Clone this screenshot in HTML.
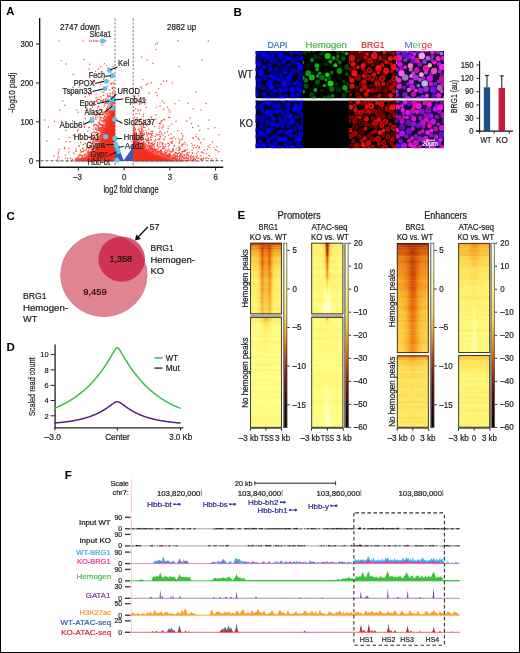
<!DOCTYPE html>
<html><head><meta charset="utf-8"><style>
html,body{margin:0;padding:0;background:#fff;}
body{width:520px;height:653px;overflow:hidden;}
svg{display:block;font-family:"Liberation Sans", sans-serif;will-change:transform;}
</style></head><body>
<svg width="520" height="653" viewBox="0 0 520 653">
<rect x="0" y="0" width="520" height="653" fill="#fff"/>
<text x="6.3" y="15.2" font-size="11.2" fill="#000" font-weight="bold">A</text>
<defs><clipPath id="cpA"><rect x="40.5" y="18" width="183" height="148.5"/></clipPath></defs>
<g clip-path="url(#cpA)">
<line x1="115" y1="18.5" x2="115" y2="166.5" stroke="#777" stroke-width="1" stroke-dasharray="2.2 1.6"/>
<line x1="133.2" y1="18.5" x2="133.2" y2="166.5" stroke="#777" stroke-width="1" stroke-dasharray="2.2 1.6"/>
<defs><filter id="fblA" x="-20%" y="-20%" width="140%" height="140%"><feGaussianBlur stdDeviation="1.6"/></filter><clipPath id="cpAL"><rect x="40" y="18" width="75.2" height="143.6"/></clipPath><clipPath id="cpAR"><rect x="133.1" y="18" width="90" height="143.6"/></clipPath></defs>
<g clip-path="url(#cpAL)"><g filter="url(#fblA)">
<path d="M77 161.5 L85 157.5 L92 152.5 L97.5 147.5 L101 140.5 L103 131.5 L105 123.5 L107.5 117.5 L110 112.5 L113 108.5 L115.6 105.5 L114.6 100 L120 100 L120 165 L70 165 Z" fill="#f52d1e"/>
</g></g>
<g clip-path="url(#cpAR)"><g filter="url(#fblA)">
<path d="M128 165 L128 128 L133.5 128 L135 139.5 L140 144.5 L148 149 L157 153 L167 156.5 L176 159.5 L183 162 L184 165 Z" fill="#f52d1e"/>
</g></g>
<path d="M98.2 126.8h0M99.8 113.2h0M81.8 155.4h0M99.5 142.3h0M79.0 160.4h0M103.5 139.0h0M90.6 155.3h0M110.7 113.1h0M109.5 117.6h0M105.7 103.2h0M99.5 120.0h0M111.0 100.6h0M83.3 158.5h0M107.2 117.5h0M105.8 100.5h0M108.4 111.9h0M100.2 117.1h0M82.8 148.8h0M110.2 112.8h0M100.9 137.6h0M86.1 155.6h0M111.9 111.3h0M104.0 120.6h0M64.5 147.1h0M99.8 114.7h0M106.1 112.5h0M105.0 121.3h0M48.5 126.9h0M102.3 124.6h0M93.5 148.1h0M96.9 149.8h0M107.2 126.9h0M103.2 124.6h0M94.2 152.4h0M113.9 100.9h0M97.8 134.0h0M76.7 159.5h0M99.4 99.5h0M105.5 121.9h0M112.6 112.3h0M58.5 152.0h0M102.2 126.9h0M103.7 140.5h0M96.8 145.8h0M100.2 124.7h0M88.5 156.1h0M111.2 102.8h0M111.7 97.3h0M109.8 106.8h0M105.8 125.2h0M86.8 158.0h0M84.1 155.7h0M54.5 121.3h0M77.4 130.4h0M102.1 127.5h0M97.9 140.4h0M95.1 141.0h0M101.3 133.2h0M89.4 152.3h0M112.0 110.9h0M106.4 119.9h0M114.0 98.6h0M91.1 152.6h0M96.8 148.0h0M104.0 137.8h0M85.9 108.3h0M104.6 133.8h0M95.6 129.0h0M93.7 140.9h0M83.2 148.2h0M111.4 99.3h0M96.5 134.4h0M101.3 117.9h0M109.0 118.7h0M96.0 150.8h0M113.5 99.3h0M105.3 103.1h0M78.5 157.9h0M96.7 130.3h0M106.5 129.1h0M112.8 112.2h0M107.8 96.3h0M95.4 137.9h0M91.1 149.4h0M114.6 95.8h0M106.8 114.0h0M110.6 118.6h0M72.9 126.7h0M82.7 158.6h0M100.2 117.9h0M92.4 152.3h0M85.7 150.3h0M85.4 118.6h0M92.8 151.4h0M93.3 103.6h0M107.2 103.4h0M90.9 155.4h0M113.2 82.8h0M78.2 155.6h0M111.0 116.4h0M104.4 125.0h0M100.6 132.0h0M112.6 108.3h0M105.1 113.2h0M100.1 144.7h0M107.7 123.1h0M100.8 143.4h0M82.5 156.2h0M72.3 159.2h0M110.0 113.0h0M111.9 106.7h0M89.2 148.5h0M107.0 115.0h0M95.9 119.2h0M105.5 76.6h0M84.6 126.3h0M101.4 142.8h0M106.0 110.7h0M105.7 128.9h0M100.1 116.7h0M108.5 110.8h0M107.4 99.9h0M104.7 132.1h0M106.7 123.2h0M107.2 116.9h0M86.3 110.4h0M93.8 126.0h0M107.6 106.8h0M93.3 149.1h0M86.5 149.3h0M96.0 127.6h0M87.0 107.7h0M92.3 151.9h0M91.1 147.4h0M86.8 146.7h0M61.3 121.2h0M99.4 123.5h0M105.3 120.4h0M101.3 137.5h0M110.8 110.0h0M103.0 131.9h0M113.9 111.0h0M109.2 100.2h0M81.9 151.5h0M77.5 159.0h0M103.9 92.2h0M96.8 101.4h0M100.3 139.3h0M66.2 141.6h0M103.8 126.2h0M101.3 130.2h0M100.6 144.1h0M64.8 105.2h0M104.3 112.6h0M104.7 111.5h0M97.6 150.2h0M102.4 125.8h0M91.0 151.9h0M68.8 152.0h0M99.7 124.8h0M93.6 121.2h0M90.4 154.2h0M98.2 125.6h0M91.6 109.6h0M95.2 146.7h0M103.0 136.1h0M103.0 117.9h0M93.0 139.3h0M107.4 114.0h0M110.6 101.8h0M74.8 161.1h0M102.6 134.4h0M84.7 155.1h0M112.2 105.1h0M110.7 112.2h0M100.7 141.9h0M98.4 106.4h0M110.5 100.1h0M59.2 149.4h0M107.2 122.3h0M80.6 152.1h0M114.2 109.7h0M102.0 137.5h0M92.2 150.3h0M101.2 117.9h0M108.7 119.1h0M77.0 159.9h0M105.2 137.9h0M87.8 154.0h0M107.2 128.4h0M99.1 138.3h0M103.9 132.7h0M110.5 96.4h0M65.8 130.4h0M107.5 123.0h0M104.6 139.6h0M89.1 155.5h0M105.7 113.8h0M96.0 144.2h0M91.9 153.1h0M83.5 144.5h0M107.1 111.2h0M95.1 149.6h0M114.0 109.7h0M110.2 93.2h0M98.1 134.0h0M107.9 115.6h0M103.8 101.1h0M105.7 116.7h0M113.8 83.8h0M99.2 114.8h0M110.6 105.2h0M88.6 151.9h0M103.8 122.3h0M92.9 146.4h0M96.0 132.6h0M98.6 128.4h0M110.6 113.1h0M95.2 132.5h0M101.6 129.4h0M111.2 107.8h0M109.4 114.0h0M80.2 158.6h0M93.8 124.9h0M109.4 115.6h0M105.5 122.1h0M74.1 153.6h0M107.4 120.4h0M103.0 112.7h0M84.9 157.5h0M82.8 157.3h0M98.6 139.0h0M98.9 129.1h0M75.8 158.2h0M82.9 151.7h0M90.3 147.3h0M100.6 139.1h0M88.5 151.7h0M93.1 141.4h0M110.8 109.7h0M101.3 124.6h0M87.4 157.1h0M106.8 131.2h0M102.5 112.8h0M104.1 137.6h0M101.3 134.9h0M104.5 138.8h0M95.2 128.1h0M104.5 133.1h0M98.1 125.3h0M100.8 137.4h0M111.1 107.4h0M110.1 105.3h0M112.5 113.0h0M73.4 135.5h0M112.0 101.5h0M113.7 90.2h0M105.8 113.1h0M90.7 152.6h0M95.7 117.5h0M102.6 121.1h0M99.2 127.5h0M91.2 94.1h0M91.9 153.6h0M94.6 103.5h0M108.8 96.0h0M70.3 158.4h0M106.1 124.7h0M114.8 108.9h0M91.0 92.4h0M98.7 122.9h0M82.3 159.7h0M102.7 121.1h0M91.2 119.0h0M73.4 153.1h0M83.9 102.9h0M75.3 159.8h0M58.6 156.7h0M101.1 100.3h0M80.6 150.2h0M95.5 150.8h0M107.1 122.1h0M101.1 130.4h0M108.5 104.8h0M93.0 122.2h0M111.8 104.1h0M88.1 152.0h0M98.9 122.2h0M103.4 129.1h0M99.8 90.0h0M102.8 124.4h0M107.6 125.4h0M94.6 104.7h0M102.1 144.4h0M92.0 139.6h0M80.7 142.2h0M57.6 158.9h0M102.0 140.1h0M99.6 142.4h0M100.5 135.5h0M108.3 101.3h0M101.7 134.2h0M100.4 131.3h0M89.4 94.8h0M105.9 121.0h0M106.4 108.7h0M111.9 114.5h0M97.2 139.3h0M105.2 120.9h0M88.3 157.0h0M106.9 121.9h0M104.5 119.4h0M107.9 123.3h0M101.6 128.9h0M70.1 141.4h0M106.2 111.6h0M94.8 132.6h0M96.8 132.3h0M87.2 152.0h0M105.4 116.7h0M93.7 132.0h0M103.8 101.8h0M107.7 110.5h0M102.5 82.2h0M113.8 102.5h0M106.5 98.5h0M100.7 128.9h0M59.3 161.1h0M108.3 116.2h0M103.4 121.6h0M102.4 140.3h0M104.9 130.5h0M103.6 139.7h0M108.3 112.5h0M111.3 97.0h0M78.6 159.8h0M110.1 83.9h0M113.1 66.5h0M89.7 64.2h0M104.9 134.7h0M103.1 130.3h0M105.8 117.8h0M103.6 129.1h0M69.3 137.5h0M99.1 130.5h0M86.3 123.2h0M98.8 133.5h0M111.8 111.2h0M112.9 101.3h0M105.8 111.9h0M79.2 160.7h0M92.5 153.2h0M104.6 128.8h0M111.1 104.5h0M108.1 97.8h0M106.2 127.8h0M92.3 148.3h0M113.6 109.7h0M102.0 132.6h0M88.9 93.5h0M93.4 81.5h0M104.1 128.9h0M78.9 159.0h0M113.9 100.8h0M107.5 81.0h0M88.6 151.2h0M100.7 127.8h0M97.5 144.8h0M58.7 139.1h0M104.7 139.0h0M97.8 134.2h0M98.0 137.2h0M107.5 101.5h0M78.0 160.4h0M107.8 108.0h0M94.5 81.7h0M99.3 148.5h0M106.7 124.0h0M90.6 151.4h0M110.7 111.8h0M104.3 120.4h0M103.1 132.0h0M108.0 119.2h0M105.6 132.0h0M106.3 126.1h0M95.2 124.2h0M90.7 137.5h0M102.7 143.6h0M89.4 155.9h0M95.2 150.0h0M114.3 95.9h0M83.5 122.2h0M107.2 113.4h0M99.0 139.8h0M101.5 133.0h0M88.7 152.3h0M101.9 124.7h0M97.7 117.6h0M82.5 158.6h0M76.4 151.2h0M46.9 140.9h0M111.3 83.1h0M109.8 111.0h0M101.5 135.0h0M111.3 105.8h0M65.2 155.1h0M98.2 130.3h0M113.4 109.7h0M109.6 111.5h0M91.6 154.7h0M103.3 135.8h0M93.6 118.7h0M83.8 150.9h0M110.9 107.5h0M101.9 130.0h0M107.5 106.4h0M104.6 104.1h0M99.8 141.9h0M106.4 127.2h0M102.8 135.7h0M98.4 127.2h0M95.4 144.8h0M67.6 158.8h0M114.2 106.8h0M102.1 132.6h0M101.5 145.4h0M112.7 106.4h0M110.6 103.2h0M94.5 80.5h0M108.7 124.3h0M99.4 136.7h0M104.8 133.8h0M112.9 100.2h0M100.9 96.7h0M101.8 144.6h0M112.8 110.8h0M94.3 151.7h0M105.7 112.9h0M94.9 124.7h0M111.5 115.8h0M107.3 118.1h0M112.4 108.6h0M113.2 101.1h0M88.3 155.2h0M104.4 141.0h0M97.7 136.2h0M108.7 123.6h0M100.7 125.1h0M76.2 148.7h0M113.1 109.3h0M108.1 121.3h0M82.0 138.0h0M87.0 86.1h0M109.0 113.2h0M102.0 134.6h0M106.5 119.2h0M96.7 143.4h0M113.2 101.0h0M88.5 152.9h0M93.0 150.9h0M76.9 110.0h0M104.5 132.6h0M107.9 126.8h0M99.4 135.7h0M89.2 153.9h0M104.6 138.7h0M101.7 131.9h0M105.9 128.0h0M102.3 137.6h0M99.3 122.3h0M87.8 152.1h0M68.9 148.8h0M109.3 112.8h0M102.5 143.1h0M102.2 142.6h0M96.3 151.7h0M80.0 155.4h0M109.1 122.6h0M86.6 156.9h0M96.7 140.7h0M103.5 117.7h0M111.8 104.4h0M102.5 141.4h0M108.1 117.9h0M103.1 125.5h0M96.8 146.4h0M100.8 145.0h0M110.0 108.7h0M103.3 99.7h0M90.3 139.9h0M105.5 135.6h0M92.2 153.7h0M96.9 111.8h0M103.4 120.1h0M79.7 154.3h0M81.1 155.2h0M71.4 160.6h0M93.0 152.3h0M79.8 160.0h0M106.0 124.2h0M87.5 144.2h0M97.0 141.7h0M71.8 161.1h0M103.6 79.2h0M99.3 143.0h0M105.0 115.6h0M110.4 116.6h0M89.0 156.5h0M98.4 133.6h0M94.5 146.0h0M96.0 148.0h0M101.7 127.0h0M100.2 136.2h0M88.8 153.9h0M111.9 107.6h0M102.3 142.4h0M112.4 104.8h0M107.9 110.1h0M96.1 124.7h0M108.0 101.7h0M82.8 148.8h0M90.2 146.2h0M102.3 127.8h0M106.0 87.8h0M103.9 117.5h0M102.1 100.4h0M96.7 100.6h0M111.5 110.6h0M102.8 127.5h0M80.6 158.9h0M94.7 152.4h0M103.9 135.2h0M89.7 153.8h0M88.9 136.9h0M79.0 156.7h0M59.7 110.2h0M91.5 93.9h0M87.7 154.4h0M97.2 126.0h0M93.3 151.1h0M86.1 155.4h0M101.3 139.4h0M103.7 114.2h0M92.6 152.1h0M95.4 139.4h0M109.6 115.9h0M82.6 159.0h0M93.2 129.3h0M99.9 140.8h0M78.2 159.4h0M108.3 67.6h0M78.3 112.2h0M85.2 143.3h0M103.2 118.1h0M90.4 118.0h0M108.3 117.6h0M107.7 95.8h0M99.0 135.9h0M97.1 128.7h0M102.5 115.1h0M102.8 101.8h0M97.7 147.9h0M103.6 129.5h0M107.5 101.8h0M89.8 155.0h0M62.8 100.7h0M93.9 153.4h0M101.9 128.8h0M109.3 113.4h0M92.6 152.2h0M98.7 137.2h0M105.9 135.3h0M87.6 144.3h0M113.2 96.8h0M89.8 146.8h0M92.4 150.0h0M111.0 112.1h0M110.9 112.0h0M104.7 121.2h0M102.7 141.7h0M98.1 137.7h0M104.3 116.9h0M96.6 100.3h0M105.7 118.4h0M101.3 136.5h0M85.8 157.6h0M108.6 122.9h0M101.8 120.9h0M93.3 143.1h0M92.3 132.6h0M102.8 142.0h0M108.4 112.6h0M112.8 93.9h0M91.4 149.9h0M111.2 100.2h0M58.3 153.8h0M100.4 129.9h0M111.2 113.9h0M109.7 115.7h0M88.9 141.8h0M78.4 130.1h0M95.3 147.8h0M85.8 158.2h0M112.8 96.5h0M93.3 148.0h0M94.7 143.0h0M101.2 140.4h0M102.5 143.4h0M112.6 102.3h0M91.4 121.7h0M103.8 135.7h0M92.8 137.6h0M95.7 104.6h0M110.1 106.1h0M44.6 120.0h0M94.1 121.0h0M104.2 133.6h0M98.8 113.5h0M77.3 157.8h0M108.8 112.5h0M104.3 141.1h0M102.1 131.1h0M89.8 153.8h0M98.7 146.3h0M94.7 142.1h0M109.7 96.4h0M81.8 158.2h0M106.1 120.1h0M97.1 128.5h0M104.3 119.1h0M100.8 120.0h0M73.2 74.5h0M91.1 145.7h0M96.2 146.6h0M96.1 147.5h0M101.7 130.5h0M88.9 127.6h0M97.7 107.9h0M106.5 119.2h0M89.1 155.5h0M103.2 141.3h0M80.2 155.3h0M113.9 106.3h0M113.5 109.2h0M82.6 158.1h0M112.7 102.9h0M98.8 133.3h0M97.7 102.1h0M82.1 157.9h0M90.5 136.8h0M82.9 158.3h0M100.6 101.2h0M99.6 129.2h0M98.5 144.1h0M101.0 133.9h0M97.3 140.6h0M111.4 116.9h0M111.8 115.9h0M108.8 100.8h0M98.2 141.4h0M94.2 113.8h0M111.2 115.3h0M106.2 113.7h0M82.1 159.1h0M109.2 103.0h0M89.4 127.2h0M100.7 129.1h0M97.9 99.5h0M93.0 122.3h0M92.9 150.5h0M87.7 130.9h0M103.3 95.2h0M84.0 150.2h0M91.2 118.2h0M100.6 137.6h0M110.6 72.6h0M75.6 151.0h0M105.7 119.2h0M77.0 159.8h0M96.3 140.4h0M113.0 103.8h0M107.9 120.8h0M108.4 100.6h0M54.0 155.7h0M107.5 93.8h0M102.6 127.8h0M106.6 122.8h0M87.3 147.4h0M114.5 103.5h0M107.5 116.6h0M94.8 146.0h0M97.3 137.7h0M105.4 136.1h0M111.0 77.8h0M85.8 153.7h0M79.0 146.2h0M72.6 121.0h0M78.3 159.9h0M109.2 115.6h0M104.1 105.8h0M111.5 115.6h0M98.3 146.1h0M80.8 158.6h0M111.3 110.6h0M95.7 115.5h0M93.1 117.1h0M103.9 128.3h0M102.2 139.8h0M111.9 100.6h0M96.4 148.5h0M112.7 92.6h0M111.8 105.2h0M104.4 132.8h0M98.6 134.3h0M88.9 148.9h0M92.4 107.2h0M78.7 160.3h0M100.5 101.0h0M98.8 144.5h0M100.4 123.9h0M105.4 99.6h0M100.0 128.3h0M110.2 113.6h0M102.4 127.1h0M104.4 126.6h0M101.8 143.9h0M98.7 145.3h0M104.6 115.8h0M89.9 155.4h0M94.1 134.8h0M114.5 93.8h0M104.3 129.0h0M103.6 141.3h0M101.7 142.6h0M88.3 150.9h0M108.4 110.6h0M96.2 97.8h0M101.6 110.4h0M112.6 88.6h0M92.6 149.9h0M113.0 113.3h0M88.4 153.8h0M114.4 96.8h0M94.6 147.0h0M111.0 109.6h0M92.9 137.9h0M65.5 157.7h0M97.1 113.2h0M102.5 135.2h0M101.2 145.2h0M102.5 144.4h0M108.6 81.3h0M91.9 143.9h0M96.6 124.9h0M103.0 125.8h0M102.6 136.0h0M96.1 140.7h0M100.8 120.0h0M97.1 147.6h0M91.9 121.2h0M108.9 108.3h0M110.2 108.3h0M106.5 109.4h0M82.8 159.7h0M112.3 113.4h0M111.0 111.7h0M107.0 125.7h0M113.8 87.5h0M91.1 104.9h0M111.9 102.3h0M99.4 128.1h0M106.3 122.0h0M109.6 95.7h0M94.2 138.5h0M95.2 138.0h0M80.8 159.7h0M101.4 129.4h0M112.1 88.0h0M95.2 149.3h0M105.2 88.7h0M92.3 142.0h0M99.0 145.8h0M109.0 113.6h0M107.4 124.6h0M107.7 117.0h0M100.5 137.9h0M104.1 111.7h0M67.9 161.2h0M107.2 129.5h0M112.2 115.3h0M113.9 108.4h0M105.7 124.5h0M79.5 145.4h0M98.6 130.0h0M110.9 100.4h0M110.8 93.7h0M105.2 76.5h0M81.5 158.0h0M113.3 87.3h0M93.5 137.7h0M96.8 115.5h0M90.6 155.3h0M103.1 127.7h0M98.3 147.0h0M100.1 143.8h0M88.0 147.9h0M98.3 136.8h0M78.8 87.0h0M110.1 113.7h0M106.3 123.7h0M97.6 133.6h0M108.2 67.9h0M113.0 105.8h0M97.3 148.7h0M105.1 138.7h0M84.3 127.2h0M84.6 154.5h0M111.7 113.5h0M83.9 158.9h0M110.5 119.3h0M96.7 134.8h0M101.9 138.8h0M64.5 148.5h0M106.1 130.9h0M91.8 149.9h0M76.2 159.9h0M105.1 99.1h0M106.0 128.0h0M102.5 144.4h0M151.2 131.3h0M169.0 154.5h0M140.2 134.7h0M159.8 132.2h0M168.1 128.5h0M186.8 120.9h0M159.9 150.8h0M139.1 133.7h0M151.4 139.4h0M156.6 152.7h0M159.8 143.9h0M172.3 151.0h0M141.4 128.4h0M217.1 146.4h0M186.9 154.3h0M214.1 147.6h0M180.4 154.8h0M150.1 149.6h0M139.7 138.9h0M203.5 158.0h0M136.3 134.1h0M186.6 153.9h0M169.8 154.6h0M143.6 114.3h0M147.4 136.0h0M143.8 145.1h0M170.5 154.3h0M208.1 128.7h0M175.8 139.0h0M140.0 145.0h0M198.4 138.3h0M155.4 136.3h0M146.4 133.9h0M173.6 156.8h0M157.4 134.8h0M153.6 149.9h0M163.1 155.5h0M179.0 159.8h0M173.9 136.9h0M170.9 151.8h0M202.4 152.2h0M147.4 146.3h0M141.6 131.0h0M151.2 146.1h0M193.3 108.7h0M155.4 150.5h0M140.1 134.2h0M156.8 151.7h0M143.7 146.8h0M134.8 121.8h0M167.0 156.4h0M181.1 156.3h0M146.8 144.8h0M167.2 150.2h0M134.4 139.3h0M134.7 120.0h0M160.7 153.9h0M206.2 103.5h0M134.1 141.1h0M145.4 145.5h0M160.2 150.9h0M175.9 153.1h0M185.7 149.9h0M134.5 127.4h0M154.1 145.9h0M140.4 132.2h0M133.9 96.4h0M151.4 143.8h0M167.1 150.6h0M151.6 143.8h0M156.2 107.1h0M133.4 134.7h0M202.3 160.3h0M136.5 138.2h0M134.0 127.1h0M145.4 146.2h0M164.7 155.1h0M153.1 149.9h0M160.2 154.0h0M145.9 119.7h0M193.6 147.8h0M152.1 149.2h0M180.0 159.1h0M135.7 108.6h0M159.5 139.6h0M173.9 158.4h0M183.0 160.0h0M137.0 100.0h0M192.1 150.2h0M203.9 138.9h0M138.2 143.3h0M186.9 158.1h0M135.7 140.4h0M168.6 117.3h0M141.7 88.3h0M147.2 140.5h0M169.2 150.4h0M163.1 125.3h0M182.1 146.0h0M162.9 153.7h0M142.6 123.8h0M137.5 140.7h0M179.9 160.5h0M138.7 135.5h0M138.8 139.7h0M154.2 147.6h0M182.0 139.5h0M141.9 136.1h0M165.6 152.5h0M146.3 124.5h0M143.4 141.5h0M160.5 123.5h0M195.6 159.2h0M157.9 134.9h0M135.3 133.6h0M153.9 144.2h0M148.6 142.9h0M140.0 131.7h0M211.0 160.1h0M184.9 158.2h0M185.2 143.9h0M169.9 156.2h0M139.1 142.2h0M168.9 155.9h0M214.8 127.7h0M135.5 130.1h0M183.9 160.4h0M171.8 123.9h0M200.2 158.8h0M151.9 150.6h0M164.7 153.2h0M192.5 160.2h0M156.1 140.1h0M173.1 151.0h0M186.7 160.8h0M148.7 129.1h0M140.8 131.6h0M190.9 157.3h0M139.0 128.3h0M144.6 144.3h0M174.4 158.9h0M201.1 152.1h0M143.3 141.0h0M142.9 133.7h0M149.1 148.3h0M177.5 156.6h0M146.9 140.8h0M154.1 149.6h0M142.2 136.9h0M160.0 153.3h0M161.0 151.7h0M162.4 154.5h0M152.6 143.0h0M185.3 160.9h0M157.8 146.4h0M155.8 151.4h0M137.3 139.1h0M155.0 141.6h0M174.3 155.0h0M208.6 158.6h0M163.0 135.2h0M166.8 152.4h0M151.5 143.2h0M191.6 143.6h0M139.7 138.8h0M155.9 152.0h0M179.6 148.0h0M155.3 149.1h0M184.9 159.0h0M168.7 156.8h0M142.1 142.8h0M158.0 148.7h0M161.0 84.3h0M169.6 153.2h0M178.2 150.4h0M181.5 158.7h0M193.3 159.0h0M159.7 146.8h0M148.5 140.4h0M199.2 147.9h0M182.4 156.9h0M159.1 128.2h0M140.6 143.0h0M138.5 142.3h0M139.4 136.0h0M194.1 159.2h0M160.1 141.9h0M211.6 158.6h0M175.2 155.3h0M143.5 135.6h0M162.1 100.9h0M151.5 116.9h0M135.9 140.1h0M215.4 149.8h0M146.3 140.0h0M145.3 143.8h0M188.6 157.1h0M135.4 123.7h0M168.3 157.2h0M177.7 130.8h0M165.4 155.8h0M165.9 152.5h0M175.1 153.2h0M149.3 93.2h0M141.1 126.5h0M148.4 133.2h0M172.2 137.9h0M162.6 148.5h0M182.9 135.6h0M170.0 117.5h0M160.0 138.2h0M167.8 143.2h0M201.8 159.0h0M193.1 138.6h0M146.3 107.4h0M146.5 149.0h0M213.3 160.3h0M180.6 156.0h0M151.4 148.4h0M166.1 156.1h0M181.3 145.6h0M183.3 158.2h0M156.3 134.5h0M142.6 139.6h0M163.5 153.9h0M165.4 136.9h0M160.2 153.8h0M149.7 145.8h0M163.8 119.2h0M176.2 156.9h0M179.5 143.0h0M150.4 121.8h0M171.7 158.3h0M135.7 133.2h0M153.4 149.1h0M149.1 143.8h0M171.6 157.8h0M141.0 86.9h0M182.7 157.0h0M136.9 140.1h0M136.2 136.1h0M154.3 126.6h0M136.0 132.6h0M161.7 133.5h0M179.0 138.8h0M203.7 152.9h0M177.3 156.6h0M193.8 157.6h0M152.7 144.5h0M172.8 158.1h0M151.8 137.3h0M138.7 137.6h0M145.0 147.5h0M179.3 158.4h0M140.7 109.9h0M184.9 151.6h0M161.3 150.5h0M178.7 153.1h0M134.0 131.6h0M182.0 151.5h0M136.4 136.5h0M183.6 151.2h0M138.1 110.7h0M172.4 157.4h0M134.3 133.4h0M145.5 147.2h0M177.4 158.3h0M159.8 134.5h0M206.8 157.7h0M134.6 135.1h0M169.9 156.7h0M165.6 149.7h0M136.8 142.6h0M135.2 139.3h0M182.2 144.3h0M192.4 145.3h0M212.6 141.9h0M184.8 155.0h0M151.0 143.3h0M211.2 160.8h0M165.6 155.9h0M160.7 150.3h0M133.5 130.5h0M144.5 127.5h0M144.9 144.6h0M158.0 150.9h0M194.3 160.1h0M139.4 143.1h0M154.5 150.4h0M172.2 141.6h0M136.5 142.6h0M196.5 157.6h0M182.4 155.7h0M143.3 116.5h0M133.5 138.7h0M137.3 135.6h0M192.9 137.7h0M134.0 123.1h0M152.4 146.9h0M177.1 159.3h0M153.1 148.7h0M136.7 137.1h0M188.6 158.2h0M187.5 152.8h0M157.6 145.4h0M170.2 156.1h0M136.5 134.4h0M175.4 155.9h0M166.1 155.4h0M198.5 157.9h0M170.7 156.1h0M172.3 141.1h0M146.0 130.1h0M135.5 135.0h0M150.9 145.8h0M173.8 154.5h0M193.4 156.2h0M191.0 158.5h0M156.0 119.0h0M144.3 134.7h0M171.9 151.9h0M168.8 154.6h0M200.9 155.7h0M143.5 145.2h0M200.7 142.7h0M139.6 102.8h0M167.6 107.2h0M168.5 145.9h0M150.4 133.7h0M137.6 139.9h0M177.5 153.7h0M209.6 147.6h0M152.0 147.6h0M134.9 129.7h0M160.2 136.2h0M135.5 124.0h0M163.6 147.0h0M156.9 146.1h0M143.4 125.8h0M156.6 149.5h0M135.4 139.4h0M183.2 144.0h0M148.6 143.8h0M150.7 147.4h0M206.6 153.4h0M161.7 127.9h0M143.9 147.8h0M152.3 151.6h0M144.3 133.6h0M181.6 133.8h0M171.7 155.7h0M165.5 146.2h0M142.0 139.4h0M143.4 143.4h0M164.2 103.0h0M143.7 143.7h0M151.8 145.8h0M136.1 101.4h0M168.9 154.5h0M143.4 146.1h0M187.3 155.8h0M180.9 153.9h0M204.6 150.0h0M161.1 151.5h0M188.7 155.0h0M133.8 139.9h0M140.8 143.6h0M137.9 109.7h0M168.4 135.1h0M207.5 149.2h0M181.9 156.0h0M163.3 148.5h0M150.4 147.0h0M142.2 131.2h0M136.7 142.4h0M153.5 145.1h0M187.8 160.6h0M145.3 139.4h0M139.3 130.2h0M175.7 158.0h0M178.9 156.4h0M138.2 139.2h0M194.0 159.8h0M190.2 156.8h0M176.0 152.8h0M135.8 141.1h0M192.1 160.7h0M159.9 151.7h0M136.5 120.0h0M173.6 157.8h0M148.4 142.5h0M144.2 124.1h0M164.8 132.8h0M194.8 159.3h0M186.1 158.0h0M148.1 145.4h0M135.9 143.4h0M178.9 147.2h0M179.3 147.2h0M177.3 155.4h0M192.9 160.4h0M176.1 158.9h0M135.2 129.2h0M216.6 160.1h0M158.0 151.3h0M135.7 139.4h0M145.0 104.0h0M158.0 139.0h0M186.2 157.7h0M133.8 128.0h0M171.1 141.9h0M148.8 138.4h0M135.2 128.6h0M140.5 125.0h0M153.1 135.8h0M187.7 149.6h0M160.2 146.4h0M157.4 151.6h0M166.4 153.0h0M158.0 150.9h0M186.8 156.6h0M179.2 142.2h0M154.2 148.6h0M142.2 129.0h0M148.8 121.9h0M178.7 148.0h0M156.1 151.6h0M134.8 102.9h0M165.4 155.0h0M133.8 130.7h0M151.1 147.0h0M164.7 148.0h0M169.2 157.2h0M189.3 152.3h0M165.5 144.1h0M190.1 156.5h0M161.5 153.7h0M196.7 153.4h0M179.7 155.5h0M139.0 142.7h0M163.4 138.9h0M168.2 154.4h0M154.4 143.8h0M193.2 160.0h0M175.6 158.1h0M133.9 110.4h0M173.6 158.0h0M140.4 133.6h0M138.5 138.5h0M138.1 129.4h0M134.2 141.2h0M150.9 147.5h0M181.0 157.0h0M138.2 142.6h0M151.0 117.3h0M164.6 154.3h0M201.1 159.3h0M159.3 139.7h0M176.5 159.6h0M137.1 117.9h0M165.8 156.4h0M180.0 140.4h0M152.7 131.3h0M161.5 120.3h0M147.7 134.6h0M165.5 154.1h0M149.6 120.5h0M162.7 146.2h0M165.2 152.2h0M135.4 92.6h0M147.0 125.8h0M143.5 141.5h0M137.8 120.1h0M142.0 103.4h0M192.3 157.1h0M162.2 120.7h0M141.8 143.8h0M134.6 133.6h0M150.3 145.1h0M136.7 124.3h0M149.7 146.3h0M153.3 149.7h0M184.7 150.2h0M197.5 155.7h0M164.5 153.0h0M135.1 138.0h0M151.9 148.3h0M140.8 140.8h0M171.5 138.6h0M138.5 139.2h0M146.5 132.4h0M147.8 146.6h0M139.7 131.5h0M134.8 95.9h0M164.7 119.7h0M141.1 133.9h0M135.0 124.9h0M184.9 142.1h0M198.3 125.9h0M169.4 155.1h0M151.9 147.5h0M197.6 145.9h0M134.5 137.2h0M151.1 148.9h0M168.5 154.2h0M189.3 160.4h0M145.4 146.7h0M143.5 142.7h0M193.5 159.9h0M218.7 151.8h0M169.2 151.5h0M150.1 147.9h0M155.8 152.1h0M143.7 147.3h0M186.2 160.3h0M143.6 120.0h0M159.8 126.1h0M158.5 148.2h0M133.5 130.1h0M134.9 135.9h0M139.5 104.3h0M177.3 154.2h0M182.7 152.0h0M133.7 133.1h0M158.7 151.8h0M148.0 83.7h0M195.2 158.9h0M154.8 143.6h0M141.4 140.6h0M142.0 146.6h0M168.7 154.4h0M174.1 146.5h0M135.6 138.0h0M146.2 84.4h0M151.6 135.3h0M208.1 146.2h0M180.1 159.9h0M171.2 134.0h0M156.1 149.8h0M149.0 149.0h0M167.4 156.6h0M135.4 141.9h0M142.9 147.2h0M196.2 147.5h0M137.7 140.0h0M149.4 133.7h0M152.2 148.7h0M187.5 154.1h0M169.6 144.6h0M182.1 153.5h0M205.6 158.5h0M144.4 145.7h0M135.3 132.6h0M156.1 150.5h0M187.6 158.5h0M177.2 153.5h0M216.2 158.6h0M140.1 144.0h0M134.1 136.8h0M133.7 135.4h0M169.9 156.4h0M173.6 150.5h0M148.7 146.4h0M138.9 143.2h0M184.1 157.7h0M162.0 151.9h0M176.2 149.0h0M137.9 142.0h0M182.2 138.4h0M134.2 125.6h0M138.9 139.9h0M179.9 157.4h0M193.8 159.1h0M151.6 133.8h0M148.1 146.7h0M141.4 130.1h0M175.1 157.4h0M171.5 143.6h0M150.6 137.3h0M167.5 131.4h0M157.1 153.1h0M182.7 144.2h0M134.2 134.7h0M199.0 161.1h0M163.1 143.3h0M167.1 155.4h0M172.6 157.1h0M134.5 140.6h0M174.5 157.4h0M138.7 142.4h0M208.9 155.5h0M155.5 139.2h0M139.2 113.8h0M141.0 144.3h0M134.6 117.3h0M145.8 146.3h0M140.8 138.5h0M179.3 160.7h0M148.5 148.9h0M143.3 144.7h0M144.6 122.3h0M173.4 157.7h0M150.3 139.9h0M168.6 143.5h0M199.5 146.7h0M141.1 137.4h0M161.6 133.2h0M203.1 159.1h0M182.7 156.3h0M179.7 152.5h0M185.1 150.9h0M175.5 152.3h0M181.1 156.2h0M168.9 110.0h0M195.9 134.6h0M158.1 152.0h0M161.0 121.9h0M192.7 127.5h0M154.4 141.3h0M169.3 126.1h0M143.1 145.1h0M172.5 149.5h0M163.5 109.3h0M141.1 144.4h0M167.4 155.0h0M187.4 145.1h0M175.6 155.4h0M164.0 153.8h0M136.2 142.2h0M160.2 152.2h0M142.3 124.2h0M184.0 155.1h0M135.0 133.9h0M180.3 154.1h0M159.2 123.4h0M140.5 137.5h0M181.9 160.2h0M164.9 154.0h0M175.8 159.3h0M133.5 128.4h0M157.7 142.7h0M162.0 153.4h0M151.1 143.0h0M135.0 129.8h0M135.6 137.6h0M157.6 144.5h0M161.3 153.3h0M180.2 149.3h0M136.7 142.3h0M156.2 114.9h0M169.2 154.5h0M139.1 141.9h0M136.2 113.8h0M164.4 151.1h0M141.7 132.7h0M174.4 158.6h0M160.6 136.4h0M142.6 134.6h0M164.5 154.0h0M158.9 152.2h0M167.4 156.8h0M172.3 143.0h0M160.1 131.1h0M134.7 122.6h0M181.8 153.9h0M170.1 138.6h0M209.3 155.8h0M145.9 138.1h0M152.2 150.7h0M196.1 136.8h0M141.9 134.1h0M167.4 156.1h0M157.3 152.2h0M152.7 149.3h0M167.8 155.5h0M174.4 145.4h0M175.9 159.2h0M140.8 119.5h0M199.7 130.2h0M188.2 159.8h0M144.1 147.2h0M142.2 127.1h0M151.0 146.7h0M192.3 153.2h0M152.7 144.7h0M162.4 143.7h0M143.3 126.9h0M167.2 151.2h0M159.4 151.9h0M155.3 149.3h0M175.9 155.9h0M179.3 150.2h0M139.1 142.5h0M140.4 143.7h0M142.8 133.2h0M177.7 153.4h0M191.4 123.5h0M153.4 151.8h0M209.9 144.8h0M149.9 146.3h0M143.3 138.5h0M192.4 152.7h0M180.5 160.9h0M146.8 141.7h0M148.9 141.6h0M188.3 158.4h0M139.3 120.7h0M173.2 148.7h0M142.6 143.0h0M139.8 137.8h0M136.6 143.2h0M163.1 127.0h0M197.8 158.6h0M142.8 99.8h0M148.4 138.3h0M159.2 151.6h0M162.7 144.7h0M136.2 140.2h0M138.8 135.6h0M184.8 155.7h0M162.0 143.0h0M165.7 154.7h0M190.6 159.5h0M162.4 154.5h0M198.1 151.8h0M161.2 149.8h0M133.4 138.1h0M217.0 150.6h0M149.2 142.5h0M142.0 102.1h0M147.7 139.4h0M138.4 144.8h0M199.2 139.8h0M140.4 131.6h0M149.7 147.0h0M143.7 130.8h0M191.2 155.4h0M170.0 156.6h0M176.1 121.2h0M168.6 148.9h0M140.3 118.9h0M140.0 139.9h0M195.3 161.1h0M151.4 139.7h0M194.7 145.3h0M135.3 133.4h0M181.8 160.6h0M142.6 143.7h0M182.9 136.6h0M196.1 156.4h0M175.5 157.3h0M156.8 149.5h0M173.2 154.8h0M164.6 139.6h0M144.4 141.9h0M136.0 102.7h0M138.8 142.5h0M157.3 151.7h0M170.3 155.8h0M218.9 134.8h0M168.2 157.1h0M152.4 133.3h0M59.0 41.0h0M83.1 41.0h0M89.7 41.0h0M91.5 41.0h0M93.5 41.0h0M95.0 41.0h0M96.5 41.0h0M98.0 41.0h0M105.8 41.0h0M102.1 44.9h0M61.2 60.6h0M83.9 59.5h0M66.0 63.9h0M104.3 63.6h0M106.5 65.6h0M89.0 69.0h0M98.5 69.0h0M100.7 66.8h0M95.6 71.2h0M72.9 87.3h0M90.4 88.0h0M100.7 84.3h0M108.0 86.0h0M110.0 90.0h0M111.5 84.0h0M113.0 92.0h0M102.0 92.0h0M96.0 94.0h0M85.0 97.0h0M178.0 40.8h0M208.3 41.0h0M155.8 44.2h0M157.5 43.0h0M156.2 49.6h0M141.7 56.9h0M147.3 59.8h0M202.3 60.2h0M153.0 63.5h0M179.2 66.5h0M143.0 79.6h0M151.3 82.7h0M163.5 81.0h0M166.5 81.0h0M172.3 82.7h0M158.6 88.5h0M156.3 92.5h0M157.3 95.8h0M179.4 100.6h0M188.0 103.3h0M175.0 103.8h0M196.0 92.0h0M201.0 110.0h0M209.0 120.0h0M190.0 118.0h0M170.0 112.0h0M160.0 106.0h0M146.0 100.0h0M138.0 96.0h0" stroke="#f52d1e" stroke-width="1.45" stroke-linecap="round" fill="none" opacity="0.85"/>
<path d="M115 161 L115 149 L117.5 150 L120.3 152 L123.7 160.2 L128 154.2 L132 148.4 L133.2 140 L133.2 161 Z" fill="#3d55c0"/>
<path d="M117.2 146.7h0M115.4 152.9h0M131.0 151.1h0M116.4 151.3h0M116.4 151.3h0M116.9 152.2h0M115.9 148.4h0M117.1 152.7h0M131.8 146.6h0M115.8 148.4h0M116.1 144.9h0M132.9 149.6h0M132.2 145.5h0M132.9 146.2h0M116.0 147.0h0M116.7 147.4h0M116.6 151.7h0M116.2 140.3h0M131.2 141.4h0M115.8 145.2h0M116.5 150.6h0M116.3 149.6h0M115.7 142.4h0M131.8 148.4h0M116.3 151.0h0" stroke="#3d55c0" stroke-width="1.2" stroke-linecap="round" fill="none"/>
<line x1="40.5" y1="160.8" x2="223" y2="160.8" stroke="#555" stroke-width="1" stroke-dasharray="3 2"/>
</g>
<line x1="39.65" y1="18" x2="39.65" y2="167.9" stroke="#111" stroke-width="1.35"/>
<line x1="39" y1="167.25" x2="223.3" y2="167.25" stroke="#111" stroke-width="1.35"/>
<line x1="36" y1="44.01" x2="39.6" y2="44.01" stroke="#222" stroke-width="1"/>
<text x="33.4" y="46.91" font-size="9.2" fill="#222" text-anchor="end" textLength="12.99" lengthAdjust="spacingAndGlyphs" stroke="#222" stroke-width="0.22">300</text>
<line x1="36" y1="82.94" x2="39.6" y2="82.94" stroke="#222" stroke-width="1"/>
<text x="33.4" y="85.84" font-size="9.2" fill="#222" text-anchor="end" textLength="12.99" lengthAdjust="spacingAndGlyphs" stroke="#222" stroke-width="0.22">200</text>
<line x1="36" y1="121.87" x2="39.6" y2="121.87" stroke="#222" stroke-width="1"/>
<text x="33.4" y="124.77" font-size="9.2" fill="#222" text-anchor="end" textLength="12.99" lengthAdjust="spacingAndGlyphs" stroke="#222" stroke-width="0.22">100</text>
<line x1="36" y1="160.8" x2="39.6" y2="160.8" stroke="#222" stroke-width="1"/>
<text x="33.4" y="163.7" font-size="9.2" fill="#222" text-anchor="end" textLength="4.33" lengthAdjust="spacingAndGlyphs" stroke="#222" stroke-width="0.22">0</text>
<line x1="78.35" y1="167.2" x2="78.35" y2="170.5" stroke="#222" stroke-width="1"/>
<text x="77.75" y="179.8" font-size="8.6" fill="#222" text-anchor="middle" textLength="8.4" lengthAdjust="spacingAndGlyphs" stroke="#222" stroke-width="0.22">–3</text>
<line x1="124.1" y1="167.2" x2="124.1" y2="170.5" stroke="#222" stroke-width="1"/>
<text x="124.1" y="179.8" font-size="8.6" fill="#222" text-anchor="middle" textLength="4.4" lengthAdjust="spacingAndGlyphs" stroke="#222" stroke-width="0.22">0</text>
<line x1="169.85" y1="167.2" x2="169.85" y2="170.5" stroke="#222" stroke-width="1"/>
<text x="169.85" y="179.8" font-size="8.6" fill="#222" text-anchor="middle" textLength="4.4" lengthAdjust="spacingAndGlyphs" stroke="#222" stroke-width="0.22">3</text>
<line x1="215.6" y1="167.2" x2="215.6" y2="170.5" stroke="#222" stroke-width="1"/>
<text x="215.6" y="179.8" font-size="8.6" fill="#222" text-anchor="middle" textLength="4.4" lengthAdjust="spacingAndGlyphs" stroke="#222" stroke-width="0.22">6</text>
<text x="103.4" y="193.1" font-size="10" fill="#222" textLength="55.3" lengthAdjust="spacingAndGlyphs" stroke="#222" stroke-width="0.22">log2 fold change</text>
<text x="14.6" y="92.7" font-size="9.6" fill="#222" text-anchor="middle" textLength="40" lengthAdjust="spacingAndGlyphs" transform="rotate(-90 14.6 92.7)" stroke="#222" stroke-width="0.22">-log10 padj</text>
<text x="60" y="29.6" font-size="9" fill="#222" textLength="39.7" lengthAdjust="spacingAndGlyphs" stroke="#222" stroke-width="0.22">2747 down</text>
<text x="167" y="29.5" font-size="9" fill="#222" textLength="29.2" lengthAdjust="spacingAndGlyphs" stroke="#222" stroke-width="0.22">2882 up</text>
<circle cx="102.5" cy="41" r="2.55" fill="#5bc8e8"/>
<circle cx="109.5" cy="70.3" r="2.55" fill="#5bc8e8"/>
<circle cx="112.5" cy="75.6" r="2.55" fill="#5bc8e8"/>
<circle cx="106.3" cy="81.3" r="2.55" fill="#5bc8e8"/>
<circle cx="105" cy="88.5" r="2.55" fill="#5bc8e8"/>
<circle cx="108.3" cy="101.8" r="2.55" fill="#5bc8e8"/>
<circle cx="113.3" cy="99.6" r="2.55" fill="#5bc8e8"/>
<circle cx="112.3" cy="98.4" r="2.55" fill="#5bc8e8"/>
<circle cx="112.3" cy="107.9" r="2.55" fill="#5bc8e8"/>
<circle cx="91.9" cy="120.8" r="2.55" fill="#5bc8e8"/>
<circle cx="114.75" cy="119.2" r="2.55" fill="#5bc8e8"/>
<circle cx="105.6" cy="136.7" r="2.55" fill="#5bc8e8"/>
<circle cx="115" cy="138.3" r="2.55" fill="#5bc8e8"/>
<circle cx="115.6" cy="144.4" r="2.55" fill="#5bc8e8"/>
<circle cx="117.5" cy="147.5" r="2.55" fill="#5bc8e8"/>
<circle cx="118.1" cy="151.2" r="2.55" fill="#5bc8e8"/>
<circle cx="116.9" cy="160" r="2.55" fill="#5bc8e8"/>
<line x1="117.5" y1="66.9" x2="110.5" y2="69.8" stroke="#111" stroke-width="1.05"/>
<line x1="105.5" y1="76.3" x2="111" y2="75.8" stroke="#111" stroke-width="1.05"/>
<line x1="95" y1="83.6" x2="104" y2="81.2" stroke="#111" stroke-width="1.05"/>
<line x1="92.5" y1="91.6" x2="103" y2="89" stroke="#111" stroke-width="1.05"/>
<line x1="97.3" y1="103.6" x2="109.4" y2="101" stroke="#111" stroke-width="1.05"/>
<line x1="116.3" y1="93.8" x2="110.9" y2="99.5" stroke="#111" stroke-width="1.05"/>
<line x1="123.3" y1="99" x2="114" y2="100.1" stroke="#111" stroke-width="1.05"/>
<line x1="105.4" y1="111.7" x2="112.3" y2="106.2" stroke="#111" stroke-width="1.05"/>
<line x1="83" y1="124.6" x2="90.2" y2="121.4" stroke="#111" stroke-width="1.05"/>
<line x1="122.5" y1="123.2" x2="116.5" y2="120.3" stroke="#111" stroke-width="1.05"/>
<line x1="121.9" y1="138.5" x2="116.5" y2="138.4" stroke="#111" stroke-width="1.05"/>
<line x1="106" y1="144.6" x2="114" y2="144.6" stroke="#111" stroke-width="1.05"/>
<line x1="123.8" y1="146.4" x2="118.5" y2="147.2" stroke="#111" stroke-width="1.05"/>
<line x1="109" y1="155.6" x2="116.8" y2="151.8" stroke="#111" stroke-width="1.05"/>
<text x="89.75" y="37.3" font-size="9" fill="#222" textLength="21.5" lengthAdjust="spacingAndGlyphs" stroke="#222" stroke-width="0.22">Slc4a1</text>
<text x="118" y="65.6" font-size="9" fill="#222" textLength="11.2" lengthAdjust="spacingAndGlyphs" stroke="#222" stroke-width="0.22">Kel</text>
<text x="88.75" y="77.5" font-size="9" fill="#222" textLength="16.2" lengthAdjust="spacingAndGlyphs" stroke="#222" stroke-width="0.22">Fech</text>
<text x="73.75" y="86" font-size="9" fill="#222" textLength="21" lengthAdjust="spacingAndGlyphs" stroke="#222" stroke-width="0.22">PPOX</text>
<text x="62.5" y="94.4" font-size="9" fill="#222" textLength="29.4" lengthAdjust="spacingAndGlyphs" stroke="#222" stroke-width="0.22">Tspan33</text>
<text x="117.5" y="93.75" font-size="9" fill="#222" textLength="22.5" lengthAdjust="spacingAndGlyphs" stroke="#222" stroke-width="0.22">UROD</text>
<text x="79.4" y="106.2" font-size="9" fill="#222" textLength="16.2" lengthAdjust="spacingAndGlyphs" stroke="#222" stroke-width="0.22">Epor</text>
<text x="124.75" y="103.1" font-size="9" fill="#222" textLength="21.5" lengthAdjust="spacingAndGlyphs" stroke="#222" stroke-width="0.22">Epb41</text>
<text x="84.4" y="115.25" font-size="9" fill="#222" textLength="18.6" lengthAdjust="spacingAndGlyphs" stroke="#222" stroke-width="0.22">Alas2</text>
<text x="59.5" y="128" font-size="9" fill="#222" textLength="23.1" lengthAdjust="spacingAndGlyphs" stroke="#222" stroke-width="0.22">Abcb6</text>
<text x="123.75" y="124.75" font-size="9" fill="#222" textLength="31.2" lengthAdjust="spacingAndGlyphs" stroke="#222" stroke-width="0.22">Slc25a37</text>
<text x="73.7" y="139.6" font-size="9" fill="#222" textLength="25.8" lengthAdjust="spacingAndGlyphs" stroke="#222" stroke-width="0.22">Hbb-b1</text>
<text x="123.75" y="140" font-size="9" fill="#222" textLength="20" lengthAdjust="spacingAndGlyphs" stroke="#222" stroke-width="0.22">Hmbs</text>
<text x="86.25" y="147.5" font-size="9" fill="#222" textLength="18.8" lengthAdjust="spacingAndGlyphs" stroke="#222" stroke-width="0.22">Gypa</text>
<text x="124.75" y="149.4" font-size="9" fill="#222" textLength="19" lengthAdjust="spacingAndGlyphs" stroke="#222" stroke-width="0.22">Add2</text>
<text x="90.6" y="156.9" font-size="9" fill="#222" textLength="17.4" lengthAdjust="spacingAndGlyphs" stroke="#222" stroke-width="0.22">Gypc</text>
<text x="87.5" y="164.8" font-size="9" fill="#222" textLength="22.5" lengthAdjust="spacingAndGlyphs" stroke="#222" stroke-width="0.22">Hbb-bt</text>
<text x="233.4" y="16" font-size="11.6" fill="#000" font-weight="bold">B</text>
<text x="267.5" y="47.7" font-size="9.4" fill="#3a72b0" textLength="20" lengthAdjust="spacingAndGlyphs" stroke="#3a72b0" stroke-width="0.22">DAPI</text>
<text x="305.6" y="47.7" font-size="9.4" fill="#4db34d" textLength="41.3" lengthAdjust="spacingAndGlyphs" stroke="#4db34d" stroke-width="0.22">Hemogen</text>
<text x="361.3" y="47.7" font-size="9.4" fill="#d8283c" textLength="23.2" lengthAdjust="spacingAndGlyphs" stroke="#d8283c" stroke-width="0.22">BRG1</text>
<text x="404.4" y="47.7" font-size="9.4" textLength="28" lengthAdjust="spacingAndGlyphs"><tspan fill="#3a72b0">M</tspan><tspan fill="#4db34d">er</tspan><tspan fill="#d8283c">ge</tspan></text>
<text x="252.8" y="77.6" font-size="10.6" fill="#222" text-anchor="end" textLength="14.7" lengthAdjust="spacingAndGlyphs" stroke="#222" stroke-width="0.22">WT</text>
<text x="252.8" y="127" font-size="10" fill="#222" text-anchor="end" textLength="13.3" lengthAdjust="spacingAndGlyphs" stroke="#222" stroke-width="0.22">KO</text>
<defs>
<clipPath id="cb00"><rect x="255.5" y="51.0" width="47.5" height="47.6"/></clipPath>
<clipPath id="cb01"><rect x="303.0" y="51.0" width="46.0" height="47.6"/></clipPath>
<clipPath id="cb02"><rect x="349.0" y="51.0" width="47.0" height="47.6"/></clipPath>
<clipPath id="cb03"><rect x="396.0" y="51.0" width="48.0" height="47.6"/></clipPath>
<clipPath id="cb10"><rect x="255.5" y="100.3" width="47.5" height="47.9"/></clipPath>
<clipPath id="cb11"><rect x="303.0" y="100.3" width="46.0" height="47.9"/></clipPath>
<clipPath id="cb12"><rect x="349.0" y="100.3" width="47.0" height="47.9"/></clipPath>
<clipPath id="cb13"><rect x="396.0" y="100.3" width="48.0" height="47.9"/></clipPath>
<radialGradient id="gcell"><stop offset="0" stop-color="#fff" stop-opacity="0.0"/><stop offset="1" stop-color="#000" stop-opacity="0.25"/></radialGradient>
<filter id="fsoft" x="-5%" y="-5%" width="110%" height="110%"><feGaussianBlur stdDeviation="0.45"/></filter>
</defs>
<g clip-path="url(#cb00)">
<rect x="255.5" y="51" width="47.5" height="47.6" fill="#02021f"/>
<g filter="url(#fsoft)">
<circle cx="279.21" cy="79.83" r="1.99" fill="rgb(0,0,212)"/>
<circle cx="300.45" cy="53.49" r="2.02" fill="rgb(0,0,193)"/>
<circle cx="285.28" cy="68.3" r="3.22" fill="rgb(0,0,147)"/>
<circle cx="268.13" cy="56.84" r="2.79" fill="rgb(0,0,200)"/>
<circle cx="279.86" cy="90.51" r="2.81" fill="rgb(0,0,220)"/>
<circle cx="264.62" cy="77.47" r="3.27" fill="rgb(0,0,179)"/>
<circle cx="283.78" cy="61.67" r="2.33" fill="rgb(0,0,200)"/>
<circle cx="260.87" cy="73.17" r="3.1" fill="rgb(0,0,228)"/>
<circle cx="298.85" cy="71.33" r="1.92" fill="rgb(0,0,217)"/>
<circle cx="264.51" cy="94.71" r="2.81" fill="rgb(0,0,163)"/>
<circle cx="264.44" cy="67.15" r="1.85" fill="rgb(0,0,249)"/>
<circle cx="262.41" cy="99.42" r="1.83" fill="rgb(0,0,242)"/>
<circle cx="257.21" cy="51.69" r="2.84" fill="rgb(0,0,244)"/>
<circle cx="269.78" cy="65.74" r="2.68" fill="rgb(0,0,162)"/>
<circle cx="255.72" cy="91.62" r="2.06" fill="rgb(0,0,208)"/>
<circle cx="291.09" cy="59.7" r="1.99" fill="rgb(0,0,176)"/>
<circle cx="263.91" cy="54.61" r="3.01" fill="rgb(0,0,248)"/>
<circle cx="290.49" cy="74.46" r="2.24" fill="rgb(0,0,208)"/>
<circle cx="301.08" cy="66.9" r="3.27" fill="rgb(0,0,246)"/>
<circle cx="291.45" cy="51.98" r="2.27" fill="rgb(0,0,216)"/>
<circle cx="293.16" cy="96" r="2.84" fill="rgb(0,0,186)"/>
<circle cx="298.79" cy="87.66" r="2.98" fill="rgb(0,0,192)"/>
<circle cx="297.58" cy="81.56" r="1.89" fill="rgb(0,0,221)"/>
<circle cx="258.39" cy="80.3" r="2.55" fill="rgb(0,0,201)"/>
<circle cx="270.58" cy="81.92" r="2.76" fill="rgb(0,0,237)"/>
<circle cx="270.1" cy="69.61" r="2" fill="rgb(0,0,199)"/>
<circle cx="294.42" cy="83.9" r="1.9" fill="rgb(0,0,203)"/>
<circle cx="293.59" cy="62.36" r="2.2" fill="rgb(0,0,185)"/>
<circle cx="279.14" cy="64.18" r="2.39" fill="rgb(0,0,161)"/>
<circle cx="275.05" cy="77.44" r="3" fill="rgb(0,0,227)"/>
<circle cx="267.25" cy="98.58" r="2.58" fill="rgb(0,0,166)"/>
<circle cx="281.68" cy="51.42" r="2.29" fill="rgb(0,0,188)"/>
<circle cx="271.33" cy="87.19" r="2.77" fill="rgb(0,0,250)"/>
<circle cx="285.16" cy="72.56" r="1.94" fill="rgb(0,0,247)"/>
<circle cx="280.65" cy="74.77" r="2.42" fill="rgb(0,0,201)"/>
<circle cx="297.17" cy="58.49" r="2.57" fill="rgb(0,0,179)"/>
<circle cx="277.26" cy="98.33" r="1.9" fill="rgb(0,0,218)"/>
<circle cx="281.03" cy="55.96" r="3.29" fill="rgb(0,0,226)"/>
<circle cx="276.09" cy="70.11" r="2.95" fill="rgb(0,0,172)"/>
<circle cx="258.44" cy="57.89" r="3.26" fill="rgb(0,0,149)"/>
<circle cx="297.81" cy="95.38" r="2.48" fill="rgb(0,0,204)"/>
<circle cx="283.9" cy="83.4" r="3.25" fill="rgb(0,0,232)"/>
<circle cx="302.4" cy="58.24" r="2.47" fill="rgb(0,0,220)"/>
<circle cx="300.9" cy="74.24" r="2.04" fill="rgb(0,0,163)"/>
<circle cx="256.1" cy="69.41" r="1.99" fill="rgb(0,0,251)"/>
<circle cx="277.59" cy="85.61" r="1.84" fill="rgb(0,0,173)"/>
<circle cx="287.1" cy="58.08" r="2.35" fill="rgb(0,0,251)"/>
<circle cx="260.82" cy="68.59" r="1.9" fill="rgb(0,0,188)"/>
<circle cx="276.38" cy="60.67" r="2.78" fill="rgb(0,0,149)"/>
<circle cx="290.25" cy="83.88" r="2.17" fill="rgb(0,0,151)"/>
<circle cx="266.74" cy="51.05" r="1.85" fill="rgb(0,0,173)"/>
<circle cx="263.45" cy="87.59" r="2.07" fill="rgb(0,0,190)"/>
<circle cx="293.1" cy="70.89" r="3.14" fill="rgb(0,0,167)"/>
<circle cx="288.93" cy="78.59" r="3.14" fill="rgb(0,0,225)"/>
<circle cx="281.9" cy="97.7" r="3.05" fill="rgb(0,0,241)"/>
<circle cx="272.93" cy="94.18" r="2.56" fill="rgb(0,0,152)"/>
<circle cx="261.96" cy="50.92" r="1.97" fill="rgb(0,0,199)"/>
<circle cx="259.33" cy="64.16" r="2.6" fill="rgb(0,0,225)"/>
<circle cx="286.13" cy="95.71" r="1.86" fill="rgb(0,0,193)"/>
<circle cx="301.76" cy="84.05" r="2.63" fill="rgb(0,0,140)"/>
<circle cx="254.84" cy="77.85" r="2.5" fill="rgb(0,0,174)"/>
<circle cx="267.1" cy="84.01" r="1.93" fill="rgb(0,0,185)"/>
<circle cx="282.5" cy="78.04" r="2.09" fill="rgb(0,0,216)"/>
<circle cx="272.27" cy="57.75" r="2.26" fill="rgb(0,0,228)"/>
<circle cx="288.95" cy="65.18" r="2.21" fill="rgb(0,0,165)"/>
<circle cx="296.45" cy="51.64" r="2.2" fill="rgb(0,0,223)"/>
<circle cx="292.36" cy="89.66" r="3.17" fill="rgb(0,0,249)"/>
<circle cx="273.75" cy="53.93" r="1.94" fill="rgb(0,0,223)"/>
<circle cx="298.05" cy="63.76" r="1.88" fill="rgb(0,0,250)"/>
<circle cx="276.86" cy="51.64" r="2.47" fill="rgb(0,0,182)"/>
<circle cx="303.91" cy="98.03" r="2.29" fill="rgb(0,0,189)"/>
<circle cx="254.83" cy="62.36" r="2" fill="rgb(0,0,243)"/>
<circle cx="270.77" cy="52.22" r="2.2" fill="rgb(0,0,217)"/>
<circle cx="291.56" cy="56.35" r="2.05" fill="rgb(0,0,158)"/>
<circle cx="258.62" cy="86.19" r="2.66" fill="rgb(0,0,166)"/>
<circle cx="270.54" cy="76.02" r="1.98" fill="rgb(0,0,248)"/>
<circle cx="256.75" cy="95.05" r="2.06" fill="rgb(0,0,216)"/>
<circle cx="285.81" cy="50.06" r="2.74" fill="rgb(0,0,210)"/>
<circle cx="285.31" cy="88.9" r="2.99" fill="rgb(0,0,204)"/>
<circle cx="300.82" cy="91.28" r="1.85" fill="rgb(0,0,240)"/>
<circle cx="300.99" cy="78.76" r="2.96" fill="rgb(0,0,145)"/>
<circle cx="268.21" cy="89.92" r="2.14" fill="rgb(0,0,162)"/>
<circle cx="275.04" cy="90.53" r="1.92" fill="rgb(0,0,224)"/>
<circle cx="271.53" cy="99" r="2.23" fill="rgb(0,0,205)"/>
<circle cx="264.82" cy="60" r="2.09" fill="rgb(0,0,163)"/>
<circle cx="272.71" cy="73.21" r="1.97" fill="rgb(0,0,145)"/>
<circle cx="255.03" cy="88.36" r="1.82" fill="rgb(0,0,146)"/>
<circle cx="272.02" cy="61.6" r="2.18" fill="rgb(0,0,199)"/>
</g>
</g>
<g clip-path="url(#cb01)">
<rect x="303" y="51" width="46" height="47.6" fill="#000300"/>
<g filter="url(#fsoft)">
<circle cx="325.97" cy="79.83" r="1.83" fill="rgb(11,138,11)"/>
<circle cx="346.53" cy="53.49" r="1.86" fill="rgb(13,166,13)"/>
<circle cx="315.23" cy="56.84" r="2.57" fill="rgb(3,45,3)"/>
<circle cx="311.84" cy="77.47" r="3.01" fill="rgb(14,182,14)"/>
<circle cx="330.39" cy="61.67" r="2.14" fill="rgb(11,138,11)"/>
<circle cx="308.2" cy="73.17" r="2.85" fill="rgb(12,155,12)"/>
<circle cx="311.73" cy="94.71" r="2.59" fill="rgb(5,72,5)"/>
<circle cx="304.65" cy="51.69" r="2.61" fill="rgb(4,61,4)"/>
<circle cx="316.83" cy="65.74" r="2.47" fill="rgb(14,179,14)"/>
<circle cx="303.21" cy="91.62" r="1.89" fill="rgb(12,155,12)"/>
<circle cx="337.47" cy="59.7" r="1.83" fill="rgb(6,86,6)"/>
<circle cx="347.14" cy="66.9" r="3.01" fill="rgb(6,76,6)"/>
<circle cx="337.82" cy="51.98" r="2.09" fill="rgb(5,64,5)"/>
<circle cx="344.92" cy="87.66" r="2.74" fill="rgb(13,162,13)"/>
<circle cx="343.76" cy="81.56" r="1.74" fill="rgb(5,64,5)"/>
<circle cx="305.8" cy="80.3" r="2.34" fill="rgb(9,112,9)"/>
<circle cx="317.6" cy="81.92" r="2.54" fill="rgb(6,86,6)"/>
<circle cx="317.14" cy="69.61" r="1.84" fill="rgb(12,158,12)"/>
<circle cx="339.89" cy="62.36" r="2.02" fill="rgb(8,101,8)"/>
<circle cx="325.9" cy="64.18" r="2.19" fill="rgb(3,45,3)"/>
<circle cx="321.93" cy="77.44" r="2.76" fill="rgb(8,108,8)"/>
<circle cx="314.38" cy="98.58" r="2.37" fill="rgb(9,115,9)"/>
<circle cx="331.72" cy="72.56" r="1.78" fill="rgb(9,120,9)"/>
<circle cx="327.35" cy="74.77" r="2.23" fill="rgb(17,217,17)"/>
<circle cx="343.36" cy="58.49" r="2.36" fill="rgb(7,87,7)"/>
<circle cx="324.07" cy="98.33" r="1.75" fill="rgb(10,125,10)"/>
<circle cx="327.73" cy="55.96" r="3.02" fill="rgb(16,208,16)"/>
<circle cx="343.97" cy="95.38" r="2.28" fill="rgb(5,69,5)"/>
<circle cx="330.51" cy="83.4" r="2.99" fill="rgb(17,216,17)"/>
<circle cx="346.97" cy="74.24" r="1.88" fill="rgb(6,85,6)"/>
<circle cx="324.39" cy="85.61" r="1.7" fill="rgb(13,172,13)"/>
<circle cx="333.6" cy="58.08" r="2.16" fill="rgb(12,157,12)"/>
<circle cx="336.66" cy="83.88" r="2" fill="rgb(3,44,3)"/>
<circle cx="313.88" cy="51.05" r="1.7" fill="rgb(6,83,6)"/>
<circle cx="339.41" cy="70.89" r="2.89" fill="rgb(11,137,11)"/>
<circle cx="328.56" cy="97.7" r="2.81" fill="rgb(6,83,6)"/>
<circle cx="309.26" cy="50.92" r="1.82" fill="rgb(7,97,7)"/>
<circle cx="332.67" cy="95.71" r="1.71" fill="rgb(10,130,10)"/>
<circle cx="347.8" cy="84.05" r="2.42" fill="rgb(4,51,4)"/>
<circle cx="302.36" cy="77.85" r="2.3" fill="rgb(11,137,11)"/>
<circle cx="329.14" cy="78.04" r="1.93" fill="rgb(7,89,7)"/>
<circle cx="319.24" cy="57.75" r="2.08" fill="rgb(3,43,3)"/>
<circle cx="335.4" cy="65.18" r="2.03" fill="rgb(17,213,17)"/>
<circle cx="342.66" cy="51.64" r="2.03" fill="rgb(6,85,6)"/>
<circle cx="338.7" cy="89.66" r="2.91" fill="rgb(3,41,3)"/>
<circle cx="320.67" cy="53.93" r="1.79" fill="rgb(4,60,4)"/>
<circle cx="323.69" cy="51.64" r="2.27" fill="rgb(4,56,4)"/>
<circle cx="349.89" cy="98.03" r="2.1" fill="rgb(4,56,4)"/>
<circle cx="302.35" cy="62.36" r="1.84" fill="rgb(13,165,13)"/>
<circle cx="337.92" cy="56.35" r="1.89" fill="rgb(8,108,8)"/>
<circle cx="306.02" cy="86.19" r="2.45" fill="rgb(6,87,6)"/>
<circle cx="317.56" cy="76.02" r="1.82" fill="rgb(12,158,12)"/>
<circle cx="331.87" cy="88.9" r="2.75" fill="rgb(8,102,8)"/>
<circle cx="346.89" cy="91.28" r="1.7" fill="rgb(7,89,7)"/>
<circle cx="315.31" cy="89.92" r="1.96" fill="rgb(13,171,13)"/>
<circle cx="321.92" cy="90.53" r="1.76" fill="rgb(3,47,3)"/>
<circle cx="312.03" cy="60" r="1.93" fill="rgb(10,135,10)"/>
<circle cx="319.67" cy="73.21" r="1.81" fill="rgb(12,155,12)"/>
</g>
</g>
<g clip-path="url(#cb02)">
<rect x="349" y="51" width="47" height="47.6" fill="#080000"/>
<g filter="url(#fsoft)">
<circle cx="372.46" cy="79.83" r="1.99" fill="rgb(182,7,7)"/>
<circle cx="393.47" cy="53.49" r="2.02" fill="rgb(167,6,6)"/>
<circle cx="378.47" cy="68.3" r="3.22" fill="rgb(240,9,9)"/>
<circle cx="361.49" cy="56.84" r="2.79" fill="rgb(114,4,4)"/>
<circle cx="361.49" cy="56.84" r="1.26" fill="rgb(60,0,0)" opacity="0.5"/>
<circle cx="373.11" cy="90.51" r="2.81" fill="rgb(150,6,6)"/>
<circle cx="358.03" cy="77.47" r="3.27" fill="rgb(144,5,5)"/>
<circle cx="376.99" cy="61.67" r="2.33" fill="rgb(106,4,4)"/>
<circle cx="376.99" cy="61.67" r="1.05" fill="rgb(60,0,0)" opacity="0.5"/>
<circle cx="354.32" cy="73.17" r="3.1" fill="rgb(253,10,10)"/>
<circle cx="391.89" cy="71.33" r="1.92" fill="rgb(182,7,7)"/>
<circle cx="357.91" cy="94.71" r="2.81" fill="rgb(112,4,4)"/>
<circle cx="357.84" cy="67.15" r="1.85" fill="rgb(227,9,9)"/>
<circle cx="355.84" cy="99.42" r="1.83" fill="rgb(153,6,6)"/>
<circle cx="350.69" cy="51.69" r="2.84" fill="rgb(118,4,4)"/>
<circle cx="350.69" cy="51.69" r="1.28" fill="rgb(60,0,0)" opacity="0.5"/>
<circle cx="363.13" cy="65.74" r="2.68" fill="rgb(245,9,9)"/>
<circle cx="349.21" cy="91.62" r="2.06" fill="rgb(93,3,3)"/>
<circle cx="384.22" cy="59.7" r="1.99" fill="rgb(137,5,5)"/>
<circle cx="357.32" cy="54.61" r="3.01" fill="rgb(84,3,3)"/>
<circle cx="383.62" cy="74.46" r="2.24" fill="rgb(135,5,5)"/>
<circle cx="383.62" cy="74.46" r="1.01" fill="rgb(60,0,0)" opacity="0.5"/>
<circle cx="394.1" cy="66.9" r="3.27" fill="rgb(250,10,10)"/>
<circle cx="384.57" cy="51.98" r="2.27" fill="rgb(237,9,9)"/>
<circle cx="386.27" cy="96" r="2.84" fill="rgb(85,3,3)"/>
<circle cx="391.83" cy="87.66" r="2.98" fill="rgb(168,6,6)"/>
<circle cx="390.64" cy="81.56" r="1.89" fill="rgb(145,5,5)"/>
<circle cx="351.86" cy="80.3" r="2.55" fill="rgb(224,8,8)"/>
<circle cx="363.92" cy="81.92" r="2.76" fill="rgb(184,7,7)"/>
<circle cx="363.45" cy="69.61" r="2" fill="rgb(194,7,7)"/>
<circle cx="363.45" cy="69.61" r="0.9" fill="rgb(60,0,0)" opacity="0.5"/>
<circle cx="387.51" cy="83.9" r="1.9" fill="rgb(135,5,5)"/>
<circle cx="386.69" cy="62.36" r="2.2" fill="rgb(219,8,8)"/>
<circle cx="372.39" cy="64.18" r="2.39" fill="rgb(134,5,5)"/>
<circle cx="372.39" cy="64.18" r="1.07" fill="rgb(60,0,0)" opacity="0.5"/>
<circle cx="368.34" cy="77.44" r="3" fill="rgb(165,6,6)"/>
<circle cx="368.34" cy="77.44" r="1.35" fill="rgb(60,0,0)" opacity="0.5"/>
<circle cx="360.63" cy="98.58" r="2.58" fill="rgb(163,6,6)"/>
<circle cx="374.91" cy="51.42" r="2.29" fill="rgb(213,8,8)"/>
<circle cx="364.67" cy="87.19" r="2.77" fill="rgb(183,7,7)"/>
<circle cx="378.34" cy="72.56" r="1.94" fill="rgb(199,7,7)"/>
<circle cx="373.88" cy="74.77" r="2.42" fill="rgb(207,8,8)"/>
<circle cx="390.24" cy="58.49" r="2.57" fill="rgb(254,10,10)"/>
<circle cx="370.53" cy="98.33" r="1.9" fill="rgb(132,5,5)"/>
<circle cx="374.27" cy="55.96" r="3.29" fill="rgb(241,9,9)"/>
<circle cx="369.37" cy="70.11" r="2.95" fill="rgb(192,7,7)"/>
<circle cx="369.37" cy="70.11" r="1.33" fill="rgb(60,0,0)" opacity="0.5"/>
<circle cx="351.91" cy="57.89" r="3.26" fill="rgb(221,8,8)"/>
<circle cx="390.86" cy="95.38" r="2.48" fill="rgb(242,9,9)"/>
<circle cx="377.1" cy="83.4" r="3.25" fill="rgb(176,7,7)"/>
<circle cx="395.4" cy="58.24" r="2.47" fill="rgb(219,8,8)"/>
<circle cx="393.93" cy="74.24" r="2.04" fill="rgb(89,3,3)"/>
<circle cx="349.6" cy="69.41" r="1.99" fill="rgb(164,6,6)"/>
<circle cx="349.6" cy="69.41" r="0.9" fill="rgb(60,0,0)" opacity="0.5"/>
<circle cx="370.86" cy="85.61" r="1.84" fill="rgb(110,4,4)"/>
<circle cx="380.26" cy="58.08" r="2.35" fill="rgb(180,7,7)"/>
<circle cx="354.27" cy="68.59" r="1.9" fill="rgb(139,5,5)"/>
<circle cx="369.66" cy="60.67" r="2.78" fill="rgb(219,8,8)"/>
<circle cx="369.66" cy="60.67" r="1.25" fill="rgb(60,0,0)" opacity="0.5"/>
<circle cx="383.39" cy="83.88" r="2.17" fill="rgb(220,8,8)"/>
<circle cx="360.12" cy="51.05" r="1.85" fill="rgb(254,10,10)"/>
<circle cx="360.12" cy="51.05" r="0.83" fill="rgb(60,0,0)" opacity="0.5"/>
<circle cx="356.86" cy="87.59" r="2.07" fill="rgb(116,4,4)"/>
<circle cx="356.86" cy="87.59" r="0.93" fill="rgb(60,0,0)" opacity="0.5"/>
<circle cx="386.2" cy="70.89" r="3.14" fill="rgb(239,9,9)"/>
<circle cx="382.08" cy="78.59" r="3.14" fill="rgb(202,8,8)"/>
<circle cx="382.08" cy="78.59" r="1.41" fill="rgb(60,0,0)" opacity="0.5"/>
<circle cx="375.12" cy="97.7" r="3.05" fill="rgb(110,4,4)"/>
<circle cx="366.24" cy="94.18" r="2.56" fill="rgb(188,7,7)"/>
<circle cx="355.39" cy="50.92" r="1.97" fill="rgb(115,4,4)"/>
<circle cx="355.39" cy="50.92" r="0.89" fill="rgb(60,0,0)" opacity="0.5"/>
<circle cx="352.79" cy="64.16" r="2.6" fill="rgb(224,8,8)"/>
<circle cx="379.31" cy="95.71" r="1.86" fill="rgb(235,9,9)"/>
<circle cx="379.31" cy="95.71" r="0.84" fill="rgb(60,0,0)" opacity="0.5"/>
<circle cx="394.77" cy="84.05" r="2.63" fill="rgb(172,6,6)"/>
<circle cx="348.35" cy="77.85" r="2.5" fill="rgb(186,7,7)"/>
<circle cx="360.48" cy="84.01" r="1.93" fill="rgb(124,4,4)"/>
<circle cx="360.48" cy="84.01" r="0.87" fill="rgb(60,0,0)" opacity="0.5"/>
<circle cx="375.71" cy="78.04" r="2.09" fill="rgb(145,5,5)"/>
<circle cx="375.71" cy="78.04" r="0.94" fill="rgb(60,0,0)" opacity="0.5"/>
<circle cx="365.59" cy="57.75" r="2.26" fill="rgb(175,7,7)"/>
<circle cx="382.1" cy="65.18" r="2.21" fill="rgb(221,8,8)"/>
<circle cx="382.1" cy="65.18" r="0.99" fill="rgb(60,0,0)" opacity="0.5"/>
<circle cx="389.52" cy="51.64" r="2.2" fill="rgb(157,6,6)"/>
<circle cx="385.47" cy="89.66" r="3.17" fill="rgb(105,4,4)"/>
<circle cx="367.06" cy="53.93" r="1.94" fill="rgb(247,9,9)"/>
<circle cx="391.11" cy="63.76" r="1.88" fill="rgb(188,7,7)"/>
<circle cx="370.14" cy="51.64" r="2.47" fill="rgb(110,4,4)"/>
<circle cx="370.14" cy="51.64" r="1.11" fill="rgb(60,0,0)" opacity="0.5"/>
<circle cx="396.9" cy="98.03" r="2.29" fill="rgb(217,8,8)"/>
<circle cx="396.9" cy="98.03" r="1.03" fill="rgb(60,0,0)" opacity="0.5"/>
<circle cx="348.33" cy="62.36" r="2" fill="rgb(186,7,7)"/>
<circle cx="348.33" cy="62.36" r="0.9" fill="rgb(60,0,0)" opacity="0.5"/>
<circle cx="364.11" cy="52.22" r="2.2" fill="rgb(128,5,5)"/>
<circle cx="384.68" cy="56.35" r="2.05" fill="rgb(113,4,4)"/>
<circle cx="352.09" cy="86.19" r="2.66" fill="rgb(207,8,8)"/>
<circle cx="363.88" cy="76.02" r="1.98" fill="rgb(238,9,9)"/>
<circle cx="350.24" cy="95.05" r="2.06" fill="rgb(127,5,5)"/>
<circle cx="378.99" cy="50.06" r="2.74" fill="rgb(189,7,7)"/>
<circle cx="378.5" cy="88.9" r="2.99" fill="rgb(143,5,5)"/>
<circle cx="378.5" cy="88.9" r="1.34" fill="rgb(60,0,0)" opacity="0.5"/>
<circle cx="393.84" cy="91.28" r="1.85" fill="rgb(229,9,9)"/>
<circle cx="393.84" cy="91.28" r="0.83" fill="rgb(60,0,0)" opacity="0.5"/>
<circle cx="394.02" cy="78.76" r="2.96" fill="rgb(196,7,7)"/>
<circle cx="394.02" cy="78.76" r="1.33" fill="rgb(60,0,0)" opacity="0.5"/>
<circle cx="361.57" cy="89.92" r="2.14" fill="rgb(196,7,7)"/>
<circle cx="368.34" cy="90.53" r="1.92" fill="rgb(244,9,9)"/>
<circle cx="364.87" cy="99" r="2.23" fill="rgb(93,3,3)"/>
<circle cx="364.87" cy="99" r="1.01" fill="rgb(60,0,0)" opacity="0.5"/>
<circle cx="358.22" cy="60" r="2.09" fill="rgb(108,4,4)"/>
<circle cx="358.22" cy="60" r="0.94" fill="rgb(60,0,0)" opacity="0.5"/>
<circle cx="366.03" cy="73.21" r="1.97" fill="rgb(160,6,6)"/>
<circle cx="366.03" cy="73.21" r="0.89" fill="rgb(60,0,0)" opacity="0.5"/>
<circle cx="348.54" cy="88.36" r="1.82" fill="rgb(120,4,4)"/>
<circle cx="365.35" cy="61.6" r="2.18" fill="rgb(105,4,4)"/>
<circle cx="365.35" cy="61.6" r="0.98" fill="rgb(60,0,0)" opacity="0.5"/>
</g>
</g>
<g clip-path="url(#cb03)">
<rect x="396" y="51" width="48" height="47.6" fill="#140a3a"/>
<g filter="url(#fsoft)">
<circle cx="419.96" cy="79.83" r="1.99" fill="rgb(192,70,216)"/>
<circle cx="441.42" cy="53.49" r="2.02" fill="rgb(177,102,199)"/>
<circle cx="426.1" cy="68.3" r="3.22" fill="rgb(250,15,157)"/>
<circle cx="408.76" cy="56.84" r="2.79" fill="rgb(124,18,205)"/>
<circle cx="420.62" cy="90.51" r="2.81" fill="rgb(160,15,223)"/>
<circle cx="405.22" cy="77.47" r="3.27" fill="rgb(154,123,186)"/>
<circle cx="424.58" cy="61.67" r="2.33" fill="rgb(116,69,205)"/>
<circle cx="401.43" cy="73.17" r="3.1" fill="rgb(255,88,230)"/>
<circle cx="439.81" cy="71.33" r="1.92" fill="rgb(192,15,220)"/>
<circle cx="405.1" cy="94.71" r="2.81" fill="rgb(122,25,172)"/>
<circle cx="405.03" cy="67.15" r="1.85" fill="rgb(237,15,249)"/>
<circle cx="402.98" cy="99.42" r="1.83" fill="rgb(163,15,243)"/>
<circle cx="397.72" cy="51.69" r="2.84" fill="rgb(128,22,244)"/>
<circle cx="410.43" cy="65.74" r="2.68" fill="rgb(255,119,170)"/>
<circle cx="396.22" cy="91.62" r="2.06" fill="rgb(103,87,212)"/>
<circle cx="431.97" cy="59.7" r="1.99" fill="rgb(147,32,184)"/>
<circle cx="404.5" cy="54.61" r="3.01" fill="rgb(94,15,248)"/>
<circle cx="431.36" cy="74.46" r="2.24" fill="rgb(145,15,213)"/>
<circle cx="442.06" cy="66.9" r="3.27" fill="rgb(255,27,246)"/>
<circle cx="432.33" cy="51.98" r="2.27" fill="rgb(247,23,219)"/>
<circle cx="434.06" cy="96" r="2.84" fill="rgb(95,15,193)"/>
<circle cx="439.74" cy="87.66" r="2.98" fill="rgb(178,96,198)"/>
<circle cx="438.53" cy="81.56" r="1.89" fill="rgb(155,23,224)"/>
<circle cx="398.92" cy="80.3" r="2.55" fill="rgb(234,47,206)"/>
<circle cx="411.24" cy="81.92" r="2.76" fill="rgb(194,32,238)"/>
<circle cx="410.76" cy="69.61" r="2" fill="rgb(204,91,204)"/>
<circle cx="435.33" cy="83.9" r="1.9" fill="rgb(145,15,208)"/>
<circle cx="434.49" cy="62.36" r="2.2" fill="rgb(229,39,192)"/>
<circle cx="419.89" cy="64.18" r="2.39" fill="rgb(144,18,170)"/>
<circle cx="415.75" cy="77.44" r="3" fill="rgb(175,44,229)"/>
<circle cx="407.88" cy="98.58" r="2.58" fill="rgb(173,49,174)"/>
<circle cx="422.46" cy="51.42" r="2.29" fill="rgb(223,15,194)"/>
<circle cx="412" cy="87.19" r="2.77" fill="rgb(193,15,250)"/>
<circle cx="425.97" cy="72.56" r="1.94" fill="rgb(209,53,248)"/>
<circle cx="421.41" cy="74.77" r="2.42" fill="rgb(217,184,205)"/>
<circle cx="438.11" cy="58.49" r="2.57" fill="rgb(255,32,186)"/>
<circle cx="417.99" cy="98.33" r="1.9" fill="rgb(142,57,221)"/>
<circle cx="421.8" cy="55.96" r="3.29" fill="rgb(251,166,228)"/>
<circle cx="416.81" cy="70.11" r="2.95" fill="rgb(202,15,180)"/>
<circle cx="398.97" cy="57.89" r="3.26" fill="rgb(231,15,159)"/>
<circle cx="438.75" cy="95.38" r="2.48" fill="rgb(252,24,209)"/>
<circle cx="424.7" cy="83.4" r="3.25" fill="rgb(186,181,234)"/>
<circle cx="443.39" cy="58.24" r="2.47" fill="rgb(229,15,223)"/>
<circle cx="441.88" cy="74.24" r="2.04" fill="rgb(99,31,171)"/>
<circle cx="396.61" cy="69.41" r="1.99" fill="rgb(174,15,250)"/>
<circle cx="418.32" cy="85.61" r="1.84" fill="rgb(120,109,181)"/>
<circle cx="427.93" cy="58.08" r="2.35" fill="rgb(190,89,251)"/>
<circle cx="401.38" cy="68.59" r="1.9" fill="rgb(149,15,195)"/>
<circle cx="417.1" cy="60.67" r="2.78" fill="rgb(229,15,159)"/>
<circle cx="431.12" cy="83.88" r="2.17" fill="rgb(230,18,161)"/>
<circle cx="407.36" cy="51.05" r="1.85" fill="rgb(255,30,181)"/>
<circle cx="404.03" cy="87.59" r="2.07" fill="rgb(126,15,196)"/>
<circle cx="434" cy="70.89" r="3.14" fill="rgb(249,69,175)"/>
<circle cx="429.78" cy="78.59" r="3.14" fill="rgb(212,15,227)"/>
<circle cx="422.67" cy="97.7" r="3.05" fill="rgb(120,30,242)"/>
<circle cx="413.61" cy="94.18" r="2.56" fill="rgb(198,15,162)"/>
<circle cx="402.53" cy="50.92" r="1.97" fill="rgb(125,37,204)"/>
<circle cx="399.87" cy="64.16" r="2.6" fill="rgb(234,15,227)"/>
<circle cx="426.96" cy="95.71" r="1.86" fill="rgb(245,62,199)"/>
<circle cx="442.74" cy="84.05" r="2.63" fill="rgb(182,19,151)"/>
<circle cx="395.34" cy="77.85" r="2.5" fill="rgb(196,68,182)"/>
<circle cx="407.72" cy="84.01" r="1.93" fill="rgb(134,15,191)"/>
<circle cx="423.28" cy="78.04" r="2.09" fill="rgb(155,33,219)"/>
<circle cx="412.95" cy="57.75" r="2.26" fill="rgb(185,18,230)"/>
<circle cx="429.81" cy="65.18" r="2.21" fill="rgb(231,176,174)"/>
<circle cx="437.38" cy="51.64" r="2.2" fill="rgb(167,31,226)"/>
<circle cx="433.25" cy="89.66" r="3.17" fill="rgb(115,17,249)"/>
<circle cx="414.44" cy="53.93" r="1.94" fill="rgb(255,21,225)"/>
<circle cx="439" cy="63.76" r="1.88" fill="rgb(198,15,250)"/>
<circle cx="417.59" cy="51.64" r="2.47" fill="rgb(120,20,189)"/>
<circle cx="444.92" cy="98.03" r="2.29" fill="rgb(227,20,195)"/>
<circle cx="395.32" cy="62.36" r="2" fill="rgb(196,100,244)"/>
<circle cx="411.43" cy="52.22" r="2.2" fill="rgb(138,15,220)"/>
<circle cx="432.44" cy="56.35" r="2.05" fill="rgb(123,44,167)"/>
<circle cx="399.16" cy="86.19" r="2.66" fill="rgb(217,32,174)"/>
<circle cx="411.2" cy="76.02" r="1.98" fill="rgb(248,91,249)"/>
<circle cx="397.27" cy="95.05" r="2.06" fill="rgb(137,15,219)"/>
<circle cx="426.63" cy="50.06" r="2.74" fill="rgb(199,15,214)"/>
<circle cx="426.13" cy="88.9" r="2.99" fill="rgb(153,40,208)"/>
<circle cx="441.8" cy="91.28" r="1.85" fill="rgb(239,33,241)"/>
<circle cx="441.97" cy="78.76" r="2.96" fill="rgb(206,15,156)"/>
<circle cx="408.84" cy="89.92" r="2.14" fill="rgb(206,107,171)"/>
<circle cx="415.75" cy="90.53" r="1.92" fill="rgb(254,18,226)"/>
<circle cx="412.2" cy="99" r="2.23" fill="rgb(103,15,210)"/>
<circle cx="405.42" cy="60" r="2.09" fill="rgb(118,66,172)"/>
<circle cx="413.39" cy="73.21" r="1.97" fill="rgb(170,87,156)"/>
<circle cx="395.53" cy="88.36" r="1.82" fill="rgb(130,15,156)"/>
<circle cx="412.7" cy="61.6" r="2.18" fill="rgb(115,15,204)"/>
</g>
</g>
<g clip-path="url(#cb10)">
<rect x="255.5" y="100.3" width="47.5" height="47.9" fill="#02021f"/>
<g filter="url(#fsoft)">
<circle cx="275.27" cy="136.3" r="2.36" fill="rgb(0,0,200)"/>
<circle cx="281.02" cy="111.56" r="3.04" fill="rgb(0,0,172)"/>
<circle cx="268.38" cy="131.02" r="3.06" fill="rgb(0,0,230)"/>
<circle cx="272.32" cy="110.61" r="2.84" fill="rgb(0,0,158)"/>
<circle cx="277.84" cy="106.12" r="3.07" fill="rgb(0,0,218)"/>
<circle cx="288.27" cy="104.36" r="2.59" fill="rgb(0,0,193)"/>
<circle cx="298.55" cy="111.66" r="2.36" fill="rgb(0,0,182)"/>
<circle cx="290.33" cy="135.22" r="2.28" fill="rgb(0,0,220)"/>
<circle cx="283.9" cy="102.94" r="2.12" fill="rgb(0,0,155)"/>
<circle cx="285.63" cy="143.98" r="1.87" fill="rgb(0,0,223)"/>
<circle cx="294.57" cy="108.99" r="2.64" fill="rgb(0,0,244)"/>
<circle cx="264.62" cy="102.36" r="2.45" fill="rgb(0,0,225)"/>
<circle cx="290.83" cy="100" r="2.39" fill="rgb(0,0,224)"/>
<circle cx="278.54" cy="100.31" r="1.87" fill="rgb(0,0,168)"/>
<circle cx="267.68" cy="122.77" r="2.98" fill="rgb(0,0,169)"/>
<circle cx="273.61" cy="102.33" r="2.99" fill="rgb(0,0,141)"/>
<circle cx="256.58" cy="130.23" r="2.18" fill="rgb(0,0,188)"/>
<circle cx="267.32" cy="112.52" r="2.66" fill="rgb(0,0,254)"/>
<circle cx="266.41" cy="117.39" r="1.83" fill="rgb(0,0,149)"/>
<circle cx="257.19" cy="136.39" r="2.27" fill="rgb(0,0,171)"/>
<circle cx="290.54" cy="130.4" r="1.99" fill="rgb(0,0,246)"/>
<circle cx="279.39" cy="138.9" r="2.67" fill="rgb(0,0,230)"/>
<circle cx="258.97" cy="117.49" r="2.31" fill="rgb(0,0,157)"/>
<circle cx="262.16" cy="109.88" r="2.18" fill="rgb(0,0,213)"/>
<circle cx="260.07" cy="141.17" r="2.21" fill="rgb(0,0,208)"/>
<circle cx="263.3" cy="145.76" r="3.06" fill="rgb(0,0,246)"/>
<circle cx="302.4" cy="102.49" r="3.27" fill="rgb(0,0,178)"/>
<circle cx="286.82" cy="132.62" r="2.49" fill="rgb(0,0,232)"/>
<circle cx="261.68" cy="126.9" r="2.94" fill="rgb(0,0,157)"/>
<circle cx="296.16" cy="116.78" r="2.38" fill="rgb(0,0,169)"/>
<circle cx="287.39" cy="109.9" r="3.07" fill="rgb(0,0,172)"/>
<circle cx="298.31" cy="143.85" r="1.99" fill="rgb(0,0,223)"/>
<circle cx="284.88" cy="139.07" r="3.03" fill="rgb(0,0,221)"/>
<circle cx="255.4" cy="116.22" r="1.99" fill="rgb(0,0,211)"/>
<circle cx="300.78" cy="134.78" r="2.96" fill="rgb(0,0,217)"/>
<circle cx="285.03" cy="115.34" r="2.28" fill="rgb(0,0,183)"/>
<circle cx="295.72" cy="100.05" r="2.31" fill="rgb(0,0,219)"/>
<circle cx="256.95" cy="146.8" r="3.26" fill="rgb(0,0,211)"/>
<circle cx="295.65" cy="105.25" r="2" fill="rgb(0,0,216)"/>
<circle cx="273.53" cy="106.57" r="2.16" fill="rgb(0,0,141)"/>
<circle cx="277.48" cy="125.33" r="2.65" fill="rgb(0,0,189)"/>
<circle cx="282.06" cy="122.68" r="3.18" fill="rgb(0,0,194)"/>
<circle cx="288.66" cy="125.83" r="2.42" fill="rgb(0,0,163)"/>
<circle cx="257.09" cy="107.12" r="2.5" fill="rgb(0,0,185)"/>
<circle cx="294.77" cy="128.77" r="2.51" fill="rgb(0,0,169)"/>
<circle cx="286.68" cy="148.62" r="2.94" fill="rgb(0,0,240)"/>
<circle cx="255.89" cy="120.77" r="2.18" fill="rgb(0,0,183)"/>
<circle cx="272.25" cy="128.7" r="1.9" fill="rgb(0,0,173)"/>
<circle cx="265.98" cy="136.31" r="2.07" fill="rgb(0,0,192)"/>
<circle cx="269.92" cy="144.88" r="2.4" fill="rgb(0,0,189)"/>
<circle cx="279.62" cy="118.15" r="2.15" fill="rgb(0,0,184)"/>
<circle cx="292.08" cy="147.51" r="2.83" fill="rgb(0,0,247)"/>
<circle cx="287.85" cy="121.99" r="1.82" fill="rgb(0,0,163)"/>
<circle cx="296.23" cy="140.91" r="1.85" fill="rgb(0,0,234)"/>
<circle cx="292.14" cy="121.7" r="2.85" fill="rgb(0,0,240)"/>
<circle cx="302.44" cy="115.16" r="2.99" fill="rgb(0,0,188)"/>
<circle cx="257.04" cy="100.94" r="1.98" fill="rgb(0,0,188)"/>
<circle cx="263.3" cy="117.3" r="1.81" fill="rgb(0,0,199)"/>
<circle cx="290.37" cy="142.73" r="2.62" fill="rgb(0,0,144)"/>
<circle cx="297.28" cy="124.31" r="1.83" fill="rgb(0,0,165)"/>
<circle cx="279.12" cy="147.56" r="2.73" fill="rgb(0,0,171)"/>
<circle cx="273.07" cy="118.69" r="2.59" fill="rgb(0,0,191)"/>
<circle cx="299.37" cy="107.2" r="2.96" fill="rgb(0,0,215)"/>
<circle cx="279.02" cy="132.65" r="1.94" fill="rgb(0,0,183)"/>
<circle cx="281.97" cy="131.11" r="1.84" fill="rgb(0,0,222)"/>
<circle cx="295.18" cy="136.7" r="2.34" fill="rgb(0,0,183)"/>
<circle cx="301.08" cy="127.99" r="3.04" fill="rgb(0,0,211)"/>
<circle cx="298.34" cy="148.5" r="1.95" fill="rgb(0,0,193)"/>
<circle cx="286.25" cy="100.38" r="2.05" fill="rgb(0,0,152)"/>
<circle cx="261.44" cy="105.89" r="2.07" fill="rgb(0,0,232)"/>
<circle cx="299.67" cy="139.82" r="2.21" fill="rgb(0,0,250)"/>
<circle cx="273.49" cy="147.22" r="2.48" fill="rgb(0,0,247)"/>
<circle cx="262.87" cy="113.61" r="1.84" fill="rgb(0,0,171)"/>
<circle cx="261.53" cy="133.5" r="2.94" fill="rgb(0,0,237)"/>
<circle cx="261.5" cy="121.36" r="2.56" fill="rgb(0,0,178)"/>
<circle cx="301.29" cy="146.79" r="2.13" fill="rgb(0,0,185)"/>
<circle cx="268.41" cy="140.73" r="1.93" fill="rgb(0,0,196)"/>
<circle cx="271.32" cy="138.36" r="2.07" fill="rgb(0,0,187)"/>
<circle cx="289.59" cy="115.82" r="2.87" fill="rgb(0,0,233)"/>
<circle cx="303.83" cy="121.16" r="3.04" fill="rgb(0,0,175)"/>
<circle cx="285.5" cy="119.36" r="2.4" fill="rgb(0,0,174)"/>
<circle cx="268.78" cy="99.81" r="2.41" fill="rgb(0,0,232)"/>
<circle cx="275.15" cy="142.72" r="2.8" fill="rgb(0,0,168)"/>
<circle cx="268.65" cy="103.81" r="2.38" fill="rgb(0,0,230)"/>
<circle cx="270.8" cy="115.25" r="2.21" fill="rgb(0,0,212)"/>
<circle cx="276.36" cy="111.82" r="2.14" fill="rgb(0,0,221)"/>
<circle cx="282.58" cy="126.85" r="1.9" fill="rgb(0,0,167)"/>
<circle cx="272.67" cy="124.14" r="2.71" fill="rgb(0,0,216)"/>
</g>
</g>
<g clip-path="url(#cb11)">
<rect x="303" y="100.3" width="46" height="47.9" fill="#000000"/>
</g>
<g clip-path="url(#cb12)">
<rect x="349" y="100.3" width="47" height="47.9" fill="#080000"/>
<g filter="url(#fsoft)">
<circle cx="368.56" cy="136.3" r="2.36" fill="rgb(127,5,5)"/>
<circle cx="374.25" cy="111.56" r="3.04" fill="rgb(141,5,5)"/>
<circle cx="361.74" cy="131.02" r="3.06" fill="rgb(96,3,3)"/>
<circle cx="361.74" cy="131.02" r="1.38" fill="rgb(60,0,0)" opacity="0.5"/>
<circle cx="365.64" cy="110.61" r="2.84" fill="rgb(193,7,7)"/>
<circle cx="365.64" cy="110.61" r="1.28" fill="rgb(60,0,0)" opacity="0.5"/>
<circle cx="371.1" cy="106.12" r="3.07" fill="rgb(232,9,9)"/>
<circle cx="371.1" cy="106.12" r="1.38" fill="rgb(60,0,0)" opacity="0.5"/>
<circle cx="381.43" cy="104.36" r="2.59" fill="rgb(252,10,10)"/>
<circle cx="381.43" cy="104.36" r="1.17" fill="rgb(60,0,0)" opacity="0.5"/>
<circle cx="391.6" cy="111.66" r="2.36" fill="rgb(126,5,5)"/>
<circle cx="383.46" cy="135.22" r="2.28" fill="rgb(141,5,5)"/>
<circle cx="383.46" cy="135.22" r="1.03" fill="rgb(60,0,0)" opacity="0.5"/>
<circle cx="377.1" cy="102.94" r="2.12" fill="rgb(219,8,8)"/>
<circle cx="378.81" cy="143.98" r="1.87" fill="rgb(208,8,8)"/>
<circle cx="378.81" cy="143.98" r="0.84" fill="rgb(60,0,0)" opacity="0.5"/>
<circle cx="387.66" cy="108.99" r="2.64" fill="rgb(189,7,7)"/>
<circle cx="387.66" cy="108.99" r="1.19" fill="rgb(60,0,0)" opacity="0.5"/>
<circle cx="358.02" cy="102.36" r="2.45" fill="rgb(237,9,9)"/>
<circle cx="383.96" cy="100" r="2.39" fill="rgb(190,7,7)"/>
<circle cx="383.96" cy="100" r="1.07" fill="rgb(60,0,0)" opacity="0.5"/>
<circle cx="371.8" cy="100.31" r="1.87" fill="rgb(241,9,9)"/>
<circle cx="371.8" cy="100.31" r="0.84" fill="rgb(60,0,0)" opacity="0.5"/>
<circle cx="361.05" cy="122.77" r="2.98" fill="rgb(102,4,4)"/>
<circle cx="361.05" cy="122.77" r="1.34" fill="rgb(60,0,0)" opacity="0.5"/>
<circle cx="366.92" cy="102.33" r="2.99" fill="rgb(194,7,7)"/>
<circle cx="366.92" cy="102.33" r="1.34" fill="rgb(60,0,0)" opacity="0.5"/>
<circle cx="350.07" cy="130.23" r="2.18" fill="rgb(241,9,9)"/>
<circle cx="350.07" cy="130.23" r="0.98" fill="rgb(60,0,0)" opacity="0.5"/>
<circle cx="360.7" cy="112.52" r="2.66" fill="rgb(205,8,8)"/>
<circle cx="360.7" cy="112.52" r="1.2" fill="rgb(60,0,0)" opacity="0.5"/>
<circle cx="359.8" cy="117.39" r="1.83" fill="rgb(236,9,9)"/>
<circle cx="359.8" cy="117.39" r="0.82" fill="rgb(60,0,0)" opacity="0.5"/>
<circle cx="350.67" cy="136.39" r="2.27" fill="rgb(198,7,7)"/>
<circle cx="350.67" cy="136.39" r="1.02" fill="rgb(60,0,0)" opacity="0.5"/>
<circle cx="383.67" cy="130.4" r="1.99" fill="rgb(246,9,9)"/>
<circle cx="372.64" cy="138.9" r="2.67" fill="rgb(153,6,6)"/>
<circle cx="372.64" cy="138.9" r="1.2" fill="rgb(60,0,0)" opacity="0.5"/>
<circle cx="352.43" cy="117.49" r="2.31" fill="rgb(143,5,5)"/>
<circle cx="352.43" cy="117.49" r="1.04" fill="rgb(60,0,0)" opacity="0.5"/>
<circle cx="355.59" cy="109.88" r="2.18" fill="rgb(243,9,9)"/>
<circle cx="355.59" cy="109.88" r="0.98" fill="rgb(60,0,0)" opacity="0.5"/>
<circle cx="353.52" cy="141.17" r="2.21" fill="rgb(118,4,4)"/>
<circle cx="356.72" cy="145.76" r="3.06" fill="rgb(162,6,6)"/>
<circle cx="395.41" cy="102.49" r="3.27" fill="rgb(99,3,3)"/>
<circle cx="395.41" cy="102.49" r="1.47" fill="rgb(60,0,0)" opacity="0.5"/>
<circle cx="379.99" cy="132.62" r="2.49" fill="rgb(252,10,10)"/>
<circle cx="355.11" cy="126.9" r="2.94" fill="rgb(91,3,3)"/>
<circle cx="389.24" cy="116.78" r="2.38" fill="rgb(122,4,4)"/>
<circle cx="389.24" cy="116.78" r="1.07" fill="rgb(60,0,0)" opacity="0.5"/>
<circle cx="380.56" cy="109.9" r="3.07" fill="rgb(113,4,4)"/>
<circle cx="391.36" cy="143.85" r="1.99" fill="rgb(161,6,6)"/>
<circle cx="391.36" cy="143.85" r="0.9" fill="rgb(60,0,0)" opacity="0.5"/>
<circle cx="378.07" cy="139.07" r="3.03" fill="rgb(195,7,7)"/>
<circle cx="378.07" cy="139.07" r="1.36" fill="rgb(60,0,0)" opacity="0.5"/>
<circle cx="348.9" cy="116.22" r="1.99" fill="rgb(140,5,5)"/>
<circle cx="393.8" cy="134.78" r="2.96" fill="rgb(85,3,3)"/>
<circle cx="393.8" cy="134.78" r="1.33" fill="rgb(60,0,0)" opacity="0.5"/>
<circle cx="378.22" cy="115.34" r="2.28" fill="rgb(143,5,5)"/>
<circle cx="378.22" cy="115.34" r="1.03" fill="rgb(60,0,0)" opacity="0.5"/>
<circle cx="388.79" cy="100.05" r="2.31" fill="rgb(213,8,8)"/>
<circle cx="388.79" cy="100.05" r="1.04" fill="rgb(60,0,0)" opacity="0.5"/>
<circle cx="350.44" cy="146.8" r="3.26" fill="rgb(84,3,3)"/>
<circle cx="350.44" cy="146.8" r="1.47" fill="rgb(60,0,0)" opacity="0.5"/>
<circle cx="388.73" cy="105.25" r="2" fill="rgb(105,4,4)"/>
<circle cx="366.84" cy="106.57" r="2.16" fill="rgb(229,9,9)"/>
<circle cx="370.75" cy="125.33" r="2.65" fill="rgb(106,4,4)"/>
<circle cx="370.75" cy="125.33" r="1.19" fill="rgb(60,0,0)" opacity="0.5"/>
<circle cx="375.28" cy="122.68" r="3.18" fill="rgb(177,7,7)"/>
<circle cx="381.81" cy="125.83" r="2.42" fill="rgb(236,9,9)"/>
<circle cx="381.81" cy="125.83" r="1.09" fill="rgb(60,0,0)" opacity="0.5"/>
<circle cx="350.58" cy="107.12" r="2.5" fill="rgb(248,9,9)"/>
<circle cx="387.85" cy="128.77" r="2.51" fill="rgb(165,6,6)"/>
<circle cx="379.85" cy="148.62" r="2.94" fill="rgb(104,4,4)"/>
<circle cx="379.85" cy="148.62" r="1.32" fill="rgb(60,0,0)" opacity="0.5"/>
<circle cx="349.38" cy="120.77" r="2.18" fill="rgb(98,3,3)"/>
<circle cx="365.57" cy="128.7" r="1.9" fill="rgb(213,8,8)"/>
<circle cx="359.37" cy="136.31" r="2.07" fill="rgb(147,5,5)"/>
<circle cx="359.37" cy="136.31" r="0.93" fill="rgb(60,0,0)" opacity="0.5"/>
<circle cx="363.27" cy="144.88" r="2.4" fill="rgb(251,10,10)"/>
<circle cx="372.87" cy="118.15" r="2.15" fill="rgb(145,5,5)"/>
<circle cx="372.87" cy="118.15" r="0.97" fill="rgb(60,0,0)" opacity="0.5"/>
<circle cx="385.19" cy="147.51" r="2.83" fill="rgb(189,7,7)"/>
<circle cx="385.19" cy="147.51" r="1.27" fill="rgb(60,0,0)" opacity="0.5"/>
<circle cx="381.01" cy="121.99" r="1.82" fill="rgb(177,7,7)"/>
<circle cx="389.3" cy="140.91" r="1.85" fill="rgb(102,4,4)"/>
<circle cx="385.26" cy="121.7" r="2.85" fill="rgb(192,7,7)"/>
<circle cx="385.26" cy="121.7" r="1.28" fill="rgb(60,0,0)" opacity="0.5"/>
<circle cx="395.45" cy="115.16" r="2.99" fill="rgb(174,6,6)"/>
<circle cx="395.45" cy="115.16" r="1.34" fill="rgb(60,0,0)" opacity="0.5"/>
<circle cx="350.53" cy="100.94" r="1.98" fill="rgb(169,6,6)"/>
<circle cx="356.72" cy="117.3" r="1.81" fill="rgb(178,7,7)"/>
<circle cx="356.72" cy="117.3" r="0.81" fill="rgb(60,0,0)" opacity="0.5"/>
<circle cx="383.5" cy="142.73" r="2.62" fill="rgb(166,6,6)"/>
<circle cx="383.5" cy="142.73" r="1.18" fill="rgb(60,0,0)" opacity="0.5"/>
<circle cx="390.34" cy="124.31" r="1.83" fill="rgb(186,7,7)"/>
<circle cx="390.34" cy="124.31" r="0.82" fill="rgb(60,0,0)" opacity="0.5"/>
<circle cx="372.37" cy="147.56" r="2.73" fill="rgb(177,7,7)"/>
<circle cx="372.37" cy="147.56" r="1.23" fill="rgb(60,0,0)" opacity="0.5"/>
<circle cx="366.39" cy="118.69" r="2.59" fill="rgb(209,8,8)"/>
<circle cx="392.41" cy="107.2" r="2.96" fill="rgb(248,9,9)"/>
<circle cx="372.27" cy="132.65" r="1.94" fill="rgb(196,7,7)"/>
<circle cx="372.27" cy="132.65" r="0.87" fill="rgb(60,0,0)" opacity="0.5"/>
<circle cx="375.19" cy="131.11" r="1.84" fill="rgb(214,8,8)"/>
<circle cx="375.19" cy="131.11" r="0.83" fill="rgb(60,0,0)" opacity="0.5"/>
<circle cx="388.26" cy="136.7" r="2.34" fill="rgb(191,7,7)"/>
<circle cx="388.26" cy="136.7" r="1.05" fill="rgb(60,0,0)" opacity="0.5"/>
<circle cx="394.1" cy="127.99" r="3.04" fill="rgb(214,8,8)"/>
<circle cx="394.1" cy="127.99" r="1.37" fill="rgb(60,0,0)" opacity="0.5"/>
<circle cx="391.39" cy="148.5" r="1.95" fill="rgb(84,3,3)"/>
<circle cx="379.43" cy="100.38" r="2.05" fill="rgb(178,7,7)"/>
<circle cx="379.43" cy="100.38" r="0.92" fill="rgb(60,0,0)" opacity="0.5"/>
<circle cx="354.88" cy="105.89" r="2.07" fill="rgb(178,7,7)"/>
<circle cx="392.7" cy="139.82" r="2.21" fill="rgb(218,8,8)"/>
<circle cx="392.7" cy="139.82" r="0.99" fill="rgb(60,0,0)" opacity="0.5"/>
<circle cx="366.8" cy="147.22" r="2.48" fill="rgb(203,8,8)"/>
<circle cx="366.8" cy="147.22" r="1.12" fill="rgb(60,0,0)" opacity="0.5"/>
<circle cx="356.29" cy="113.61" r="1.84" fill="rgb(164,6,6)"/>
<circle cx="354.97" cy="133.5" r="2.94" fill="rgb(166,6,6)"/>
<circle cx="354.93" cy="121.36" r="2.56" fill="rgb(168,6,6)"/>
<circle cx="354.93" cy="121.36" r="1.15" fill="rgb(60,0,0)" opacity="0.5"/>
<circle cx="394.31" cy="146.79" r="2.13" fill="rgb(206,8,8)"/>
<circle cx="394.31" cy="146.79" r="0.96" fill="rgb(60,0,0)" opacity="0.5"/>
<circle cx="361.77" cy="140.73" r="1.93" fill="rgb(213,8,8)"/>
<circle cx="361.77" cy="140.73" r="0.87" fill="rgb(60,0,0)" opacity="0.5"/>
<circle cx="364.65" cy="138.36" r="2.07" fill="rgb(218,8,8)"/>
<circle cx="382.73" cy="115.82" r="2.87" fill="rgb(131,5,5)"/>
<circle cx="396.82" cy="121.16" r="3.04" fill="rgb(98,3,3)"/>
<circle cx="396.82" cy="121.16" r="1.37" fill="rgb(60,0,0)" opacity="0.5"/>
<circle cx="378.68" cy="119.36" r="2.4" fill="rgb(212,8,8)"/>
<circle cx="362.14" cy="99.81" r="2.41" fill="rgb(137,5,5)"/>
<circle cx="368.45" cy="142.72" r="2.8" fill="rgb(201,8,8)"/>
<circle cx="362.01" cy="103.81" r="2.38" fill="rgb(94,3,3)"/>
<circle cx="364.14" cy="115.25" r="2.21" fill="rgb(94,3,3)"/>
<circle cx="364.14" cy="115.25" r="0.99" fill="rgb(60,0,0)" opacity="0.5"/>
<circle cx="369.64" cy="111.82" r="2.14" fill="rgb(224,8,8)"/>
<circle cx="369.64" cy="111.82" r="0.96" fill="rgb(60,0,0)" opacity="0.5"/>
<circle cx="375.8" cy="126.85" r="1.9" fill="rgb(161,6,6)"/>
<circle cx="375.8" cy="126.85" r="0.85" fill="rgb(60,0,0)" opacity="0.5"/>
<circle cx="365.99" cy="124.14" r="2.71" fill="rgb(119,4,4)"/>
</g>
</g>
<g clip-path="url(#cb13)">
<rect x="396" y="100.3" width="48" height="47.9" fill="#140a3a"/>
<g filter="url(#fsoft)">
<circle cx="415.97" cy="136.3" r="2.36" fill="rgb(137,15,205)"/>
<circle cx="421.79" cy="111.56" r="3.04" fill="rgb(151,15,180)"/>
<circle cx="409.01" cy="131.02" r="3.06" fill="rgb(106,15,232)"/>
<circle cx="413" cy="110.61" r="2.84" fill="rgb(203,15,168)"/>
<circle cx="418.57" cy="106.12" r="3.07" fill="rgb(242,15,221)"/>
<circle cx="429.12" cy="104.36" r="2.59" fill="rgb(255,15,199)"/>
<circle cx="439.5" cy="111.66" r="2.36" fill="rgb(136,15,188)"/>
<circle cx="431.2" cy="135.22" r="2.28" fill="rgb(151,15,223)"/>
<circle cx="424.7" cy="102.94" r="2.12" fill="rgb(229,15,165)"/>
<circle cx="426.45" cy="143.98" r="1.87" fill="rgb(218,15,226)"/>
<circle cx="435.48" cy="108.99" r="2.64" fill="rgb(199,15,245)"/>
<circle cx="405.21" cy="102.36" r="2.45" fill="rgb(247,15,228)"/>
<circle cx="431.7" cy="100" r="2.39" fill="rgb(200,15,226)"/>
<circle cx="419.28" cy="100.31" r="1.87" fill="rgb(251,15,176)"/>
<circle cx="408.31" cy="122.77" r="2.98" fill="rgb(112,15,177)"/>
<circle cx="414.3" cy="102.33" r="2.99" fill="rgb(204,15,152)"/>
<circle cx="397.09" cy="130.23" r="2.18" fill="rgb(251,15,194)"/>
<circle cx="407.94" cy="112.52" r="2.66" fill="rgb(215,15,253)"/>
<circle cx="407.02" cy="117.39" r="1.83" fill="rgb(246,15,159)"/>
<circle cx="397.71" cy="136.39" r="2.27" fill="rgb(208,15,179)"/>
<circle cx="431.41" cy="130.4" r="1.99" fill="rgb(255,15,246)"/>
<circle cx="420.14" cy="138.9" r="2.67" fill="rgb(163,15,232)"/>
<circle cx="399.51" cy="117.49" r="2.31" fill="rgb(153,15,167)"/>
<circle cx="402.73" cy="109.88" r="2.18" fill="rgb(253,15,217)"/>
<circle cx="400.61" cy="141.17" r="2.21" fill="rgb(128,15,212)"/>
<circle cx="403.88" cy="145.76" r="3.06" fill="rgb(172,15,246)"/>
<circle cx="443.4" cy="102.49" r="3.27" fill="rgb(109,15,185)"/>
<circle cx="427.65" cy="132.62" r="2.49" fill="rgb(255,15,233)"/>
<circle cx="402.24" cy="126.9" r="2.94" fill="rgb(101,15,166)"/>
<circle cx="437.09" cy="116.78" r="2.38" fill="rgb(132,15,177)"/>
<circle cx="428.23" cy="109.9" r="3.07" fill="rgb(123,15,180)"/>
<circle cx="439.26" cy="143.85" r="1.99" fill="rgb(171,15,226)"/>
<circle cx="425.69" cy="139.07" r="3.03" fill="rgb(205,15,223)"/>
<circle cx="395.9" cy="116.22" r="1.99" fill="rgb(150,15,215)"/>
<circle cx="441.76" cy="134.78" r="2.96" fill="rgb(95,15,220)"/>
<circle cx="425.84" cy="115.34" r="2.28" fill="rgb(153,15,190)"/>
<circle cx="436.64" cy="100.05" r="2.31" fill="rgb(223,15,222)"/>
<circle cx="397.47" cy="146.8" r="3.26" fill="rgb(94,15,215)"/>
<circle cx="436.57" cy="105.25" r="2" fill="rgb(115,15,220)"/>
<circle cx="414.22" cy="106.57" r="2.16" fill="rgb(239,15,152)"/>
<circle cx="418.21" cy="125.33" r="2.65" fill="rgb(116,15,195)"/>
<circle cx="422.84" cy="122.68" r="3.18" fill="rgb(187,15,199)"/>
<circle cx="429.51" cy="125.83" r="2.42" fill="rgb(246,15,172)"/>
<circle cx="397.61" cy="107.12" r="2.5" fill="rgb(255,15,191)"/>
<circle cx="435.68" cy="128.77" r="2.51" fill="rgb(175,15,177)"/>
<circle cx="427.51" cy="148.62" r="2.94" fill="rgb(114,15,241)"/>
<circle cx="396.39" cy="120.77" r="2.18" fill="rgb(108,15,189)"/>
<circle cx="412.93" cy="128.7" r="1.9" fill="rgb(223,15,181)"/>
<circle cx="406.59" cy="136.31" r="2.07" fill="rgb(157,15,197)"/>
<circle cx="410.57" cy="144.88" r="2.4" fill="rgb(255,15,195)"/>
<circle cx="420.38" cy="118.15" r="2.15" fill="rgb(155,15,190)"/>
<circle cx="432.96" cy="147.51" r="2.83" fill="rgb(199,15,247)"/>
<circle cx="428.69" cy="121.99" r="1.82" fill="rgb(187,15,172)"/>
<circle cx="437.16" cy="140.91" r="1.85" fill="rgb(112,15,236)"/>
<circle cx="433.03" cy="121.7" r="2.85" fill="rgb(202,15,241)"/>
<circle cx="443.44" cy="115.16" r="2.99" fill="rgb(184,15,194)"/>
<circle cx="397.56" cy="100.94" r="1.98" fill="rgb(179,15,194)"/>
<circle cx="403.88" cy="117.3" r="1.81" fill="rgb(188,15,204)"/>
<circle cx="431.24" cy="142.73" r="2.62" fill="rgb(176,15,154)"/>
<circle cx="438.22" cy="124.31" r="1.83" fill="rgb(196,15,173)"/>
<circle cx="419.87" cy="147.56" r="2.73" fill="rgb(187,15,179)"/>
<circle cx="413.76" cy="118.69" r="2.59" fill="rgb(219,15,197)"/>
<circle cx="440.34" cy="107.2" r="2.96" fill="rgb(255,15,218)"/>
<circle cx="419.76" cy="132.65" r="1.94" fill="rgb(206,15,189)"/>
<circle cx="422.75" cy="131.11" r="1.84" fill="rgb(224,15,225)"/>
<circle cx="436.1" cy="136.7" r="2.34" fill="rgb(201,15,190)"/>
<circle cx="442.06" cy="127.99" r="3.04" fill="rgb(224,15,215)"/>
<circle cx="439.29" cy="148.5" r="1.95" fill="rgb(94,15,199)"/>
<circle cx="427.08" cy="100.38" r="2.05" fill="rgb(188,15,162)"/>
<circle cx="402.01" cy="105.89" r="2.07" fill="rgb(188,15,234)"/>
<circle cx="440.63" cy="139.82" r="2.21" fill="rgb(228,15,250)"/>
<circle cx="414.18" cy="147.22" r="2.48" fill="rgb(213,15,247)"/>
<circle cx="403.44" cy="113.61" r="1.84" fill="rgb(174,15,179)"/>
<circle cx="402.1" cy="133.5" r="2.94" fill="rgb(176,15,238)"/>
<circle cx="402.06" cy="121.36" r="2.56" fill="rgb(178,15,185)"/>
<circle cx="442.27" cy="146.79" r="2.13" fill="rgb(216,15,191)"/>
<circle cx="409.04" cy="140.73" r="1.93" fill="rgb(223,15,201)"/>
<circle cx="411.98" cy="138.36" r="2.07" fill="rgb(228,15,193)"/>
<circle cx="430.45" cy="115.82" r="2.87" fill="rgb(141,15,235)"/>
<circle cx="444.84" cy="121.16" r="3.04" fill="rgb(108,15,182)"/>
<circle cx="426.31" cy="119.36" r="2.4" fill="rgb(222,15,181)"/>
<circle cx="409.42" cy="99.81" r="2.41" fill="rgb(147,15,234)"/>
<circle cx="415.86" cy="142.72" r="2.8" fill="rgb(211,15,176)"/>
<circle cx="409.29" cy="103.81" r="2.38" fill="rgb(104,15,232)"/>
<circle cx="411.46" cy="115.25" r="2.21" fill="rgb(104,15,216)"/>
<circle cx="417.08" cy="111.82" r="2.14" fill="rgb(234,15,224)"/>
<circle cx="423.37" cy="126.85" r="1.9" fill="rgb(171,15,175)"/>
<circle cx="413.35" cy="124.14" r="2.71" fill="rgb(129,15,219)"/>
</g>
</g>
<rect x="255.5" y="98.6" width="188.5" height="1.7" fill="#f2f2f2"/>
<line x1="426.6" y1="140.2" x2="434.9" y2="140.2" stroke="#fff" stroke-width="0.9"/>
<line x1="426.8" y1="139.2" x2="426.8" y2="141.2" stroke="#fff" stroke-width="0.7"/>
<line x1="434.7" y1="139.2" x2="434.7" y2="141.2" stroke="#fff" stroke-width="0.7"/>
<text x="421.9" y="146.4" font-size="6.8" fill="#fff" textLength="16" lengthAdjust="spacingAndGlyphs" stroke="#fff" stroke-width="0.22">20μm</text>
<line x1="479.6" y1="61" x2="479.6" y2="131.6" stroke="#111" stroke-width="1.1"/>
<line x1="476" y1="131.1" x2="513" y2="131.1" stroke="#111" stroke-width="1.1"/>
<line x1="476.3" y1="65" x2="479.6" y2="65" stroke="#222" stroke-width="0.9"/>
<text x="473.6" y="67.7" font-size="8.2" fill="#222" text-anchor="end" textLength="12.9" lengthAdjust="spacingAndGlyphs" stroke="#222" stroke-width="0.22">150</text>
<line x1="476.3" y1="78.4" x2="479.6" y2="78.4" stroke="#222" stroke-width="0.9"/>
<text x="473.6" y="81.1" font-size="8.2" fill="#222" text-anchor="end" textLength="12.9" lengthAdjust="spacingAndGlyphs" stroke="#222" stroke-width="0.22">120</text>
<line x1="476.3" y1="91.7" x2="479.6" y2="91.7" stroke="#222" stroke-width="0.9"/>
<text x="473.6" y="94.4" font-size="8.2" fill="#222" text-anchor="end" textLength="8.6" lengthAdjust="spacingAndGlyphs" stroke="#222" stroke-width="0.22">90</text>
<line x1="476.3" y1="105" x2="479.6" y2="105" stroke="#222" stroke-width="0.9"/>
<text x="473.6" y="107.7" font-size="8.2" fill="#222" text-anchor="end" textLength="8.6" lengthAdjust="spacingAndGlyphs" stroke="#222" stroke-width="0.22">60</text>
<line x1="476.3" y1="118.2" x2="479.6" y2="118.2" stroke="#222" stroke-width="0.9"/>
<text x="473.6" y="120.9" font-size="8.2" fill="#222" text-anchor="end" textLength="8.6" lengthAdjust="spacingAndGlyphs" stroke="#222" stroke-width="0.22">30</text>
<line x1="476.3" y1="131.1" x2="479.6" y2="131.1" stroke="#222" stroke-width="0.9"/>
<text x="473.6" y="133.8" font-size="8.2" fill="#222" text-anchor="end" textLength="4.3" lengthAdjust="spacingAndGlyphs" stroke="#222" stroke-width="0.22">0</text>
<line x1="479.6" y1="131.1" x2="479.6" y2="133.8" stroke="#222" stroke-width="0.9"/>
<line x1="494" y1="131.1" x2="494" y2="133.8" stroke="#222" stroke-width="0.9"/>
<line x1="509.4" y1="131.1" x2="509.4" y2="133.8" stroke="#222" stroke-width="0.9"/>
<rect x="483.8" y="87.3" width="6.3" height="43.8" fill="#1a4f8a"/>
<rect x="498.6" y="87.9" width="6.4" height="43.2" fill="#c8193b"/>
<line x1="487" y1="75.4" x2="487" y2="87.3" stroke="#111" stroke-width="1"/>
<line x1="485" y1="75.4" x2="489" y2="75.4" stroke="#111" stroke-width="1"/>
<line x1="501.8" y1="75.9" x2="501.8" y2="87.9" stroke="#111" stroke-width="1"/>
<line x1="499.8" y1="75.9" x2="503.8" y2="75.9" stroke="#111" stroke-width="1"/>
<text x="480.4" y="143" font-size="8.2" fill="#222" textLength="10.9" lengthAdjust="spacingAndGlyphs" stroke="#222" stroke-width="0.22">WT</text>
<text x="496" y="143" font-size="8.2" fill="#222" textLength="11.7" lengthAdjust="spacingAndGlyphs" stroke="#222" stroke-width="0.22">KO</text>
<text x="456.8" y="96.5" font-size="8.6" fill="#222" text-anchor="middle" textLength="33" lengthAdjust="spacingAndGlyphs" transform="rotate(-90 456.8 96.5)" stroke="#222" stroke-width="0.22">BRG1 (au)</text>
<text x="6.4" y="219.6" font-size="11.6" fill="#000" font-weight="bold">C</text>
<ellipse cx="103.85" cy="274.95" rx="43.15" ry="41.55" fill="#e08491" stroke="#d86c80" stroke-width="0.8"/>
<ellipse cx="121.7" cy="259.05" rx="23.3" ry="22.6" fill="rgb(198,19,55)" fill-opacity="0.7"/>
<text x="109.6" y="261.6" font-size="9.4" fill="#1a0a0a" textLength="22.5" lengthAdjust="spacingAndGlyphs" stroke="#1a0a0a" stroke-width="0.22">1,358</text>
<text x="83.2" y="295" font-size="9.6" fill="#1a0a0a" textLength="23.5" lengthAdjust="spacingAndGlyphs" stroke="#1a0a0a" stroke-width="0.22">9,459</text>
<line x1="147.8" y1="227" x2="137.6" y2="237.6" stroke="#000" stroke-width="1.3"/>
<path d="M135.0 240.6 L136.2 234.6 L140.9 239.0 Z" fill="#000"/>
<text x="149.6" y="230" font-size="9.6" fill="#222" textLength="10" lengthAdjust="spacingAndGlyphs" stroke="#222" stroke-width="0.22">57</text>
<text x="150.4" y="251.3" font-size="9.6" fill="#222" textLength="23.5" lengthAdjust="spacingAndGlyphs" stroke="#222" stroke-width="0.22">BRG1</text>
<text x="150.4" y="262.8" font-size="9.6" fill="#222" textLength="44.6" lengthAdjust="spacingAndGlyphs" stroke="#222" stroke-width="0.22">Hemogen-</text>
<text x="150.4" y="274.3" font-size="9.6" fill="#222" textLength="13.8" lengthAdjust="spacingAndGlyphs" stroke="#222" stroke-width="0.22">KO</text>
<text x="23" y="299.2" font-size="9.6" fill="#222" textLength="23.6" lengthAdjust="spacingAndGlyphs" stroke="#222" stroke-width="0.22">BRG1</text>
<text x="23" y="310.7" font-size="9.6" fill="#222" textLength="45" lengthAdjust="spacingAndGlyphs" stroke="#222" stroke-width="0.22">Hemogen-</text>
<text x="23" y="322" font-size="9.6" fill="#222" textLength="14.4" lengthAdjust="spacingAndGlyphs" stroke="#222" stroke-width="0.22">WT</text>
<text x="6.6" y="351.2" font-size="11.6" fill="#000" font-weight="bold">D</text>
<line x1="55.1" y1="344.5" x2="55.1" y2="428.5" stroke="#222" stroke-width="1.3"/>
<line x1="54.5" y1="427.9" x2="183.3" y2="427.9" stroke="#222" stroke-width="1.3"/>
<line x1="50.6" y1="354.6" x2="55.1" y2="354.6" stroke="#222" stroke-width="1"/>
<text x="48.6" y="357.4" font-size="8.1" fill="#222" text-anchor="end" textLength="8.3" lengthAdjust="spacingAndGlyphs" stroke="#222" stroke-width="0.22">10</text>
<line x1="50.6" y1="369.9" x2="55.1" y2="369.9" stroke="#222" stroke-width="1"/>
<text x="48.6" y="372.7" font-size="8.1" fill="#222" text-anchor="end" textLength="4.15" lengthAdjust="spacingAndGlyphs" stroke="#222" stroke-width="0.22">8</text>
<line x1="50.6" y1="385.3" x2="55.1" y2="385.3" stroke="#222" stroke-width="1"/>
<text x="48.6" y="388.1" font-size="8.1" fill="#222" text-anchor="end" textLength="4.15" lengthAdjust="spacingAndGlyphs" stroke="#222" stroke-width="0.22">6</text>
<line x1="50.6" y1="400.5" x2="55.1" y2="400.5" stroke="#222" stroke-width="1"/>
<text x="48.6" y="403.3" font-size="8.1" fill="#222" text-anchor="end" textLength="4.15" lengthAdjust="spacingAndGlyphs" stroke="#222" stroke-width="0.22">4</text>
<line x1="50.6" y1="415.8" x2="55.1" y2="415.8" stroke="#222" stroke-width="1"/>
<text x="48.6" y="418.6" font-size="8.1" fill="#222" text-anchor="end" textLength="4.15" lengthAdjust="spacingAndGlyphs" stroke="#222" stroke-width="0.22">2</text>
<line x1="54.8" y1="427.9" x2="54.8" y2="430.6" stroke="#222" stroke-width="1"/>
<line x1="117.3" y1="427.9" x2="117.3" y2="430.6" stroke="#222" stroke-width="1"/>
<line x1="180.6" y1="427.9" x2="180.6" y2="430.6" stroke="#222" stroke-width="1"/>
<text x="44.6" y="440.4" font-size="8.6" fill="#222" textLength="16.4" lengthAdjust="spacingAndGlyphs" stroke="#222" stroke-width="0.22">–3.0</text>
<text x="105.2" y="440.4" font-size="8.6" fill="#222" textLength="24.6" lengthAdjust="spacingAndGlyphs" stroke="#222" stroke-width="0.22">Center</text>
<text x="169.2" y="440.4" font-size="8.6" fill="#222" textLength="23.1" lengthAdjust="spacingAndGlyphs" stroke="#222" stroke-width="0.22">3.0 Kb</text>
<text x="34.6" y="386.8" font-size="9.2" fill="#222" text-anchor="middle" textLength="58.6" lengthAdjust="spacingAndGlyphs" transform="rotate(-90 34.6 386.8)" stroke="#222" stroke-width="0.22">Scaled read count</text>
<path d="M54.0,408.42 L54.6,408.17 L55.3,407.91 L55.9,407.65 L56.5,407.39 L57.2,407.12 L57.8,406.84 L58.4,406.56 L59.1,406.28 L59.7,405.99 L60.3,405.70 L61.0,405.40 L61.6,405.10 L62.2,404.79 L62.9,404.48 L63.5,404.16 L64.1,403.83 L64.8,403.50 L65.4,403.17 L66.0,402.83 L66.7,402.48 L67.3,402.13 L67.9,401.77 L68.6,401.41 L69.2,401.04 L69.8,400.66 L70.5,400.28 L71.1,399.89 L71.7,399.49 L72.4,399.09 L73.0,398.68 L73.6,398.27 L74.3,397.84 L74.9,397.41 L75.5,396.98 L76.2,396.53 L76.8,396.08 L77.4,395.62 L78.1,395.15 L78.7,394.68 L79.3,394.20 L80.0,393.71 L80.6,393.21 L81.2,392.70 L81.9,392.18 L82.5,391.66 L83.1,391.12 L83.8,390.58 L84.4,390.03 L85.0,389.47 L85.7,388.90 L86.3,388.32 L86.9,387.73 L87.5,387.13 L88.2,386.52 L88.8,385.90 L89.4,385.27 L90.1,384.63 L90.7,383.98 L91.3,383.32 L92.0,382.65 L92.6,381.97 L93.2,381.27 L93.9,380.56 L94.5,379.85 L95.1,379.12 L95.8,378.37 L96.4,377.62 L97.0,376.85 L97.7,376.07 L98.3,375.28 L98.9,374.47 L99.6,373.66 L100.2,372.82 L100.8,371.98 L101.5,371.12 L102.1,370.25 L102.7,369.36 L103.4,368.46 L104.0,367.54 L104.6,366.61 L105.3,365.67 L105.9,364.71 L106.5,363.74 L107.2,362.75 L107.8,361.75 L108.4,360.73 L109.1,359.71 L109.7,358.66 L110.3,357.61 L111.0,356.55 L111.6,355.48 L112.2,354.40 L112.9,353.32 L113.5,352.25 L114.1,351.21 L114.8,350.20 L115.4,349.27 L116.0,348.48 L116.7,347.92 L117.3,347.72 L117.9,347.92 L118.6,348.48 L119.2,349.27 L119.8,350.20 L120.5,351.21 L121.1,352.25 L121.7,353.32 L122.4,354.40 L123.0,355.48 L123.6,356.55 L124.3,357.61 L124.9,358.66 L125.5,359.71 L126.2,360.73 L126.8,361.75 L127.4,362.75 L128.1,363.74 L128.7,364.71 L129.3,365.67 L130.0,366.61 L130.6,367.54 L131.2,368.46 L131.9,369.36 L132.5,370.25 L133.1,371.12 L133.8,371.98 L134.4,372.82 L135.0,373.66 L135.7,374.47 L136.3,375.28 L136.9,376.07 L137.6,376.85 L138.2,377.62 L138.8,378.37 L139.5,379.12 L140.1,379.85 L140.7,380.56 L141.4,381.27 L142.0,381.97 L142.6,382.65 L143.3,383.32 L143.9,383.98 L144.5,384.63 L145.2,385.27 L145.8,385.90 L146.4,386.52 L147.1,387.13 L147.7,387.73 L148.3,388.32 L148.9,388.90 L149.6,389.47 L150.2,390.03 L150.8,390.58 L151.5,391.12 L152.1,391.66 L152.7,392.18 L153.4,392.70 L154.0,393.21 L154.6,393.71 L155.3,394.20 L155.9,394.68 L156.5,395.15 L157.2,395.62 L157.8,396.08 L158.4,396.53 L159.1,396.98 L159.7,397.41 L160.3,397.84 L161.0,398.27 L161.6,398.68 L162.2,399.09 L162.9,399.49 L163.5,399.89 L164.1,400.28 L164.8,400.66 L165.4,401.04 L166.0,401.41 L166.7,401.77 L167.3,402.13 L167.9,402.48 L168.6,402.83 L169.2,403.17 L169.8,403.50 L170.5,403.83 L171.1,404.16 L171.7,404.48 L172.4,404.79 L173.0,405.10 L173.6,405.40 L174.3,405.70 L174.9,405.99 L175.5,406.28 L176.2,406.56 L176.8,406.84 L177.4,407.12 L178.1,407.39 L178.7,407.65 L179.3,407.91 L180.0,408.17 L180.6,408.42" fill="none" stroke="#3dbb4a" stroke-width="1.5"/>
<path d="M54.0,423.07 L54.6,423.02 L55.3,422.97 L55.9,422.91 L56.5,422.86 L57.2,422.80 L57.8,422.74 L58.4,422.69 L59.1,422.62 L59.7,422.56 L60.3,422.50 L61.0,422.43 L61.6,422.36 L62.2,422.29 L62.9,422.22 L63.5,422.15 L64.1,422.07 L64.8,422.00 L65.4,421.92 L66.0,421.84 L66.7,421.75 L67.3,421.67 L67.9,421.58 L68.6,421.49 L69.2,421.39 L69.8,421.30 L70.5,421.20 L71.1,421.10 L71.7,421.00 L72.4,420.89 L73.0,420.78 L73.6,420.67 L74.3,420.56 L74.9,420.44 L75.5,420.32 L76.2,420.19 L76.8,420.07 L77.4,419.94 L78.1,419.80 L78.7,419.66 L79.3,419.52 L80.0,419.38 L80.6,419.23 L81.2,419.08 L81.9,418.92 L82.5,418.76 L83.1,418.59 L83.8,418.42 L84.4,418.25 L85.0,418.07 L85.7,417.89 L86.3,417.70 L86.9,417.51 L87.5,417.31 L88.2,417.10 L88.8,416.90 L89.4,416.68 L90.1,416.46 L90.7,416.24 L91.3,416.00 L92.0,415.77 L92.6,415.52 L93.2,415.27 L93.9,415.02 L94.5,414.75 L95.1,414.48 L95.8,414.21 L96.4,413.92 L97.0,413.63 L97.7,413.33 L98.3,413.03 L98.9,412.71 L99.6,412.39 L100.2,412.06 L100.8,411.72 L101.5,411.37 L102.1,411.02 L102.7,410.65 L103.4,410.28 L104.0,409.90 L104.6,409.51 L105.3,409.11 L105.9,408.70 L106.5,408.29 L107.2,407.86 L107.8,407.43 L108.4,406.98 L109.1,406.53 L109.7,406.08 L110.3,405.62 L111.0,405.15 L111.6,404.68 L112.2,404.22 L112.9,403.76 L113.5,403.31 L114.1,402.89 L114.8,402.49 L115.4,402.15 L116.0,401.88 L116.7,401.71 L117.3,401.65 L117.9,401.71 L118.6,401.88 L119.2,402.15 L119.8,402.49 L120.5,402.89 L121.1,403.31 L121.7,403.76 L122.4,404.22 L123.0,404.68 L123.6,405.15 L124.3,405.62 L124.9,406.08 L125.5,406.53 L126.2,406.98 L126.8,407.43 L127.4,407.86 L128.1,408.29 L128.7,408.70 L129.3,409.11 L130.0,409.51 L130.6,409.90 L131.2,410.28 L131.9,410.65 L132.5,411.02 L133.1,411.37 L133.8,411.72 L134.4,412.06 L135.0,412.39 L135.7,412.71 L136.3,413.03 L136.9,413.33 L137.6,413.63 L138.2,413.92 L138.8,414.21 L139.5,414.48 L140.1,414.75 L140.7,415.02 L141.4,415.27 L142.0,415.52 L142.6,415.77 L143.3,416.00 L143.9,416.24 L144.5,416.46 L145.2,416.68 L145.8,416.90 L146.4,417.10 L147.1,417.31 L147.7,417.51 L148.3,417.70 L148.9,417.89 L149.6,418.07 L150.2,418.25 L150.8,418.42 L151.5,418.59 L152.1,418.76 L152.7,418.92 L153.4,419.08 L154.0,419.23 L154.6,419.38 L155.3,419.52 L155.9,419.66 L156.5,419.80 L157.2,419.94 L157.8,420.07 L158.4,420.19 L159.1,420.32 L159.7,420.44 L160.3,420.56 L161.0,420.67 L161.6,420.78 L162.2,420.89 L162.9,421.00 L163.5,421.10 L164.1,421.20 L164.8,421.30 L165.4,421.39 L166.0,421.49 L166.7,421.58 L167.3,421.67 L167.9,421.75 L168.6,421.84 L169.2,421.92 L169.8,422.00 L170.5,422.07 L171.1,422.15 L171.7,422.22 L172.4,422.29 L173.0,422.36 L173.6,422.43 L174.3,422.50 L174.9,422.56 L175.5,422.62 L176.2,422.69 L176.8,422.74 L177.4,422.80 L178.1,422.86 L178.7,422.91 L179.3,422.97 L180.0,423.02 L180.6,423.07" fill="none" stroke="#5a1f78" stroke-width="1.5"/>
<line x1="154.5" y1="357.9" x2="162.5" y2="357.9" stroke="#3dbb4a" stroke-width="1.5"/>
<line x1="154.5" y1="368.1" x2="162.5" y2="368.1" stroke="#5a1f78" stroke-width="1.5"/>
<text x="165.8" y="360.8" font-size="8.4" fill="#222" textLength="12.2" lengthAdjust="spacingAndGlyphs" stroke="#222" stroke-width="0.22">WT</text>
<text x="165.8" y="371" font-size="8.4" fill="#222" textLength="14" lengthAdjust="spacingAndGlyphs" stroke="#222" stroke-width="0.22">Mut</text>
<text x="237.4" y="219" font-size="11.6" fill="#000" font-weight="bold">E</text>
<text x="277.5" y="218.8" font-size="10" fill="#222" textLength="43.3" lengthAdjust="spacingAndGlyphs" stroke="#222" stroke-width="0.22">Promoters</text>
<text x="424.2" y="219" font-size="10" fill="#222" textLength="42.9" lengthAdjust="spacingAndGlyphs" stroke="#222" stroke-width="0.22">Enhancers</text>
<text x="258.8" y="230" font-size="8.2" fill="#222" textLength="19" lengthAdjust="spacingAndGlyphs" stroke="#222" stroke-width="0.22">BRG1</text>
<text x="311.5" y="230" font-size="8.2" fill="#222" textLength="36" lengthAdjust="spacingAndGlyphs" stroke="#222" stroke-width="0.22">ATAC-seq</text>
<text x="405.6" y="230" font-size="8.2" fill="#222" textLength="19.2" lengthAdjust="spacingAndGlyphs" stroke="#222" stroke-width="0.22">BRG1</text>
<text x="458.5" y="230" font-size="8.2" fill="#222" textLength="35.5" lengthAdjust="spacingAndGlyphs" stroke="#222" stroke-width="0.22">ATAC-seq</text>
<text x="249.8" y="239.6" font-size="8.2" fill="#222" textLength="37.1" lengthAdjust="spacingAndGlyphs" stroke="#222" stroke-width="0.22">KO vs. WT</text>
<text x="310.9" y="239.6" font-size="8.2" fill="#222" textLength="38" lengthAdjust="spacingAndGlyphs" stroke="#222" stroke-width="0.22">KO vs. WT</text>
<text x="396.9" y="239.6" font-size="8.2" fill="#222" textLength="36.1" lengthAdjust="spacingAndGlyphs" stroke="#222" stroke-width="0.22">KO vs. WT</text>
<text x="457.5" y="239.6" font-size="8.2" fill="#222" textLength="36.5" lengthAdjust="spacingAndGlyphs" stroke="#222" stroke-width="0.22">KO vs. WT</text>
<defs><linearGradient id="g1" x2=".5" spreadMethod="reflect"><stop offset="0" stop-color="#c64708"/><stop offset="0.28" stop-color="#d15409"/><stop offset="0.52" stop-color="#c44508"/><stop offset="0.66" stop-color="#c14308"/><stop offset="0.77" stop-color="#b83e07"/><stop offset="0.89" stop-color="#c44508"/><stop offset="1" stop-color="#c54608"/></linearGradient><linearGradient id="g2" x2=".5" spreadMethod="reflect"><stop offset="0" stop-color="#eb7f13"/><stop offset="0.28" stop-color="#eb8014"/><stop offset="0.52" stop-color="#ea7d12"/><stop offset="0.66" stop-color="#e0670c"/><stop offset="0.77" stop-color="#c84808"/><stop offset="0.89" stop-color="#d3560a"/><stop offset="1" stop-color="#d4580a"/></linearGradient><linearGradient id="g3" x2=".5" spreadMethod="reflect"><stop offset="0" stop-color="#ee8716"/><stop offset="0.28" stop-color="#f28f18"/><stop offset="0.52" stop-color="#ec8214"/><stop offset="0.66" stop-color="#d75c0a"/><stop offset="0.77" stop-color="#ac3606"/><stop offset="0.89" stop-color="#d85d0a"/><stop offset="1" stop-color="#d4580a"/></linearGradient><linearGradient id="g4" x2=".5" spreadMethod="reflect"><stop offset="0" stop-color="#f6a524"/><stop offset="0.28" stop-color="#f6a826"/><stop offset="0.52" stop-color="#f59e21"/><stop offset="0.66" stop-color="#e97b12"/><stop offset="0.77" stop-color="#c74708"/><stop offset="0.89" stop-color="#e4700e"/><stop offset="1" stop-color="#e67410"/></linearGradient><linearGradient id="g5" x2=".5" spreadMethod="reflect"><stop offset="0" stop-color="#f8b62f"/><stop offset="0.28" stop-color="#f8b830"/><stop offset="0.52" stop-color="#f8b62e"/><stop offset="0.66" stop-color="#ee8615"/><stop offset="0.77" stop-color="#d4580a"/><stop offset="0.89" stop-color="#ec8014"/><stop offset="1" stop-color="#ec8214"/></linearGradient><linearGradient id="g6" x2=".5" spreadMethod="reflect"><stop offset="0" stop-color="#f8b830"/><stop offset="0.28" stop-color="#f9bc34"/><stop offset="0.52" stop-color="#f8b42d"/><stop offset="0.66" stop-color="#f08a17"/><stop offset="0.77" stop-color="#cf5109"/><stop offset="0.89" stop-color="#ee8515"/><stop offset="1" stop-color="#ea7e13"/></linearGradient><linearGradient id="g7" x2=".5" spreadMethod="reflect"><stop offset="0" stop-color="#fac53c"/><stop offset="0.28" stop-color="#fac53c"/><stop offset="0.52" stop-color="#f9bb33"/><stop offset="0.66" stop-color="#ef8816"/><stop offset="0.77" stop-color="#d65a0a"/><stop offset="0.89" stop-color="#ec8214"/><stop offset="1" stop-color="#f18c17"/></linearGradient><linearGradient id="g8" x2=".5" spreadMethod="reflect"><stop offset="0" stop-color="#fbd146"/><stop offset="0.28" stop-color="#fbd045"/><stop offset="0.52" stop-color="#fbcf44"/><stop offset="0.66" stop-color="#f49b1f"/><stop offset="0.77" stop-color="#da5f0b"/><stop offset="0.89" stop-color="#f4951b"/><stop offset="1" stop-color="#f3931a"/></linearGradient><linearGradient id="g9" x2=".5" spreadMethod="reflect"><stop offset="0" stop-color="#fbcc41"/><stop offset="0.28" stop-color="#fbcf44"/><stop offset="0.52" stop-color="#fac93f"/><stop offset="0.66" stop-color="#f4951b"/><stop offset="0.77" stop-color="#d85d0b"/><stop offset="0.89" stop-color="#f39119"/><stop offset="1" stop-color="#f39119"/></linearGradient><linearGradient id="g10" x2=".5" spreadMethod="reflect"><stop offset="0" stop-color="#fcd549"/><stop offset="0.28" stop-color="#fcd549"/><stop offset="0.52" stop-color="#fbce44"/><stop offset="0.66" stop-color="#f4981d"/><stop offset="0.77" stop-color="#d55a0a"/><stop offset="0.89" stop-color="#f4951b"/><stop offset="1" stop-color="#f3931a"/></linearGradient><linearGradient id="g11" x2=".5" spreadMethod="reflect"><stop offset="0" stop-color="#fddc52"/><stop offset="0.28" stop-color="#fcd74b"/><stop offset="0.52" stop-color="#fcd348"/><stop offset="0.66" stop-color="#f59f21"/><stop offset="0.77" stop-color="#e0680c"/><stop offset="0.89" stop-color="#f4981d"/><stop offset="1" stop-color="#f4951b"/></linearGradient><linearGradient id="g12" x2=".5" spreadMethod="reflect"><stop offset="0" stop-color="#fddd52"/><stop offset="0.28" stop-color="#fde057"/><stop offset="0.52" stop-color="#fcd64a"/><stop offset="0.66" stop-color="#f6a524"/><stop offset="0.77" stop-color="#e36d0d"/><stop offset="0.89" stop-color="#f49a1e"/><stop offset="1" stop-color="#f49a1e"/></linearGradient><linearGradient id="g13" x2=".5" spreadMethod="reflect"><stop offset="0" stop-color="#fee65f"/><stop offset="0.28" stop-color="#fee65f"/><stop offset="0.52" stop-color="#fde057"/><stop offset="0.66" stop-color="#f9b931"/><stop offset="0.77" stop-color="#ea7d12"/><stop offset="0.89" stop-color="#f7ad29"/><stop offset="1" stop-color="#f6a525"/></linearGradient><linearGradient id="g14" x2=".5" spreadMethod="reflect"><stop offset="0" stop-color="#ffee69"/><stop offset="0.28" stop-color="#feea64"/><stop offset="0.52" stop-color="#fee35a"/><stop offset="0.66" stop-color="#f8b12c"/><stop offset="0.77" stop-color="#e77710"/><stop offset="0.89" stop-color="#f7ad29"/><stop offset="1" stop-color="#f7af2a"/></linearGradient><linearGradient id="g15" x2=".5" spreadMethod="reflect"><stop offset="0" stop-color="#fde158"/><stop offset="0.28" stop-color="#fde259"/><stop offset="0.52" stop-color="#fdde54"/><stop offset="0.66" stop-color="#f6a826"/><stop offset="0.77" stop-color="#e87811"/><stop offset="0.89" stop-color="#f7aa27"/><stop offset="1" stop-color="#f6a424"/></linearGradient><linearGradient id="g16" x2=".5" spreadMethod="reflect"><stop offset="0" stop-color="#fee962"/><stop offset="0.28" stop-color="#fee962"/><stop offset="0.52" stop-color="#fde25a"/><stop offset="0.66" stop-color="#f7b02b"/><stop offset="0.77" stop-color="#ea7d12"/><stop offset="0.89" stop-color="#f7ac29"/><stop offset="1" stop-color="#f6a927"/></linearGradient><linearGradient id="g17" x2=".5" spreadMethod="reflect"><stop offset="0" stop-color="#fff26f"/><stop offset="0.28" stop-color="#fff06d"/><stop offset="0.52" stop-color="#ffef6a"/><stop offset="0.66" stop-color="#fac73d"/><stop offset="0.77" stop-color="#f39019"/><stop offset="0.89" stop-color="#fac239"/><stop offset="1" stop-color="#f9bd35"/></linearGradient><linearGradient id="g18" x2=".5" spreadMethod="reflect"><stop offset="0" stop-color="#fff270"/><stop offset="0.28" stop-color="#ffee69"/><stop offset="0.52" stop-color="#ffef6a"/><stop offset="0.66" stop-color="#fac53c"/><stop offset="0.77" stop-color="#f3921a"/><stop offset="0.89" stop-color="#fac239"/><stop offset="1" stop-color="#f9bd35"/></linearGradient><linearGradient id="g19" x2=".5" spreadMethod="reflect"><stop offset="0" stop-color="#fee861"/><stop offset="0.28" stop-color="#ffeb65"/><stop offset="0.52" stop-color="#fee963"/><stop offset="0.66" stop-color="#f9c037"/><stop offset="0.77" stop-color="#f18d18"/><stop offset="0.89" stop-color="#f8b42d"/><stop offset="1" stop-color="#f8b52e"/></linearGradient><linearGradient id="g20" x2=".5" spreadMethod="reflect"><stop offset="0" stop-color="#ffed68"/><stop offset="0.28" stop-color="#ffea64"/><stop offset="0.52" stop-color="#ffeb65"/><stop offset="0.66" stop-color="#f9bd35"/><stop offset="0.77" stop-color="#f4971c"/><stop offset="0.89" stop-color="#f9bf36"/><stop offset="1" stop-color="#f8b830"/></linearGradient><linearGradient id="g21" x2=".5" spreadMethod="reflect"><stop offset="0" stop-color="#ffec67"/><stop offset="0.28" stop-color="#ffea64"/><stop offset="0.52" stop-color="#fee962"/><stop offset="0.66" stop-color="#f9bc34"/><stop offset="0.77" stop-color="#f28e18"/><stop offset="0.89" stop-color="#f9bc34"/><stop offset="1" stop-color="#f8b72f"/></linearGradient><linearGradient id="g22" x2=".5" spreadMethod="reflect"><stop offset="0" stop-color="#ffee6a"/><stop offset="0.28" stop-color="#ffee69"/><stop offset="0.52" stop-color="#ffed67"/><stop offset="0.66" stop-color="#fac63c"/><stop offset="0.77" stop-color="#f4981d"/><stop offset="0.89" stop-color="#f9c037"/><stop offset="1" stop-color="#f9bc34"/></linearGradient><linearGradient id="g23" x2=".5" spreadMethod="reflect"><stop offset="0" stop-color="#fff16e"/><stop offset="0.28" stop-color="#ffef6b"/><stop offset="0.52" stop-color="#ffeb65"/><stop offset="0.66" stop-color="#fac93f"/><stop offset="0.77" stop-color="#f49a1e"/><stop offset="0.89" stop-color="#f9c138"/><stop offset="1" stop-color="#fac239"/></linearGradient><linearGradient id="g24" x2=".5" spreadMethod="reflect"><stop offset="0" stop-color="#fff06d"/><stop offset="0.28" stop-color="#ffec67"/><stop offset="0.52" stop-color="#ffec67"/><stop offset="0.66" stop-color="#fbce43"/><stop offset="0.77" stop-color="#f5a223"/><stop offset="0.89" stop-color="#fac63d"/><stop offset="1" stop-color="#f9be35"/></linearGradient><linearGradient id="g25" x2=".5" spreadMethod="reflect"><stop offset="0" stop-color="#ffef6b"/><stop offset="0.28" stop-color="#ffec66"/><stop offset="0.52" stop-color="#fee862"/><stop offset="0.66" stop-color="#fac53b"/><stop offset="0.77" stop-color="#f49b1f"/><stop offset="0.89" stop-color="#fac43b"/><stop offset="1" stop-color="#f9bf36"/></linearGradient><linearGradient id="g26" x2=".5" spreadMethod="reflect"><stop offset="0" stop-color="#fff474"/><stop offset="0.28" stop-color="#fff26f"/><stop offset="0.52" stop-color="#fff06c"/><stop offset="0.66" stop-color="#fbcd43"/><stop offset="0.77" stop-color="#f6a424"/><stop offset="0.89" stop-color="#fbcf44"/><stop offset="1" stop-color="#faca40"/></linearGradient><linearGradient id="g27" x2=".5" spreadMethod="reflect"><stop offset="0" stop-color="#fff16f"/><stop offset="0.28" stop-color="#fff271"/><stop offset="0.52" stop-color="#ffed67"/><stop offset="0.66" stop-color="#fbce44"/><stop offset="0.77" stop-color="#f6a927"/><stop offset="0.89" stop-color="#fcd448"/><stop offset="1" stop-color="#fac93f"/></linearGradient><linearGradient id="g28" x2=".5" spreadMethod="reflect"><stop offset="0" stop-color="#fff371"/><stop offset="0.28" stop-color="#fff26f"/><stop offset="0.52" stop-color="#fff16e"/><stop offset="0.66" stop-color="#fcd347"/><stop offset="0.77" stop-color="#f7ae2a"/><stop offset="0.89" stop-color="#fbd247"/><stop offset="1" stop-color="#fbce43"/></linearGradient><linearGradient id="g29" x2=".5" spreadMethod="reflect"><stop offset="0" stop-color="#fff271"/><stop offset="0.28" stop-color="#fff06d"/><stop offset="0.52" stop-color="#ffef6a"/><stop offset="0.66" stop-color="#fcd94d"/><stop offset="0.77" stop-color="#f7b02b"/><stop offset="0.89" stop-color="#fbcd43"/><stop offset="1" stop-color="#fbd045"/></linearGradient><linearGradient id="g30" x2=".5" spreadMethod="reflect"><stop offset="0" stop-color="#fee760"/><stop offset="0.28" stop-color="#ffec66"/><stop offset="0.52" stop-color="#fee760"/><stop offset="0.66" stop-color="#fac63c"/><stop offset="0.77" stop-color="#f7aa27"/><stop offset="0.89" stop-color="#fbcc41"/><stop offset="1" stop-color="#fac93f"/></linearGradient><linearGradient id="g31" x2=".5" spreadMethod="reflect"><stop offset="0" stop-color="#fff678"/><stop offset="0.28" stop-color="#fff473"/><stop offset="0.52" stop-color="#fff372"/><stop offset="0.66" stop-color="#fddc51"/><stop offset="0.77" stop-color="#f9ba32"/><stop offset="0.89" stop-color="#fddb50"/><stop offset="1" stop-color="#fcd94e"/></linearGradient><linearGradient id="g32" x2=".5" spreadMethod="reflect"><stop offset="0" stop-color="#fff270"/><stop offset="0.28" stop-color="#fff271"/><stop offset="0.52" stop-color="#ffef6a"/><stop offset="0.66" stop-color="#fcd94e"/><stop offset="0.77" stop-color="#f8b72f"/><stop offset="0.89" stop-color="#fbd247"/><stop offset="1" stop-color="#fbd146"/></linearGradient></defs>
<rect x="250.2" y="242.8" width="31.6" height="2.58" fill="url(#g1)"/><rect x="250.2" y="245.03" width="31.6" height="2.58" fill="url(#g2)"/><rect x="250.2" y="247.26" width="31.6" height="2.58" fill="url(#g3)"/><rect x="250.2" y="249.49" width="31.6" height="2.58" fill="url(#g4)"/><rect x="250.2" y="251.73" width="31.6" height="2.58" fill="url(#g5)"/><rect x="250.2" y="253.96" width="31.6" height="2.58" fill="url(#g6)"/><rect x="250.2" y="256.19" width="31.6" height="2.58" fill="url(#g7)"/><rect x="250.2" y="258.42" width="31.6" height="2.58" fill="url(#g8)"/><rect x="250.2" y="260.65" width="31.6" height="2.58" fill="url(#g9)"/><rect x="250.2" y="262.88" width="31.6" height="2.58" fill="url(#g10)"/><rect x="250.2" y="265.11" width="31.6" height="2.58" fill="url(#g11)"/><rect x="250.2" y="267.34" width="31.6" height="2.58" fill="url(#g12)"/><rect x="250.2" y="269.57" width="31.6" height="2.58" fill="url(#g13)"/><rect x="250.2" y="271.81" width="31.6" height="2.58" fill="url(#g14)"/><rect x="250.2" y="274.04" width="31.6" height="2.58" fill="url(#g15)"/><rect x="250.2" y="276.27" width="31.6" height="2.58" fill="url(#g16)"/><rect x="250.2" y="278.5" width="31.6" height="2.58" fill="url(#g17)"/><rect x="250.2" y="280.73" width="31.6" height="2.58" fill="url(#g18)"/><rect x="250.2" y="282.96" width="31.6" height="2.58" fill="url(#g19)"/><rect x="250.2" y="285.19" width="31.6" height="2.58" fill="url(#g20)"/><rect x="250.2" y="287.43" width="31.6" height="2.58" fill="url(#g21)"/><rect x="250.2" y="289.66" width="31.6" height="2.58" fill="url(#g22)"/><rect x="250.2" y="291.89" width="31.6" height="2.58" fill="url(#g23)"/><rect x="250.2" y="294.12" width="31.6" height="2.58" fill="url(#g24)"/><rect x="250.2" y="296.35" width="31.6" height="2.58" fill="url(#g25)"/><rect x="250.2" y="298.58" width="31.6" height="2.58" fill="url(#g26)"/><rect x="250.2" y="300.81" width="31.6" height="2.58" fill="url(#g27)"/><rect x="250.2" y="303.04" width="31.6" height="2.58" fill="url(#g28)"/><rect x="250.2" y="305.28" width="31.6" height="2.58" fill="url(#g29)"/><rect x="250.2" y="307.51" width="31.6" height="2.58" fill="url(#g30)"/><rect x="250.2" y="309.74" width="31.6" height="2.58" fill="url(#g31)"/><rect x="250.2" y="311.97" width="31.6" height="2.58" fill="url(#g32)"/>
<rect x="250.6" y="243.2" width="30.8" height="70.6" fill="none" stroke="#2a2a2a" stroke-width="0.9"/>
<defs><linearGradient id="g33" x2=".5" spreadMethod="reflect"><stop offset="0" stop-color="#fff06d"/><stop offset="0.28" stop-color="#ffef6b"/><stop offset="0.52" stop-color="#ffee68"/><stop offset="0.66" stop-color="#fee55d"/><stop offset="0.77" stop-color="#fddd53"/><stop offset="0.89" stop-color="#fac53b"/><stop offset="1" stop-color="#f8b730"/></linearGradient><linearGradient id="g34" x2=".5" spreadMethod="reflect"><stop offset="0" stop-color="#ffed68"/><stop offset="0.28" stop-color="#fff16f"/><stop offset="0.52" stop-color="#ffef6b"/><stop offset="0.66" stop-color="#ffec66"/><stop offset="0.77" stop-color="#fdde54"/><stop offset="0.89" stop-color="#fbcd43"/><stop offset="1" stop-color="#fac73d"/></linearGradient><linearGradient id="g35" x2=".5" spreadMethod="reflect"><stop offset="0" stop-color="#fff97c"/><stop offset="0.28" stop-color="#fff77a"/><stop offset="0.52" stop-color="#fffa7e"/><stop offset="0.66" stop-color="#fff677"/><stop offset="0.77" stop-color="#ffef6a"/><stop offset="0.89" stop-color="#fee45c"/><stop offset="1" stop-color="#fdde54"/></linearGradient><linearGradient id="g36" x2=".5" spreadMethod="reflect"><stop offset="0" stop-color="#fffe85"/><stop offset="0.28" stop-color="#ffff8b"/><stop offset="0.52" stop-color="#fffc82"/><stop offset="0.66" stop-color="#fff77a"/><stop offset="0.77" stop-color="#fff87a"/><stop offset="0.89" stop-color="#ffee6a"/><stop offset="1" stop-color="#fee760"/></linearGradient><linearGradient id="g37" x2=".5" spreadMethod="reflect"><stop offset="0" stop-color="#ffff86"/><stop offset="0.28" stop-color="#fff97d"/><stop offset="0.52" stop-color="#fffd84"/><stop offset="0.66" stop-color="#fff678"/><stop offset="0.77" stop-color="#fff676"/><stop offset="0.89" stop-color="#fff06d"/><stop offset="1" stop-color="#ffec66"/></linearGradient><linearGradient id="g38" x2=".5" spreadMethod="reflect"><stop offset="0" stop-color="#fffb80"/><stop offset="0.28" stop-color="#fffb80"/><stop offset="0.52" stop-color="#fffc81"/><stop offset="0.66" stop-color="#fff77a"/><stop offset="0.77" stop-color="#fff575"/><stop offset="0.89" stop-color="#fff16e"/><stop offset="1" stop-color="#ffef6b"/></linearGradient><linearGradient id="g39" x2=".5" spreadMethod="reflect"><stop offset="0" stop-color="#fffd83"/><stop offset="0.28" stop-color="#fffb81"/><stop offset="0.52" stop-color="#fffb81"/><stop offset="0.66" stop-color="#fffb7f"/><stop offset="0.77" stop-color="#fff677"/><stop offset="0.89" stop-color="#fff474"/><stop offset="1" stop-color="#fff16f"/></linearGradient><linearGradient id="g40" x2=".5" spreadMethod="reflect"><stop offset="0" stop-color="#fffc82"/><stop offset="0.28" stop-color="#fffa7f"/><stop offset="0.52" stop-color="#fff779"/><stop offset="0.66" stop-color="#fffa7e"/><stop offset="0.77" stop-color="#fff474"/><stop offset="0.89" stop-color="#fff575"/><stop offset="1" stop-color="#fff16e"/></linearGradient><linearGradient id="g41" x2=".5" spreadMethod="reflect"><stop offset="0" stop-color="#ffff8c"/><stop offset="0.28" stop-color="#ffff8b"/><stop offset="0.52" stop-color="#ffff8b"/><stop offset="0.66" stop-color="#fffd83"/><stop offset="0.77" stop-color="#fffb80"/><stop offset="0.89" stop-color="#fff87b"/><stop offset="1" stop-color="#fff87b"/></linearGradient><linearGradient id="g42" x2=".5" spreadMethod="reflect"><stop offset="0" stop-color="#fff678"/><stop offset="0.28" stop-color="#fff77a"/><stop offset="0.52" stop-color="#fffa7d"/><stop offset="0.66" stop-color="#fff677"/><stop offset="0.77" stop-color="#fff474"/><stop offset="0.89" stop-color="#fff372"/><stop offset="1" stop-color="#fff16e"/></linearGradient><linearGradient id="g43" x2=".5" spreadMethod="reflect"><stop offset="0" stop-color="#fffb80"/><stop offset="0.28" stop-color="#fffa7d"/><stop offset="0.52" stop-color="#fffa7e"/><stop offset="0.66" stop-color="#fff97d"/><stop offset="0.77" stop-color="#fff97c"/><stop offset="0.89" stop-color="#fff779"/><stop offset="1" stop-color="#fff676"/></linearGradient><linearGradient id="g44" x2=".5" spreadMethod="reflect"><stop offset="0" stop-color="#fff575"/><stop offset="0.28" stop-color="#fff97d"/><stop offset="0.52" stop-color="#fffa7f"/><stop offset="0.66" stop-color="#fff97c"/><stop offset="0.77" stop-color="#fff87b"/><stop offset="0.89" stop-color="#fff677"/><stop offset="1" stop-color="#fff474"/></linearGradient><linearGradient id="g45" x2=".5" spreadMethod="reflect"><stop offset="0" stop-color="#fffe86"/><stop offset="0.28" stop-color="#fffe85"/><stop offset="0.52" stop-color="#fffd83"/><stop offset="0.66" stop-color="#fffc81"/><stop offset="0.77" stop-color="#fffc82"/><stop offset="0.89" stop-color="#fff97c"/><stop offset="1" stop-color="#fffd83"/></linearGradient><linearGradient id="g46" x2=".5" spreadMethod="reflect"><stop offset="0" stop-color="#fffc81"/><stop offset="0.28" stop-color="#fffb80"/><stop offset="0.52" stop-color="#fffa7e"/><stop offset="0.66" stop-color="#fffc82"/><stop offset="0.77" stop-color="#fff87a"/><stop offset="0.89" stop-color="#fff87a"/><stop offset="1" stop-color="#fff97c"/></linearGradient><linearGradient id="g47" x2=".5" spreadMethod="reflect"><stop offset="0" stop-color="#fffd84"/><stop offset="0.28" stop-color="#ffff89"/><stop offset="0.52" stop-color="#fffb81"/><stop offset="0.66" stop-color="#fffa7f"/><stop offset="0.77" stop-color="#fffa7e"/><stop offset="0.89" stop-color="#fffb81"/><stop offset="1" stop-color="#fffa7e"/></linearGradient><linearGradient id="g48" x2=".5" spreadMethod="reflect"><stop offset="0" stop-color="#fff678"/><stop offset="0.28" stop-color="#fff778"/><stop offset="0.52" stop-color="#fff87b"/><stop offset="0.66" stop-color="#fff677"/><stop offset="0.77" stop-color="#fff575"/><stop offset="0.89" stop-color="#fff575"/><stop offset="1" stop-color="#fff778"/></linearGradient><linearGradient id="g49" x2=".5" spreadMethod="reflect"><stop offset="0" stop-color="#fffd84"/><stop offset="0.28" stop-color="#fffc82"/><stop offset="0.52" stop-color="#fffb80"/><stop offset="0.66" stop-color="#fffd83"/><stop offset="0.77" stop-color="#fffc81"/><stop offset="0.89" stop-color="#fff87b"/><stop offset="1" stop-color="#fffb7f"/></linearGradient><linearGradient id="g50" x2=".5" spreadMethod="reflect"><stop offset="0" stop-color="#fffb80"/><stop offset="0.28" stop-color="#fffc82"/><stop offset="0.52" stop-color="#fffa7f"/><stop offset="0.66" stop-color="#fffb80"/><stop offset="0.77" stop-color="#fffd84"/><stop offset="0.89" stop-color="#fffc81"/><stop offset="1" stop-color="#fffa7e"/></linearGradient><linearGradient id="g51" x2=".5" spreadMethod="reflect"><stop offset="0" stop-color="#fff97d"/><stop offset="0.28" stop-color="#fff97c"/><stop offset="0.52" stop-color="#fff77a"/><stop offset="0.66" stop-color="#fff87a"/><stop offset="0.77" stop-color="#fff97c"/><stop offset="0.89" stop-color="#fff575"/><stop offset="1" stop-color="#fff576"/></linearGradient><linearGradient id="g52" x2=".5" spreadMethod="reflect"><stop offset="0" stop-color="#ffff90"/><stop offset="0.28" stop-color="#ffff92"/><stop offset="0.52" stop-color="#ffff90"/><stop offset="0.66" stop-color="#ffff94"/><stop offset="0.77" stop-color="#ffff8f"/><stop offset="0.89" stop-color="#ffff89"/><stop offset="1" stop-color="#ffff89"/></linearGradient><linearGradient id="g53" x2=".5" spreadMethod="reflect"><stop offset="0" stop-color="#fff677"/><stop offset="0.28" stop-color="#fff677"/><stop offset="0.52" stop-color="#fff677"/><stop offset="0.66" stop-color="#fff97d"/><stop offset="0.77" stop-color="#fff373"/><stop offset="0.89" stop-color="#fff778"/><stop offset="1" stop-color="#fff678"/></linearGradient><linearGradient id="g54" x2=".5" spreadMethod="reflect"><stop offset="0" stop-color="#fffc81"/><stop offset="0.28" stop-color="#ffff8a"/><stop offset="0.52" stop-color="#fffc82"/><stop offset="0.66" stop-color="#fffe86"/><stop offset="0.77" stop-color="#fffe85"/><stop offset="0.89" stop-color="#ffff87"/><stop offset="1" stop-color="#ffff86"/></linearGradient><linearGradient id="g55" x2=".5" spreadMethod="reflect"><stop offset="0" stop-color="#fffc81"/><stop offset="0.28" stop-color="#fffb80"/><stop offset="0.52" stop-color="#fffb80"/><stop offset="0.66" stop-color="#fffd83"/><stop offset="0.77" stop-color="#fffc82"/><stop offset="0.89" stop-color="#fffd83"/><stop offset="1" stop-color="#fffb80"/></linearGradient><linearGradient id="g56" x2=".5" spreadMethod="reflect"><stop offset="0" stop-color="#ffff95"/><stop offset="0.28" stop-color="#ffff8e"/><stop offset="0.52" stop-color="#ffff8d"/><stop offset="0.66" stop-color="#ffff8d"/><stop offset="0.77" stop-color="#ffff90"/><stop offset="0.89" stop-color="#ffff97"/><stop offset="1" stop-color="#ffff8d"/></linearGradient><linearGradient id="g57" x2=".5" spreadMethod="reflect"><stop offset="0" stop-color="#fffb80"/><stop offset="0.28" stop-color="#fffd84"/><stop offset="0.52" stop-color="#fffb7f"/><stop offset="0.66" stop-color="#fff97c"/><stop offset="0.77" stop-color="#fffa7e"/><stop offset="0.89" stop-color="#fffb81"/><stop offset="1" stop-color="#fffa7e"/></linearGradient><linearGradient id="g58" x2=".5" spreadMethod="reflect"><stop offset="0" stop-color="#fffc82"/><stop offset="0.28" stop-color="#fffb80"/><stop offset="0.52" stop-color="#fffc82"/><stop offset="0.66" stop-color="#fffd83"/><stop offset="0.77" stop-color="#fffc82"/><stop offset="0.89" stop-color="#fffe85"/><stop offset="1" stop-color="#fffe85"/></linearGradient><linearGradient id="g59" x2=".5" spreadMethod="reflect"><stop offset="0" stop-color="#fffc82"/><stop offset="0.28" stop-color="#fffa7f"/><stop offset="0.52" stop-color="#fffe86"/><stop offset="0.66" stop-color="#fff97d"/><stop offset="0.77" stop-color="#fffb81"/><stop offset="0.89" stop-color="#fff87b"/><stop offset="1" stop-color="#ffff88"/></linearGradient><linearGradient id="g60" x2=".5" spreadMethod="reflect"><stop offset="0" stop-color="#ffff87"/><stop offset="0.28" stop-color="#ffff8e"/><stop offset="0.52" stop-color="#ffff8d"/><stop offset="0.66" stop-color="#ffff8e"/><stop offset="0.77" stop-color="#ffff8d"/><stop offset="0.89" stop-color="#ffff8b"/><stop offset="1" stop-color="#ffff93"/></linearGradient><linearGradient id="g61" x2=".5" spreadMethod="reflect"><stop offset="0" stop-color="#fffb80"/><stop offset="0.28" stop-color="#fffd83"/><stop offset="0.52" stop-color="#fffe86"/><stop offset="0.66" stop-color="#fffd83"/><stop offset="0.77" stop-color="#fffb81"/><stop offset="0.89" stop-color="#fffd84"/><stop offset="1" stop-color="#fffd84"/></linearGradient><linearGradient id="g62" x2=".5" spreadMethod="reflect"><stop offset="0" stop-color="#fffa7e"/><stop offset="0.28" stop-color="#fff97c"/><stop offset="0.52" stop-color="#fffc81"/><stop offset="0.66" stop-color="#fffb7f"/><stop offset="0.77" stop-color="#fffa7d"/><stop offset="0.89" stop-color="#fffe86"/><stop offset="1" stop-color="#fffb80"/></linearGradient><linearGradient id="g63" x2=".5" spreadMethod="reflect"><stop offset="0" stop-color="#fffc81"/><stop offset="0.28" stop-color="#fffd83"/><stop offset="0.52" stop-color="#fffa7f"/><stop offset="0.66" stop-color="#fff97d"/><stop offset="0.77" stop-color="#fffb81"/><stop offset="0.89" stop-color="#fffc82"/><stop offset="1" stop-color="#fffc81"/></linearGradient><linearGradient id="g64" x2=".5" spreadMethod="reflect"><stop offset="0" stop-color="#fff677"/><stop offset="0.28" stop-color="#fff87b"/><stop offset="0.52" stop-color="#fffa7e"/><stop offset="0.66" stop-color="#fffa7f"/><stop offset="0.77" stop-color="#fff97c"/><stop offset="0.89" stop-color="#fff97c"/><stop offset="1" stop-color="#fff87a"/></linearGradient><linearGradient id="g65" x2=".5" spreadMethod="reflect"><stop offset="0" stop-color="#ffff8a"/><stop offset="0.28" stop-color="#ffff87"/><stop offset="0.52" stop-color="#ffff92"/><stop offset="0.66" stop-color="#fffc82"/><stop offset="0.77" stop-color="#ffff87"/><stop offset="0.89" stop-color="#ffff87"/><stop offset="1" stop-color="#ffff90"/></linearGradient><linearGradient id="g66" x2=".5" spreadMethod="reflect"><stop offset="0" stop-color="#fffe85"/><stop offset="0.28" stop-color="#fffe85"/><stop offset="0.52" stop-color="#ffff95"/><stop offset="0.66" stop-color="#fffe84"/><stop offset="0.77" stop-color="#fffe86"/><stop offset="0.89" stop-color="#fffe86"/><stop offset="1" stop-color="#ffff8e"/></linearGradient><linearGradient id="g67" x2=".5" spreadMethod="reflect"><stop offset="0" stop-color="#fffd83"/><stop offset="0.28" stop-color="#fffb80"/><stop offset="0.52" stop-color="#fff97c"/><stop offset="0.66" stop-color="#fffb80"/><stop offset="0.77" stop-color="#fffa7e"/><stop offset="0.89" stop-color="#fffc82"/><stop offset="1" stop-color="#fffe84"/></linearGradient><linearGradient id="g68" x2=".5" spreadMethod="reflect"><stop offset="0" stop-color="#fffb80"/><stop offset="0.28" stop-color="#fffa7e"/><stop offset="0.52" stop-color="#fffd83"/><stop offset="0.66" stop-color="#fffc82"/><stop offset="0.77" stop-color="#fffd84"/><stop offset="0.89" stop-color="#ffff88"/><stop offset="1" stop-color="#fffc82"/></linearGradient><linearGradient id="g69" x2=".5" spreadMethod="reflect"><stop offset="0" stop-color="#fffc82"/><stop offset="0.28" stop-color="#fffc81"/><stop offset="0.52" stop-color="#ffff86"/><stop offset="0.66" stop-color="#fffb81"/><stop offset="0.77" stop-color="#fff97d"/><stop offset="0.89" stop-color="#fffc81"/><stop offset="1" stop-color="#fffb7f"/></linearGradient><linearGradient id="g70" x2=".5" spreadMethod="reflect"><stop offset="0" stop-color="#fffd83"/><stop offset="0.28" stop-color="#fffb80"/><stop offset="0.52" stop-color="#fffd83"/><stop offset="0.66" stop-color="#fff678"/><stop offset="0.77" stop-color="#fffb80"/><stop offset="0.89" stop-color="#fffd84"/><stop offset="1" stop-color="#fffe85"/></linearGradient><linearGradient id="g71" x2=".5" spreadMethod="reflect"><stop offset="0" stop-color="#fff779"/><stop offset="0.28" stop-color="#fff87a"/><stop offset="0.52" stop-color="#fffb7f"/><stop offset="0.66" stop-color="#fff97d"/><stop offset="0.77" stop-color="#fffa7f"/><stop offset="0.89" stop-color="#fff678"/><stop offset="1" stop-color="#fff97d"/></linearGradient><linearGradient id="g72" x2=".5" spreadMethod="reflect"><stop offset="0" stop-color="#fff677"/><stop offset="0.28" stop-color="#fff87a"/><stop offset="0.52" stop-color="#fff575"/><stop offset="0.66" stop-color="#fffb7f"/><stop offset="0.77" stop-color="#fff87b"/><stop offset="0.89" stop-color="#fff87a"/><stop offset="1" stop-color="#fff576"/></linearGradient><linearGradient id="g73" x2=".5" spreadMethod="reflect"><stop offset="0" stop-color="#fff97c"/><stop offset="0.28" stop-color="#fffc83"/><stop offset="0.52" stop-color="#fffa7f"/><stop offset="0.66" stop-color="#fffb81"/><stop offset="0.77" stop-color="#fff77a"/><stop offset="0.89" stop-color="#fffa7f"/><stop offset="1" stop-color="#fff87b"/></linearGradient><linearGradient id="g74" x2=".5" spreadMethod="reflect"><stop offset="0" stop-color="#fff77a"/><stop offset="0.28" stop-color="#fff677"/><stop offset="0.52" stop-color="#fff87b"/><stop offset="0.66" stop-color="#fff779"/><stop offset="0.77" stop-color="#fff779"/><stop offset="0.89" stop-color="#fff779"/><stop offset="1" stop-color="#fff779"/></linearGradient><linearGradient id="g75" x2=".5" spreadMethod="reflect"><stop offset="0" stop-color="#fffa7f"/><stop offset="0.28" stop-color="#ffff87"/><stop offset="0.52" stop-color="#fffd84"/><stop offset="0.66" stop-color="#fffe85"/><stop offset="0.77" stop-color="#ffff8f"/><stop offset="0.89" stop-color="#fffc82"/><stop offset="1" stop-color="#fffd84"/></linearGradient></defs>
<rect x="250.2" y="317.1" width="31.6" height="2.92" fill="url(#g33)"/><rect x="250.2" y="319.67" width="31.6" height="2.92" fill="url(#g34)"/><rect x="250.2" y="322.24" width="31.6" height="2.92" fill="url(#g35)"/><rect x="250.2" y="324.82" width="31.6" height="2.92" fill="url(#g36)"/><rect x="250.2" y="327.39" width="31.6" height="2.92" fill="url(#g37)"/><rect x="250.2" y="329.96" width="31.6" height="2.92" fill="url(#g38)"/><rect x="250.2" y="332.53" width="31.6" height="2.92" fill="url(#g39)"/><rect x="250.2" y="335.1" width="31.6" height="2.92" fill="url(#g40)"/><rect x="250.2" y="337.68" width="31.6" height="2.92" fill="url(#g41)"/><rect x="250.2" y="340.25" width="31.6" height="2.92" fill="url(#g42)"/><rect x="250.2" y="342.82" width="31.6" height="2.92" fill="url(#g43)"/><rect x="250.2" y="345.39" width="31.6" height="2.92" fill="url(#g44)"/><rect x="250.2" y="347.97" width="31.6" height="2.92" fill="url(#g45)"/><rect x="250.2" y="350.54" width="31.6" height="2.92" fill="url(#g46)"/><rect x="250.2" y="353.11" width="31.6" height="2.92" fill="url(#g47)"/><rect x="250.2" y="355.68" width="31.6" height="2.92" fill="url(#g48)"/><rect x="250.2" y="358.25" width="31.6" height="2.92" fill="url(#g49)"/><rect x="250.2" y="360.83" width="31.6" height="2.92" fill="url(#g50)"/><rect x="250.2" y="363.4" width="31.6" height="2.92" fill="url(#g51)"/><rect x="250.2" y="365.97" width="31.6" height="2.92" fill="url(#g52)"/><rect x="250.2" y="368.54" width="31.6" height="2.92" fill="url(#g53)"/><rect x="250.2" y="371.11" width="31.6" height="2.92" fill="url(#g54)"/><rect x="250.2" y="373.69" width="31.6" height="2.92" fill="url(#g55)"/><rect x="250.2" y="376.26" width="31.6" height="2.92" fill="url(#g56)"/><rect x="250.2" y="378.83" width="31.6" height="2.92" fill="url(#g57)"/><rect x="250.2" y="381.4" width="31.6" height="2.92" fill="url(#g58)"/><rect x="250.2" y="383.97" width="31.6" height="2.92" fill="url(#g59)"/><rect x="250.2" y="386.55" width="31.6" height="2.92" fill="url(#g60)"/><rect x="250.2" y="389.12" width="31.6" height="2.92" fill="url(#g61)"/><rect x="250.2" y="391.69" width="31.6" height="2.92" fill="url(#g62)"/><rect x="250.2" y="394.26" width="31.6" height="2.92" fill="url(#g63)"/><rect x="250.2" y="396.83" width="31.6" height="2.92" fill="url(#g64)"/><rect x="250.2" y="399.41" width="31.6" height="2.92" fill="url(#g65)"/><rect x="250.2" y="401.98" width="31.6" height="2.92" fill="url(#g66)"/><rect x="250.2" y="404.55" width="31.6" height="2.92" fill="url(#g67)"/><rect x="250.2" y="407.12" width="31.6" height="2.92" fill="url(#g68)"/><rect x="250.2" y="409.7" width="31.6" height="2.92" fill="url(#g69)"/><rect x="250.2" y="412.27" width="31.6" height="2.92" fill="url(#g70)"/><rect x="250.2" y="414.84" width="31.6" height="2.92" fill="url(#g71)"/><rect x="250.2" y="417.41" width="31.6" height="2.92" fill="url(#g72)"/><rect x="250.2" y="419.98" width="31.6" height="2.92" fill="url(#g73)"/><rect x="250.2" y="422.56" width="31.6" height="2.92" fill="url(#g74)"/><rect x="250.2" y="425.13" width="31.6" height="2.92" fill="url(#g75)"/>
<rect x="250.6" y="317.5" width="30.8" height="109.8" fill="none" stroke="#2a2a2a" stroke-width="0.9"/>
<rect x="250.2" y="314.2" width="31.6" height="2.9" fill="#a8a8a8"/>
<defs><linearGradient id="g76" x2=".5" spreadMethod="reflect"><stop offset="0" stop-color="#fff473"/><stop offset="0.4" stop-color="#fff576"/><stop offset="0.66" stop-color="#ffef6b"/><stop offset="0.82" stop-color="#fcd94d"/><stop offset="0.91" stop-color="#e1690c"/><stop offset="0.96" stop-color="#962805"/><stop offset="1" stop-color="#962805"/></linearGradient><linearGradient id="g77" x2=".5" spreadMethod="reflect"><stop offset="0" stop-color="#ffeb64"/><stop offset="0.4" stop-color="#ffee69"/><stop offset="0.66" stop-color="#fee862"/><stop offset="0.82" stop-color="#fddd52"/><stop offset="0.91" stop-color="#e6730f"/><stop offset="0.96" stop-color="#962805"/><stop offset="1" stop-color="#962805"/></linearGradient><linearGradient id="g78" x2=".5" spreadMethod="reflect"><stop offset="0" stop-color="#fff06d"/><stop offset="0.4" stop-color="#fff371"/><stop offset="0.66" stop-color="#fff16e"/><stop offset="0.82" stop-color="#fddf55"/><stop offset="0.91" stop-color="#ee8616"/><stop offset="0.96" stop-color="#972905"/><stop offset="1" stop-color="#962805"/></linearGradient><linearGradient id="g79" x2=".5" spreadMethod="reflect"><stop offset="0" stop-color="#fff271"/><stop offset="0.4" stop-color="#fff373"/><stop offset="0.66" stop-color="#fff270"/><stop offset="0.82" stop-color="#fee760"/><stop offset="0.91" stop-color="#f4961c"/><stop offset="0.96" stop-color="#af3807"/><stop offset="1" stop-color="#962805"/></linearGradient><linearGradient id="g80" x2=".5" spreadMethod="reflect"><stop offset="0" stop-color="#fff576"/><stop offset="0.4" stop-color="#ffef6b"/><stop offset="0.66" stop-color="#fff474"/><stop offset="0.82" stop-color="#fde25a"/><stop offset="0.91" stop-color="#f5a223"/><stop offset="0.96" stop-color="#ba3f07"/><stop offset="1" stop-color="#962805"/></linearGradient><linearGradient id="g81" x2=".5" spreadMethod="reflect"><stop offset="0" stop-color="#fff270"/><stop offset="0.4" stop-color="#fff270"/><stop offset="0.66" stop-color="#ffef6b"/><stop offset="0.82" stop-color="#fee861"/><stop offset="0.91" stop-color="#f6a524"/><stop offset="0.96" stop-color="#d15409"/><stop offset="1" stop-color="#a63206"/></linearGradient><linearGradient id="g82" x2=".5" spreadMethod="reflect"><stop offset="0" stop-color="#fff677"/><stop offset="0.4" stop-color="#fff473"/><stop offset="0.66" stop-color="#fff676"/><stop offset="0.82" stop-color="#ffef6b"/><stop offset="0.91" stop-color="#f9ba33"/><stop offset="0.96" stop-color="#e0670c"/><stop offset="1" stop-color="#be4207"/></linearGradient><linearGradient id="g83" x2=".5" spreadMethod="reflect"><stop offset="0" stop-color="#fff77a"/><stop offset="0.4" stop-color="#fff87b"/><stop offset="0.66" stop-color="#fff576"/><stop offset="0.82" stop-color="#fff372"/><stop offset="0.91" stop-color="#f9bf36"/><stop offset="0.96" stop-color="#e5710f"/><stop offset="1" stop-color="#d3570a"/></linearGradient><linearGradient id="g84" x2=".5" spreadMethod="reflect"><stop offset="0" stop-color="#fff779"/><stop offset="0.4" stop-color="#fff473"/><stop offset="0.66" stop-color="#fff372"/><stop offset="0.82" stop-color="#fee962"/><stop offset="0.91" stop-color="#fac63c"/><stop offset="0.96" stop-color="#eb8014"/><stop offset="1" stop-color="#d95f0b"/></linearGradient><linearGradient id="g85" x2=".5" spreadMethod="reflect"><stop offset="0" stop-color="#fff97c"/><stop offset="0.4" stop-color="#fff97c"/><stop offset="0.66" stop-color="#fff778"/><stop offset="0.82" stop-color="#fff372"/><stop offset="0.91" stop-color="#fcd549"/><stop offset="0.96" stop-color="#f08b17"/><stop offset="1" stop-color="#e46f0e"/></linearGradient><linearGradient id="g86" x2=".5" spreadMethod="reflect"><stop offset="0" stop-color="#fff677"/><stop offset="0.4" stop-color="#fff576"/><stop offset="0.66" stop-color="#fff473"/><stop offset="0.82" stop-color="#fff06c"/><stop offset="0.91" stop-color="#fcd64a"/><stop offset="0.96" stop-color="#ef8816"/><stop offset="1" stop-color="#e46f0e"/></linearGradient><linearGradient id="g87" x2=".5" spreadMethod="reflect"><stop offset="0" stop-color="#fff371"/><stop offset="0.4" stop-color="#fff26f"/><stop offset="0.66" stop-color="#fff270"/><stop offset="0.82" stop-color="#ffef6b"/><stop offset="0.91" stop-color="#fcd74b"/><stop offset="0.96" stop-color="#f4961c"/><stop offset="1" stop-color="#e5720f"/></linearGradient><linearGradient id="g88" x2=".5" spreadMethod="reflect"><stop offset="0" stop-color="#fffd83"/><stop offset="0.4" stop-color="#fffb80"/><stop offset="0.66" stop-color="#fff87b"/><stop offset="0.82" stop-color="#fffa7e"/><stop offset="0.91" stop-color="#fee45c"/><stop offset="0.96" stop-color="#f7ad29"/><stop offset="1" stop-color="#ef8816"/></linearGradient><linearGradient id="g89" x2=".5" spreadMethod="reflect"><stop offset="0" stop-color="#fffa7e"/><stop offset="0.4" stop-color="#fff87b"/><stop offset="0.66" stop-color="#fffa7e"/><stop offset="0.82" stop-color="#fff576"/><stop offset="0.91" stop-color="#fde259"/><stop offset="0.96" stop-color="#f8b12c"/><stop offset="1" stop-color="#f4951b"/></linearGradient><linearGradient id="g90" x2=".5" spreadMethod="reflect"><stop offset="0" stop-color="#fff270"/><stop offset="0.4" stop-color="#fff372"/><stop offset="0.66" stop-color="#fff372"/><stop offset="0.82" stop-color="#ffef6a"/><stop offset="0.91" stop-color="#fcda4f"/><stop offset="0.96" stop-color="#f6a826"/><stop offset="1" stop-color="#f28e18"/></linearGradient><linearGradient id="g91" x2=".5" spreadMethod="reflect"><stop offset="0" stop-color="#fff16e"/><stop offset="0.4" stop-color="#fff26f"/><stop offset="0.66" stop-color="#ffef6a"/><stop offset="0.82" stop-color="#ffed68"/><stop offset="0.91" stop-color="#fddd52"/><stop offset="0.96" stop-color="#f7ad29"/><stop offset="1" stop-color="#f4991e"/></linearGradient><linearGradient id="g92" x2=".5" spreadMethod="reflect"><stop offset="0" stop-color="#fff779"/><stop offset="0.4" stop-color="#fff779"/><stop offset="0.66" stop-color="#fff87a"/><stop offset="0.82" stop-color="#fff779"/><stop offset="0.91" stop-color="#ffed68"/><stop offset="0.96" stop-color="#fbd246"/><stop offset="1" stop-color="#f9bf37"/></linearGradient><linearGradient id="g93" x2=".5" spreadMethod="reflect"><stop offset="0" stop-color="#fff778"/><stop offset="0.4" stop-color="#fff778"/><stop offset="0.66" stop-color="#fff474"/><stop offset="0.82" stop-color="#fff676"/><stop offset="0.91" stop-color="#fff16e"/><stop offset="0.96" stop-color="#fddb51"/><stop offset="1" stop-color="#fbcb41"/></linearGradient><linearGradient id="g94" x2=".5" spreadMethod="reflect"><stop offset="0" stop-color="#fff474"/><stop offset="0.4" stop-color="#fff87b"/><stop offset="0.66" stop-color="#fff575"/><stop offset="0.82" stop-color="#fff575"/><stop offset="0.91" stop-color="#fff373"/><stop offset="0.96" stop-color="#fee65f"/><stop offset="1" stop-color="#fcd94d"/></linearGradient><linearGradient id="g95" x2=".5" spreadMethod="reflect"><stop offset="0" stop-color="#fff373"/><stop offset="0.4" stop-color="#fff372"/><stop offset="0.66" stop-color="#fff270"/><stop offset="0.82" stop-color="#fff371"/><stop offset="0.91" stop-color="#fff87b"/><stop offset="0.96" stop-color="#fee862"/><stop offset="1" stop-color="#fcda4f"/></linearGradient><linearGradient id="g96" x2=".5" spreadMethod="reflect"><stop offset="0" stop-color="#fff97c"/><stop offset="0.4" stop-color="#fff576"/><stop offset="0.66" stop-color="#fff576"/><stop offset="0.82" stop-color="#fffa7e"/><stop offset="0.91" stop-color="#ffff8c"/><stop offset="0.96" stop-color="#fff371"/><stop offset="1" stop-color="#ffef6b"/></linearGradient><linearGradient id="g97" x2=".5" spreadMethod="reflect"><stop offset="0" stop-color="#fff97c"/><stop offset="0.4" stop-color="#fff97c"/><stop offset="0.66" stop-color="#fff677"/><stop offset="0.82" stop-color="#fffb80"/><stop offset="0.91" stop-color="#ffff8a"/><stop offset="0.96" stop-color="#fffc81"/><stop offset="1" stop-color="#fff270"/></linearGradient><linearGradient id="g98" x2=".5" spreadMethod="reflect"><stop offset="0" stop-color="#fffa7f"/><stop offset="0.4" stop-color="#fffd84"/><stop offset="0.66" stop-color="#fffc81"/><stop offset="0.82" stop-color="#ffff89"/><stop offset="0.91" stop-color="#ffffb0"/><stop offset="0.96" stop-color="#ffff99"/><stop offset="1" stop-color="#fffb81"/></linearGradient><linearGradient id="g99" x2=".5" spreadMethod="reflect"><stop offset="0" stop-color="#fffb80"/><stop offset="0.4" stop-color="#fffc82"/><stop offset="0.66" stop-color="#fff87b"/><stop offset="0.82" stop-color="#fffe86"/><stop offset="0.91" stop-color="#ffffbe"/><stop offset="0.96" stop-color="#ffffa7"/><stop offset="1" stop-color="#ffff90"/></linearGradient><linearGradient id="g100" x2=".5" spreadMethod="reflect"><stop offset="0" stop-color="#fffa7e"/><stop offset="0.4" stop-color="#fff576"/><stop offset="0.66" stop-color="#fff576"/><stop offset="0.82" stop-color="#ffff91"/><stop offset="0.91" stop-color="#ffffc4"/><stop offset="0.96" stop-color="#ffffb1"/><stop offset="1" stop-color="#ffff90"/></linearGradient><linearGradient id="g101" x2=".5" spreadMethod="reflect"><stop offset="0" stop-color="#fff677"/><stop offset="0.4" stop-color="#fff779"/><stop offset="0.66" stop-color="#fff474"/><stop offset="0.82" stop-color="#ffff89"/><stop offset="0.91" stop-color="#ffffb8"/><stop offset="0.96" stop-color="#ffffae"/><stop offset="1" stop-color="#ffff8d"/></linearGradient><linearGradient id="g102" x2=".5" spreadMethod="reflect"><stop offset="0" stop-color="#fff87b"/><stop offset="0.4" stop-color="#fff677"/><stop offset="0.66" stop-color="#fff575"/><stop offset="0.82" stop-color="#ffff8e"/><stop offset="0.91" stop-color="#ffffc7"/><stop offset="0.96" stop-color="#ffffbd"/><stop offset="1" stop-color="#ffff9d"/></linearGradient><linearGradient id="g103" x2=".5" spreadMethod="reflect"><stop offset="0" stop-color="#fffd84"/><stop offset="0.4" stop-color="#fffb80"/><stop offset="0.66" stop-color="#ffff86"/><stop offset="0.82" stop-color="#ffffac"/><stop offset="0.91" stop-color="#ffffe4"/><stop offset="0.96" stop-color="#ffffc9"/><stop offset="1" stop-color="#ffffb7"/></linearGradient><linearGradient id="g104" x2=".5" spreadMethod="reflect"><stop offset="0" stop-color="#fff87b"/><stop offset="0.4" stop-color="#fffb80"/><stop offset="0.66" stop-color="#fffc81"/><stop offset="0.82" stop-color="#ffffb8"/><stop offset="0.91" stop-color="#ffffd7"/><stop offset="0.96" stop-color="#ffffc7"/><stop offset="1" stop-color="#ffffb6"/></linearGradient><linearGradient id="g105" x2=".5" spreadMethod="reflect"><stop offset="0" stop-color="#fffb7f"/><stop offset="0.4" stop-color="#fff87a"/><stop offset="0.66" stop-color="#fffe85"/><stop offset="0.82" stop-color="#ffffaa"/><stop offset="0.91" stop-color="#ffffd0"/><stop offset="0.96" stop-color="#ffffce"/><stop offset="1" stop-color="#ffffa9"/></linearGradient><linearGradient id="g106" x2=".5" spreadMethod="reflect"><stop offset="0" stop-color="#fff97d"/><stop offset="0.4" stop-color="#fff779"/><stop offset="0.66" stop-color="#fffb80"/><stop offset="0.82" stop-color="#ffffac"/><stop offset="0.91" stop-color="#ffffdd"/><stop offset="0.96" stop-color="#ffffd6"/><stop offset="1" stop-color="#ffffb6"/></linearGradient><linearGradient id="g107" x2=".5" spreadMethod="reflect"><stop offset="0" stop-color="#fff575"/><stop offset="0.4" stop-color="#fff779"/><stop offset="0.66" stop-color="#fff97d"/><stop offset="0.82" stop-color="#ffffaf"/><stop offset="0.91" stop-color="#ffffd8"/><stop offset="0.96" stop-color="#ffffcf"/><stop offset="1" stop-color="#ffffb3"/></linearGradient></defs>
<rect x="311.3" y="242.8" width="32" height="2.58" fill="url(#g76)"/><rect x="311.3" y="245.03" width="32" height="2.58" fill="url(#g77)"/><rect x="311.3" y="247.26" width="32" height="2.58" fill="url(#g78)"/><rect x="311.3" y="249.49" width="32" height="2.58" fill="url(#g79)"/><rect x="311.3" y="251.73" width="32" height="2.58" fill="url(#g80)"/><rect x="311.3" y="253.96" width="32" height="2.58" fill="url(#g81)"/><rect x="311.3" y="256.19" width="32" height="2.58" fill="url(#g82)"/><rect x="311.3" y="258.42" width="32" height="2.58" fill="url(#g83)"/><rect x="311.3" y="260.65" width="32" height="2.58" fill="url(#g84)"/><rect x="311.3" y="262.88" width="32" height="2.58" fill="url(#g85)"/><rect x="311.3" y="265.11" width="32" height="2.58" fill="url(#g86)"/><rect x="311.3" y="267.34" width="32" height="2.58" fill="url(#g87)"/><rect x="311.3" y="269.57" width="32" height="2.58" fill="url(#g88)"/><rect x="311.3" y="271.81" width="32" height="2.58" fill="url(#g89)"/><rect x="311.3" y="274.04" width="32" height="2.58" fill="url(#g90)"/><rect x="311.3" y="276.27" width="32" height="2.58" fill="url(#g91)"/><rect x="311.3" y="278.5" width="32" height="2.58" fill="url(#g92)"/><rect x="311.3" y="280.73" width="32" height="2.58" fill="url(#g93)"/><rect x="311.3" y="282.96" width="32" height="2.58" fill="url(#g94)"/><rect x="311.3" y="285.19" width="32" height="2.58" fill="url(#g95)"/><rect x="311.3" y="287.43" width="32" height="2.58" fill="url(#g96)"/><rect x="311.3" y="289.66" width="32" height="2.58" fill="url(#g97)"/><rect x="311.3" y="291.89" width="32" height="2.58" fill="url(#g98)"/><rect x="311.3" y="294.12" width="32" height="2.58" fill="url(#g99)"/><rect x="311.3" y="296.35" width="32" height="2.58" fill="url(#g100)"/><rect x="311.3" y="298.58" width="32" height="2.58" fill="url(#g101)"/><rect x="311.3" y="300.81" width="32" height="2.58" fill="url(#g102)"/><rect x="311.3" y="303.04" width="32" height="2.58" fill="url(#g103)"/><rect x="311.3" y="305.28" width="32" height="2.58" fill="url(#g104)"/><rect x="311.3" y="307.51" width="32" height="2.58" fill="url(#g105)"/><rect x="311.3" y="309.74" width="32" height="2.58" fill="url(#g106)"/><rect x="311.3" y="311.97" width="32" height="2.58" fill="url(#g107)"/>
<rect x="311.7" y="243.2" width="31.2" height="70.6" fill="none" stroke="#2a2a2a" stroke-width="0.9"/>
<defs><linearGradient id="g108" x2=".5" spreadMethod="reflect"><stop offset="0" stop-color="#fff97d"/><stop offset="0.4" stop-color="#fff87a"/><stop offset="0.66" stop-color="#fff97c"/><stop offset="0.82" stop-color="#fff97c"/><stop offset="0.91" stop-color="#ffeb65"/><stop offset="0.96" stop-color="#f9ba32"/><stop offset="1" stop-color="#f59d20"/></linearGradient><linearGradient id="g109" x2=".5" spreadMethod="reflect"><stop offset="0" stop-color="#fff97c"/><stop offset="0.4" stop-color="#fffd83"/><stop offset="0.66" stop-color="#fffa7d"/><stop offset="0.82" stop-color="#fff97d"/><stop offset="0.91" stop-color="#fff474"/><stop offset="0.96" stop-color="#fee861"/><stop offset="1" stop-color="#fddf56"/></linearGradient><linearGradient id="g110" x2=".5" spreadMethod="reflect"><stop offset="0" stop-color="#fffa7e"/><stop offset="0.4" stop-color="#fffe85"/><stop offset="0.66" stop-color="#fffc82"/><stop offset="0.82" stop-color="#fff87b"/><stop offset="0.91" stop-color="#fff87a"/><stop offset="0.96" stop-color="#fff575"/><stop offset="1" stop-color="#fff270"/></linearGradient><linearGradient id="g111" x2=".5" spreadMethod="reflect"><stop offset="0" stop-color="#fffb81"/><stop offset="0.4" stop-color="#fffb81"/><stop offset="0.66" stop-color="#fffc82"/><stop offset="0.82" stop-color="#fffc81"/><stop offset="0.91" stop-color="#fffc82"/><stop offset="0.96" stop-color="#fff97c"/><stop offset="1" stop-color="#fff97d"/></linearGradient><linearGradient id="g112" x2=".5" spreadMethod="reflect"><stop offset="0" stop-color="#fff677"/><stop offset="0.4" stop-color="#fff678"/><stop offset="0.66" stop-color="#fff779"/><stop offset="0.82" stop-color="#fff779"/><stop offset="0.91" stop-color="#fff87b"/><stop offset="0.96" stop-color="#fff371"/><stop offset="1" stop-color="#fff271"/></linearGradient><linearGradient id="g113" x2=".5" spreadMethod="reflect"><stop offset="0" stop-color="#fff678"/><stop offset="0.4" stop-color="#fff87a"/><stop offset="0.66" stop-color="#fff779"/><stop offset="0.82" stop-color="#fffa7f"/><stop offset="0.91" stop-color="#fff87b"/><stop offset="0.96" stop-color="#fffb7f"/><stop offset="1" stop-color="#fff97c"/></linearGradient><linearGradient id="g114" x2=".5" spreadMethod="reflect"><stop offset="0" stop-color="#fffb81"/><stop offset="0.4" stop-color="#fffd83"/><stop offset="0.66" stop-color="#fff97c"/><stop offset="0.82" stop-color="#fff97d"/><stop offset="0.91" stop-color="#fffc81"/><stop offset="0.96" stop-color="#fffd83"/><stop offset="1" stop-color="#fffb81"/></linearGradient><linearGradient id="g115" x2=".5" spreadMethod="reflect"><stop offset="0" stop-color="#fffb7f"/><stop offset="0.4" stop-color="#fff677"/><stop offset="0.66" stop-color="#fff87a"/><stop offset="0.82" stop-color="#fff87b"/><stop offset="0.91" stop-color="#fff677"/><stop offset="0.96" stop-color="#fff779"/><stop offset="1" stop-color="#fff87a"/></linearGradient><linearGradient id="g116" x2=".5" spreadMethod="reflect"><stop offset="0" stop-color="#fff97d"/><stop offset="0.4" stop-color="#fff473"/><stop offset="0.66" stop-color="#fff87b"/><stop offset="0.82" stop-color="#fff87b"/><stop offset="0.91" stop-color="#fff473"/><stop offset="0.96" stop-color="#fff16e"/><stop offset="1" stop-color="#fff474"/></linearGradient><linearGradient id="g117" x2=".5" spreadMethod="reflect"><stop offset="0" stop-color="#ffff8a"/><stop offset="0.4" stop-color="#fffc82"/><stop offset="0.66" stop-color="#fffc82"/><stop offset="0.82" stop-color="#fffd84"/><stop offset="0.91" stop-color="#fffd83"/><stop offset="0.96" stop-color="#fffe84"/><stop offset="1" stop-color="#fffb80"/></linearGradient><linearGradient id="g118" x2=".5" spreadMethod="reflect"><stop offset="0" stop-color="#fffb7f"/><stop offset="0.4" stop-color="#fffe85"/><stop offset="0.66" stop-color="#fffa7e"/><stop offset="0.82" stop-color="#fffd83"/><stop offset="0.91" stop-color="#fff97c"/><stop offset="0.96" stop-color="#fffa7f"/><stop offset="1" stop-color="#fffe85"/></linearGradient><linearGradient id="g119" x2=".5" spreadMethod="reflect"><stop offset="0" stop-color="#fffd83"/><stop offset="0.4" stop-color="#fffa7e"/><stop offset="0.66" stop-color="#fffa7f"/><stop offset="0.82" stop-color="#fff97d"/><stop offset="0.91" stop-color="#fffc82"/><stop offset="0.96" stop-color="#fffa7e"/><stop offset="1" stop-color="#fffd84"/></linearGradient><linearGradient id="g120" x2=".5" spreadMethod="reflect"><stop offset="0" stop-color="#fffa7d"/><stop offset="0.4" stop-color="#fff97c"/><stop offset="0.66" stop-color="#fff97d"/><stop offset="0.82" stop-color="#fff77a"/><stop offset="0.91" stop-color="#fffa7e"/><stop offset="0.96" stop-color="#fff97d"/><stop offset="1" stop-color="#fff779"/></linearGradient><linearGradient id="g121" x2=".5" spreadMethod="reflect"><stop offset="0" stop-color="#fffb80"/><stop offset="0.4" stop-color="#fffc81"/><stop offset="0.66" stop-color="#fffa7f"/><stop offset="0.82" stop-color="#fffa7f"/><stop offset="0.91" stop-color="#fff97d"/><stop offset="0.96" stop-color="#fffb7f"/><stop offset="1" stop-color="#fff97d"/></linearGradient><linearGradient id="g122" x2=".5" spreadMethod="reflect"><stop offset="0" stop-color="#fff87b"/><stop offset="0.4" stop-color="#fffb80"/><stop offset="0.66" stop-color="#fffa7e"/><stop offset="0.82" stop-color="#fffa7f"/><stop offset="0.91" stop-color="#fffd84"/><stop offset="0.96" stop-color="#fff97d"/><stop offset="1" stop-color="#fffc81"/></linearGradient><linearGradient id="g123" x2=".5" spreadMethod="reflect"><stop offset="0" stop-color="#fffb80"/><stop offset="0.4" stop-color="#fffb7f"/><stop offset="0.66" stop-color="#fffb80"/><stop offset="0.82" stop-color="#fffb7f"/><stop offset="0.91" stop-color="#fff87b"/><stop offset="0.96" stop-color="#fff87a"/><stop offset="1" stop-color="#fff97d"/></linearGradient><linearGradient id="g124" x2=".5" spreadMethod="reflect"><stop offset="0" stop-color="#fffc82"/><stop offset="0.4" stop-color="#fffa7e"/><stop offset="0.66" stop-color="#fffa7e"/><stop offset="0.82" stop-color="#fffb7f"/><stop offset="0.91" stop-color="#fffa7e"/><stop offset="0.96" stop-color="#fff87b"/><stop offset="1" stop-color="#fffa7e"/></linearGradient><linearGradient id="g125" x2=".5" spreadMethod="reflect"><stop offset="0" stop-color="#ffff87"/><stop offset="0.4" stop-color="#ffff87"/><stop offset="0.66" stop-color="#fffd84"/><stop offset="0.82" stop-color="#fffe85"/><stop offset="0.91" stop-color="#fffd84"/><stop offset="0.96" stop-color="#ffff8d"/><stop offset="1" stop-color="#fffc82"/></linearGradient><linearGradient id="g126" x2=".5" spreadMethod="reflect"><stop offset="0" stop-color="#fff97d"/><stop offset="0.4" stop-color="#fffa7e"/><stop offset="0.66" stop-color="#fffc82"/><stop offset="0.82" stop-color="#fffc82"/><stop offset="0.91" stop-color="#fffa7e"/><stop offset="0.96" stop-color="#fff97c"/><stop offset="1" stop-color="#fffc82"/></linearGradient><linearGradient id="g127" x2=".5" spreadMethod="reflect"><stop offset="0" stop-color="#ffff8d"/><stop offset="0.4" stop-color="#ffff87"/><stop offset="0.66" stop-color="#ffff87"/><stop offset="0.82" stop-color="#fffe85"/><stop offset="0.91" stop-color="#fffd83"/><stop offset="0.96" stop-color="#fffe86"/><stop offset="1" stop-color="#ffff88"/></linearGradient><linearGradient id="g128" x2=".5" spreadMethod="reflect"><stop offset="0" stop-color="#fffc81"/><stop offset="0.4" stop-color="#fffb80"/><stop offset="0.66" stop-color="#fffb80"/><stop offset="0.82" stop-color="#fffc81"/><stop offset="0.91" stop-color="#fffb7f"/><stop offset="0.96" stop-color="#fffc82"/><stop offset="1" stop-color="#fffd84"/></linearGradient><linearGradient id="g129" x2=".5" spreadMethod="reflect"><stop offset="0" stop-color="#fff87a"/><stop offset="0.4" stop-color="#fffc82"/><stop offset="0.66" stop-color="#fff779"/><stop offset="0.82" stop-color="#fffc81"/><stop offset="0.91" stop-color="#fffa7e"/><stop offset="0.96" stop-color="#fffe85"/><stop offset="1" stop-color="#fffb80"/></linearGradient><linearGradient id="g130" x2=".5" spreadMethod="reflect"><stop offset="0" stop-color="#fff87b"/><stop offset="0.4" stop-color="#fff87a"/><stop offset="0.66" stop-color="#fff677"/><stop offset="0.82" stop-color="#fff677"/><stop offset="0.91" stop-color="#fff97c"/><stop offset="0.96" stop-color="#fff97c"/><stop offset="1" stop-color="#fff677"/></linearGradient><linearGradient id="g131" x2=".5" spreadMethod="reflect"><stop offset="0" stop-color="#fff87b"/><stop offset="0.4" stop-color="#fffa7e"/><stop offset="0.66" stop-color="#fff97c"/><stop offset="0.82" stop-color="#fff87a"/><stop offset="0.91" stop-color="#fffc81"/><stop offset="0.96" stop-color="#fff87b"/><stop offset="1" stop-color="#fff87b"/></linearGradient><linearGradient id="g132" x2=".5" spreadMethod="reflect"><stop offset="0" stop-color="#fff87a"/><stop offset="0.4" stop-color="#fff779"/><stop offset="0.66" stop-color="#fff778"/><stop offset="0.82" stop-color="#fff87b"/><stop offset="0.91" stop-color="#fff677"/><stop offset="0.96" stop-color="#fff87a"/><stop offset="1" stop-color="#fffa7e"/></linearGradient><linearGradient id="g133" x2=".5" spreadMethod="reflect"><stop offset="0" stop-color="#fffb81"/><stop offset="0.4" stop-color="#fffc82"/><stop offset="0.66" stop-color="#fffb81"/><stop offset="0.82" stop-color="#fffa7f"/><stop offset="0.91" stop-color="#fffc81"/><stop offset="0.96" stop-color="#fffd83"/><stop offset="1" stop-color="#fffc81"/></linearGradient><linearGradient id="g134" x2=".5" spreadMethod="reflect"><stop offset="0" stop-color="#fff779"/><stop offset="0.4" stop-color="#fff474"/><stop offset="0.66" stop-color="#fff575"/><stop offset="0.82" stop-color="#fff87b"/><stop offset="0.91" stop-color="#fff97c"/><stop offset="0.96" stop-color="#fff97d"/><stop offset="1" stop-color="#fffa7e"/></linearGradient><linearGradient id="g135" x2=".5" spreadMethod="reflect"><stop offset="0" stop-color="#fffb81"/><stop offset="0.4" stop-color="#fffc82"/><stop offset="0.66" stop-color="#fffc81"/><stop offset="0.82" stop-color="#fffb81"/><stop offset="0.91" stop-color="#ffff93"/><stop offset="0.96" stop-color="#ffff8d"/><stop offset="1" stop-color="#ffff91"/></linearGradient><linearGradient id="g136" x2=".5" spreadMethod="reflect"><stop offset="0" stop-color="#fffd83"/><stop offset="0.4" stop-color="#fffe84"/><stop offset="0.66" stop-color="#ffff87"/><stop offset="0.82" stop-color="#fffd84"/><stop offset="0.91" stop-color="#ffff94"/><stop offset="0.96" stop-color="#ffffa1"/><stop offset="1" stop-color="#ffff95"/></linearGradient><linearGradient id="g137" x2=".5" spreadMethod="reflect"><stop offset="0" stop-color="#fffb80"/><stop offset="0.4" stop-color="#fffb81"/><stop offset="0.66" stop-color="#fffc82"/><stop offset="0.82" stop-color="#fffe86"/><stop offset="0.91" stop-color="#ffff9d"/><stop offset="0.96" stop-color="#ffff9a"/><stop offset="1" stop-color="#ffffa0"/></linearGradient><linearGradient id="g138" x2=".5" spreadMethod="reflect"><stop offset="0" stop-color="#fffa7f"/><stop offset="0.4" stop-color="#fffa7e"/><stop offset="0.66" stop-color="#fff97c"/><stop offset="0.82" stop-color="#fffd84"/><stop offset="0.91" stop-color="#ffff8f"/><stop offset="0.96" stop-color="#ffff97"/><stop offset="1" stop-color="#ffff95"/></linearGradient><linearGradient id="g139" x2=".5" spreadMethod="reflect"><stop offset="0" stop-color="#fffd84"/><stop offset="0.4" stop-color="#ffff86"/><stop offset="0.66" stop-color="#ffff88"/><stop offset="0.82" stop-color="#ffff8b"/><stop offset="0.91" stop-color="#ffff9a"/><stop offset="0.96" stop-color="#ffffa4"/><stop offset="1" stop-color="#ffffb2"/></linearGradient><linearGradient id="g140" x2=".5" spreadMethod="reflect"><stop offset="0" stop-color="#fff778"/><stop offset="0.4" stop-color="#fff575"/><stop offset="0.66" stop-color="#fff97c"/><stop offset="0.82" stop-color="#fffa7e"/><stop offset="0.91" stop-color="#ffff8c"/><stop offset="0.96" stop-color="#ffff9d"/><stop offset="1" stop-color="#ffff9c"/></linearGradient><linearGradient id="g141" x2=".5" spreadMethod="reflect"><stop offset="0" stop-color="#fff677"/><stop offset="0.4" stop-color="#fff779"/><stop offset="0.66" stop-color="#fff87a"/><stop offset="0.82" stop-color="#fffc81"/><stop offset="0.91" stop-color="#ffff88"/><stop offset="0.96" stop-color="#ffffa6"/><stop offset="1" stop-color="#ffffa9"/></linearGradient><linearGradient id="g142" x2=".5" spreadMethod="reflect"><stop offset="0" stop-color="#fffc82"/><stop offset="0.4" stop-color="#fffd84"/><stop offset="0.66" stop-color="#fffb81"/><stop offset="0.82" stop-color="#ffff92"/><stop offset="0.91" stop-color="#ffff9f"/><stop offset="0.96" stop-color="#ffffa9"/><stop offset="1" stop-color="#ffffb1"/></linearGradient><linearGradient id="g143" x2=".5" spreadMethod="reflect"><stop offset="0" stop-color="#fffc82"/><stop offset="0.4" stop-color="#fffa7d"/><stop offset="0.66" stop-color="#fffe86"/><stop offset="0.82" stop-color="#ffff8b"/><stop offset="0.91" stop-color="#ffffab"/><stop offset="0.96" stop-color="#ffffb3"/><stop offset="1" stop-color="#ffffae"/></linearGradient><linearGradient id="g144" x2=".5" spreadMethod="reflect"><stop offset="0" stop-color="#fffa7e"/><stop offset="0.4" stop-color="#fffe84"/><stop offset="0.66" stop-color="#fffd83"/><stop offset="0.82" stop-color="#ffff8c"/><stop offset="0.91" stop-color="#ffffa2"/><stop offset="0.96" stop-color="#ffffbc"/><stop offset="1" stop-color="#ffffc0"/></linearGradient><linearGradient id="g145" x2=".5" spreadMethod="reflect"><stop offset="0" stop-color="#fff87b"/><stop offset="0.4" stop-color="#fffa7f"/><stop offset="0.66" stop-color="#fff87a"/><stop offset="0.82" stop-color="#fffe86"/><stop offset="0.91" stop-color="#ffffa8"/><stop offset="0.96" stop-color="#ffffb3"/><stop offset="1" stop-color="#ffffc1"/></linearGradient><linearGradient id="g146" x2=".5" spreadMethod="reflect"><stop offset="0" stop-color="#fffd83"/><stop offset="0.4" stop-color="#ffff89"/><stop offset="0.66" stop-color="#ffff87"/><stop offset="0.82" stop-color="#ffff93"/><stop offset="0.91" stop-color="#ffffb2"/><stop offset="0.96" stop-color="#ffffc0"/><stop offset="1" stop-color="#ffffc5"/></linearGradient><linearGradient id="g147" x2=".5" spreadMethod="reflect"><stop offset="0" stop-color="#fffb7f"/><stop offset="0.4" stop-color="#fffc81"/><stop offset="0.66" stop-color="#fffd84"/><stop offset="0.82" stop-color="#ffff88"/><stop offset="0.91" stop-color="#ffffb3"/><stop offset="0.96" stop-color="#ffffc0"/><stop offset="1" stop-color="#ffffcd"/></linearGradient><linearGradient id="g148" x2=".5" spreadMethod="reflect"><stop offset="0" stop-color="#fffd83"/><stop offset="0.4" stop-color="#fffe86"/><stop offset="0.66" stop-color="#ffff89"/><stop offset="0.82" stop-color="#ffff8d"/><stop offset="0.91" stop-color="#ffffb8"/><stop offset="0.96" stop-color="#ffffcd"/><stop offset="1" stop-color="#ffffd5"/></linearGradient><linearGradient id="g149" x2=".5" spreadMethod="reflect"><stop offset="0" stop-color="#ffff8c"/><stop offset="0.4" stop-color="#fffd83"/><stop offset="0.66" stop-color="#fffd83"/><stop offset="0.82" stop-color="#ffff8d"/><stop offset="0.91" stop-color="#ffffbf"/><stop offset="0.96" stop-color="#ffffce"/><stop offset="1" stop-color="#ffffd7"/></linearGradient><linearGradient id="g150" x2=".5" spreadMethod="reflect"><stop offset="0" stop-color="#fff87a"/><stop offset="0.4" stop-color="#fff678"/><stop offset="0.66" stop-color="#fff677"/><stop offset="0.82" stop-color="#fffb81"/><stop offset="0.91" stop-color="#ffffa5"/><stop offset="0.96" stop-color="#ffffc1"/><stop offset="1" stop-color="#ffffd2"/></linearGradient></defs>
<rect x="311.3" y="317.1" width="32" height="2.92" fill="url(#g108)"/><rect x="311.3" y="319.67" width="32" height="2.92" fill="url(#g109)"/><rect x="311.3" y="322.24" width="32" height="2.92" fill="url(#g110)"/><rect x="311.3" y="324.82" width="32" height="2.92" fill="url(#g111)"/><rect x="311.3" y="327.39" width="32" height="2.92" fill="url(#g112)"/><rect x="311.3" y="329.96" width="32" height="2.92" fill="url(#g113)"/><rect x="311.3" y="332.53" width="32" height="2.92" fill="url(#g114)"/><rect x="311.3" y="335.1" width="32" height="2.92" fill="url(#g115)"/><rect x="311.3" y="337.68" width="32" height="2.92" fill="url(#g116)"/><rect x="311.3" y="340.25" width="32" height="2.92" fill="url(#g117)"/><rect x="311.3" y="342.82" width="32" height="2.92" fill="url(#g118)"/><rect x="311.3" y="345.39" width="32" height="2.92" fill="url(#g119)"/><rect x="311.3" y="347.97" width="32" height="2.92" fill="url(#g120)"/><rect x="311.3" y="350.54" width="32" height="2.92" fill="url(#g121)"/><rect x="311.3" y="353.11" width="32" height="2.92" fill="url(#g122)"/><rect x="311.3" y="355.68" width="32" height="2.92" fill="url(#g123)"/><rect x="311.3" y="358.25" width="32" height="2.92" fill="url(#g124)"/><rect x="311.3" y="360.83" width="32" height="2.92" fill="url(#g125)"/><rect x="311.3" y="363.4" width="32" height="2.92" fill="url(#g126)"/><rect x="311.3" y="365.97" width="32" height="2.92" fill="url(#g127)"/><rect x="311.3" y="368.54" width="32" height="2.92" fill="url(#g128)"/><rect x="311.3" y="371.11" width="32" height="2.92" fill="url(#g129)"/><rect x="311.3" y="373.69" width="32" height="2.92" fill="url(#g130)"/><rect x="311.3" y="376.26" width="32" height="2.92" fill="url(#g131)"/><rect x="311.3" y="378.83" width="32" height="2.92" fill="url(#g132)"/><rect x="311.3" y="381.4" width="32" height="2.92" fill="url(#g133)"/><rect x="311.3" y="383.97" width="32" height="2.92" fill="url(#g134)"/><rect x="311.3" y="386.55" width="32" height="2.92" fill="url(#g135)"/><rect x="311.3" y="389.12" width="32" height="2.92" fill="url(#g136)"/><rect x="311.3" y="391.69" width="32" height="2.92" fill="url(#g137)"/><rect x="311.3" y="394.26" width="32" height="2.92" fill="url(#g138)"/><rect x="311.3" y="396.83" width="32" height="2.92" fill="url(#g139)"/><rect x="311.3" y="399.41" width="32" height="2.92" fill="url(#g140)"/><rect x="311.3" y="401.98" width="32" height="2.92" fill="url(#g141)"/><rect x="311.3" y="404.55" width="32" height="2.92" fill="url(#g142)"/><rect x="311.3" y="407.12" width="32" height="2.92" fill="url(#g143)"/><rect x="311.3" y="409.7" width="32" height="2.92" fill="url(#g144)"/><rect x="311.3" y="412.27" width="32" height="2.92" fill="url(#g145)"/><rect x="311.3" y="414.84" width="32" height="2.92" fill="url(#g146)"/><rect x="311.3" y="417.41" width="32" height="2.92" fill="url(#g147)"/><rect x="311.3" y="419.98" width="32" height="2.92" fill="url(#g148)"/><rect x="311.3" y="422.56" width="32" height="2.92" fill="url(#g149)"/><rect x="311.3" y="425.13" width="32" height="2.92" fill="url(#g150)"/>
<rect x="311.7" y="317.5" width="31.2" height="109.8" fill="none" stroke="#2a2a2a" stroke-width="0.9"/>
<rect x="311.3" y="314.2" width="32.0" height="2.9" fill="#a8a8a8"/>
<defs><linearGradient id="g151" x2=".5" spreadMethod="reflect"><stop offset="0" stop-color="#9d2c05"/><stop offset="0.28" stop-color="#962805"/><stop offset="0.52" stop-color="#962805"/><stop offset="0.66" stop-color="#962805"/><stop offset="0.77" stop-color="#962805"/><stop offset="0.89" stop-color="#962805"/><stop offset="1" stop-color="#982905"/></linearGradient><linearGradient id="g152" x2=".5" spreadMethod="reflect"><stop offset="0" stop-color="#c74708"/><stop offset="0.28" stop-color="#c04307"/><stop offset="0.52" stop-color="#bb4007"/><stop offset="0.66" stop-color="#b33a07"/><stop offset="0.77" stop-color="#ab3506"/><stop offset="0.89" stop-color="#aa3506"/><stop offset="1" stop-color="#a73306"/></linearGradient><linearGradient id="g153" x2=".5" spreadMethod="reflect"><stop offset="0" stop-color="#d4580a"/><stop offset="0.28" stop-color="#d15409"/><stop offset="0.52" stop-color="#ce5009"/><stop offset="0.66" stop-color="#ca4a08"/><stop offset="0.77" stop-color="#c24408"/><stop offset="0.89" stop-color="#b13907"/><stop offset="1" stop-color="#b83e07"/></linearGradient><linearGradient id="g154" x2=".5" spreadMethod="reflect"><stop offset="0" stop-color="#dd640b"/><stop offset="0.28" stop-color="#da600b"/><stop offset="0.52" stop-color="#dd640b"/><stop offset="0.66" stop-color="#d65a0a"/><stop offset="0.77" stop-color="#ce5009"/><stop offset="0.89" stop-color="#b93e07"/><stop offset="1" stop-color="#b33b07"/></linearGradient><linearGradient id="g155" x2=".5" spreadMethod="reflect"><stop offset="0" stop-color="#d3560a"/><stop offset="0.28" stop-color="#dd640b"/><stop offset="0.52" stop-color="#d55a0a"/><stop offset="0.66" stop-color="#ce5009"/><stop offset="0.77" stop-color="#c54608"/><stop offset="0.89" stop-color="#ad3706"/><stop offset="1" stop-color="#aa3506"/></linearGradient><linearGradient id="g156" x2=".5" spreadMethod="reflect"><stop offset="0" stop-color="#e4710e"/><stop offset="0.28" stop-color="#e67410"/><stop offset="0.52" stop-color="#df660c"/><stop offset="0.66" stop-color="#d65a0a"/><stop offset="0.77" stop-color="#ce5009"/><stop offset="0.89" stop-color="#c94908"/><stop offset="1" stop-color="#c44508"/></linearGradient><linearGradient id="g157" x2=".5" spreadMethod="reflect"><stop offset="0" stop-color="#ea7e13"/><stop offset="0.28" stop-color="#ea7c12"/><stop offset="0.52" stop-color="#e77711"/><stop offset="0.66" stop-color="#e26b0d"/><stop offset="0.77" stop-color="#df670c"/><stop offset="0.89" stop-color="#cb4c08"/><stop offset="1" stop-color="#ca4b08"/></linearGradient><linearGradient id="g158" x2=".5" spreadMethod="reflect"><stop offset="0" stop-color="#ec8114"/><stop offset="0.28" stop-color="#ed8415"/><stop offset="0.52" stop-color="#e5730f"/><stop offset="0.66" stop-color="#df670c"/><stop offset="0.77" stop-color="#d85d0a"/><stop offset="0.89" stop-color="#cd4f09"/><stop offset="1" stop-color="#c44508"/></linearGradient><linearGradient id="g159" x2=".5" spreadMethod="reflect"><stop offset="0" stop-color="#e87911"/><stop offset="0.28" stop-color="#e97a12"/><stop offset="0.52" stop-color="#e46f0e"/><stop offset="0.66" stop-color="#dd630b"/><stop offset="0.77" stop-color="#d4580a"/><stop offset="0.89" stop-color="#bd4107"/><stop offset="1" stop-color="#b93e07"/></linearGradient><linearGradient id="g160" x2=".5" spreadMethod="reflect"><stop offset="0" stop-color="#ee8616"/><stop offset="0.28" stop-color="#ef8816"/><stop offset="0.52" stop-color="#ef8816"/><stop offset="0.66" stop-color="#e4700e"/><stop offset="0.77" stop-color="#db610b"/><stop offset="0.89" stop-color="#d05209"/><stop offset="1" stop-color="#cb4c08"/></linearGradient><linearGradient id="g161" x2=".5" spreadMethod="reflect"><stop offset="0" stop-color="#f4961c"/><stop offset="0.28" stop-color="#f28f18"/><stop offset="0.52" stop-color="#ee8615"/><stop offset="0.66" stop-color="#e87911"/><stop offset="0.77" stop-color="#de650c"/><stop offset="0.89" stop-color="#d2560a"/><stop offset="1" stop-color="#cd4f09"/></linearGradient><linearGradient id="g162" x2=".5" spreadMethod="reflect"><stop offset="0" stop-color="#ef8916"/><stop offset="0.28" stop-color="#ed8515"/><stop offset="0.52" stop-color="#ed8315"/><stop offset="0.66" stop-color="#e4700e"/><stop offset="0.77" stop-color="#da600b"/><stop offset="0.89" stop-color="#ca4b08"/><stop offset="1" stop-color="#bd4107"/></linearGradient><linearGradient id="g163" x2=".5" spreadMethod="reflect"><stop offset="0" stop-color="#f3921a"/><stop offset="0.28" stop-color="#f39119"/><stop offset="0.52" stop-color="#ef8816"/><stop offset="0.66" stop-color="#e77610"/><stop offset="0.77" stop-color="#de650c"/><stop offset="0.89" stop-color="#cf5109"/><stop offset="1" stop-color="#c84808"/></linearGradient><linearGradient id="g164" x2=".5" spreadMethod="reflect"><stop offset="0" stop-color="#f4971c"/><stop offset="0.28" stop-color="#f3931a"/><stop offset="0.52" stop-color="#f08a17"/><stop offset="0.66" stop-color="#e77610"/><stop offset="0.77" stop-color="#de650b"/><stop offset="0.89" stop-color="#ce4f09"/><stop offset="1" stop-color="#c94908"/></linearGradient><linearGradient id="g165" x2=".5" spreadMethod="reflect"><stop offset="0" stop-color="#f3931a"/><stop offset="0.28" stop-color="#f4971c"/><stop offset="0.52" stop-color="#ef8716"/><stop offset="0.66" stop-color="#e97b12"/><stop offset="0.77" stop-color="#e26c0d"/><stop offset="0.89" stop-color="#cb4c09"/><stop offset="1" stop-color="#c64708"/></linearGradient><linearGradient id="g166" x2=".5" spreadMethod="reflect"><stop offset="0" stop-color="#f49a1e"/><stop offset="0.28" stop-color="#f49b1f"/><stop offset="0.52" stop-color="#f28e18"/><stop offset="0.66" stop-color="#eb8013"/><stop offset="0.77" stop-color="#e36d0d"/><stop offset="0.89" stop-color="#d3570a"/><stop offset="1" stop-color="#d3570a"/></linearGradient><linearGradient id="g167" x2=".5" spreadMethod="reflect"><stop offset="0" stop-color="#f5a122"/><stop offset="0.28" stop-color="#f49a1e"/><stop offset="0.52" stop-color="#f3941a"/><stop offset="0.66" stop-color="#ec8114"/><stop offset="0.77" stop-color="#e4700e"/><stop offset="0.89" stop-color="#ce5009"/><stop offset="1" stop-color="#d3570a"/></linearGradient><linearGradient id="g168" x2=".5" spreadMethod="reflect"><stop offset="0" stop-color="#f6a625"/><stop offset="0.28" stop-color="#f6a826"/><stop offset="0.52" stop-color="#f4951b"/><stop offset="0.66" stop-color="#ef8716"/><stop offset="0.77" stop-color="#e16a0c"/><stop offset="0.89" stop-color="#d65a0a"/><stop offset="1" stop-color="#d05309"/></linearGradient><linearGradient id="g169" x2=".5" spreadMethod="reflect"><stop offset="0" stop-color="#f6a625"/><stop offset="0.28" stop-color="#f6a525"/><stop offset="0.52" stop-color="#f3931a"/><stop offset="0.66" stop-color="#ed8315"/><stop offset="0.77" stop-color="#e6740f"/><stop offset="0.89" stop-color="#d65a0a"/><stop offset="1" stop-color="#cf5209"/></linearGradient><linearGradient id="g170" x2=".5" spreadMethod="reflect"><stop offset="0" stop-color="#f5a021"/><stop offset="0.28" stop-color="#f5a223"/><stop offset="0.52" stop-color="#f3941b"/><stop offset="0.66" stop-color="#ee8716"/><stop offset="0.77" stop-color="#e36d0d"/><stop offset="0.89" stop-color="#d65b0a"/><stop offset="1" stop-color="#d75c0a"/></linearGradient><linearGradient id="g171" x2=".5" spreadMethod="reflect"><stop offset="0" stop-color="#f6a424"/><stop offset="0.28" stop-color="#f59d20"/><stop offset="0.52" stop-color="#f4951b"/><stop offset="0.66" stop-color="#ee8716"/><stop offset="0.77" stop-color="#e5730f"/><stop offset="0.89" stop-color="#ce5009"/><stop offset="1" stop-color="#cd4e09"/></linearGradient><linearGradient id="g172" x2=".5" spreadMethod="reflect"><stop offset="0" stop-color="#f6a424"/><stop offset="0.28" stop-color="#f5a122"/><stop offset="0.52" stop-color="#f49a1e"/><stop offset="0.66" stop-color="#f28e18"/><stop offset="0.77" stop-color="#e77610"/><stop offset="0.89" stop-color="#d65a0a"/><stop offset="1" stop-color="#d4580a"/></linearGradient><linearGradient id="g173" x2=".5" spreadMethod="reflect"><stop offset="0" stop-color="#f8b12b"/><stop offset="0.28" stop-color="#f7ac28"/><stop offset="0.52" stop-color="#f5a122"/><stop offset="0.66" stop-color="#f59c1f"/><stop offset="0.77" stop-color="#ea7d13"/><stop offset="0.89" stop-color="#db610b"/><stop offset="1" stop-color="#de650b"/></linearGradient><linearGradient id="g174" x2=".5" spreadMethod="reflect"><stop offset="0" stop-color="#f8b32c"/><stop offset="0.28" stop-color="#f8b62e"/><stop offset="0.52" stop-color="#f7af2a"/><stop offset="0.66" stop-color="#f49b1e"/><stop offset="0.77" stop-color="#ed8314"/><stop offset="0.89" stop-color="#e36e0e"/><stop offset="1" stop-color="#de650b"/></linearGradient><linearGradient id="g175" x2=".5" spreadMethod="reflect"><stop offset="0" stop-color="#f8b12b"/><stop offset="0.28" stop-color="#f7b02b"/><stop offset="0.52" stop-color="#f6a625"/><stop offset="0.66" stop-color="#f4961c"/><stop offset="0.77" stop-color="#e97b12"/><stop offset="0.89" stop-color="#e1690c"/><stop offset="1" stop-color="#db610b"/></linearGradient><linearGradient id="g176" x2=".5" spreadMethod="reflect"><stop offset="0" stop-color="#f9bf37"/><stop offset="0.28" stop-color="#f9bb33"/><stop offset="0.52" stop-color="#f8b32c"/><stop offset="0.66" stop-color="#f59f21"/><stop offset="0.77" stop-color="#f39019"/><stop offset="0.89" stop-color="#e77710"/><stop offset="1" stop-color="#e6730f"/></linearGradient><linearGradient id="g177" x2=".5" spreadMethod="reflect"><stop offset="0" stop-color="#f8b52e"/><stop offset="0.28" stop-color="#f8b62f"/><stop offset="0.52" stop-color="#f7af2a"/><stop offset="0.66" stop-color="#f49a1e"/><stop offset="0.77" stop-color="#ee8515"/><stop offset="0.89" stop-color="#e5720f"/><stop offset="1" stop-color="#e16a0c"/></linearGradient><linearGradient id="g178" x2=".5" spreadMethod="reflect"><stop offset="0" stop-color="#f9bd34"/><stop offset="0.28" stop-color="#f9bb33"/><stop offset="0.52" stop-color="#f8b22c"/><stop offset="0.66" stop-color="#f6a323"/><stop offset="0.77" stop-color="#ee8515"/><stop offset="0.89" stop-color="#e77610"/><stop offset="1" stop-color="#e26a0c"/></linearGradient><linearGradient id="g179" x2=".5" spreadMethod="reflect"><stop offset="0" stop-color="#f8b62f"/><stop offset="0.28" stop-color="#f9bf36"/><stop offset="0.52" stop-color="#f7ae29"/><stop offset="0.66" stop-color="#f59e20"/><stop offset="0.77" stop-color="#ef8816"/><stop offset="0.89" stop-color="#e67410"/><stop offset="1" stop-color="#e16a0c"/></linearGradient><linearGradient id="g180" x2=".5" spreadMethod="reflect"><stop offset="0" stop-color="#f8b32c"/><stop offset="0.28" stop-color="#f9ba32"/><stop offset="0.52" stop-color="#f7ab28"/><stop offset="0.66" stop-color="#f49b1f"/><stop offset="0.77" stop-color="#eb7f13"/><stop offset="0.89" stop-color="#e16a0c"/><stop offset="1" stop-color="#da5f0b"/></linearGradient><linearGradient id="g181" x2=".5" spreadMethod="reflect"><stop offset="0" stop-color="#f9bf36"/><stop offset="0.28" stop-color="#f9c037"/><stop offset="0.52" stop-color="#f9b931"/><stop offset="0.66" stop-color="#f6a424"/><stop offset="0.77" stop-color="#ef8816"/><stop offset="0.89" stop-color="#e4700e"/><stop offset="1" stop-color="#e4700e"/></linearGradient><linearGradient id="g182" x2=".5" spreadMethod="reflect"><stop offset="0" stop-color="#fac73e"/><stop offset="0.28" stop-color="#fac73d"/><stop offset="0.52" stop-color="#f9be36"/><stop offset="0.66" stop-color="#f7ab28"/><stop offset="0.77" stop-color="#f39219"/><stop offset="0.89" stop-color="#e87911"/><stop offset="1" stop-color="#e36d0d"/></linearGradient><linearGradient id="g183" x2=".5" spreadMethod="reflect"><stop offset="0" stop-color="#fbca40"/><stop offset="0.28" stop-color="#fac43b"/><stop offset="0.52" stop-color="#f9bc34"/><stop offset="0.66" stop-color="#f6a726"/><stop offset="0.77" stop-color="#f3941b"/><stop offset="0.89" stop-color="#e77610"/><stop offset="1" stop-color="#e67410"/></linearGradient><linearGradient id="g184" x2=".5" spreadMethod="reflect"><stop offset="0" stop-color="#f9be35"/><stop offset="0.28" stop-color="#fac33a"/><stop offset="0.52" stop-color="#f9bf36"/><stop offset="0.66" stop-color="#f6a424"/><stop offset="0.77" stop-color="#f39119"/><stop offset="0.89" stop-color="#e87911"/><stop offset="1" stop-color="#e4700e"/></linearGradient><linearGradient id="g185" x2=".5" spreadMethod="reflect"><stop offset="0" stop-color="#fbce43"/><stop offset="0.28" stop-color="#fac93f"/><stop offset="0.52" stop-color="#fac63c"/><stop offset="0.66" stop-color="#f8b12b"/><stop offset="0.77" stop-color="#f4961c"/><stop offset="0.89" stop-color="#ef8816"/><stop offset="1" stop-color="#e87911"/></linearGradient><linearGradient id="g186" x2=".5" spreadMethod="reflect"><stop offset="0" stop-color="#f9c138"/><stop offset="0.28" stop-color="#fac239"/><stop offset="0.52" stop-color="#f8b22c"/><stop offset="0.66" stop-color="#f6a927"/><stop offset="0.77" stop-color="#f08a17"/><stop offset="0.89" stop-color="#e97b12"/><stop offset="1" stop-color="#e46f0e"/></linearGradient><linearGradient id="g187" x2=".5" spreadMethod="reflect"><stop offset="0" stop-color="#fbd247"/><stop offset="0.28" stop-color="#fbca40"/><stop offset="0.52" stop-color="#fac33a"/><stop offset="0.66" stop-color="#f7b02b"/><stop offset="0.77" stop-color="#f5a223"/><stop offset="0.89" stop-color="#ef8916"/><stop offset="1" stop-color="#ed8415"/></linearGradient><linearGradient id="g188" x2=".5" spreadMethod="reflect"><stop offset="0" stop-color="#fac83e"/><stop offset="0.28" stop-color="#fac73d"/><stop offset="0.52" stop-color="#f9bd35"/><stop offset="0.66" stop-color="#f7b02a"/><stop offset="0.77" stop-color="#f4971c"/><stop offset="0.89" stop-color="#ed8415"/><stop offset="1" stop-color="#e67510"/></linearGradient><linearGradient id="g189" x2=".5" spreadMethod="reflect"><stop offset="0" stop-color="#fac83e"/><stop offset="0.28" stop-color="#fbcc42"/><stop offset="0.52" stop-color="#f9bf36"/><stop offset="0.66" stop-color="#f7af2a"/><stop offset="0.77" stop-color="#f5a022"/><stop offset="0.89" stop-color="#ed8314"/><stop offset="1" stop-color="#eb8014"/></linearGradient><linearGradient id="g190" x2=".5" spreadMethod="reflect"><stop offset="0" stop-color="#fcd54a"/><stop offset="0.28" stop-color="#fbd146"/><stop offset="0.52" stop-color="#fac93f"/><stop offset="0.66" stop-color="#f9bd34"/><stop offset="0.77" stop-color="#f7ab28"/><stop offset="0.89" stop-color="#f49a1e"/><stop offset="1" stop-color="#f08b17"/></linearGradient><linearGradient id="g191" x2=".5" spreadMethod="reflect"><stop offset="0" stop-color="#fbd145"/><stop offset="0.28" stop-color="#fbcb41"/><stop offset="0.52" stop-color="#fac63d"/><stop offset="0.66" stop-color="#f8b830"/><stop offset="0.77" stop-color="#f6a424"/><stop offset="0.89" stop-color="#f28f18"/><stop offset="1" stop-color="#ee8515"/></linearGradient><linearGradient id="g192" x2=".5" spreadMethod="reflect"><stop offset="0" stop-color="#fbce43"/><stop offset="0.28" stop-color="#fbcc41"/><stop offset="0.52" stop-color="#fac239"/><stop offset="0.66" stop-color="#f7b02b"/><stop offset="0.77" stop-color="#f49b1f"/><stop offset="0.89" stop-color="#ed8315"/><stop offset="1" stop-color="#ed8314"/></linearGradient><linearGradient id="g193" x2=".5" spreadMethod="reflect"><stop offset="0" stop-color="#fbd146"/><stop offset="0.28" stop-color="#fbd146"/><stop offset="0.52" stop-color="#fac43b"/><stop offset="0.66" stop-color="#f8b32d"/><stop offset="0.77" stop-color="#f6a424"/><stop offset="0.89" stop-color="#ef8716"/><stop offset="1" stop-color="#ed8314"/></linearGradient><linearGradient id="g194" x2=".5" spreadMethod="reflect"><stop offset="0" stop-color="#fbce44"/><stop offset="0.28" stop-color="#fac93f"/><stop offset="0.52" stop-color="#fac33a"/><stop offset="0.66" stop-color="#f8b42d"/><stop offset="0.77" stop-color="#f59d20"/><stop offset="0.89" stop-color="#f18d18"/><stop offset="1" stop-color="#ed8515"/></linearGradient><linearGradient id="g195" x2=".5" spreadMethod="reflect"><stop offset="0" stop-color="#fbcc42"/><stop offset="0.28" stop-color="#fbd045"/><stop offset="0.52" stop-color="#fac239"/><stop offset="0.66" stop-color="#f7b02b"/><stop offset="0.77" stop-color="#f59d20"/><stop offset="0.89" stop-color="#f08b17"/><stop offset="1" stop-color="#ee8515"/></linearGradient><linearGradient id="g196" x2=".5" spreadMethod="reflect"><stop offset="0" stop-color="#fbcb41"/><stop offset="0.28" stop-color="#fac73d"/><stop offset="0.52" stop-color="#f9bc34"/><stop offset="0.66" stop-color="#f6a927"/><stop offset="0.77" stop-color="#f49b1f"/><stop offset="0.89" stop-color="#ee8615"/><stop offset="1" stop-color="#ea7d12"/></linearGradient><linearGradient id="g197" x2=".5" spreadMethod="reflect"><stop offset="0" stop-color="#fbce43"/><stop offset="0.28" stop-color="#fbcd43"/><stop offset="0.52" stop-color="#fac239"/><stop offset="0.66" stop-color="#f8b730"/><stop offset="0.77" stop-color="#f5a223"/><stop offset="0.89" stop-color="#f3931a"/><stop offset="1" stop-color="#f08a17"/></linearGradient><linearGradient id="g198" x2=".5" spreadMethod="reflect"><stop offset="0" stop-color="#fbcd42"/><stop offset="0.28" stop-color="#fbd146"/><stop offset="0.52" stop-color="#fac43b"/><stop offset="0.66" stop-color="#f8b32d"/><stop offset="0.77" stop-color="#f6a524"/><stop offset="0.89" stop-color="#f08a17"/><stop offset="1" stop-color="#eb8013"/></linearGradient><linearGradient id="g199" x2=".5" spreadMethod="reflect"><stop offset="0" stop-color="#fcd448"/><stop offset="0.28" stop-color="#fddb50"/><stop offset="0.52" stop-color="#fbcb41"/><stop offset="0.66" stop-color="#f9bd35"/><stop offset="0.77" stop-color="#f6a323"/><stop offset="0.89" stop-color="#f4981d"/><stop offset="1" stop-color="#f39119"/></linearGradient><linearGradient id="g200" x2=".5" spreadMethod="reflect"><stop offset="0" stop-color="#fcd74b"/><stop offset="0.28" stop-color="#fcd64a"/><stop offset="0.52" stop-color="#faca40"/><stop offset="0.66" stop-color="#f9bb33"/><stop offset="0.77" stop-color="#f6a826"/><stop offset="0.89" stop-color="#f4961c"/><stop offset="1" stop-color="#f3921a"/></linearGradient></defs>
<rect x="396.9" y="243" width="31.85" height="2.55" fill="url(#g151)"/><rect x="396.9" y="245.2" width="31.85" height="2.55" fill="url(#g152)"/><rect x="396.9" y="247.4" width="31.85" height="2.55" fill="url(#g153)"/><rect x="396.9" y="249.59" width="31.85" height="2.55" fill="url(#g154)"/><rect x="396.9" y="251.79" width="31.85" height="2.55" fill="url(#g155)"/><rect x="396.9" y="253.99" width="31.85" height="2.55" fill="url(#g156)"/><rect x="396.9" y="256.19" width="31.85" height="2.55" fill="url(#g157)"/><rect x="396.9" y="258.39" width="31.85" height="2.55" fill="url(#g158)"/><rect x="396.9" y="260.58" width="31.85" height="2.55" fill="url(#g159)"/><rect x="396.9" y="262.78" width="31.85" height="2.55" fill="url(#g160)"/><rect x="396.9" y="264.98" width="31.85" height="2.55" fill="url(#g161)"/><rect x="396.9" y="267.18" width="31.85" height="2.55" fill="url(#g162)"/><rect x="396.9" y="269.38" width="31.85" height="2.55" fill="url(#g163)"/><rect x="396.9" y="271.57" width="31.85" height="2.55" fill="url(#g164)"/><rect x="396.9" y="273.77" width="31.85" height="2.55" fill="url(#g165)"/><rect x="396.9" y="275.97" width="31.85" height="2.55" fill="url(#g166)"/><rect x="396.9" y="278.17" width="31.85" height="2.55" fill="url(#g167)"/><rect x="396.9" y="280.37" width="31.85" height="2.55" fill="url(#g168)"/><rect x="396.9" y="282.56" width="31.85" height="2.55" fill="url(#g169)"/><rect x="396.9" y="284.76" width="31.85" height="2.55" fill="url(#g170)"/><rect x="396.9" y="286.96" width="31.85" height="2.55" fill="url(#g171)"/><rect x="396.9" y="289.16" width="31.85" height="2.55" fill="url(#g172)"/><rect x="396.9" y="291.36" width="31.85" height="2.55" fill="url(#g173)"/><rect x="396.9" y="293.55" width="31.85" height="2.55" fill="url(#g174)"/><rect x="396.9" y="295.75" width="31.85" height="2.55" fill="url(#g175)"/><rect x="396.9" y="297.95" width="31.85" height="2.55" fill="url(#g176)"/><rect x="396.9" y="300.15" width="31.85" height="2.55" fill="url(#g177)"/><rect x="396.9" y="302.35" width="31.85" height="2.55" fill="url(#g178)"/><rect x="396.9" y="304.54" width="31.85" height="2.55" fill="url(#g179)"/><rect x="396.9" y="306.74" width="31.85" height="2.55" fill="url(#g180)"/><rect x="396.9" y="308.94" width="31.85" height="2.55" fill="url(#g181)"/><rect x="396.9" y="311.14" width="31.85" height="2.55" fill="url(#g182)"/><rect x="396.9" y="313.34" width="31.85" height="2.55" fill="url(#g183)"/><rect x="396.9" y="315.53" width="31.85" height="2.55" fill="url(#g184)"/><rect x="396.9" y="317.73" width="31.85" height="2.55" fill="url(#g185)"/><rect x="396.9" y="319.93" width="31.85" height="2.55" fill="url(#g186)"/><rect x="396.9" y="322.13" width="31.85" height="2.55" fill="url(#g187)"/><rect x="396.9" y="324.33" width="31.85" height="2.55" fill="url(#g188)"/><rect x="396.9" y="326.52" width="31.85" height="2.55" fill="url(#g189)"/><rect x="396.9" y="328.72" width="31.85" height="2.55" fill="url(#g190)"/><rect x="396.9" y="330.92" width="31.85" height="2.55" fill="url(#g191)"/><rect x="396.9" y="333.12" width="31.85" height="2.55" fill="url(#g192)"/><rect x="396.9" y="335.32" width="31.85" height="2.55" fill="url(#g193)"/><rect x="396.9" y="337.51" width="31.85" height="2.55" fill="url(#g194)"/><rect x="396.9" y="339.71" width="31.85" height="2.55" fill="url(#g195)"/><rect x="396.9" y="341.91" width="31.85" height="2.55" fill="url(#g196)"/><rect x="396.9" y="344.11" width="31.85" height="2.55" fill="url(#g197)"/><rect x="396.9" y="346.31" width="31.85" height="2.55" fill="url(#g198)"/><rect x="396.9" y="348.5" width="31.85" height="2.55" fill="url(#g199)"/><rect x="396.9" y="350.7" width="31.85" height="2.55" fill="url(#g200)"/>
<rect x="397.3" y="243.4" width="31.05" height="109.1" fill="none" stroke="#2a2a2a" stroke-width="0.9"/>
<defs><linearGradient id="g201" x2=".5" spreadMethod="reflect"><stop offset="0" stop-color="#f08b17"/><stop offset="0.28" stop-color="#ed8314"/><stop offset="0.52" stop-color="#ed8314"/><stop offset="0.66" stop-color="#e87911"/><stop offset="0.77" stop-color="#e87a11"/><stop offset="0.89" stop-color="#e4700e"/><stop offset="1" stop-color="#e5710f"/></linearGradient><linearGradient id="g202" x2=".5" spreadMethod="reflect"><stop offset="0" stop-color="#f7ae29"/><stop offset="0.28" stop-color="#f8b32c"/><stop offset="0.52" stop-color="#f7b02b"/><stop offset="0.66" stop-color="#f8b42d"/><stop offset="0.77" stop-color="#f6a926"/><stop offset="0.89" stop-color="#f5a223"/><stop offset="1" stop-color="#f6a524"/></linearGradient><linearGradient id="g203" x2=".5" spreadMethod="reflect"><stop offset="0" stop-color="#fbcb41"/><stop offset="0.28" stop-color="#fbd045"/><stop offset="0.52" stop-color="#fac43b"/><stop offset="0.66" stop-color="#fac63c"/><stop offset="0.77" stop-color="#fac43b"/><stop offset="0.89" stop-color="#f9ba32"/><stop offset="1" stop-color="#f9bb33"/></linearGradient><linearGradient id="g204" x2=".5" spreadMethod="reflect"><stop offset="0" stop-color="#fbd045"/><stop offset="0.28" stop-color="#fbd246"/><stop offset="0.52" stop-color="#fbca40"/><stop offset="0.66" stop-color="#fbcd42"/><stop offset="0.77" stop-color="#fac63c"/><stop offset="0.89" stop-color="#fac73d"/><stop offset="1" stop-color="#fac73d"/></linearGradient><linearGradient id="g205" x2=".5" spreadMethod="reflect"><stop offset="0" stop-color="#fcd74b"/><stop offset="0.28" stop-color="#fbce44"/><stop offset="0.52" stop-color="#fcd64a"/><stop offset="0.66" stop-color="#fbcb41"/><stop offset="0.77" stop-color="#fbcd42"/><stop offset="0.89" stop-color="#fac73d"/><stop offset="1" stop-color="#fac63c"/></linearGradient><linearGradient id="g206" x2=".5" spreadMethod="reflect"><stop offset="0" stop-color="#fde057"/><stop offset="0.28" stop-color="#fde259"/><stop offset="0.52" stop-color="#fde259"/><stop offset="0.66" stop-color="#fddb51"/><stop offset="0.77" stop-color="#fddb51"/><stop offset="0.89" stop-color="#fcda4f"/><stop offset="1" stop-color="#fcd74b"/></linearGradient><linearGradient id="g207" x2=".5" spreadMethod="reflect"><stop offset="0" stop-color="#fcd94d"/><stop offset="0.28" stop-color="#fcdb50"/><stop offset="0.52" stop-color="#fcd348"/><stop offset="0.66" stop-color="#fcd74b"/><stop offset="0.77" stop-color="#fcd84c"/><stop offset="0.89" stop-color="#fbcb41"/><stop offset="1" stop-color="#faca40"/></linearGradient><linearGradient id="g208" x2=".5" spreadMethod="reflect"><stop offset="0" stop-color="#fee35b"/><stop offset="0.28" stop-color="#fee760"/><stop offset="0.52" stop-color="#fde159"/><stop offset="0.66" stop-color="#fde25a"/><stop offset="0.77" stop-color="#fee35b"/><stop offset="0.89" stop-color="#fddd53"/><stop offset="1" stop-color="#fde057"/></linearGradient><linearGradient id="g209" x2=".5" spreadMethod="reflect"><stop offset="0" stop-color="#fde056"/><stop offset="0.28" stop-color="#fcda4f"/><stop offset="0.52" stop-color="#fcdb50"/><stop offset="0.66" stop-color="#fddd52"/><stop offset="0.77" stop-color="#fddf56"/><stop offset="0.89" stop-color="#fcd94d"/><stop offset="1" stop-color="#fddb50"/></linearGradient><linearGradient id="g210" x2=".5" spreadMethod="reflect"><stop offset="0" stop-color="#fcd94e"/><stop offset="0.28" stop-color="#fddc52"/><stop offset="0.52" stop-color="#fcd94e"/><stop offset="0.66" stop-color="#fddd53"/><stop offset="0.77" stop-color="#fcd84c"/><stop offset="0.89" stop-color="#fcd348"/><stop offset="1" stop-color="#fcdb50"/></linearGradient><linearGradient id="g211" x2=".5" spreadMethod="reflect"><stop offset="0" stop-color="#fddf55"/><stop offset="0.28" stop-color="#fddd53"/><stop offset="0.52" stop-color="#fdde54"/><stop offset="0.66" stop-color="#fddd53"/><stop offset="0.77" stop-color="#fcda4e"/><stop offset="0.89" stop-color="#fddb50"/><stop offset="1" stop-color="#fcda4f"/></linearGradient><linearGradient id="g212" x2=".5" spreadMethod="reflect"><stop offset="0" stop-color="#fee75f"/><stop offset="0.28" stop-color="#fee65e"/><stop offset="0.52" stop-color="#fee760"/><stop offset="0.66" stop-color="#fee65e"/><stop offset="0.77" stop-color="#fee963"/><stop offset="0.89" stop-color="#fee65f"/><stop offset="1" stop-color="#fee45c"/></linearGradient><linearGradient id="g213" x2=".5" spreadMethod="reflect"><stop offset="0" stop-color="#fde056"/><stop offset="0.28" stop-color="#fee35a"/><stop offset="0.52" stop-color="#fee65f"/><stop offset="0.66" stop-color="#fdde54"/><stop offset="0.77" stop-color="#fee55d"/><stop offset="0.89" stop-color="#fee45c"/><stop offset="1" stop-color="#fee35a"/></linearGradient><linearGradient id="g214" x2=".5" spreadMethod="reflect"><stop offset="0" stop-color="#fdde55"/><stop offset="0.28" stop-color="#fee45d"/><stop offset="0.52" stop-color="#fde259"/><stop offset="0.66" stop-color="#fee65e"/><stop offset="0.77" stop-color="#fee35a"/><stop offset="0.89" stop-color="#fddc51"/><stop offset="1" stop-color="#fdde54"/></linearGradient><linearGradient id="g215" x2=".5" spreadMethod="reflect"><stop offset="0" stop-color="#fdde54"/><stop offset="0.28" stop-color="#fddf56"/><stop offset="0.52" stop-color="#fddf55"/><stop offset="0.66" stop-color="#fde259"/><stop offset="0.77" stop-color="#fde259"/><stop offset="0.89" stop-color="#fde056"/><stop offset="1" stop-color="#fddf55"/></linearGradient><linearGradient id="g216" x2=".5" spreadMethod="reflect"><stop offset="0" stop-color="#fee65e"/><stop offset="0.28" stop-color="#fee35b"/><stop offset="0.52" stop-color="#fee760"/><stop offset="0.66" stop-color="#feea63"/><stop offset="0.77" stop-color="#fee861"/><stop offset="0.89" stop-color="#fee35a"/><stop offset="1" stop-color="#fee35b"/></linearGradient><linearGradient id="g217" x2=".5" spreadMethod="reflect"><stop offset="0" stop-color="#fde25a"/><stop offset="0.28" stop-color="#fde158"/><stop offset="0.52" stop-color="#fee35b"/><stop offset="0.66" stop-color="#fde259"/><stop offset="0.77" stop-color="#fee35b"/><stop offset="0.89" stop-color="#fee65f"/><stop offset="1" stop-color="#fde158"/></linearGradient><linearGradient id="g218" x2=".5" spreadMethod="reflect"><stop offset="0" stop-color="#fee45c"/><stop offset="0.28" stop-color="#fee65f"/><stop offset="0.52" stop-color="#fee45c"/><stop offset="0.66" stop-color="#fee35b"/><stop offset="0.77" stop-color="#fee55d"/><stop offset="0.89" stop-color="#fee55e"/><stop offset="1" stop-color="#fee55d"/></linearGradient><linearGradient id="g219" x2=".5" spreadMethod="reflect"><stop offset="0" stop-color="#fde259"/><stop offset="0.28" stop-color="#fde057"/><stop offset="0.52" stop-color="#fee45c"/><stop offset="0.66" stop-color="#fde259"/><stop offset="0.77" stop-color="#fde057"/><stop offset="0.89" stop-color="#fee45d"/><stop offset="1" stop-color="#fde158"/></linearGradient><linearGradient id="g220" x2=".5" spreadMethod="reflect"><stop offset="0" stop-color="#fee861"/><stop offset="0.28" stop-color="#fee55e"/><stop offset="0.52" stop-color="#fee760"/><stop offset="0.66" stop-color="#fee55e"/><stop offset="0.77" stop-color="#fee862"/><stop offset="0.89" stop-color="#fee65e"/><stop offset="1" stop-color="#fee760"/></linearGradient><linearGradient id="g221" x2=".5" spreadMethod="reflect"><stop offset="0" stop-color="#fde057"/><stop offset="0.28" stop-color="#fee75f"/><stop offset="0.52" stop-color="#fee760"/><stop offset="0.66" stop-color="#fee760"/><stop offset="0.77" stop-color="#fee760"/><stop offset="0.89" stop-color="#fde158"/><stop offset="1" stop-color="#fee75f"/></linearGradient><linearGradient id="g222" x2=".5" spreadMethod="reflect"><stop offset="0" stop-color="#fddd53"/><stop offset="0.28" stop-color="#fcda4f"/><stop offset="0.52" stop-color="#fddc52"/><stop offset="0.66" stop-color="#fddd53"/><stop offset="0.77" stop-color="#fddc52"/><stop offset="0.89" stop-color="#fcd84d"/><stop offset="1" stop-color="#fddc51"/></linearGradient><linearGradient id="g223" x2=".5" spreadMethod="reflect"><stop offset="0" stop-color="#fee962"/><stop offset="0.28" stop-color="#ffee6a"/><stop offset="0.52" stop-color="#ffed68"/><stop offset="0.66" stop-color="#fee962"/><stop offset="0.77" stop-color="#ffef6b"/><stop offset="0.89" stop-color="#ffed67"/><stop offset="1" stop-color="#ffea64"/></linearGradient><linearGradient id="g224" x2=".5" spreadMethod="reflect"><stop offset="0" stop-color="#fde259"/><stop offset="0.28" stop-color="#fee55e"/><stop offset="0.52" stop-color="#fde158"/><stop offset="0.66" stop-color="#fee45c"/><stop offset="0.77" stop-color="#fde259"/><stop offset="0.89" stop-color="#fee45c"/><stop offset="1" stop-color="#fdde55"/></linearGradient><linearGradient id="g225" x2=".5" spreadMethod="reflect"><stop offset="0" stop-color="#fee760"/><stop offset="0.28" stop-color="#fee862"/><stop offset="0.52" stop-color="#fee65f"/><stop offset="0.66" stop-color="#feea63"/><stop offset="0.77" stop-color="#fee75f"/><stop offset="0.89" stop-color="#fee75f"/><stop offset="1" stop-color="#fde25a"/></linearGradient><linearGradient id="g226" x2=".5" spreadMethod="reflect"><stop offset="0" stop-color="#fee760"/><stop offset="0.28" stop-color="#fee75f"/><stop offset="0.52" stop-color="#fee45d"/><stop offset="0.66" stop-color="#fde259"/><stop offset="0.77" stop-color="#fee55e"/><stop offset="0.89" stop-color="#fee55d"/><stop offset="1" stop-color="#fde25a"/></linearGradient><linearGradient id="g227" x2=".5" spreadMethod="reflect"><stop offset="0" stop-color="#fee45d"/><stop offset="0.28" stop-color="#fee760"/><stop offset="0.52" stop-color="#fee65e"/><stop offset="0.66" stop-color="#fee760"/><stop offset="0.77" stop-color="#fde056"/><stop offset="0.89" stop-color="#fee35a"/><stop offset="1" stop-color="#fee35b"/></linearGradient><linearGradient id="g228" x2=".5" spreadMethod="reflect"><stop offset="0" stop-color="#fee963"/><stop offset="0.28" stop-color="#ffeb65"/><stop offset="0.52" stop-color="#ffeb65"/><stop offset="0.66" stop-color="#ffec67"/><stop offset="0.77" stop-color="#ffea64"/><stop offset="0.89" stop-color="#fee35a"/><stop offset="1" stop-color="#feea64"/></linearGradient><linearGradient id="g229" x2=".5" spreadMethod="reflect"><stop offset="0" stop-color="#fde158"/><stop offset="0.28" stop-color="#fde259"/><stop offset="0.52" stop-color="#fde158"/><stop offset="0.66" stop-color="#fee55d"/><stop offset="0.77" stop-color="#fddf55"/><stop offset="0.89" stop-color="#fdde54"/><stop offset="1" stop-color="#fde25a"/></linearGradient><linearGradient id="g230" x2=".5" spreadMethod="reflect"><stop offset="0" stop-color="#ffea64"/><stop offset="0.28" stop-color="#ffeb66"/><stop offset="0.52" stop-color="#fee760"/><stop offset="0.66" stop-color="#fee65f"/><stop offset="0.77" stop-color="#fee45c"/><stop offset="0.89" stop-color="#ffeb65"/><stop offset="1" stop-color="#fee65e"/></linearGradient><linearGradient id="g231" x2=".5" spreadMethod="reflect"><stop offset="0" stop-color="#fee45c"/><stop offset="0.28" stop-color="#fee55d"/><stop offset="0.52" stop-color="#fde25a"/><stop offset="0.66" stop-color="#fdde54"/><stop offset="0.77" stop-color="#fee65e"/><stop offset="0.89" stop-color="#fee45c"/><stop offset="1" stop-color="#fee45c"/></linearGradient><linearGradient id="g232" x2=".5" spreadMethod="reflect"><stop offset="0" stop-color="#fee45c"/><stop offset="0.28" stop-color="#fee760"/><stop offset="0.52" stop-color="#ffec66"/><stop offset="0.66" stop-color="#fee963"/><stop offset="0.77" stop-color="#fee962"/><stop offset="0.89" stop-color="#fee55e"/><stop offset="1" stop-color="#fee65e"/></linearGradient><linearGradient id="g233" x2=".5" spreadMethod="reflect"><stop offset="0" stop-color="#fee962"/><stop offset="0.28" stop-color="#ffee6a"/><stop offset="0.52" stop-color="#ffeb65"/><stop offset="0.66" stop-color="#fee760"/><stop offset="0.77" stop-color="#ffee69"/><stop offset="0.89" stop-color="#fee962"/><stop offset="1" stop-color="#fee861"/></linearGradient></defs>
<rect x="396.9" y="355.4" width="31.85" height="2.54" fill="url(#g201)"/><rect x="396.9" y="357.59" width="31.85" height="2.54" fill="url(#g202)"/><rect x="396.9" y="359.78" width="31.85" height="2.54" fill="url(#g203)"/><rect x="396.9" y="361.96" width="31.85" height="2.54" fill="url(#g204)"/><rect x="396.9" y="364.15" width="31.85" height="2.54" fill="url(#g205)"/><rect x="396.9" y="366.34" width="31.85" height="2.54" fill="url(#g206)"/><rect x="396.9" y="368.53" width="31.85" height="2.54" fill="url(#g207)"/><rect x="396.9" y="370.72" width="31.85" height="2.54" fill="url(#g208)"/><rect x="396.9" y="372.9" width="31.85" height="2.54" fill="url(#g209)"/><rect x="396.9" y="375.09" width="31.85" height="2.54" fill="url(#g210)"/><rect x="396.9" y="377.28" width="31.85" height="2.54" fill="url(#g211)"/><rect x="396.9" y="379.47" width="31.85" height="2.54" fill="url(#g212)"/><rect x="396.9" y="381.65" width="31.85" height="2.54" fill="url(#g213)"/><rect x="396.9" y="383.84" width="31.85" height="2.54" fill="url(#g214)"/><rect x="396.9" y="386.03" width="31.85" height="2.54" fill="url(#g215)"/><rect x="396.9" y="388.22" width="31.85" height="2.54" fill="url(#g216)"/><rect x="396.9" y="390.41" width="31.85" height="2.54" fill="url(#g217)"/><rect x="396.9" y="392.59" width="31.85" height="2.54" fill="url(#g218)"/><rect x="396.9" y="394.78" width="31.85" height="2.54" fill="url(#g219)"/><rect x="396.9" y="396.97" width="31.85" height="2.54" fill="url(#g220)"/><rect x="396.9" y="399.16" width="31.85" height="2.54" fill="url(#g221)"/><rect x="396.9" y="401.35" width="31.85" height="2.54" fill="url(#g222)"/><rect x="396.9" y="403.53" width="31.85" height="2.54" fill="url(#g223)"/><rect x="396.9" y="405.72" width="31.85" height="2.54" fill="url(#g224)"/><rect x="396.9" y="407.91" width="31.85" height="2.54" fill="url(#g225)"/><rect x="396.9" y="410.1" width="31.85" height="2.54" fill="url(#g226)"/><rect x="396.9" y="412.28" width="31.85" height="2.54" fill="url(#g227)"/><rect x="396.9" y="414.47" width="31.85" height="2.54" fill="url(#g228)"/><rect x="396.9" y="416.66" width="31.85" height="2.54" fill="url(#g229)"/><rect x="396.9" y="418.85" width="31.85" height="2.54" fill="url(#g230)"/><rect x="396.9" y="421.04" width="31.85" height="2.54" fill="url(#g231)"/><rect x="396.9" y="423.22" width="31.85" height="2.54" fill="url(#g232)"/><rect x="396.9" y="425.41" width="31.85" height="2.54" fill="url(#g233)"/>
<rect x="397.3" y="355.8" width="31.05" height="71.4" fill="none" stroke="#2a2a2a" stroke-width="0.9"/>
<defs><linearGradient id="g234" x2=".5" spreadMethod="reflect"><stop offset="0" stop-color="#f6a927"/><stop offset="0.28" stop-color="#f7af2a"/><stop offset="0.52" stop-color="#f6a725"/><stop offset="0.66" stop-color="#f6a625"/><stop offset="0.77" stop-color="#f49b1f"/><stop offset="0.89" stop-color="#f18c17"/><stop offset="1" stop-color="#f08a17"/></linearGradient><linearGradient id="g235" x2=".5" spreadMethod="reflect"><stop offset="0" stop-color="#f8b831"/><stop offset="0.28" stop-color="#f9b931"/><stop offset="0.52" stop-color="#f9b932"/><stop offset="0.66" stop-color="#f9b831"/><stop offset="0.77" stop-color="#f7aa27"/><stop offset="0.89" stop-color="#f59c1f"/><stop offset="1" stop-color="#f59d20"/></linearGradient><linearGradient id="g236" x2=".5" spreadMethod="reflect"><stop offset="0" stop-color="#f9c138"/><stop offset="0.28" stop-color="#f9be35"/><stop offset="0.52" stop-color="#fac33a"/><stop offset="0.66" stop-color="#f8b62f"/><stop offset="0.77" stop-color="#f7aa27"/><stop offset="0.89" stop-color="#f6a625"/><stop offset="1" stop-color="#f6a323"/></linearGradient><linearGradient id="g237" x2=".5" spreadMethod="reflect"><stop offset="0" stop-color="#f9c038"/><stop offset="0.28" stop-color="#fac33a"/><stop offset="0.52" stop-color="#f9c138"/><stop offset="0.66" stop-color="#f9bd35"/><stop offset="0.77" stop-color="#f8b32c"/><stop offset="0.89" stop-color="#f6a525"/><stop offset="1" stop-color="#f6a826"/></linearGradient><linearGradient id="g238" x2=".5" spreadMethod="reflect"><stop offset="0" stop-color="#fac43a"/><stop offset="0.28" stop-color="#f9be35"/><stop offset="0.52" stop-color="#fac239"/><stop offset="0.66" stop-color="#f9bb33"/><stop offset="0.77" stop-color="#f8b52e"/><stop offset="0.89" stop-color="#f8b32c"/><stop offset="1" stop-color="#f6a927"/></linearGradient><linearGradient id="g239" x2=".5" spreadMethod="reflect"><stop offset="0" stop-color="#fbd045"/><stop offset="0.28" stop-color="#fcd64a"/><stop offset="0.52" stop-color="#fcd549"/><stop offset="0.66" stop-color="#faca40"/><stop offset="0.77" stop-color="#fac93f"/><stop offset="0.89" stop-color="#f8b72f"/><stop offset="1" stop-color="#f9b932"/></linearGradient><linearGradient id="g240" x2=".5" spreadMethod="reflect"><stop offset="0" stop-color="#fcd84c"/><stop offset="0.28" stop-color="#fcd94e"/><stop offset="0.52" stop-color="#fcd64a"/><stop offset="0.66" stop-color="#fcd448"/><stop offset="0.77" stop-color="#fac83e"/><stop offset="0.89" stop-color="#fac53c"/><stop offset="1" stop-color="#fac239"/></linearGradient><linearGradient id="g241" x2=".5" spreadMethod="reflect"><stop offset="0" stop-color="#fcd64a"/><stop offset="0.28" stop-color="#fddd53"/><stop offset="0.52" stop-color="#fbd146"/><stop offset="0.66" stop-color="#fcd94e"/><stop offset="0.77" stop-color="#fcd347"/><stop offset="0.89" stop-color="#fac93f"/><stop offset="1" stop-color="#fac83e"/></linearGradient><linearGradient id="g242" x2=".5" spreadMethod="reflect"><stop offset="0" stop-color="#fcd94d"/><stop offset="0.28" stop-color="#fddb51"/><stop offset="0.52" stop-color="#fcd94e"/><stop offset="0.66" stop-color="#fcd84c"/><stop offset="0.77" stop-color="#fcd347"/><stop offset="0.89" stop-color="#fac93f"/><stop offset="1" stop-color="#fac63c"/></linearGradient><linearGradient id="g243" x2=".5" spreadMethod="reflect"><stop offset="0" stop-color="#fee65f"/><stop offset="0.28" stop-color="#fee55d"/><stop offset="0.52" stop-color="#fde158"/><stop offset="0.66" stop-color="#fde056"/><stop offset="0.77" stop-color="#fdde55"/><stop offset="0.89" stop-color="#fcd84c"/><stop offset="1" stop-color="#fddc52"/></linearGradient><linearGradient id="g244" x2=".5" spreadMethod="reflect"><stop offset="0" stop-color="#fee861"/><stop offset="0.28" stop-color="#fee760"/><stop offset="0.52" stop-color="#fee55d"/><stop offset="0.66" stop-color="#fee65e"/><stop offset="0.77" stop-color="#fde259"/><stop offset="0.89" stop-color="#fddf55"/><stop offset="1" stop-color="#fde057"/></linearGradient><linearGradient id="g245" x2=".5" spreadMethod="reflect"><stop offset="0" stop-color="#fee55e"/><stop offset="0.28" stop-color="#fee760"/><stop offset="0.52" stop-color="#fee962"/><stop offset="0.66" stop-color="#fee65f"/><stop offset="0.77" stop-color="#fde056"/><stop offset="0.89" stop-color="#fddd52"/><stop offset="1" stop-color="#fcda50"/></linearGradient><linearGradient id="g246" x2=".5" spreadMethod="reflect"><stop offset="0" stop-color="#fee55e"/><stop offset="0.28" stop-color="#fee55e"/><stop offset="0.52" stop-color="#fee862"/><stop offset="0.66" stop-color="#fde057"/><stop offset="0.77" stop-color="#fdde54"/><stop offset="0.89" stop-color="#fcd84c"/><stop offset="1" stop-color="#fdde54"/></linearGradient><linearGradient id="g247" x2=".5" spreadMethod="reflect"><stop offset="0" stop-color="#fee45c"/><stop offset="0.28" stop-color="#fee55d"/><stop offset="0.52" stop-color="#fee45c"/><stop offset="0.66" stop-color="#fee65e"/><stop offset="0.77" stop-color="#fde158"/><stop offset="0.89" stop-color="#fde057"/><stop offset="1" stop-color="#fdde54"/></linearGradient><linearGradient id="g248" x2=".5" spreadMethod="reflect"><stop offset="0" stop-color="#ffee69"/><stop offset="0.28" stop-color="#ffeb65"/><stop offset="0.52" stop-color="#ffee69"/><stop offset="0.66" stop-color="#ffec66"/><stop offset="0.77" stop-color="#feea64"/><stop offset="0.89" stop-color="#fee55e"/><stop offset="1" stop-color="#fee45c"/></linearGradient><linearGradient id="g249" x2=".5" spreadMethod="reflect"><stop offset="0" stop-color="#ffec66"/><stop offset="0.28" stop-color="#ffed67"/><stop offset="0.52" stop-color="#feea64"/><stop offset="0.66" stop-color="#fee55e"/><stop offset="0.77" stop-color="#fee55e"/><stop offset="0.89" stop-color="#fee962"/><stop offset="1" stop-color="#fee35b"/></linearGradient><linearGradient id="g250" x2=".5" spreadMethod="reflect"><stop offset="0" stop-color="#fff16f"/><stop offset="0.28" stop-color="#ffef6b"/><stop offset="0.52" stop-color="#fff06d"/><stop offset="0.66" stop-color="#fff06c"/><stop offset="0.77" stop-color="#fff16e"/><stop offset="0.89" stop-color="#ffec66"/><stop offset="1" stop-color="#ffec67"/></linearGradient><linearGradient id="g251" x2=".5" spreadMethod="reflect"><stop offset="0" stop-color="#ffee69"/><stop offset="0.28" stop-color="#fff16f"/><stop offset="0.52" stop-color="#fff06d"/><stop offset="0.66" stop-color="#ffee69"/><stop offset="0.77" stop-color="#fff06d"/><stop offset="0.89" stop-color="#ffed67"/><stop offset="1" stop-color="#ffed68"/></linearGradient><linearGradient id="g252" x2=".5" spreadMethod="reflect"><stop offset="0" stop-color="#fff372"/><stop offset="0.28" stop-color="#fff473"/><stop offset="0.52" stop-color="#fff16d"/><stop offset="0.66" stop-color="#fff16e"/><stop offset="0.77" stop-color="#fff16e"/><stop offset="0.89" stop-color="#ffed68"/><stop offset="1" stop-color="#ffeb64"/></linearGradient><linearGradient id="g253" x2=".5" spreadMethod="reflect"><stop offset="0" stop-color="#fff473"/><stop offset="0.28" stop-color="#fff371"/><stop offset="0.52" stop-color="#fff16f"/><stop offset="0.66" stop-color="#fff677"/><stop offset="0.77" stop-color="#fff16f"/><stop offset="0.89" stop-color="#ffea64"/><stop offset="1" stop-color="#fff06c"/></linearGradient><linearGradient id="g254" x2=".5" spreadMethod="reflect"><stop offset="0" stop-color="#fee760"/><stop offset="0.28" stop-color="#ffeb65"/><stop offset="0.52" stop-color="#fee761"/><stop offset="0.66" stop-color="#ffec66"/><stop offset="0.77" stop-color="#ffee6a"/><stop offset="0.89" stop-color="#ffeb65"/><stop offset="1" stop-color="#fee760"/></linearGradient><linearGradient id="g255" x2=".5" spreadMethod="reflect"><stop offset="0" stop-color="#fee963"/><stop offset="0.28" stop-color="#ffee6a"/><stop offset="0.52" stop-color="#ffeb65"/><stop offset="0.66" stop-color="#ffee69"/><stop offset="0.77" stop-color="#fee861"/><stop offset="0.89" stop-color="#fee55d"/><stop offset="1" stop-color="#ffed67"/></linearGradient><linearGradient id="g256" x2=".5" spreadMethod="reflect"><stop offset="0" stop-color="#fff779"/><stop offset="0.28" stop-color="#fff779"/><stop offset="0.52" stop-color="#fff576"/><stop offset="0.66" stop-color="#fff575"/><stop offset="0.77" stop-color="#fff373"/><stop offset="0.89" stop-color="#fff779"/><stop offset="1" stop-color="#fff677"/></linearGradient><linearGradient id="g257" x2=".5" spreadMethod="reflect"><stop offset="0" stop-color="#fff473"/><stop offset="0.28" stop-color="#fff372"/><stop offset="0.52" stop-color="#fff372"/><stop offset="0.66" stop-color="#fff575"/><stop offset="0.77" stop-color="#ffed68"/><stop offset="0.89" stop-color="#fff16f"/><stop offset="1" stop-color="#fff576"/></linearGradient><linearGradient id="g258" x2=".5" spreadMethod="reflect"><stop offset="0" stop-color="#fff270"/><stop offset="0.28" stop-color="#fff270"/><stop offset="0.52" stop-color="#ffef6b"/><stop offset="0.66" stop-color="#fff371"/><stop offset="0.77" stop-color="#fff26f"/><stop offset="0.89" stop-color="#fff575"/><stop offset="1" stop-color="#fff779"/></linearGradient><linearGradient id="g259" x2=".5" spreadMethod="reflect"><stop offset="0" stop-color="#fff372"/><stop offset="0.28" stop-color="#fff06c"/><stop offset="0.52" stop-color="#fff372"/><stop offset="0.66" stop-color="#fff16f"/><stop offset="0.77" stop-color="#fff372"/><stop offset="0.89" stop-color="#fff271"/><stop offset="1" stop-color="#fff575"/></linearGradient><linearGradient id="g260" x2=".5" spreadMethod="reflect"><stop offset="0" stop-color="#fff97d"/><stop offset="0.28" stop-color="#fff778"/><stop offset="0.52" stop-color="#fff575"/><stop offset="0.66" stop-color="#fff779"/><stop offset="0.77" stop-color="#fff270"/><stop offset="0.89" stop-color="#fffb80"/><stop offset="1" stop-color="#fffd84"/></linearGradient><linearGradient id="g261" x2=".5" spreadMethod="reflect"><stop offset="0" stop-color="#fff16f"/><stop offset="0.28" stop-color="#fff06c"/><stop offset="0.52" stop-color="#fff16e"/><stop offset="0.66" stop-color="#fff270"/><stop offset="0.77" stop-color="#fff270"/><stop offset="0.89" stop-color="#fff26f"/><stop offset="1" stop-color="#fffe85"/></linearGradient><linearGradient id="g262" x2=".5" spreadMethod="reflect"><stop offset="0" stop-color="#fff779"/><stop offset="0.28" stop-color="#fff678"/><stop offset="0.52" stop-color="#fff474"/><stop offset="0.66" stop-color="#fff778"/><stop offset="0.77" stop-color="#fff87a"/><stop offset="0.89" stop-color="#fff779"/><stop offset="1" stop-color="#fffe85"/></linearGradient><linearGradient id="g263" x2=".5" spreadMethod="reflect"><stop offset="0" stop-color="#fff87b"/><stop offset="0.28" stop-color="#fff87b"/><stop offset="0.52" stop-color="#fff677"/><stop offset="0.66" stop-color="#fff576"/><stop offset="0.77" stop-color="#fff575"/><stop offset="0.89" stop-color="#fffa7e"/><stop offset="1" stop-color="#ffff92"/></linearGradient><linearGradient id="g264" x2=".5" spreadMethod="reflect"><stop offset="0" stop-color="#fff576"/><stop offset="0.28" stop-color="#fff575"/><stop offset="0.52" stop-color="#fff676"/><stop offset="0.66" stop-color="#fff474"/><stop offset="0.77" stop-color="#fff678"/><stop offset="0.89" stop-color="#fffb7f"/><stop offset="1" stop-color="#ffff99"/></linearGradient><linearGradient id="g265" x2=".5" spreadMethod="reflect"><stop offset="0" stop-color="#fff778"/><stop offset="0.28" stop-color="#fff779"/><stop offset="0.52" stop-color="#fff778"/><stop offset="0.66" stop-color="#fff778"/><stop offset="0.77" stop-color="#fff779"/><stop offset="0.89" stop-color="#fffa7f"/><stop offset="1" stop-color="#ffff96"/></linearGradient><linearGradient id="g266" x2=".5" spreadMethod="reflect"><stop offset="0" stop-color="#fff677"/><stop offset="0.28" stop-color="#fff575"/><stop offset="0.52" stop-color="#fff87b"/><stop offset="0.66" stop-color="#fff372"/><stop offset="0.77" stop-color="#fff678"/><stop offset="0.89" stop-color="#fff97d"/><stop offset="1" stop-color="#ffff97"/></linearGradient><linearGradient id="g267" x2=".5" spreadMethod="reflect"><stop offset="0" stop-color="#fff16e"/><stop offset="0.28" stop-color="#fff371"/><stop offset="0.52" stop-color="#ffee69"/><stop offset="0.66" stop-color="#ffef6b"/><stop offset="0.77" stop-color="#ffef6b"/><stop offset="0.89" stop-color="#fff677"/><stop offset="1" stop-color="#ffff95"/></linearGradient><linearGradient id="g268" x2=".5" spreadMethod="reflect"><stop offset="0" stop-color="#ffff87"/><stop offset="0.28" stop-color="#ffff88"/><stop offset="0.52" stop-color="#fffd84"/><stop offset="0.66" stop-color="#ffff87"/><stop offset="0.77" stop-color="#fffd84"/><stop offset="0.89" stop-color="#ffffa1"/><stop offset="1" stop-color="#ffffba"/></linearGradient><linearGradient id="g269" x2=".5" spreadMethod="reflect"><stop offset="0" stop-color="#fff779"/><stop offset="0.28" stop-color="#fff473"/><stop offset="0.52" stop-color="#fff372"/><stop offset="0.66" stop-color="#fff575"/><stop offset="0.77" stop-color="#fff779"/><stop offset="0.89" stop-color="#fffe85"/><stop offset="1" stop-color="#ffffab"/></linearGradient><linearGradient id="g270" x2=".5" spreadMethod="reflect"><stop offset="0" stop-color="#fff97d"/><stop offset="0.28" stop-color="#fff97d"/><stop offset="0.52" stop-color="#fffc81"/><stop offset="0.66" stop-color="#fff97c"/><stop offset="0.77" stop-color="#fffb80"/><stop offset="0.89" stop-color="#ffff91"/><stop offset="1" stop-color="#ffffba"/></linearGradient><linearGradient id="g271" x2=".5" spreadMethod="reflect"><stop offset="0" stop-color="#fff678"/><stop offset="0.28" stop-color="#fff576"/><stop offset="0.52" stop-color="#fff87b"/><stop offset="0.66" stop-color="#fff372"/><stop offset="0.77" stop-color="#fff270"/><stop offset="0.89" stop-color="#ffff89"/><stop offset="1" stop-color="#ffffb0"/></linearGradient><linearGradient id="g272" x2=".5" spreadMethod="reflect"><stop offset="0" stop-color="#fff678"/><stop offset="0.28" stop-color="#fff575"/><stop offset="0.52" stop-color="#fff779"/><stop offset="0.66" stop-color="#fff677"/><stop offset="0.77" stop-color="#fff678"/><stop offset="0.89" stop-color="#ffff8f"/><stop offset="1" stop-color="#ffffc0"/></linearGradient><linearGradient id="g273" x2=".5" spreadMethod="reflect"><stop offset="0" stop-color="#fff576"/><stop offset="0.28" stop-color="#fff778"/><stop offset="0.52" stop-color="#fff779"/><stop offset="0.66" stop-color="#fff576"/><stop offset="0.77" stop-color="#fff779"/><stop offset="0.89" stop-color="#ffff89"/><stop offset="1" stop-color="#ffffbb"/></linearGradient><linearGradient id="g274" x2=".5" spreadMethod="reflect"><stop offset="0" stop-color="#fff576"/><stop offset="0.28" stop-color="#fff779"/><stop offset="0.52" stop-color="#fff677"/><stop offset="0.66" stop-color="#fff575"/><stop offset="0.77" stop-color="#fff678"/><stop offset="0.89" stop-color="#ffff9e"/><stop offset="1" stop-color="#ffffbc"/></linearGradient><linearGradient id="g275" x2=".5" spreadMethod="reflect"><stop offset="0" stop-color="#fff778"/><stop offset="0.28" stop-color="#fff575"/><stop offset="0.52" stop-color="#fff87b"/><stop offset="0.66" stop-color="#fff778"/><stop offset="0.77" stop-color="#fffc81"/><stop offset="0.89" stop-color="#ffff8c"/><stop offset="1" stop-color="#ffffc4"/></linearGradient></defs>
<rect x="458.3" y="243" width="31.8" height="2.97" fill="url(#g234)"/><rect x="458.3" y="245.62" width="31.8" height="2.97" fill="url(#g235)"/><rect x="458.3" y="248.23" width="31.8" height="2.97" fill="url(#g236)"/><rect x="458.3" y="250.85" width="31.8" height="2.97" fill="url(#g237)"/><rect x="458.3" y="253.47" width="31.8" height="2.97" fill="url(#g238)"/><rect x="458.3" y="256.08" width="31.8" height="2.97" fill="url(#g239)"/><rect x="458.3" y="258.7" width="31.8" height="2.97" fill="url(#g240)"/><rect x="458.3" y="261.32" width="31.8" height="2.97" fill="url(#g241)"/><rect x="458.3" y="263.93" width="31.8" height="2.97" fill="url(#g242)"/><rect x="458.3" y="266.55" width="31.8" height="2.97" fill="url(#g243)"/><rect x="458.3" y="269.17" width="31.8" height="2.97" fill="url(#g244)"/><rect x="458.3" y="271.78" width="31.8" height="2.97" fill="url(#g245)"/><rect x="458.3" y="274.4" width="31.8" height="2.97" fill="url(#g246)"/><rect x="458.3" y="277.02" width="31.8" height="2.97" fill="url(#g247)"/><rect x="458.3" y="279.63" width="31.8" height="2.97" fill="url(#g248)"/><rect x="458.3" y="282.25" width="31.8" height="2.97" fill="url(#g249)"/><rect x="458.3" y="284.87" width="31.8" height="2.97" fill="url(#g250)"/><rect x="458.3" y="287.48" width="31.8" height="2.97" fill="url(#g251)"/><rect x="458.3" y="290.1" width="31.8" height="2.97" fill="url(#g252)"/><rect x="458.3" y="292.72" width="31.8" height="2.97" fill="url(#g253)"/><rect x="458.3" y="295.33" width="31.8" height="2.97" fill="url(#g254)"/><rect x="458.3" y="297.95" width="31.8" height="2.97" fill="url(#g255)"/><rect x="458.3" y="300.57" width="31.8" height="2.97" fill="url(#g256)"/><rect x="458.3" y="303.18" width="31.8" height="2.97" fill="url(#g257)"/><rect x="458.3" y="305.8" width="31.8" height="2.97" fill="url(#g258)"/><rect x="458.3" y="308.42" width="31.8" height="2.97" fill="url(#g259)"/><rect x="458.3" y="311.03" width="31.8" height="2.97" fill="url(#g260)"/><rect x="458.3" y="313.65" width="31.8" height="2.97" fill="url(#g261)"/><rect x="458.3" y="316.27" width="31.8" height="2.97" fill="url(#g262)"/><rect x="458.3" y="318.88" width="31.8" height="2.97" fill="url(#g263)"/><rect x="458.3" y="321.5" width="31.8" height="2.97" fill="url(#g264)"/><rect x="458.3" y="324.12" width="31.8" height="2.97" fill="url(#g265)"/><rect x="458.3" y="326.73" width="31.8" height="2.97" fill="url(#g266)"/><rect x="458.3" y="329.35" width="31.8" height="2.97" fill="url(#g267)"/><rect x="458.3" y="331.97" width="31.8" height="2.97" fill="url(#g268)"/><rect x="458.3" y="334.58" width="31.8" height="2.97" fill="url(#g269)"/><rect x="458.3" y="337.2" width="31.8" height="2.97" fill="url(#g270)"/><rect x="458.3" y="339.82" width="31.8" height="2.97" fill="url(#g271)"/><rect x="458.3" y="342.43" width="31.8" height="2.97" fill="url(#g272)"/><rect x="458.3" y="345.05" width="31.8" height="2.97" fill="url(#g273)"/><rect x="458.3" y="347.67" width="31.8" height="2.97" fill="url(#g274)"/><rect x="458.3" y="350.28" width="31.8" height="2.97" fill="url(#g275)"/>
<rect x="458.7" y="243.4" width="31" height="109.1" fill="none" stroke="#2a2a2a" stroke-width="0.9"/>
<defs><linearGradient id="g276" x2=".5" spreadMethod="reflect"><stop offset="0" stop-color="#fac239"/><stop offset="0.28" stop-color="#f9bf36"/><stop offset="0.52" stop-color="#fac73e"/><stop offset="0.66" stop-color="#f9ba32"/><stop offset="0.77" stop-color="#f9c138"/><stop offset="0.89" stop-color="#fac138"/><stop offset="1" stop-color="#f9bc34"/></linearGradient><linearGradient id="g277" x2=".5" spreadMethod="reflect"><stop offset="0" stop-color="#fcd347"/><stop offset="0.28" stop-color="#fcd84c"/><stop offset="0.52" stop-color="#fbd146"/><stop offset="0.66" stop-color="#fcd448"/><stop offset="0.77" stop-color="#fcd74b"/><stop offset="0.89" stop-color="#fcd549"/><stop offset="1" stop-color="#fcd448"/></linearGradient><linearGradient id="g278" x2=".5" spreadMethod="reflect"><stop offset="0" stop-color="#fee35a"/><stop offset="0.28" stop-color="#fee65f"/><stop offset="0.52" stop-color="#fee35a"/><stop offset="0.66" stop-color="#fee45c"/><stop offset="0.77" stop-color="#fee45c"/><stop offset="0.89" stop-color="#fee760"/><stop offset="1" stop-color="#fee55d"/></linearGradient><linearGradient id="g279" x2=".5" spreadMethod="reflect"><stop offset="0" stop-color="#fee45c"/><stop offset="0.28" stop-color="#fee65e"/><stop offset="0.52" stop-color="#fee45c"/><stop offset="0.66" stop-color="#fee65e"/><stop offset="0.77" stop-color="#fee55d"/><stop offset="0.89" stop-color="#fde25a"/><stop offset="1" stop-color="#fde158"/></linearGradient><linearGradient id="g280" x2=".5" spreadMethod="reflect"><stop offset="0" stop-color="#fee35b"/><stop offset="0.28" stop-color="#fee65e"/><stop offset="0.52" stop-color="#fee55d"/><stop offset="0.66" stop-color="#fde259"/><stop offset="0.77" stop-color="#fee45c"/><stop offset="0.89" stop-color="#fde158"/><stop offset="1" stop-color="#fee55d"/></linearGradient><linearGradient id="g281" x2=".5" spreadMethod="reflect"><stop offset="0" stop-color="#ffed68"/><stop offset="0.28" stop-color="#ffeb65"/><stop offset="0.52" stop-color="#fee963"/><stop offset="0.66" stop-color="#fee963"/><stop offset="0.77" stop-color="#feea64"/><stop offset="0.89" stop-color="#ffed68"/><stop offset="1" stop-color="#feea64"/></linearGradient><linearGradient id="g282" x2=".5" spreadMethod="reflect"><stop offset="0" stop-color="#fff16f"/><stop offset="0.28" stop-color="#fff06c"/><stop offset="0.52" stop-color="#fff26f"/><stop offset="0.66" stop-color="#fff16f"/><stop offset="0.77" stop-color="#ffec66"/><stop offset="0.89" stop-color="#fff06c"/><stop offset="1" stop-color="#ffee69"/></linearGradient><linearGradient id="g283" x2=".5" spreadMethod="reflect"><stop offset="0" stop-color="#fff371"/><stop offset="0.28" stop-color="#fff474"/><stop offset="0.52" stop-color="#fff474"/><stop offset="0.66" stop-color="#fff474"/><stop offset="0.77" stop-color="#fff16e"/><stop offset="0.89" stop-color="#fff373"/><stop offset="1" stop-color="#fff372"/></linearGradient><linearGradient id="g284" x2=".5" spreadMethod="reflect"><stop offset="0" stop-color="#fff270"/><stop offset="0.28" stop-color="#fff473"/><stop offset="0.52" stop-color="#fff270"/><stop offset="0.66" stop-color="#fff575"/><stop offset="0.77" stop-color="#fff270"/><stop offset="0.89" stop-color="#fff372"/><stop offset="1" stop-color="#fff270"/></linearGradient><linearGradient id="g285" x2=".5" spreadMethod="reflect"><stop offset="0" stop-color="#fff576"/><stop offset="0.28" stop-color="#fff576"/><stop offset="0.52" stop-color="#fff678"/><stop offset="0.66" stop-color="#fff474"/><stop offset="0.77" stop-color="#fff575"/><stop offset="0.89" stop-color="#fff474"/><stop offset="1" stop-color="#fff677"/></linearGradient><linearGradient id="g286" x2=".5" spreadMethod="reflect"><stop offset="0" stop-color="#fff474"/><stop offset="0.28" stop-color="#fff16e"/><stop offset="0.52" stop-color="#fff474"/><stop offset="0.66" stop-color="#fff372"/><stop offset="0.77" stop-color="#fff26f"/><stop offset="0.89" stop-color="#fff16e"/><stop offset="1" stop-color="#fff26f"/></linearGradient><linearGradient id="g287" x2=".5" spreadMethod="reflect"><stop offset="0" stop-color="#fffb7f"/><stop offset="0.28" stop-color="#fffa7e"/><stop offset="0.52" stop-color="#fff97c"/><stop offset="0.66" stop-color="#fffb80"/><stop offset="0.77" stop-color="#fffa7e"/><stop offset="0.89" stop-color="#fff87a"/><stop offset="1" stop-color="#fff87b"/></linearGradient><linearGradient id="g288" x2=".5" spreadMethod="reflect"><stop offset="0" stop-color="#fff16e"/><stop offset="0.28" stop-color="#fff474"/><stop offset="0.52" stop-color="#fff473"/><stop offset="0.66" stop-color="#fff26f"/><stop offset="0.77" stop-color="#fff16f"/><stop offset="0.89" stop-color="#fff371"/><stop offset="1" stop-color="#fff06d"/></linearGradient><linearGradient id="g289" x2=".5" spreadMethod="reflect"><stop offset="0" stop-color="#fff678"/><stop offset="0.28" stop-color="#fff676"/><stop offset="0.52" stop-color="#fff576"/><stop offset="0.66" stop-color="#fff778"/><stop offset="0.77" stop-color="#fff677"/><stop offset="0.89" stop-color="#fff779"/><stop offset="1" stop-color="#fff779"/></linearGradient><linearGradient id="g290" x2=".5" spreadMethod="reflect"><stop offset="0" stop-color="#fff16f"/><stop offset="0.28" stop-color="#ffec67"/><stop offset="0.52" stop-color="#fff06d"/><stop offset="0.66" stop-color="#ffed68"/><stop offset="0.77" stop-color="#fff06d"/><stop offset="0.89" stop-color="#fff16f"/><stop offset="1" stop-color="#fff06c"/></linearGradient><linearGradient id="g291" x2=".5" spreadMethod="reflect"><stop offset="0" stop-color="#fff373"/><stop offset="0.28" stop-color="#fff676"/><stop offset="0.52" stop-color="#fff678"/><stop offset="0.66" stop-color="#fff474"/><stop offset="0.77" stop-color="#fff575"/><stop offset="0.89" stop-color="#fff576"/><stop offset="1" stop-color="#fff474"/></linearGradient><linearGradient id="g292" x2=".5" spreadMethod="reflect"><stop offset="0" stop-color="#ffee69"/><stop offset="0.28" stop-color="#ffef6b"/><stop offset="0.52" stop-color="#ffee68"/><stop offset="0.66" stop-color="#ffec66"/><stop offset="0.77" stop-color="#ffed68"/><stop offset="0.89" stop-color="#fff372"/><stop offset="1" stop-color="#fff16f"/></linearGradient><linearGradient id="g293" x2=".5" spreadMethod="reflect"><stop offset="0" stop-color="#fff16e"/><stop offset="0.28" stop-color="#fff575"/><stop offset="0.52" stop-color="#ffef6b"/><stop offset="0.66" stop-color="#fff473"/><stop offset="0.77" stop-color="#fff474"/><stop offset="0.89" stop-color="#fff678"/><stop offset="1" stop-color="#fff16f"/></linearGradient><linearGradient id="g294" x2=".5" spreadMethod="reflect"><stop offset="0" stop-color="#ffef6b"/><stop offset="0.28" stop-color="#fff06d"/><stop offset="0.52" stop-color="#fff06d"/><stop offset="0.66" stop-color="#fff06d"/><stop offset="0.77" stop-color="#ffed68"/><stop offset="0.89" stop-color="#ffef6b"/><stop offset="1" stop-color="#ffef6a"/></linearGradient><linearGradient id="g295" x2=".5" spreadMethod="reflect"><stop offset="0" stop-color="#fffb80"/><stop offset="0.28" stop-color="#fff678"/><stop offset="0.52" stop-color="#fff779"/><stop offset="0.66" stop-color="#fff77a"/><stop offset="0.77" stop-color="#fff87b"/><stop offset="0.89" stop-color="#fff87a"/><stop offset="1" stop-color="#fff97c"/></linearGradient><linearGradient id="g296" x2=".5" spreadMethod="reflect"><stop offset="0" stop-color="#fff575"/><stop offset="0.28" stop-color="#fff26f"/><stop offset="0.52" stop-color="#fff371"/><stop offset="0.66" stop-color="#fff372"/><stop offset="0.77" stop-color="#fff270"/><stop offset="0.89" stop-color="#fff270"/><stop offset="1" stop-color="#fff270"/></linearGradient><linearGradient id="g297" x2=".5" spreadMethod="reflect"><stop offset="0" stop-color="#fff16e"/><stop offset="0.28" stop-color="#fff06d"/><stop offset="0.52" stop-color="#ffef6a"/><stop offset="0.66" stop-color="#ffef6a"/><stop offset="0.77" stop-color="#ffee69"/><stop offset="0.89" stop-color="#ffed68"/><stop offset="1" stop-color="#ffee69"/></linearGradient><linearGradient id="g298" x2=".5" spreadMethod="reflect"><stop offset="0" stop-color="#fff270"/><stop offset="0.28" stop-color="#fff677"/><stop offset="0.52" stop-color="#fff677"/><stop offset="0.66" stop-color="#fff677"/><stop offset="0.77" stop-color="#fff87a"/><stop offset="0.89" stop-color="#fff77a"/><stop offset="1" stop-color="#fff677"/></linearGradient><linearGradient id="g299" x2=".5" spreadMethod="reflect"><stop offset="0" stop-color="#fff270"/><stop offset="0.28" stop-color="#fff575"/><stop offset="0.52" stop-color="#fff26f"/><stop offset="0.66" stop-color="#fff575"/><stop offset="0.77" stop-color="#fff16e"/><stop offset="0.89" stop-color="#ffee6a"/><stop offset="1" stop-color="#fff576"/></linearGradient><linearGradient id="g300" x2=".5" spreadMethod="reflect"><stop offset="0" stop-color="#fff06d"/><stop offset="0.28" stop-color="#fff372"/><stop offset="0.52" stop-color="#fff06c"/><stop offset="0.66" stop-color="#fff575"/><stop offset="0.77" stop-color="#fff372"/><stop offset="0.89" stop-color="#fff16f"/><stop offset="1" stop-color="#fff06c"/></linearGradient><linearGradient id="g301" x2=".5" spreadMethod="reflect"><stop offset="0" stop-color="#fff87a"/><stop offset="0.28" stop-color="#fff474"/><stop offset="0.52" stop-color="#fff270"/><stop offset="0.66" stop-color="#fff474"/><stop offset="0.77" stop-color="#fff678"/><stop offset="0.89" stop-color="#fff87a"/><stop offset="1" stop-color="#fff06d"/></linearGradient><linearGradient id="g302" x2=".5" spreadMethod="reflect"><stop offset="0" stop-color="#fff677"/><stop offset="0.28" stop-color="#fff677"/><stop offset="0.52" stop-color="#fff16e"/><stop offset="0.66" stop-color="#fff16e"/><stop offset="0.77" stop-color="#fff372"/><stop offset="0.89" stop-color="#fff473"/><stop offset="1" stop-color="#fff26f"/></linearGradient><linearGradient id="g303" x2=".5" spreadMethod="reflect"><stop offset="0" stop-color="#fff16e"/><stop offset="0.28" stop-color="#fff372"/><stop offset="0.52" stop-color="#fff16e"/><stop offset="0.66" stop-color="#ffec67"/><stop offset="0.77" stop-color="#fff372"/><stop offset="0.89" stop-color="#fff271"/><stop offset="1" stop-color="#fff371"/></linearGradient></defs>
<rect x="458.3" y="355" width="31.8" height="2.94" fill="url(#g276)"/><rect x="458.3" y="357.59" width="31.8" height="2.94" fill="url(#g277)"/><rect x="458.3" y="360.19" width="31.8" height="2.94" fill="url(#g278)"/><rect x="458.3" y="362.78" width="31.8" height="2.94" fill="url(#g279)"/><rect x="458.3" y="365.37" width="31.8" height="2.94" fill="url(#g280)"/><rect x="458.3" y="367.96" width="31.8" height="2.94" fill="url(#g281)"/><rect x="458.3" y="370.56" width="31.8" height="2.94" fill="url(#g282)"/><rect x="458.3" y="373.15" width="31.8" height="2.94" fill="url(#g283)"/><rect x="458.3" y="375.74" width="31.8" height="2.94" fill="url(#g284)"/><rect x="458.3" y="378.34" width="31.8" height="2.94" fill="url(#g285)"/><rect x="458.3" y="380.93" width="31.8" height="2.94" fill="url(#g286)"/><rect x="458.3" y="383.52" width="31.8" height="2.94" fill="url(#g287)"/><rect x="458.3" y="386.11" width="31.8" height="2.94" fill="url(#g288)"/><rect x="458.3" y="388.71" width="31.8" height="2.94" fill="url(#g289)"/><rect x="458.3" y="391.3" width="31.8" height="2.94" fill="url(#g290)"/><rect x="458.3" y="393.89" width="31.8" height="2.94" fill="url(#g291)"/><rect x="458.3" y="396.49" width="31.8" height="2.94" fill="url(#g292)"/><rect x="458.3" y="399.08" width="31.8" height="2.94" fill="url(#g293)"/><rect x="458.3" y="401.67" width="31.8" height="2.94" fill="url(#g294)"/><rect x="458.3" y="404.26" width="31.8" height="2.94" fill="url(#g295)"/><rect x="458.3" y="406.86" width="31.8" height="2.94" fill="url(#g296)"/><rect x="458.3" y="409.45" width="31.8" height="2.94" fill="url(#g297)"/><rect x="458.3" y="412.04" width="31.8" height="2.94" fill="url(#g298)"/><rect x="458.3" y="414.64" width="31.8" height="2.94" fill="url(#g299)"/><rect x="458.3" y="417.23" width="31.8" height="2.94" fill="url(#g300)"/><rect x="458.3" y="419.82" width="31.8" height="2.94" fill="url(#g301)"/><rect x="458.3" y="422.41" width="31.8" height="2.94" fill="url(#g302)"/><rect x="458.3" y="425.01" width="31.8" height="2.94" fill="url(#g303)"/>
<rect x="458.7" y="355.4" width="31" height="71.8" fill="none" stroke="#2a2a2a" stroke-width="0.9"/>
<defs><linearGradient id="g304" x1="0" y1="0" x2="0" y2="1"><stop offset="0" stop-color="rgb(255,255,245)"/><stop offset="0.06" stop-color="rgb(255,255,235)"/><stop offset="0.25" stop-color="rgb(253,243,160)"/><stop offset="0.38" stop-color="rgb(252,228,110)"/><stop offset="0.45" stop-color="rgb(248,190,60)"/><stop offset="0.53" stop-color="rgb(235,130,20)"/><stop offset="0.62" stop-color="rgb(180,60,10)"/><stop offset="0.72" stop-color="rgb(110,20,5)"/><stop offset="0.85" stop-color="rgb(50,5,0)"/><stop offset="1" stop-color="rgb(0,0,0)"/></linearGradient></defs>
<rect x="283.2" y="242.8" width="4" height="184.9" fill="url(#g304)"/>
<rect x="283.55" y="243.15" width="3.3" height="184.2" fill="none" stroke="#444" stroke-width="0.7"/>
<line x1="283.8" y1="243" x2="283.8" y2="427.5" stroke="#8a8a8a" stroke-width="1.2"/>
<defs><linearGradient id="g305" x1="0" y1="0" x2="0" y2="1"><stop offset="0" stop-color="rgb(255,255,245)"/><stop offset="0.08" stop-color="rgb(255,252,220)"/><stop offset="0.3" stop-color="rgb(252,240,140)"/><stop offset="0.42" stop-color="rgb(250,220,90)"/><stop offset="0.5" stop-color="rgb(245,170,40)"/><stop offset="0.6" stop-color="rgb(225,110,15)"/><stop offset="0.7" stop-color="rgb(170,50,10)"/><stop offset="0.8" stop-color="rgb(100,15,5)"/><stop offset="0.9" stop-color="rgb(45,5,0)"/><stop offset="1" stop-color="rgb(0,0,0)"/></linearGradient></defs>
<rect x="344.5" y="242.8" width="4" height="184.9" fill="url(#g305)"/>
<rect x="344.85" y="243.15" width="3.3" height="184.2" fill="none" stroke="#444" stroke-width="0.7"/>
<line x1="345.1" y1="243" x2="345.1" y2="427.5" stroke="#8a8a8a" stroke-width="1.2"/>
<defs><linearGradient id="g306" x1="0" y1="0" x2="0" y2="1"><stop offset="0" stop-color="rgb(255,255,245)"/><stop offset="0.06" stop-color="rgb(255,255,235)"/><stop offset="0.25" stop-color="rgb(253,243,160)"/><stop offset="0.38" stop-color="rgb(252,228,110)"/><stop offset="0.45" stop-color="rgb(248,190,60)"/><stop offset="0.53" stop-color="rgb(235,130,20)"/><stop offset="0.62" stop-color="rgb(180,60,10)"/><stop offset="0.72" stop-color="rgb(110,20,5)"/><stop offset="0.85" stop-color="rgb(50,5,0)"/><stop offset="1" stop-color="rgb(0,0,0)"/></linearGradient></defs>
<rect x="430.2" y="242.8" width="4" height="184.9" fill="url(#g306)"/>
<rect x="430.55" y="243.15" width="3.3" height="184.2" fill="none" stroke="#444" stroke-width="0.7"/>
<line x1="430.8" y1="243" x2="430.8" y2="427.5" stroke="#8a8a8a" stroke-width="1.2"/>
<defs><linearGradient id="g307" x1="0" y1="0" x2="0" y2="1"><stop offset="0" stop-color="rgb(255,255,245)"/><stop offset="0.08" stop-color="rgb(255,252,220)"/><stop offset="0.3" stop-color="rgb(252,240,140)"/><stop offset="0.42" stop-color="rgb(250,220,90)"/><stop offset="0.5" stop-color="rgb(245,170,40)"/><stop offset="0.6" stop-color="rgb(225,110,15)"/><stop offset="0.7" stop-color="rgb(170,50,10)"/><stop offset="0.8" stop-color="rgb(100,15,5)"/><stop offset="0.9" stop-color="rgb(45,5,0)"/><stop offset="1" stop-color="rgb(0,0,0)"/></linearGradient></defs>
<rect x="490.6" y="242.8" width="4" height="184.9" fill="url(#g307)"/>
<rect x="490.95" y="243.15" width="3.3" height="184.2" fill="none" stroke="#444" stroke-width="0.7"/>
<line x1="491.2" y1="243" x2="491.2" y2="427.5" stroke="#8a8a8a" stroke-width="1.2"/>
<line x1="287.2" y1="250.4" x2="289.8" y2="250.4" stroke="#222" stroke-width="0.9"/>
<text x="292.5" y="253.3" font-size="8.4" fill="#222" textLength="4.4" lengthAdjust="spacingAndGlyphs" stroke="#222" stroke-width="0.22">5</text>
<line x1="287.2" y1="289" x2="289.8" y2="289" stroke="#222" stroke-width="0.9"/>
<text x="292.5" y="291.9" font-size="8.4" fill="#222" textLength="4.4" lengthAdjust="spacingAndGlyphs" stroke="#222" stroke-width="0.22">0</text>
<line x1="287.2" y1="327.5" x2="289.8" y2="327.5" stroke="#222" stroke-width="0.9"/>
<text x="292.5" y="330.4" font-size="8.4" fill="#222" textLength="9" lengthAdjust="spacingAndGlyphs" stroke="#222" stroke-width="0.22">–5</text>
<line x1="287.2" y1="366" x2="289.8" y2="366" stroke="#222" stroke-width="0.9"/>
<text x="292.5" y="368.9" font-size="8.4" fill="#222" textLength="13.4" lengthAdjust="spacingAndGlyphs" stroke="#222" stroke-width="0.22">–10</text>
<line x1="287.2" y1="404.7" x2="289.8" y2="404.7" stroke="#222" stroke-width="0.9"/>
<text x="292.5" y="407.6" font-size="8.4" fill="#222" textLength="13.4" lengthAdjust="spacingAndGlyphs" stroke="#222" stroke-width="0.22">–15</text>
<line x1="348.5" y1="243.2" x2="351.1" y2="243.2" stroke="#222" stroke-width="0.9"/>
<text x="353.8" y="246.1" font-size="8.4" fill="#222" textLength="8.8" lengthAdjust="spacingAndGlyphs" stroke="#222" stroke-width="0.22">20</text>
<line x1="348.5" y1="266.2" x2="351.1" y2="266.2" stroke="#222" stroke-width="0.9"/>
<text x="353.8" y="269.1" font-size="8.4" fill="#222" textLength="8.8" lengthAdjust="spacingAndGlyphs" stroke="#222" stroke-width="0.22">10</text>
<line x1="348.5" y1="289.2" x2="351.1" y2="289.2" stroke="#222" stroke-width="0.9"/>
<text x="353.8" y="292.1" font-size="8.4" fill="#222" textLength="4.4" lengthAdjust="spacingAndGlyphs" stroke="#222" stroke-width="0.22">0</text>
<line x1="348.5" y1="312.2" x2="351.1" y2="312.2" stroke="#222" stroke-width="0.9"/>
<text x="353.8" y="315.1" font-size="8.4" fill="#222" textLength="13.4" lengthAdjust="spacingAndGlyphs" stroke="#222" stroke-width="0.22">–10</text>
<line x1="348.5" y1="335.3" x2="351.1" y2="335.3" stroke="#222" stroke-width="0.9"/>
<text x="353.8" y="338.2" font-size="8.4" fill="#222" textLength="13.4" lengthAdjust="spacingAndGlyphs" stroke="#222" stroke-width="0.22">–20</text>
<line x1="348.5" y1="358.3" x2="351.1" y2="358.3" stroke="#222" stroke-width="0.9"/>
<text x="353.8" y="361.2" font-size="8.4" fill="#222" textLength="13.4" lengthAdjust="spacingAndGlyphs" stroke="#222" stroke-width="0.22">–30</text>
<line x1="348.5" y1="381.4" x2="351.1" y2="381.4" stroke="#222" stroke-width="0.9"/>
<text x="353.8" y="384.3" font-size="8.4" fill="#222" textLength="13.4" lengthAdjust="spacingAndGlyphs" stroke="#222" stroke-width="0.22">–40</text>
<line x1="348.5" y1="404.4" x2="351.1" y2="404.4" stroke="#222" stroke-width="0.9"/>
<text x="353.8" y="407.3" font-size="8.4" fill="#222" textLength="13.4" lengthAdjust="spacingAndGlyphs" stroke="#222" stroke-width="0.22">–50</text>
<line x1="348.5" y1="427.4" x2="351.1" y2="427.4" stroke="#222" stroke-width="0.9"/>
<text x="353.8" y="430.3" font-size="8.4" fill="#222" textLength="13.4" lengthAdjust="spacingAndGlyphs" stroke="#222" stroke-width="0.22">–60</text>
<line x1="434.2" y1="250.4" x2="436.8" y2="250.4" stroke="#222" stroke-width="0.9"/>
<text x="439.3" y="253.3" font-size="8.4" fill="#222" textLength="4.4" lengthAdjust="spacingAndGlyphs" stroke="#222" stroke-width="0.22">5</text>
<line x1="434.2" y1="289" x2="436.8" y2="289" stroke="#222" stroke-width="0.9"/>
<text x="439.3" y="291.9" font-size="8.4" fill="#222" textLength="4.4" lengthAdjust="spacingAndGlyphs" stroke="#222" stroke-width="0.22">0</text>
<line x1="434.2" y1="327.5" x2="436.8" y2="327.5" stroke="#222" stroke-width="0.9"/>
<text x="439.3" y="330.4" font-size="8.4" fill="#222" textLength="9" lengthAdjust="spacingAndGlyphs" stroke="#222" stroke-width="0.22">–5</text>
<line x1="434.2" y1="366" x2="436.8" y2="366" stroke="#222" stroke-width="0.9"/>
<text x="439.3" y="368.9" font-size="8.4" fill="#222" textLength="13.4" lengthAdjust="spacingAndGlyphs" stroke="#222" stroke-width="0.22">–10</text>
<line x1="434.2" y1="404.7" x2="436.8" y2="404.7" stroke="#222" stroke-width="0.9"/>
<text x="439.3" y="407.6" font-size="8.4" fill="#222" textLength="13.4" lengthAdjust="spacingAndGlyphs" stroke="#222" stroke-width="0.22">–15</text>
<line x1="494.6" y1="243.2" x2="497.2" y2="243.2" stroke="#222" stroke-width="0.9"/>
<text x="500.3" y="246.1" font-size="8.4" fill="#222" textLength="8.8" lengthAdjust="spacingAndGlyphs" stroke="#222" stroke-width="0.22">20</text>
<line x1="494.6" y1="266.2" x2="497.2" y2="266.2" stroke="#222" stroke-width="0.9"/>
<text x="500.3" y="269.1" font-size="8.4" fill="#222" textLength="8.8" lengthAdjust="spacingAndGlyphs" stroke="#222" stroke-width="0.22">10</text>
<line x1="494.6" y1="289.2" x2="497.2" y2="289.2" stroke="#222" stroke-width="0.9"/>
<text x="500.3" y="292.1" font-size="8.4" fill="#222" textLength="4.4" lengthAdjust="spacingAndGlyphs" stroke="#222" stroke-width="0.22">0</text>
<line x1="494.6" y1="312.2" x2="497.2" y2="312.2" stroke="#222" stroke-width="0.9"/>
<text x="500.3" y="315.1" font-size="8.4" fill="#222" textLength="13.4" lengthAdjust="spacingAndGlyphs" stroke="#222" stroke-width="0.22">–10</text>
<line x1="494.6" y1="335.3" x2="497.2" y2="335.3" stroke="#222" stroke-width="0.9"/>
<text x="500.3" y="338.2" font-size="8.4" fill="#222" textLength="13.4" lengthAdjust="spacingAndGlyphs" stroke="#222" stroke-width="0.22">–20</text>
<line x1="494.6" y1="358.3" x2="497.2" y2="358.3" stroke="#222" stroke-width="0.9"/>
<text x="500.3" y="361.2" font-size="8.4" fill="#222" textLength="13.4" lengthAdjust="spacingAndGlyphs" stroke="#222" stroke-width="0.22">–30</text>
<line x1="494.6" y1="381.4" x2="497.2" y2="381.4" stroke="#222" stroke-width="0.9"/>
<text x="500.3" y="384.3" font-size="8.4" fill="#222" textLength="13.4" lengthAdjust="spacingAndGlyphs" stroke="#222" stroke-width="0.22">–40</text>
<line x1="494.6" y1="404.4" x2="497.2" y2="404.4" stroke="#222" stroke-width="0.9"/>
<text x="500.3" y="407.3" font-size="8.4" fill="#222" textLength="13.4" lengthAdjust="spacingAndGlyphs" stroke="#222" stroke-width="0.22">–50</text>
<line x1="494.6" y1="427.4" x2="497.2" y2="427.4" stroke="#222" stroke-width="0.9"/>
<text x="500.3" y="430.3" font-size="8.4" fill="#222" textLength="13.4" lengthAdjust="spacingAndGlyphs" stroke="#222" stroke-width="0.22">–60</text>
<line x1="250.4" y1="428.2" x2="281.5" y2="428.2" stroke="#222" stroke-width="0.9"/>
<line x1="250.4" y1="427.8" x2="250.4" y2="430.8" stroke="#222" stroke-width="0.9"/>
<line x1="265.9" y1="427.8" x2="265.9" y2="430.8" stroke="#222" stroke-width="0.9"/>
<line x1="281.5" y1="427.8" x2="281.5" y2="430.8" stroke="#222" stroke-width="0.9"/>
<text x="238.8" y="440.7" font-size="8.4" fill="#222" textLength="19.6" lengthAdjust="spacingAndGlyphs" stroke="#222" stroke-width="0.22">–3 kb</text>
<text x="260" y="440.7" font-size="8.4" fill="#222" textLength="13.8" lengthAdjust="spacingAndGlyphs" stroke="#222" stroke-width="0.22">TSS</text>
<text x="275" y="440.7" font-size="8.4" fill="#222" textLength="15.2" lengthAdjust="spacingAndGlyphs" stroke="#222" stroke-width="0.22">3 kb</text>
<line x1="311.5" y1="428.2" x2="343.3" y2="428.2" stroke="#222" stroke-width="0.9"/>
<line x1="311.5" y1="427.8" x2="311.5" y2="430.8" stroke="#222" stroke-width="0.9"/>
<line x1="327.4" y1="427.8" x2="327.4" y2="430.8" stroke="#222" stroke-width="0.9"/>
<line x1="343.3" y1="427.8" x2="343.3" y2="430.8" stroke="#222" stroke-width="0.9"/>
<text x="300.5" y="440.7" font-size="8.4" fill="#222" textLength="19.5" lengthAdjust="spacingAndGlyphs" stroke="#222" stroke-width="0.22">–3 kb</text>
<text x="320.8" y="440.7" font-size="8.4" fill="#222" textLength="13.4" lengthAdjust="spacingAndGlyphs" stroke="#222" stroke-width="0.22">TSS</text>
<text x="336.3" y="440.7" font-size="8.4" fill="#222" textLength="15.4" lengthAdjust="spacingAndGlyphs" stroke="#222" stroke-width="0.22">3 kb</text>
<line x1="397.1" y1="428.2" x2="428.6" y2="428.2" stroke="#222" stroke-width="0.9"/>
<line x1="397.1" y1="427.8" x2="397.1" y2="430.8" stroke="#222" stroke-width="0.9"/>
<line x1="412.8" y1="427.8" x2="412.8" y2="430.8" stroke="#222" stroke-width="0.9"/>
<line x1="428.6" y1="427.8" x2="428.6" y2="430.8" stroke="#222" stroke-width="0.9"/>
<text x="387.5" y="440.7" font-size="8.4" fill="#222" textLength="20" lengthAdjust="spacingAndGlyphs" stroke="#222" stroke-width="0.22">–3 kb</text>
<text x="410.5" y="440.7" font-size="8.4" fill="#222" textLength="4.2" lengthAdjust="spacingAndGlyphs" stroke="#222" stroke-width="0.22">0</text>
<text x="420.2" y="440.7" font-size="8.4" fill="#222" textLength="15.3" lengthAdjust="spacingAndGlyphs" stroke="#222" stroke-width="0.22">3 kb</text>
<line x1="458.5" y1="428.2" x2="490" y2="428.2" stroke="#222" stroke-width="0.9"/>
<line x1="458.5" y1="427.8" x2="458.5" y2="430.8" stroke="#222" stroke-width="0.9"/>
<line x1="474.2" y1="427.8" x2="474.2" y2="430.8" stroke="#222" stroke-width="0.9"/>
<line x1="490" y1="427.8" x2="490" y2="430.8" stroke="#222" stroke-width="0.9"/>
<text x="448.8" y="440.7" font-size="8.4" fill="#222" textLength="20" lengthAdjust="spacingAndGlyphs" stroke="#222" stroke-width="0.22">–3 kb</text>
<text x="472.1" y="440.7" font-size="8.4" fill="#222" textLength="4.2" lengthAdjust="spacingAndGlyphs" stroke="#222" stroke-width="0.22">0</text>
<text x="482" y="440.7" font-size="8.4" fill="#222" textLength="15" lengthAdjust="spacingAndGlyphs" stroke="#222" stroke-width="0.22">3 kb</text>
<text x="247.6" y="278.3" font-size="8.6" fill="#222" text-anchor="middle" textLength="58.2" lengthAdjust="spacingAndGlyphs" transform="rotate(-90 247.6 278.3)" stroke="#222" stroke-width="0.22">Hemogen peaks</text>
<text x="247.6" y="372.6" font-size="8.6" fill="#222" text-anchor="middle" textLength="70.4" lengthAdjust="spacingAndGlyphs" transform="rotate(-90 247.6 372.6)" stroke="#222" stroke-width="0.22">No hemogen peaks</text>
<text x="394.6" y="298.2" font-size="8.6" fill="#222" text-anchor="middle" textLength="58.3" lengthAdjust="spacingAndGlyphs" transform="rotate(-90 394.6 298.2)" stroke="#222" stroke-width="0.22">Hemogen peaks</text>
<text x="394.6" y="391.6" font-size="8.6" fill="#222" text-anchor="middle" textLength="70.4" lengthAdjust="spacingAndGlyphs" transform="rotate(-90 394.6 391.6)" stroke="#222" stroke-width="0.22">No hemogen peaks</text>
<text x="64.8" y="478.85" font-size="11.6" fill="#000" font-weight="bold">F</text>
<line x1="131.4" y1="478.8" x2="131.4" y2="635.3" stroke="#f6c8cc" stroke-width="0.9"/>
<text x="128.9" y="486" font-size="7.6" fill="#222" text-anchor="end" textLength="18.5" lengthAdjust="spacingAndGlyphs" stroke="#222" stroke-width="0.22">Scale</text>
<text x="128.9" y="495.4" font-size="7.6" fill="#222" text-anchor="end" textLength="16.4" lengthAdjust="spacingAndGlyphs" stroke="#222" stroke-width="0.22">chr7:</text>
<text x="235" y="485.9" font-size="7.6" fill="#222" textLength="17.6" lengthAdjust="spacingAndGlyphs" stroke="#222" stroke-width="0.22">20 kb</text>
<line x1="254.7" y1="483.2" x2="335.8" y2="483.2" stroke="#222" stroke-width="1"/>
<line x1="254.9" y1="481.2" x2="254.9" y2="485.2" stroke="#222" stroke-width="0.9"/>
<line x1="335.6" y1="481.2" x2="335.6" y2="485.2" stroke="#222" stroke-width="0.9"/>
<text x="156.9" y="496" font-size="7.6" fill="#222" textLength="43.5" lengthAdjust="spacingAndGlyphs" stroke="#222" stroke-width="0.22">103,820,000</text>
<line x1="201.3" y1="490" x2="201.3" y2="496" stroke="#555" stroke-width="0.7"/>
<text x="237.7" y="496" font-size="7.6" fill="#222" textLength="43.5" lengthAdjust="spacingAndGlyphs" stroke="#222" stroke-width="0.22">103,840,000</text>
<line x1="282.1" y1="490" x2="282.1" y2="496" stroke="#555" stroke-width="0.7"/>
<text x="316.5" y="496" font-size="7.6" fill="#222" textLength="43.5" lengthAdjust="spacingAndGlyphs" stroke="#222" stroke-width="0.22">103,860,000</text>
<line x1="360.9" y1="490" x2="360.9" y2="496" stroke="#555" stroke-width="0.7"/>
<text x="398.5" y="496" font-size="7.6" fill="#222" textLength="43.5" lengthAdjust="spacingAndGlyphs" stroke="#222" stroke-width="0.22">103,880,000</text>
<line x1="442.9" y1="490" x2="442.9" y2="496" stroke="#555" stroke-width="0.7"/>
<text x="146.9" y="507" font-size="7.6" fill="#2b2b94" textLength="25" lengthAdjust="spacingAndGlyphs" stroke="#2b2b94" stroke-width="0.22">Hbb-bt</text>
<line x1="173.3" y1="504.3" x2="180.4" y2="504.3" stroke="#2b2b94" stroke-width="0.9"/>
<circle cx="174.5" cy="504.3" r="1.05" fill="#2b2b94"/>
<circle cx="179.2" cy="504.3" r="1.25" fill="#2b2b94"/>
<text x="202.7" y="506.9" font-size="7.6" fill="#2b2b94" textLength="25" lengthAdjust="spacingAndGlyphs" stroke="#2b2b94" stroke-width="0.22">Hbb-bs</text>
<line x1="229.1" y1="504.2" x2="235.8" y2="504.2" stroke="#2b2b94" stroke-width="0.9"/>
<circle cx="230.3" cy="504.2" r="1.05" fill="#2b2b94"/>
<circle cx="234.6" cy="504.2" r="1.25" fill="#2b2b94"/>
<text x="247.9" y="505" font-size="7.6" fill="#2b2b94" textLength="30.5" lengthAdjust="spacingAndGlyphs" stroke="#2b2b94" stroke-width="0.22">Hbb-bh2</text>
<line x1="279.8" y1="502.3" x2="285.4" y2="502.3" stroke="#2b2b94" stroke-width="0.9"/>
<circle cx="281" cy="502.3" r="1.05" fill="#2b2b94"/>
<circle cx="284.2" cy="502.3" r="1.25" fill="#2b2b94"/>
<text x="257.5" y="512.7" font-size="7.6" fill="#2b2b94" textLength="30" lengthAdjust="spacingAndGlyphs" stroke="#2b2b94" stroke-width="0.22">Hbb-bh1</text>
<line x1="288.9" y1="510" x2="296.8" y2="510" stroke="#2b2b94" stroke-width="0.9"/>
<circle cx="290.1" cy="510" r="1.05" fill="#2b2b94"/>
<circle cx="295.6" cy="510" r="1.25" fill="#2b2b94"/>
<text x="307.9" y="508.5" font-size="7.6" fill="#2b2b94" textLength="21" lengthAdjust="spacingAndGlyphs" stroke="#2b2b94" stroke-width="0.22">Hbb-y</text>
<line x1="330.3" y1="505.8" x2="337.3" y2="505.8" stroke="#2b2b94" stroke-width="0.9"/>
<circle cx="331.5" cy="505.8" r="1.05" fill="#2b2b94"/>
<circle cx="336.1" cy="505.8" r="1.25" fill="#2b2b94"/>
<text x="79" y="525.3" font-size="7.5" fill="#222" textLength="31.6" lengthAdjust="spacingAndGlyphs" stroke="#222" stroke-width="0.22">Input WT</text>
<text x="79.4" y="542.6" font-size="7.5" fill="#222" textLength="31.6" lengthAdjust="spacingAndGlyphs" stroke="#222" stroke-width="0.22">Input KO</text>
<text x="76.3" y="554.8" font-size="7.5" fill="#35ace2" textLength="34.3" lengthAdjust="spacingAndGlyphs" stroke="#35ace2" stroke-width="0.22">WT-BRG1</text>
<text x="76.9" y="563.5" font-size="7.5" fill="#e2369a" textLength="33.7" lengthAdjust="spacingAndGlyphs" stroke="#e2369a" stroke-width="0.22">KO-BRG1</text>
<text x="76.5" y="578.9" font-size="7.5" fill="#4dbd55" textLength="34.7" lengthAdjust="spacingAndGlyphs" stroke="#4dbd55" stroke-width="0.22">Hemogen</text>
<text x="85.8" y="598.1" font-size="7.5" fill="#7a3f96" textLength="24.6" lengthAdjust="spacingAndGlyphs" stroke="#7a3f96" stroke-width="0.22">GATA1</text>
<text x="79.6" y="614.6" font-size="7.5" fill="#f59a30" textLength="31.6" lengthAdjust="spacingAndGlyphs" stroke="#f59a30" stroke-width="0.22">H3K27ac</text>
<text x="60.4" y="625.1" font-size="7.5" fill="#2f66a6" textLength="50.8" lengthAdjust="spacingAndGlyphs" stroke="#2f66a6" stroke-width="0.22">WT-ATAC-seq</text>
<text x="61.2" y="635" font-size="7.5" fill="#d3283c" textLength="50" lengthAdjust="spacingAndGlyphs" stroke="#d3283c" stroke-width="0.22">KO-ATAC-seq</text>
<line x1="124.9" y1="517.3" x2="130.5" y2="517.3" stroke="#333" stroke-width="1.3"/>
<line x1="124.9" y1="528.8" x2="130.5" y2="528.8" stroke="#333" stroke-width="1.3"/>
<text x="122" y="519.8" font-size="7.3" fill="#222" text-anchor="end" textLength="7.6" lengthAdjust="spacingAndGlyphs" stroke="#222" stroke-width="0.22">90</text>
<text x="122" y="531.3" font-size="7.3" fill="#222" text-anchor="end" textLength="3.8" lengthAdjust="spacingAndGlyphs" stroke="#222" stroke-width="0.22">0</text>
<line x1="124.9" y1="534.4" x2="130.5" y2="534.4" stroke="#333" stroke-width="1.3"/>
<line x1="124.9" y1="545.9" x2="130.5" y2="545.9" stroke="#333" stroke-width="1.3"/>
<text x="122" y="536.9" font-size="7.3" fill="#222" text-anchor="end" textLength="7.6" lengthAdjust="spacingAndGlyphs" stroke="#222" stroke-width="0.22">90</text>
<text x="122" y="548.4" font-size="7.3" fill="#222" text-anchor="end" textLength="3.8" lengthAdjust="spacingAndGlyphs" stroke="#222" stroke-width="0.22">0</text>
<line x1="124.9" y1="552.1" x2="130.5" y2="552.1" stroke="#333" stroke-width="1.3"/>
<line x1="124.9" y1="563.6" x2="130.5" y2="563.6" stroke="#333" stroke-width="1.3"/>
<text x="122" y="554.6" font-size="7.3" fill="#222" text-anchor="end" textLength="7.6" lengthAdjust="spacingAndGlyphs" stroke="#222" stroke-width="0.22">90</text>
<text x="122" y="566.1" font-size="7.3" fill="#222" text-anchor="end" textLength="3.8" lengthAdjust="spacingAndGlyphs" stroke="#222" stroke-width="0.22">0</text>
<line x1="124.9" y1="569.4" x2="130.5" y2="569.4" stroke="#333" stroke-width="1.3"/>
<line x1="124.9" y1="580.9" x2="130.5" y2="580.9" stroke="#333" stroke-width="1.3"/>
<text x="122" y="571.9" font-size="7.3" fill="#222" text-anchor="end" textLength="7.6" lengthAdjust="spacingAndGlyphs" stroke="#222" stroke-width="0.22">90</text>
<text x="122" y="583.4" font-size="7.3" fill="#222" text-anchor="end" textLength="3.8" lengthAdjust="spacingAndGlyphs" stroke="#222" stroke-width="0.22">0</text>
<line x1="124.9" y1="586.8" x2="130.5" y2="586.8" stroke="#333" stroke-width="1.3"/>
<line x1="124.9" y1="598.3" x2="130.5" y2="598.3" stroke="#333" stroke-width="1.3"/>
<text x="122" y="589.3" font-size="7.3" fill="#222" text-anchor="end" textLength="7.6" lengthAdjust="spacingAndGlyphs" stroke="#222" stroke-width="0.22">30</text>
<text x="122" y="600.8" font-size="7.3" fill="#222" text-anchor="end" textLength="3.8" lengthAdjust="spacingAndGlyphs" stroke="#222" stroke-width="0.22">0</text>
<line x1="124.9" y1="603.7" x2="130.5" y2="603.7" stroke="#333" stroke-width="1.3"/>
<line x1="124.9" y1="615.2" x2="130.5" y2="615.2" stroke="#333" stroke-width="1.3"/>
<text x="122" y="606.2" font-size="7.3" fill="#222" text-anchor="end" textLength="7.6" lengthAdjust="spacingAndGlyphs" stroke="#222" stroke-width="0.22">50</text>
<text x="122" y="617.7" font-size="7.3" fill="#222" text-anchor="end" textLength="3.8" lengthAdjust="spacingAndGlyphs" stroke="#222" stroke-width="0.22">0</text>
<line x1="124.9" y1="620.8" x2="130.5" y2="620.8" stroke="#333" stroke-width="1.3"/>
<line x1="124.9" y1="632.3" x2="130.5" y2="632.3" stroke="#333" stroke-width="1.3"/>
<text x="122" y="623.3" font-size="7.3" fill="#222" text-anchor="end" textLength="7.6" lengthAdjust="spacingAndGlyphs" stroke="#222" stroke-width="0.22">25</text>
<text x="122" y="634.8" font-size="7.3" fill="#222" text-anchor="end" textLength="3.8" lengthAdjust="spacingAndGlyphs" stroke="#222" stroke-width="0.22">0</text>
<line x1="131.4" y1="528.8" x2="459.7" y2="528.8" stroke="#9a9a9a" stroke-width="0.9"/>
<path d="M131.4 529.1999999999999 L131.4 529.20 131.9 529.20 132.4 528.00 132.9 528.00 133.4 528.38 133.9 528.57 134.4 528.65 134.9 528.50 135.4 529.20 135.9 529.20 136.4 529.20 136.9 527.65 137.4 528.22 137.9 528.60 138.4 528.46 138.9 527.70 139.4 527.84 139.9 527.94 140.4 528.50 140.9 528.41 141.4 528.19 141.9 528.65 142.4 528.34 142.9 528.58 143.4 527.88 143.9 528.65 144.4 528.19 144.9 527.89 145.4 528.60 145.9 527.85 146.4 527.89 146.9 528.65 147.4 528.15 147.9 528.65 148.4 528.40 148.9 528.46 149.4 528.61 149.9 528.54 150.4 528.00 150.9 528.55 151.4 528.63 151.9 528.16 152.4 528.45 152.9 528.01 153.4 529.20 153.9 529.20 154.4 529.20 154.9 529.20 155.4 528.39 155.9 528.59 156.4 528.65 156.9 527.78 157.4 528.64 157.9 527.94 158.4 528.51 158.9 527.75 159.4 528.49 159.9 529.20 160.4 529.20 160.9 529.20 161.4 529.20 161.9 528.20 162.4 528.18 162.9 529.20 163.4 529.20 163.9 529.20 164.4 528.64 164.9 528.17 165.4 528.25 165.9 528.51 166.4 528.01 166.9 528.61 167.4 528.50 167.9 528.01 168.4 528.51 168.9 528.14 169.4 528.27 169.9 527.76 170.4 527.67 170.9 528.13 171.4 528.00 171.9 528.63 172.4 528.14 172.9 527.93 173.4 528.49 173.9 529.20 174.4 529.20 174.9 529.20 175.4 529.20 175.9 528.49 176.4 528.65 176.9 528.47 177.4 528.25 177.9 527.78 178.4 527.80 178.9 528.54 179.4 529.20 179.9 529.20 180.4 529.20 180.9 529.20 181.4 529.20 181.9 528.64 182.4 527.91 182.9 527.96 183.4 528.63 183.9 528.37 184.4 528.58 184.9 528.41 185.4 529.20 185.9 529.20 186.4 529.20 186.9 528.57 187.4 528.45 187.9 528.65 188.4 528.65 188.9 528.61 189.4 528.53 189.9 527.79 190.4 527.86 190.9 528.42 191.4 529.20 191.9 529.20 192.4 529.20 192.9 529.20 193.4 529.20 193.9 528.49 194.4 528.30 194.9 528.11 195.4 528.40 195.9 529.20 196.4 529.20 196.9 529.20 197.4 529.20 197.9 529.20 198.4 529.20 198.9 529.20 199.4 529.20 199.9 529.20 200.4 529.20 200.9 529.20 201.4 529.20 201.9 529.20 202.4 529.20 202.9 529.20 203.4 529.20 203.9 529.20 204.4 529.20 204.9 529.20 205.4 529.20 205.9 529.20 206.4 529.20 206.9 529.20 207.4 529.20 207.9 529.20 208.4 529.20 208.9 529.20 209.4 529.20 209.9 529.20 210.4 529.20 210.9 529.20 211.4 529.20 211.9 529.20 212.4 529.20 212.9 529.20 213.4 528.65 213.9 528.63 214.4 528.60 214.9 528.61 215.4 528.65 215.9 528.60 216.4 528.29 216.9 527.86 217.4 528.53 217.9 528.52 218.4 528.48 218.9 528.19 219.4 528.03 219.9 527.76 220.4 528.51 220.9 528.15 221.4 528.53 221.9 527.97 222.4 528.60 222.9 527.89 223.4 528.39 223.9 529.20 224.4 529.20 224.9 529.20 225.4 529.20 225.9 529.20 226.4 528.65 226.9 528.37 227.4 528.42 227.9 527.96 228.4 528.65 228.9 528.34 229.4 528.41 229.9 528.29 230.4 528.12 230.9 528.37 231.4 528.33 231.9 528.41 232.4 528.27 232.9 528.59 233.4 528.34 233.9 528.20 234.4 528.61 234.9 529.20 235.4 529.20 235.9 529.20 236.4 529.20 236.9 528.45 237.4 528.58 237.9 528.65 238.4 528.65 238.9 528.59 239.4 527.91 239.9 528.62 240.4 528.17 240.9 528.59 241.4 529.20 241.9 529.20 242.4 529.20 242.9 529.20 243.4 529.20 243.9 529.20 244.4 528.57 244.9 528.41 245.4 527.80 245.9 528.61 246.4 528.11 246.9 528.59 247.4 528.61 247.9 528.55 248.4 528.64 248.9 527.78 249.4 528.52 249.9 528.62 250.4 528.65 250.9 528.65 251.4 528.60 251.9 528.48 252.4 528.29 252.9 527.69 253.4 527.86 253.9 528.59 254.4 528.28 254.9 527.80 255.4 528.64 255.9 527.92 256.4 528.49 256.9 528.04 257.4 529.20 257.9 529.20 258.4 529.20 258.9 528.64 259.4 528.07 259.9 527.97 260.4 528.42 260.9 528.50 261.4 527.75 261.9 528.51 262.4 527.88 262.9 528.47 263.4 529.20 263.9 529.20 264.4 529.20 264.9 528.57 265.4 528.60 265.9 528.65 266.4 528.36 266.9 528.45 267.4 528.65 267.9 528.63 268.4 527.81 268.9 528.63 269.4 528.51 269.9 527.75 270.4 528.64 270.9 528.48 271.4 528.01 271.9 528.65 272.4 528.65 272.9 527.79 273.4 528.18 273.9 528.58 274.4 528.42 274.9 528.59 275.4 527.85 275.9 527.75 276.4 528.64 276.9 528.38 277.4 528.62 277.9 528.49 278.4 528.10 278.9 528.14 279.4 528.61 279.9 528.54 280.4 528.47 280.9 528.50 281.4 528.18 281.9 528.03 282.4 528.54 282.9 528.46 283.4 528.65 283.9 528.52 284.4 527.75 284.9 528.40 285.4 528.34 285.9 528.28 286.4 528.33 286.9 528.00 287.4 528.58 287.9 528.55 288.4 527.86 288.9 528.40 289.4 527.73 289.9 528.63 290.4 528.04 290.9 528.43 291.4 529.20 291.9 529.20 292.4 529.20 292.9 528.39 293.4 528.59 293.9 528.53 294.4 527.98 294.9 528.49 295.4 528.03 295.9 528.65 296.4 527.65 296.9 527.74 297.4 528.19 297.9 528.61 298.4 529.20 298.9 529.20 299.4 529.20 299.9 528.65 300.4 528.65 300.9 528.63 301.4 528.62 301.9 529.20 302.4 529.20 302.9 529.20 303.4 529.20 303.9 529.20 304.4 529.20 304.9 527.78 305.4 529.20 305.9 529.20 306.4 529.20 306.9 528.60 307.4 528.58 307.9 528.31 308.4 528.61 308.9 527.70 309.4 529.20 309.9 529.20 310.4 529.20 310.9 528.57 311.4 528.11 311.9 527.67 312.4 528.30 312.9 528.64 313.4 528.00 313.9 528.21 314.4 528.41 314.9 528.22 315.4 528.58 315.9 528.56 316.4 528.38 316.9 528.65 317.4 529.20 317.9 529.20 318.4 529.20 318.9 527.84 319.4 528.30 319.9 529.20 320.4 529.20 320.9 529.20 321.4 529.20 321.9 529.20 322.4 529.20 322.9 529.20 323.4 528.31 323.9 528.64 324.4 528.17 324.9 528.38 325.4 528.38 325.9 528.11 326.4 528.64 326.9 528.60 327.4 527.67 327.9 528.56 328.4 528.58 328.9 528.64 329.4 528.55 329.9 528.34 330.4 528.65 330.9 528.57 331.4 528.58 331.9 528.63 332.4 528.02 332.9 527.72 333.4 527.81 333.9 528.46 334.4 528.65 334.9 528.53 335.4 528.37 335.9 528.51 336.4 528.12 336.9 528.10 337.4 527.85 337.9 528.43 338.4 528.59 338.9 527.82 339.4 527.87 339.9 528.63 340.4 528.61 340.9 528.21 341.4 527.98 341.9 527.73 342.4 528.65 342.9 528.61 343.4 528.47 343.9 528.35 344.4 528.04 344.9 528.34 345.4 528.38 345.9 528.59 346.4 528.23 346.9 528.31 347.4 527.76 347.9 528.61 348.4 528.63 348.9 528.53 349.4 528.54 349.9 528.44 350.4 528.62 350.9 528.15 351.4 527.97 351.9 528.65 352.4 527.82 352.9 528.64 353.4 528.56 353.9 528.41 354.4 529.20 354.9 529.20 355.4 529.20 355.9 529.20 356.4 529.20 356.9 529.20 357.4 529.20 357.9 529.17 358.4 527.77 358.9 527.93 359.4 527.67 359.9 527.02 360.4 527.33 360.9 528.22 361.4 528.89 361.9 529.14 362.4 529.19 362.9 529.20 363.4 528.61 363.9 527.74 364.4 528.33 364.9 528.32 365.4 529.20 365.9 529.20 366.4 529.20 366.9 528.60 367.4 528.44 367.9 528.63 368.4 528.57 368.9 528.11 369.4 528.51 369.9 528.53 370.4 528.60 370.9 528.37 371.4 527.66 371.9 528.62 372.4 527.94 372.9 528.05 373.4 528.29 373.9 528.36 374.4 528.38 374.9 528.64 375.4 528.33 375.9 527.67 376.4 528.12 376.9 528.43 377.4 528.45 377.9 527.89 378.4 528.65 378.9 528.61 379.4 527.73 379.9 528.22 380.4 527.96 380.9 528.37 381.4 528.65 381.9 528.36 382.4 527.94 382.9 527.42 383.4 527.67 383.9 527.76 384.4 528.65 384.9 528.65 385.4 528.64 385.9 528.18 386.4 527.85 386.9 528.63 387.4 527.94 387.9 528.60 388.4 528.36 388.9 528.07 389.4 528.64 389.9 528.42 390.4 527.90 390.9 528.52 391.4 528.01 391.9 528.44 392.4 527.76 392.9 528.49 393.4 527.97 393.9 528.64 394.4 528.54 394.9 528.63 395.4 528.49 395.9 528.49 396.4 528.59 396.9 528.47 397.4 528.01 397.9 527.52 398.4 527.75 398.9 528.14 399.4 528.96 399.9 529.15 400.4 529.19 400.9 529.20 401.4 529.20 401.9 529.20 402.4 529.20 402.9 529.20 403.4 529.20 403.9 529.20 404.4 528.50 404.9 529.20 405.4 529.20 405.9 529.20 406.4 528.18 406.9 528.65 407.4 527.79 407.9 528.44 408.4 528.45 408.9 528.45 409.4 528.57 409.9 527.99 410.4 528.44 410.9 528.64 411.4 528.53 411.9 528.41 412.4 528.52 412.9 528.64 413.4 529.20 413.9 529.20 414.4 529.20 414.9 528.47 415.4 528.40 415.9 528.19 416.4 528.65 416.9 528.41 417.4 528.44 417.9 528.47 418.4 528.65 418.9 528.65 419.4 528.41 419.9 528.44 420.4 528.54 420.9 528.64 421.4 528.52 421.9 528.20 422.4 529.20 422.9 529.20 423.4 529.20 423.9 528.54 424.4 528.41 424.9 527.99 425.4 528.33 425.9 528.01 426.4 528.17 426.9 528.64 427.4 527.69 427.9 528.34 428.4 528.29 428.9 528.58 429.4 527.83 429.9 527.65 430.4 528.53 430.9 528.41 431.4 528.65 431.9 528.07 432.4 528.24 432.9 528.60 433.4 527.96 433.9 528.35 434.4 527.79 434.9 527.98 435.4 528.64 435.9 528.59 436.4 527.93 436.9 528.65 437.4 528.63 437.9 527.80 438.4 527.99 438.9 528.58 439.4 528.54 439.9 528.65 440.4 528.63 440.9 528.65 441.4 528.31 441.9 528.28 442.4 528.63 442.9 527.96 443.4 528.41 443.9 528.29 444.4 528.21 444.9 528.61 445.4 528.00 445.9 528.48 446.4 528.40 446.9 528.63 447.4 528.59 447.9 528.44 448.4 528.13 448.9 529.20 449.4 529.20 449.9 529.20 450.4 528.49 450.9 528.65 451.4 528.33 451.9 527.76 452.4 528.65 452.9 528.44 453.4 528.22 453.9 528.41 454.4 529.20 454.9 529.20 455.4 529.20 455.9 528.65 456.4 528.54 456.9 528.62 457.4 528.40 457.9 527.76 458.4 528.60 458.9 527.67 459.4 528.53 L459.7 529.1999999999999 Z" fill="#111"/>
<line x1="131.4" y1="545.9" x2="459.7" y2="545.9" stroke="#9a9a9a" stroke-width="0.9"/>
<path d="M131.4 546.3 L131.4 546.30 131.9 546.30 132.4 545.75 132.9 545.48 133.4 545.35 133.9 546.30 134.4 546.30 134.9 546.30 135.4 546.30 135.9 545.05 136.4 544.95 136.9 544.81 137.4 544.95 137.9 545.59 138.4 545.43 138.9 545.34 139.4 545.42 139.9 545.57 140.4 545.07 140.9 545.16 141.4 546.30 141.9 546.30 142.4 546.30 142.9 546.30 143.4 546.30 143.9 546.30 144.4 546.30 144.9 546.30 145.4 546.30 145.9 546.30 146.4 546.30 146.9 546.30 147.4 546.30 147.9 546.30 148.4 546.30 148.9 546.30 149.4 546.30 149.9 546.30 150.4 545.75 150.9 544.91 151.4 545.57 151.9 545.22 152.4 544.81 152.9 546.30 153.4 546.30 153.9 546.30 154.4 545.56 154.9 546.30 155.4 546.30 155.9 546.30 156.4 546.30 156.9 546.30 157.4 545.62 157.9 546.30 158.4 546.30 158.9 546.30 159.4 545.66 159.9 545.39 160.4 545.49 160.9 545.74 161.4 545.01 161.9 545.38 162.4 545.52 162.9 545.48 163.4 545.48 163.9 546.30 164.4 546.30 164.9 546.30 165.4 546.30 165.9 545.17 166.4 545.75 166.9 546.30 167.4 546.30 167.9 546.30 168.4 545.74 168.9 545.62 169.4 545.55 169.9 545.09 170.4 545.74 170.9 546.30 171.4 546.30 171.9 546.30 172.4 546.30 172.9 546.30 173.4 545.23 173.9 546.30 174.4 546.30 174.9 546.30 175.4 545.56 175.9 545.49 176.4 545.57 176.9 545.74 177.4 545.49 177.9 545.75 178.4 546.30 178.9 546.30 179.4 546.30 179.9 546.30 180.4 546.30 180.9 546.30 181.4 546.30 181.9 546.30 182.4 546.30 182.9 546.30 183.4 546.30 183.9 546.30 184.4 546.30 184.9 546.30 185.4 546.30 185.9 546.30 186.4 546.30 186.9 546.30 187.4 546.30 187.9 546.30 188.4 546.30 188.9 546.30 189.4 546.30 189.9 546.30 190.4 546.30 190.9 546.30 191.4 546.30 191.9 546.30 192.4 546.30 192.9 546.30 193.4 546.30 193.9 546.30 194.4 546.30 194.9 546.30 195.4 546.30 195.9 546.30 196.4 546.30 196.9 546.30 197.4 546.30 197.9 546.30 198.4 546.30 198.9 546.30 199.4 546.30 199.9 546.30 200.4 546.30 200.9 546.30 201.4 546.30 201.9 546.30 202.4 546.30 202.9 546.30 203.4 546.30 203.9 546.30 204.4 546.30 204.9 546.30 205.4 546.30 205.9 546.30 206.4 546.30 206.9 546.30 207.4 546.30 207.9 546.30 208.4 545.72 208.9 545.21 209.4 545.20 209.9 544.81 210.4 546.30 210.9 546.30 211.4 546.30 211.9 546.30 212.4 546.30 212.9 546.30 213.4 545.57 213.9 545.47 214.4 545.48 214.9 545.74 215.4 545.38 215.9 545.75 216.4 545.34 216.9 546.30 217.4 546.30 217.9 546.30 218.4 546.30 218.9 546.30 219.4 545.67 219.9 545.67 220.4 544.88 220.9 546.30 221.4 546.30 221.9 546.30 222.4 545.62 222.9 545.30 223.4 545.53 223.9 546.30 224.4 546.30 224.9 546.30 225.4 545.72 225.9 544.92 226.4 545.72 226.9 545.43 227.4 544.91 227.9 544.78 228.4 545.62 228.9 546.30 229.4 546.30 229.9 546.30 230.4 546.30 230.9 546.30 231.4 546.30 231.9 546.30 232.4 546.30 232.9 546.30 233.4 546.30 233.9 546.30 234.4 546.30 234.9 546.30 235.4 546.30 235.9 546.30 236.4 546.30 236.9 546.30 237.4 546.30 237.9 546.30 238.4 546.30 238.9 546.30 239.4 546.30 239.9 546.30 240.4 546.30 240.9 546.30 241.4 546.30 241.9 546.30 242.4 546.30 242.9 546.30 243.4 546.30 243.9 546.30 244.4 546.30 244.9 546.30 245.4 546.30 245.9 546.30 246.4 546.30 246.9 546.30 247.4 546.30 247.9 545.51 248.4 545.12 248.9 545.50 249.4 545.53 249.9 545.74 250.4 545.68 250.9 545.75 251.4 545.46 251.9 545.31 252.4 545.59 252.9 544.94 253.4 544.84 253.9 545.69 254.4 546.30 254.9 546.30 255.4 546.30 255.9 545.29 256.4 545.16 256.9 546.30 257.4 546.30 257.9 546.30 258.4 544.85 258.9 545.75 259.4 545.48 259.9 545.66 260.4 545.21 260.9 545.64 261.4 545.73 261.9 544.84 262.4 546.30 262.9 546.30 263.4 546.30 263.9 546.30 264.4 546.30 264.9 546.30 265.4 545.47 265.9 545.08 266.4 544.75 266.9 545.18 267.4 545.16 267.9 545.53 268.4 545.66 268.9 544.81 269.4 545.59 269.9 544.82 270.4 545.20 270.9 545.64 271.4 545.71 271.9 546.30 272.4 546.30 272.9 546.30 273.4 545.46 273.9 546.30 274.4 546.30 274.9 546.30 275.4 544.91 275.9 545.10 276.4 545.19 276.9 545.72 277.4 545.73 277.9 545.62 278.4 544.84 278.9 545.73 279.4 545.75 279.9 545.71 280.4 545.69 280.9 545.40 281.4 545.73 281.9 545.17 282.4 545.41 282.9 546.30 283.4 546.30 283.9 546.30 284.4 544.85 284.9 546.30 285.4 546.30 285.9 546.30 286.4 546.30 286.9 546.30 287.4 545.75 287.9 545.47 288.4 545.48 288.9 545.74 289.4 545.43 289.9 544.79 290.4 545.27 290.9 546.30 291.4 546.30 291.9 546.30 292.4 545.18 292.9 545.19 293.4 545.10 293.9 545.59 294.4 545.19 294.9 545.51 295.4 545.63 295.9 545.55 296.4 546.30 296.9 546.30 297.4 546.30 297.9 544.78 298.4 545.33 298.9 545.43 299.4 545.33 299.9 545.56 300.4 545.75 300.9 545.56 301.4 545.69 301.9 544.86 302.4 545.22 302.9 545.74 303.4 545.72 303.9 545.75 304.4 545.12 304.9 545.20 305.4 546.30 305.9 546.30 306.4 546.30 306.9 546.30 307.4 546.30 307.9 546.30 308.4 546.30 308.9 546.30 309.4 546.30 309.9 546.30 310.4 546.30 310.9 546.30 311.4 546.30 311.9 546.30 312.4 546.30 312.9 546.30 313.4 546.30 313.9 546.30 314.4 546.30 314.9 546.30 315.4 546.30 315.9 546.30 316.4 546.30 316.9 546.30 317.4 546.30 317.9 546.30 318.4 546.30 318.9 546.30 319.4 546.30 319.9 545.40 320.4 545.73 320.9 545.75 321.4 545.67 321.9 544.75 322.4 546.30 322.9 546.30 323.4 546.30 323.9 544.96 324.4 545.33 324.9 546.30 325.4 546.30 325.9 546.30 326.4 545.60 326.9 546.30 327.4 546.30 327.9 546.30 328.4 545.00 328.9 545.04 329.4 544.99 329.9 545.72 330.4 545.69 330.9 545.50 331.4 545.66 331.9 545.72 332.4 545.75 332.9 545.72 333.4 545.72 333.9 545.50 334.4 544.95 334.9 545.75 335.4 545.75 335.9 544.80 336.4 546.30 336.9 546.30 337.4 546.30 337.9 545.40 338.4 546.30 338.9 546.30 339.4 546.30 339.9 545.41 340.4 546.30 340.9 546.30 341.4 546.30 341.9 545.42 342.4 545.69 342.9 545.62 343.4 545.74 343.9 545.74 344.4 544.79 344.9 545.63 345.4 545.53 345.9 546.30 346.4 546.30 346.9 546.30 347.4 545.37 347.9 546.30 348.4 546.30 348.9 546.30 349.4 546.30 349.9 546.30 350.4 546.30 350.9 545.25 351.4 545.32 351.9 544.80 352.4 545.71 352.9 546.30 353.4 546.30 353.9 546.30 354.4 545.17 354.9 545.11 355.4 545.54 355.9 545.74 356.4 545.71 356.9 545.35 357.4 545.32 357.9 545.13 358.4 545.60 358.9 545.70 359.4 544.90 359.9 544.32 360.4 544.60 360.9 545.41 361.4 544.96 361.9 545.29 362.4 545.49 362.9 546.30 363.4 546.30 363.9 546.30 364.4 544.97 364.9 545.70 365.4 545.40 365.9 545.70 366.4 544.84 366.9 545.43 367.4 545.67 367.9 545.36 368.4 545.63 368.9 545.71 369.4 546.30 369.9 546.30 370.4 546.30 370.9 545.53 371.4 545.58 371.9 545.55 372.4 545.74 372.9 546.30 373.4 546.30 373.9 546.30 374.4 545.58 374.9 545.01 375.4 545.39 375.9 545.64 376.4 545.73 376.9 544.78 377.4 545.44 377.9 545.28 378.4 545.58 378.9 545.62 379.4 545.70 379.9 546.30 380.4 546.30 380.9 546.30 381.4 546.30 381.9 545.43 382.4 546.30 382.9 546.30 383.4 546.30 383.9 545.56 384.4 545.19 384.9 545.41 385.4 545.60 385.9 546.30 386.4 546.30 386.9 546.30 387.4 545.69 387.9 544.97 388.4 545.46 388.9 545.67 389.4 544.97 389.9 545.61 390.4 545.72 390.9 545.70 391.4 546.30 391.9 546.30 392.4 546.30 392.9 544.90 393.4 546.30 393.9 546.30 394.4 546.30 394.9 544.80 395.4 545.07 395.9 545.62 396.4 545.65 396.9 545.75 397.4 546.30 397.9 546.30 398.4 546.30 398.9 545.75 399.4 545.75 399.9 545.16 400.4 545.75 400.9 546.30 401.4 546.30 401.9 546.30 402.4 546.30 402.9 546.30 403.4 546.30 403.9 545.39 404.4 545.14 404.9 545.67 405.4 545.44 405.9 545.62 406.4 545.72 406.9 544.93 407.4 544.76 407.9 545.61 408.4 545.67 408.9 545.25 409.4 545.75 409.9 545.73 410.4 546.30 410.9 546.30 411.4 546.30 411.9 546.30 412.4 545.75 412.9 546.30 413.4 546.30 413.9 546.30 414.4 546.30 414.9 545.55 415.4 545.60 415.9 544.78 416.4 545.25 416.9 545.39 417.4 545.74 417.9 545.67 418.4 545.61 418.9 545.49 419.4 545.49 419.9 545.53 420.4 545.26 420.9 545.54 421.4 545.58 421.9 545.74 422.4 544.90 422.9 545.40 423.4 545.74 423.9 546.30 424.4 546.30 424.9 546.30 425.4 545.75 425.9 544.91 426.4 545.66 426.9 546.30 427.4 546.30 427.9 546.30 428.4 545.72 428.9 545.38 429.4 545.70 429.9 545.27 430.4 545.08 430.9 545.57 431.4 545.68 431.9 545.75 432.4 544.85 432.9 545.75 433.4 545.30 433.9 545.02 434.4 545.63 434.9 546.30 435.4 546.30 435.9 546.30 436.4 544.93 436.9 546.30 437.4 546.30 437.9 546.30 438.4 546.30 438.9 546.30 439.4 546.30 439.9 546.30 440.4 545.75 440.9 546.30 441.4 546.30 441.9 546.30 442.4 545.71 442.9 545.35 443.4 546.30 443.9 546.30 444.4 546.30 444.9 545.56 445.4 545.34 445.9 545.18 446.4 545.75 446.9 545.12 447.4 545.21 447.9 544.96 448.4 545.50 448.9 545.32 449.4 545.71 449.9 545.67 450.4 545.74 450.9 545.75 451.4 545.70 451.9 545.69 452.4 545.69 452.9 546.30 453.4 546.30 453.9 546.30 454.4 545.21 454.9 545.66 455.4 545.72 455.9 545.69 456.4 545.67 456.9 545.75 457.4 545.37 457.9 545.64 458.4 545.73 458.9 545.00 459.4 545.11 L459.7 546.3 Z" fill="#111"/>
<path d="M131.4 563.6 L131.4 563.57 131.9 563.60 132.4 563.60 132.9 563.60 133.4 563.25 133.9 563.33 134.4 563.58 134.9 563.60 135.4 563.31 135.9 563.59 136.4 563.55 136.9 563.15 137.4 563.21 137.9 563.60 138.4 563.60 138.9 563.60 139.4 563.53 139.9 563.42 140.4 563.27 140.9 563.54 141.4 563.25 141.9 563.35 142.4 563.60 142.9 563.51 143.4 563.59 143.9 563.13 144.4 563.54 144.9 563.59 145.4 563.51 145.9 563.55 146.4 563.60 146.9 563.39 147.4 563.60 147.9 563.54 148.4 563.56 148.9 563.55 149.4 563.60 149.9 563.39 150.4 563.40 150.9 563.60 151.4 563.59 151.9 563.19 152.4 563.30 152.9 562.73 153.4 562.65 153.9 561.68 154.4 561.54 154.9 560.87 155.4 561.09 155.9 560.31 156.4 560.48 156.9 560.94 157.4 560.90 157.9 560.93 158.4 559.29 158.9 559.88 159.4 559.77 159.9 560.43 160.4 560.76 160.9 560.39 161.4 561.16 161.9 559.84 162.4 558.60 162.9 557.98 163.4 556.79 163.9 558.15 164.4 559.71 164.9 560.39 165.4 561.07 165.9 561.67 166.4 561.23 166.9 561.21 167.4 560.00 167.9 560.61 168.4 560.29 168.9 561.05 169.4 561.08 169.9 561.65 170.4 562.17 170.9 562.48 171.4 563.07 171.9 562.18 172.4 561.41 172.9 561.60 173.4 560.56 173.9 560.72 174.4 561.77 174.9 562.03 175.4 562.73 175.9 562.92 176.4 563.60 176.9 563.07 177.4 562.33 177.9 561.43 178.4 560.38 178.9 559.55 179.4 558.34 179.9 558.49 180.4 559.43 180.9 560.75 181.4 562.08 181.9 562.49 182.4 561.94 182.9 561.05 183.4 560.29 183.9 558.80 184.4 560.76 184.9 560.72 185.4 561.37 185.9 561.26 186.4 559.83 186.9 560.59 187.4 560.90 187.9 562.00 188.4 562.70 188.9 563.38 189.4 563.26 189.9 563.60 190.4 563.53 190.9 563.02 191.4 563.59 191.9 563.09 192.4 563.28 192.9 563.59 193.4 563.37 193.9 563.46 194.4 563.33 194.9 563.60 195.4 563.60 195.9 563.53 196.4 563.59 196.9 563.45 197.4 563.59 197.9 563.32 198.4 563.60 198.9 563.60 199.4 563.60 199.9 563.28 200.4 563.60 200.9 563.11 201.4 563.54 201.9 563.19 202.4 563.50 202.9 563.60 203.4 563.13 203.9 563.19 204.4 563.23 204.9 563.54 205.4 563.40 205.9 563.60 206.4 563.50 206.9 563.45 207.4 563.54 207.9 563.44 208.4 563.39 208.9 563.60 209.4 563.32 209.9 563.03 210.4 563.35 210.9 563.45 211.4 563.26 211.9 562.97 212.4 562.75 212.9 561.88 213.4 561.52 213.9 561.73 214.4 561.67 214.9 562.05 215.4 562.37 215.9 562.71 216.4 562.56 216.9 562.05 217.4 561.74 217.9 560.86 218.4 561.15 218.9 561.01 219.4 560.79 219.9 561.46 220.4 561.90 220.9 562.24 221.4 561.18 221.9 560.58 222.4 559.62 222.9 559.39 223.4 558.47 223.9 560.18 224.4 559.89 224.9 560.79 225.4 561.41 225.9 562.03 226.4 562.15 226.9 562.77 227.4 563.10 227.9 563.07 228.4 562.37 228.9 562.20 229.4 561.68 229.9 561.06 230.4 560.77 230.9 561.56 231.4 562.08 231.9 562.83 232.4 563.11 232.9 563.43 233.4 563.05 233.9 562.09 234.4 560.82 234.9 560.24 235.4 558.27 235.9 558.10 236.4 557.91 236.9 558.42 237.4 559.14 237.9 559.32 238.4 559.62 238.9 559.38 239.4 559.05 239.9 559.16 240.4 559.86 240.9 560.99 241.4 561.05 241.9 562.03 242.4 561.27 242.9 560.52 243.4 561.25 243.9 561.57 244.4 562.11 244.9 561.50 245.4 561.49 245.9 561.20 246.4 561.71 246.9 562.12 247.4 562.52 247.9 561.70 248.4 561.92 248.9 562.05 249.4 562.64 249.9 563.17 250.4 563.46 250.9 563.26 251.4 562.55 251.9 562.09 252.4 561.36 252.9 560.84 253.4 561.66 253.9 562.09 254.4 562.68 254.9 562.63 255.4 562.46 255.9 562.41 256.4 562.85 256.9 562.82 257.4 562.39 257.9 561.95 258.4 562.91 258.9 563.07 259.4 563.35 259.9 563.23 260.4 563.01 260.9 562.89 261.4 562.69 261.9 562.33 262.4 562.51 262.9 561.60 263.4 561.47 263.9 561.49 264.4 562.02 264.9 562.75 265.4 563.34 265.9 563.10 266.4 562.89 266.9 562.61 267.4 562.48 267.9 562.59 268.4 561.89 268.9 561.12 269.4 561.37 269.9 561.73 270.4 562.57 270.9 562.88 271.4 563.28 271.9 563.54 272.4 562.88 272.9 562.76 273.4 562.61 273.9 562.27 274.4 562.68 274.9 562.88 275.4 561.94 275.9 561.26 276.4 561.03 276.9 561.15 277.4 562.01 277.9 562.27 278.4 562.60 278.9 562.47 279.4 562.41 279.9 561.38 280.4 561.03 280.9 560.80 281.4 560.29 281.9 561.36 282.4 561.56 282.9 562.24 283.4 562.80 283.9 563.23 284.4 562.60 284.9 562.04 285.4 561.07 285.9 561.40 286.4 561.69 286.9 562.25 287.4 561.72 287.9 562.22 288.4 562.78 288.9 562.35 289.4 561.85 289.9 561.11 290.4 561.20 290.9 561.81 291.4 562.46 291.9 562.89 292.4 562.90 292.9 562.32 293.4 562.00 293.9 561.08 294.4 561.27 294.9 561.66 295.4 562.05 295.9 561.83 296.4 561.27 296.9 560.48 297.4 561.63 297.9 561.94 298.4 562.67 298.9 561.73 299.4 560.60 299.9 561.15 300.4 562.29 300.9 562.74 301.4 563.14 301.9 563.03 302.4 562.81 302.9 562.35 303.4 562.01 303.9 562.35 304.4 562.69 304.9 562.12 305.4 561.63 305.9 561.47 306.4 562.19 306.9 562.38 307.4 562.87 307.9 562.70 308.4 562.78 308.9 562.23 309.4 560.62 309.9 560.61 310.4 561.27 310.9 561.91 311.4 561.61 311.9 561.83 312.4 560.96 312.9 561.53 313.4 561.91 313.9 562.19 314.4 561.67 314.9 562.51 315.4 562.55 315.9 562.92 316.4 563.33 316.9 563.13 317.4 562.49 317.9 562.32 318.4 562.08 318.9 562.30 319.4 562.50 319.9 563.27 320.4 563.15 320.9 562.39 321.4 562.21 321.9 561.70 322.4 562.48 322.9 562.82 323.4 562.79 323.9 562.32 324.4 561.58 324.9 561.19 325.4 561.96 325.9 562.80 326.4 562.32 326.9 561.01 327.4 560.96 327.9 561.77 328.4 562.26 328.9 562.97 329.4 562.27 329.9 562.29 330.4 561.85 330.9 562.50 331.4 561.78 331.9 561.41 332.4 561.22 332.9 562.01 333.4 562.21 333.9 562.66 334.4 562.89 334.9 562.91 335.4 562.74 335.9 562.36 336.4 562.57 336.9 562.60 337.4 562.88 337.9 562.70 338.4 562.53 338.9 561.56 339.4 561.24 339.9 561.22 340.4 562.01 340.9 561.99 341.4 562.47 341.9 561.45 342.4 561.38 342.9 561.54 343.4 562.05 343.9 562.16 344.4 561.48 344.9 562.13 345.4 562.48 345.9 563.10 346.4 562.81 346.9 562.76 347.4 562.20 347.9 561.77 348.4 561.46 348.9 561.99 349.4 562.00 349.9 562.44 350.4 562.81 350.9 562.58 351.4 562.15 351.9 562.63 352.4 562.83 352.9 563.36 353.4 563.51 353.9 562.93 354.4 561.90 354.9 559.79 355.4 559.00 355.9 559.59 356.4 560.38 356.9 560.35 357.4 560.73 357.9 559.73 358.4 559.12 358.9 560.35 359.4 560.59 359.9 560.27 360.4 559.87 360.9 559.76 361.4 559.90 361.9 559.06 362.4 559.43 362.9 560.07 363.4 560.65 363.9 560.48 364.4 559.14 364.9 560.14 365.4 560.83 365.9 560.12 366.4 559.23 366.9 559.84 367.4 558.23 367.9 556.66 368.4 556.86 368.9 556.78 369.4 558.18 369.9 560.07 370.4 560.56 370.9 560.41 371.4 559.91 371.9 558.26 372.4 560.74 372.9 560.17 373.4 557.36 373.9 558.49 374.4 560.24 374.9 560.65 375.4 560.42 375.9 560.55 376.4 560.60 376.9 560.33 377.4 559.71 377.9 559.42 378.4 560.83 378.9 560.78 379.4 559.16 379.9 559.99 380.4 560.51 380.9 560.80 381.4 560.21 381.9 559.08 382.4 558.55 382.9 559.40 383.4 560.97 383.9 560.35 384.4 560.47 384.9 559.24 385.4 557.56 385.9 559.10 386.4 558.94 386.9 558.39 387.4 558.02 387.9 557.36 388.4 559.12 388.9 559.81 389.4 560.31 389.9 560.68 390.4 558.71 390.9 560.29 391.4 560.16 391.9 559.14 392.4 559.45 392.9 560.99 393.4 560.24 393.9 560.25 394.4 557.85 394.9 559.07 395.4 560.50 395.9 560.49 396.4 560.16 396.9 559.00 397.4 559.53 397.9 560.72 398.4 560.20 398.9 559.90 399.4 560.32 399.9 560.36 400.4 559.93 400.9 560.43 401.4 560.61 401.9 559.86 402.4 558.44 402.9 557.91 403.4 558.52 403.9 559.93 404.4 559.46 404.9 558.60 405.4 560.00 405.9 558.99 406.4 557.51 406.9 557.32 407.4 558.59 407.9 559.18 408.4 557.68 408.9 558.76 409.4 560.43 409.9 559.43 410.4 557.78 410.9 560.17 411.4 560.51 411.9 560.52 412.4 558.76 412.9 557.24 413.4 559.42 413.9 559.68 414.4 560.88 414.9 560.46 415.4 559.86 415.9 560.85 416.4 560.87 416.9 560.79 417.4 560.26 417.9 559.48 418.4 558.99 418.9 559.98 419.4 560.60 419.9 560.84 420.4 560.19 420.9 559.16 421.4 558.52 421.9 558.83 422.4 559.46 422.9 557.07 423.4 558.48 423.9 558.88 424.4 560.37 424.9 560.35 425.4 560.14 425.9 560.12 426.4 560.29 426.9 561.00 427.4 561.09 427.9 560.83 428.4 559.88 428.9 559.82 429.4 560.32 429.9 560.75 430.4 559.87 430.9 558.70 431.4 558.30 431.9 558.96 432.4 559.56 432.9 559.92 433.4 558.09 433.9 557.66 434.4 559.22 434.9 559.54 435.4 561.03 435.9 559.93 436.4 559.05 436.9 557.95 437.4 560.21 437.9 560.31 438.4 560.87 438.9 560.08 439.4 559.07 439.9 558.20 440.4 559.38 440.9 560.63 441.4 558.84 441.9 558.28 442.4 558.95 442.9 560.39 443.4 561.44 443.9 561.54 444.4 563.05 444.9 563.57 445.4 563.49 445.9 563.31 446.4 562.61 446.9 562.81 447.4 562.34 447.9 561.53 448.4 562.10 448.9 562.72 449.4 562.93 449.9 562.94 450.4 563.16 450.9 562.97 451.4 562.61 451.9 562.51 452.4 562.48 452.9 562.95 453.4 563.08 453.9 563.30 454.4 562.92 454.9 562.53 455.4 561.96 455.9 561.62 456.4 562.22 456.9 562.46 457.4 562.43 457.9 562.70 458.4 563.31 458.9 563.60 459.4 563.55 L459.7 563.6 Z" fill="#3ab3e6"/>
<path d="M131.4 563.6 L131.4 563.36 131.9 563.60 132.4 563.46 132.9 563.52 133.4 563.30 133.9 563.60 134.4 563.47 134.9 563.54 135.4 563.51 135.9 563.59 136.4 563.49 136.9 563.57 137.4 563.59 137.9 563.57 138.4 563.37 138.9 563.60 139.4 563.59 139.9 563.56 140.4 563.47 140.9 563.59 141.4 563.22 141.9 563.59 142.4 563.56 142.9 563.60 143.4 563.59 143.9 563.53 144.4 563.58 144.9 563.60 145.4 563.55 145.9 563.27 146.4 563.39 146.9 563.60 147.4 563.59 147.9 563.25 148.4 563.60 148.9 563.57 149.4 563.42 149.9 563.59 150.4 563.58 150.9 563.59 151.4 563.37 151.9 563.57 152.4 563.60 152.9 563.49 153.4 563.59 153.9 563.60 154.4 563.42 154.9 563.38 155.4 563.13 155.9 563.19 156.4 562.95 156.9 562.73 157.4 562.45 157.9 562.13 158.4 562.37 158.9 562.15 159.4 561.44 159.9 561.48 160.4 561.55 160.9 561.88 161.4 561.95 161.9 562.31 162.4 562.37 162.9 562.73 163.4 562.52 163.9 562.16 164.4 562.07 164.9 561.73 165.4 561.44 165.9 561.37 166.4 561.57 166.9 561.85 167.4 561.86 167.9 562.46 168.4 562.40 168.9 562.73 169.4 562.82 169.9 562.87 170.4 562.27 170.9 562.38 171.4 562.07 171.9 561.87 172.4 562.12 172.9 562.31 173.4 562.39 173.9 562.87 174.4 562.93 174.9 563.18 175.4 563.40 175.9 563.49 176.4 563.60 176.9 563.40 177.4 563.02 177.9 562.89 178.4 562.23 178.9 562.07 179.4 561.53 179.9 561.29 180.4 561.50 180.9 561.65 181.4 562.10 181.9 562.57 182.4 563.00 182.9 563.24 183.4 563.02 183.9 562.81 184.4 562.28 184.9 562.06 185.4 561.61 185.9 560.87 186.4 561.55 186.9 561.66 187.4 561.96 187.9 562.54 188.4 562.82 188.9 563.27 189.4 563.60 189.9 563.59 190.4 563.40 190.9 563.60 191.4 563.60 191.9 563.45 192.4 563.25 192.9 563.60 193.4 563.54 193.9 563.38 194.4 563.34 194.9 563.47 195.4 563.24 195.9 563.43 196.4 563.57 196.9 563.43 197.4 563.58 197.9 563.46 198.4 563.60 198.9 563.32 199.4 563.60 199.9 563.60 200.4 563.59 200.9 563.57 201.4 563.55 201.9 563.45 202.4 563.56 202.9 563.32 203.4 563.54 203.9 563.59 204.4 563.31 204.9 563.60 205.4 563.52 205.9 563.25 206.4 563.45 206.9 563.60 207.4 563.52 207.9 563.25 208.4 563.36 208.9 563.60 209.4 563.14 209.9 563.32 210.4 563.04 210.9 562.78 211.4 562.76 211.9 562.39 212.4 562.26 212.9 562.04 213.4 562.45 213.9 562.13 214.4 562.57 214.9 562.78 215.4 563.10 215.9 563.25 216.4 563.16 216.9 563.17 217.4 563.60 217.9 563.52 218.4 563.07 218.9 563.17 219.4 563.03 219.9 562.78 220.4 562.67 220.9 562.55 221.4 561.89 221.9 562.08 222.4 561.49 222.9 561.75 223.4 561.42 223.9 562.15 224.4 562.35 224.9 562.42 225.4 562.43 225.9 562.68 226.4 563.00 226.9 563.17 227.4 563.27 227.9 563.47 228.4 563.53 228.9 563.46 229.4 563.24 229.9 563.47 230.4 563.53 230.9 563.57 231.4 563.59 231.9 563.44 232.4 563.20 232.9 563.28 233.4 563.06 233.9 563.07 234.4 562.69 234.9 562.57 235.4 561.88 235.9 561.47 236.4 561.28 236.9 561.29 237.4 561.87 237.9 562.01 238.4 562.65 238.9 562.96 239.4 563.33 239.9 563.60 240.4 563.49 240.9 563.59 241.4 563.59 241.9 563.36 242.4 563.37 242.9 563.04 243.4 562.97 243.9 562.50 244.4 562.49 244.9 562.24 245.4 561.67 245.9 561.99 246.4 562.32 246.9 562.62 247.4 562.84 247.9 562.98 248.4 562.89 248.9 562.38 249.4 562.40 249.9 562.68 250.4 562.94 250.9 562.68 251.4 562.79 251.9 562.40 252.4 562.40 252.9 561.99 253.4 561.84 253.9 562.22 254.4 562.61 254.9 562.63 255.4 562.80 255.9 562.84 256.4 562.47 256.9 562.53 257.4 562.42 257.9 562.61 258.4 562.57 258.9 562.92 259.4 563.20 259.9 563.22 260.4 563.31 260.9 563.11 261.4 562.71 261.9 562.77 262.4 562.55 262.9 561.87 263.4 562.31 263.9 562.72 264.4 562.46 264.9 563.01 265.4 562.76 265.9 562.61 266.4 562.92 266.9 562.97 267.4 562.95 267.9 563.22 268.4 563.08 268.9 562.85 269.4 562.53 269.9 562.80 270.4 562.82 270.9 563.04 271.4 563.24 271.9 563.21 272.4 563.26 272.9 563.19 273.4 563.03 273.9 562.74 274.4 562.61 274.9 562.58 275.4 562.96 275.9 563.11 276.4 563.31 276.9 563.35 277.4 563.18 277.9 562.94 278.4 562.81 278.9 563.01 279.4 562.98 279.9 562.92 280.4 562.43 280.9 562.16 281.4 562.58 281.9 562.59 282.4 562.89 282.9 562.97 283.4 563.10 283.9 562.76 284.4 562.66 284.9 562.27 285.4 562.27 285.9 562.22 286.4 562.33 286.9 562.75 287.4 562.89 287.9 562.95 288.4 562.73 288.9 562.47 289.4 562.07 289.9 561.98 290.4 561.94 290.9 562.45 291.4 562.45 291.9 562.54 292.4 562.57 292.9 562.59 293.4 562.12 293.9 562.47 294.4 562.56 294.9 562.80 295.4 562.98 295.9 563.04 296.4 562.61 296.9 562.50 297.4 562.38 297.9 562.72 298.4 562.69 298.9 563.18 299.4 563.37 299.9 563.15 300.4 562.97 300.9 562.47 301.4 562.26 301.9 562.12 302.4 562.35 302.9 562.24 303.4 562.86 303.9 562.99 304.4 563.37 304.9 562.93 305.4 562.97 305.9 562.87 306.4 562.66 306.9 562.90 307.4 563.04 307.9 562.88 308.4 563.16 308.9 562.83 309.4 562.79 309.9 562.48 310.4 562.45 310.9 562.70 311.4 562.73 311.9 562.72 312.4 562.85 312.9 562.66 313.4 561.85 313.9 562.21 314.4 561.80 314.9 562.39 315.4 562.62 315.9 562.82 316.4 563.02 316.9 562.79 317.4 562.79 317.9 562.61 318.4 562.88 318.9 563.08 319.4 563.32 319.9 563.25 320.4 563.06 320.9 562.80 321.4 562.57 321.9 562.47 322.4 561.78 322.9 562.33 323.4 562.31 323.9 562.56 324.4 562.44 324.9 563.01 325.4 562.71 325.9 562.44 326.4 562.19 326.9 562.57 327.4 562.53 327.9 562.88 328.4 563.14 328.9 563.04 329.4 562.95 329.9 562.56 330.4 562.49 330.9 561.95 331.4 562.60 331.9 562.48 332.4 562.84 332.9 563.16 333.4 563.12 333.9 562.87 334.4 562.70 334.9 562.45 335.4 562.96 335.9 563.11 336.4 563.28 336.9 562.91 337.4 563.03 337.9 562.81 338.4 562.64 338.9 562.83 339.4 562.75 339.9 562.57 340.4 562.32 340.9 562.22 341.4 561.71 341.9 561.78 342.4 562.21 342.9 562.43 343.4 562.60 343.9 562.95 344.4 562.69 344.9 562.53 345.4 562.55 345.9 562.70 346.4 562.83 346.9 563.13 347.4 563.24 347.9 563.08 348.4 563.01 348.9 562.89 349.4 562.55 349.9 562.60 350.4 562.66 350.9 563.05 351.4 563.17 351.9 563.33 352.4 563.38 352.9 563.55 353.4 563.54 353.9 563.22 354.4 563.54 354.9 563.60 355.4 562.34 355.9 562.28 356.4 562.55 356.9 562.33 357.4 562.53 357.9 562.39 358.4 562.19 358.9 562.28 359.4 562.19 359.9 562.42 360.4 561.88 360.9 561.14 361.4 561.14 361.9 560.66 362.4 560.66 362.9 561.30 363.4 561.67 363.9 562.08 364.4 562.39 364.9 562.52 365.4 562.03 365.9 562.17 366.4 561.95 366.9 561.42 367.4 560.67 367.9 560.15 368.4 559.40 368.9 560.00 369.4 560.68 369.9 561.69 370.4 562.08 370.9 562.20 371.4 562.33 371.9 562.16 372.4 562.42 372.9 562.43 373.4 562.37 373.9 562.25 374.4 562.25 374.9 562.03 375.4 561.37 375.9 560.94 376.4 561.11 376.9 561.70 377.4 562.13 377.9 562.15 378.4 562.16 378.9 562.18 379.4 562.51 379.9 562.33 380.4 562.06 380.9 562.04 381.4 562.49 381.9 562.14 382.4 562.50 382.9 562.53 383.4 562.51 383.9 562.09 384.4 562.32 384.9 562.08 385.4 562.51 385.9 561.85 386.4 560.96 386.9 560.70 387.4 560.72 387.9 560.69 388.4 561.12 388.9 561.89 389.4 562.05 389.9 562.08 390.4 562.27 390.9 562.33 391.4 562.28 391.9 562.13 392.4 562.01 392.9 562.48 393.4 562.02 393.9 562.17 394.4 562.23 394.9 561.76 395.4 561.10 395.9 561.05 396.4 561.52 396.9 561.40 397.4 561.99 397.9 562.43 398.4 562.23 398.9 562.57 399.4 562.36 399.9 562.02 400.4 561.73 400.9 561.59 401.4 561.60 401.9 561.34 402.4 561.10 402.9 561.77 403.4 562.03 403.9 562.44 404.4 562.36 404.9 561.95 405.4 561.22 405.9 560.47 406.4 560.13 406.9 560.20 407.4 560.71 407.9 561.79 408.4 561.77 408.9 562.27 409.4 562.53 409.9 562.23 410.4 562.14 410.9 562.60 411.4 562.02 411.9 562.02 412.4 562.07 412.9 562.60 413.4 562.18 413.9 562.01 414.4 562.07 414.9 562.54 415.4 562.23 415.9 562.00 416.4 561.69 416.9 561.79 417.4 561.15 417.9 560.83 418.4 561.02 418.9 561.90 419.4 562.03 419.9 562.25 420.4 562.04 420.9 562.47 421.4 562.41 421.9 562.55 422.4 562.53 422.9 562.36 423.4 562.05 423.9 562.04 424.4 562.11 424.9 562.23 425.4 562.06 425.9 562.54 426.4 562.34 426.9 562.23 427.4 562.35 427.9 562.40 428.4 562.12 428.9 562.09 429.4 562.10 429.9 562.27 430.4 562.36 430.9 562.16 431.4 562.21 431.9 562.18 432.4 561.60 432.9 560.99 433.4 561.18 433.9 560.44 434.4 561.49 434.9 561.97 435.4 562.33 435.9 562.30 436.4 562.01 436.9 562.04 437.4 562.48 437.9 562.05 438.4 562.18 438.9 562.08 439.4 562.34 439.9 562.40 440.4 562.23 440.9 562.50 441.4 562.13 441.9 562.22 442.4 562.23 442.9 562.56 443.4 563.48 443.9 563.52 444.4 563.60 444.9 563.40 445.4 563.41 445.9 563.60 446.4 563.60 446.9 563.53 447.4 563.60 447.9 563.29 448.4 563.60 448.9 563.60 449.4 563.60 449.9 563.57 450.4 563.52 450.9 563.38 451.4 563.59 451.9 563.38 452.4 563.58 452.9 563.54 453.4 563.60 453.9 563.57 454.4 563.60 454.9 563.60 455.4 563.24 455.9 563.60 456.4 563.60 456.9 563.55 457.4 563.59 457.9 563.58 458.4 563.57 458.9 563.33 459.4 563.58 L459.7 563.6 Z" fill="#e8399b"/>
<line x1="131.4" y1="563.6" x2="459.7" y2="563.6" stroke="#c77ac0" stroke-width="0.8"/>
<path d="M131.4 580.9 L131.4 580.87 131.9 580.72 132.4 580.88 132.9 580.85 133.4 580.49 133.9 580.87 134.4 580.90 134.9 580.57 135.4 580.54 135.9 580.59 136.4 580.87 136.9 580.70 137.4 580.79 137.9 580.42 138.4 580.36 138.9 580.31 139.4 579.90 139.9 579.96 140.4 579.35 140.9 579.38 141.4 579.48 141.9 579.76 142.4 579.92 142.9 579.65 143.4 579.95 143.9 580.44 144.4 580.40 144.9 580.67 145.4 580.82 145.9 580.90 146.4 580.82 146.9 580.68 147.4 580.85 147.9 580.90 148.4 580.90 148.9 580.75 149.4 580.57 149.9 580.68 150.4 580.90 150.9 580.88 151.4 580.90 151.9 580.44 152.4 577.72 152.9 577.24 153.4 576.35 153.9 576.71 154.4 576.37 154.9 577.36 155.4 576.49 155.9 577.05 156.4 575.70 156.9 576.04 157.4 576.25 157.9 576.35 158.4 576.51 158.9 576.18 159.4 574.35 159.9 573.72 160.4 572.60 160.9 574.05 161.4 576.11 161.9 577.01 162.4 577.00 162.9 577.70 163.4 577.45 163.9 577.47 164.4 576.35 164.9 575.38 165.4 576.58 165.9 576.69 166.4 576.54 166.9 576.44 167.4 577.47 167.9 576.50 168.4 577.75 168.9 577.43 169.4 576.54 169.9 576.00 170.4 576.33 170.9 576.88 171.4 577.01 171.9 576.82 172.4 576.74 172.9 576.94 173.4 577.33 173.9 576.64 174.4 576.69 174.9 576.97 175.4 578.51 175.9 579.09 176.4 579.76 176.9 579.59 177.4 578.44 177.9 577.65 178.4 576.65 178.9 575.37 179.4 573.64 179.9 575.22 180.4 576.01 180.9 576.48 181.4 576.53 181.9 577.47 182.4 576.90 182.9 576.41 183.4 577.11 183.9 576.74 184.4 577.23 184.9 577.56 185.4 576.74 185.9 577.26 186.4 577.19 186.9 576.65 187.4 577.49 187.9 577.50 188.4 576.74 188.9 577.85 189.4 576.65 189.9 577.30 190.4 577.43 190.9 580.07 191.4 580.85 191.9 580.90 192.4 580.88 192.9 580.69 193.4 580.82 193.9 580.89 194.4 580.87 194.9 580.66 195.4 580.83 195.9 580.88 196.4 580.88 196.9 580.44 197.4 580.84 197.9 580.82 198.4 580.63 198.9 580.73 199.4 580.77 199.9 580.85 200.4 580.62 200.9 580.68 201.4 580.87 201.9 580.44 202.4 580.90 202.9 580.90 203.4 580.90 203.9 580.42 204.4 580.67 204.9 580.89 205.4 580.89 205.9 580.87 206.4 580.88 206.9 580.51 207.4 580.58 207.9 580.90 208.4 580.89 208.9 580.75 209.4 580.89 209.9 580.58 210.4 580.62 210.9 580.53 211.4 580.13 211.9 579.82 212.4 579.40 212.9 579.38 213.4 578.75 213.9 578.10 214.4 578.25 214.9 578.07 215.4 578.00 215.9 577.96 216.4 578.72 216.9 578.69 217.4 578.26 217.9 577.78 218.4 578.20 218.9 578.56 219.4 578.52 219.9 578.09 220.4 577.91 220.9 578.61 221.4 578.09 221.9 577.75 222.4 577.73 222.9 577.32 223.4 577.16 223.9 577.64 224.4 578.24 224.9 578.58 225.4 578.03 225.9 578.39 226.4 577.97 226.9 577.82 227.4 577.41 227.9 577.02 228.4 576.62 228.9 576.66 229.4 577.18 229.9 577.19 230.4 578.10 230.9 578.08 231.4 579.17 231.9 579.29 232.4 579.71 232.9 580.19 233.4 579.82 233.9 579.08 234.4 578.04 234.9 577.38 235.4 576.19 235.9 575.99 236.4 573.84 236.9 574.77 237.4 576.04 237.9 576.60 238.4 578.06 238.9 577.16 239.4 577.42 239.9 577.21 240.4 577.52 240.9 578.22 241.4 578.61 241.9 578.03 242.4 578.63 242.9 578.32 243.4 577.96 243.9 578.07 244.4 578.79 244.9 578.71 245.4 580.02 245.9 580.17 246.4 580.06 246.9 579.82 247.4 580.15 247.9 579.92 248.4 580.01 248.9 580.15 249.4 580.12 249.9 579.83 250.4 580.04 250.9 579.90 251.4 579.84 251.9 580.02 252.4 580.10 252.9 580.01 253.4 579.94 253.9 579.90 254.4 579.83 254.9 580.04 255.4 580.05 255.9 579.84 256.4 580.04 256.9 580.04 257.4 580.14 257.9 579.96 258.4 579.93 258.9 580.02 259.4 579.89 259.9 580.11 260.4 579.89 260.9 580.07 261.4 580.16 261.9 579.85 262.4 580.11 262.9 579.99 263.4 580.12 263.9 579.83 264.4 579.98 264.9 579.97 265.4 579.90 265.9 579.85 266.4 579.83 266.9 579.90 267.4 580.09 267.9 580.10 268.4 579.90 268.9 579.93 269.4 580.11 269.9 580.02 270.4 580.11 270.9 579.98 271.4 579.97 271.9 580.17 272.4 579.85 272.9 579.88 273.4 579.83 273.9 580.11 274.4 579.93 274.9 579.83 275.4 580.03 275.9 579.86 276.4 580.01 276.9 580.10 277.4 579.89 277.9 579.92 278.4 580.07 278.9 579.83 279.4 579.92 279.9 579.83 280.4 580.17 280.9 579.89 281.4 580.10 281.9 580.04 282.4 580.08 282.9 579.84 283.4 579.97 283.9 580.05 284.4 580.12 284.9 580.04 285.4 579.93 285.9 580.06 286.4 579.99 286.9 579.97 287.4 579.95 287.9 580.10 288.4 579.97 288.9 579.89 289.4 580.17 289.9 580.14 290.4 580.08 290.9 580.10 291.4 579.97 291.9 579.95 292.4 580.11 292.9 579.92 293.4 579.84 293.9 580.07 294.4 580.07 294.9 580.12 295.4 580.12 295.9 579.96 296.4 580.07 296.9 579.93 297.4 579.91 297.9 580.05 298.4 579.84 298.9 579.93 299.4 580.13 299.9 579.95 300.4 579.98 300.9 579.84 301.4 580.10 301.9 579.82 302.4 579.88 302.9 580.05 303.4 579.83 303.9 580.09 304.4 580.03 304.9 580.05 305.4 579.89 305.9 579.88 306.4 580.08 306.9 580.06 307.4 580.17 307.9 579.91 308.4 580.03 308.9 579.99 309.4 579.97 309.9 579.97 310.4 579.95 310.9 580.00 311.4 580.02 311.9 579.99 312.4 580.07 312.9 580.09 313.4 580.11 313.9 580.06 314.4 580.17 314.9 579.95 315.4 579.89 315.9 579.91 316.4 580.08 316.9 579.94 317.4 579.87 317.9 580.00 318.4 580.05 318.9 580.00 319.4 579.95 319.9 579.99 320.4 580.07 320.9 580.00 321.4 580.05 321.9 580.16 322.4 580.13 322.9 580.13 323.4 580.08 323.9 579.95 324.4 580.08 324.9 580.03 325.4 580.12 325.9 579.88 326.4 579.96 326.9 579.94 327.4 580.04 327.9 579.92 328.4 580.01 328.9 579.97 329.4 580.15 329.9 579.86 330.4 580.03 330.9 579.99 331.4 580.10 331.9 580.07 332.4 580.05 332.9 580.03 333.4 579.88 333.9 579.96 334.4 580.05 334.9 579.88 335.4 579.93 335.9 579.98 336.4 579.79 336.9 579.70 337.4 579.24 337.9 579.37 338.4 579.25 338.9 579.36 339.4 579.63 339.9 579.81 340.4 579.88 340.9 579.51 341.4 579.35 341.9 578.91 342.4 578.38 342.9 578.14 343.4 578.48 343.9 578.54 344.4 579.01 344.9 578.45 345.4 578.41 345.9 577.58 346.4 578.07 346.9 578.42 347.4 578.37 347.9 578.04 348.4 577.01 348.9 577.16 349.4 577.61 349.9 578.02 350.4 578.35 350.9 578.65 351.4 578.48 351.9 578.17 352.4 578.16 352.9 578.45 353.4 578.78 353.9 579.01 354.4 579.56 354.9 578.71 355.4 577.39 355.9 577.17 356.4 575.56 356.9 576.26 357.4 577.37 357.9 576.85 358.4 576.82 358.9 577.39 359.4 575.93 359.9 575.99 360.4 576.69 360.9 576.20 361.4 575.24 361.9 572.75 362.4 572.36 362.9 572.28 363.4 574.45 363.9 575.22 364.4 575.38 364.9 576.52 365.4 576.72 365.9 577.83 366.4 576.26 366.9 575.77 367.4 572.93 367.9 572.66 368.4 570.94 368.9 573.33 369.4 573.37 369.9 576.06 370.4 576.74 370.9 576.60 371.4 575.78 371.9 576.23 372.4 575.95 372.9 576.75 373.4 577.22 373.9 576.79 374.4 576.81 374.9 577.89 375.4 577.25 375.9 577.32 376.4 577.16 376.9 577.02 377.4 577.27 377.9 577.56 378.4 577.45 378.9 577.91 379.4 577.21 379.9 576.85 380.4 575.91 380.9 576.34 381.4 577.33 381.9 577.39 382.4 577.59 382.9 577.53 383.4 578.07 383.9 577.49 384.4 578.26 384.9 577.54 385.4 576.09 385.9 575.57 386.4 573.87 386.9 573.25 387.4 570.50 387.9 571.69 388.4 572.91 388.9 574.36 389.4 576.10 389.9 577.03 390.4 576.65 390.9 576.35 391.4 576.50 391.9 576.08 392.4 575.67 392.9 575.95 393.4 576.96 393.9 577.36 394.4 576.82 394.9 576.79 395.4 576.70 395.9 576.47 396.4 576.81 396.9 577.10 397.4 577.58 397.9 576.38 398.4 575.44 398.9 576.83 399.4 576.35 399.9 577.20 400.4 576.03 400.9 577.02 401.4 577.44 401.9 577.45 402.4 577.97 402.9 578.03 403.4 577.66 403.9 577.33 404.4 575.71 404.9 576.02 405.4 574.85 405.9 573.13 406.4 572.78 406.9 572.44 407.4 573.97 407.9 575.03 408.4 575.15 408.9 576.31 409.4 577.49 409.9 577.63 410.4 576.92 410.9 576.49 411.4 575.99 411.9 575.93 412.4 575.17 412.9 576.58 413.4 577.67 413.9 577.69 414.4 578.12 414.9 577.90 415.4 577.49 415.9 577.05 416.4 575.97 416.9 576.46 417.4 575.84 417.9 574.93 418.4 575.46 418.9 576.87 419.4 577.59 419.9 577.78 420.4 577.47 420.9 576.57 421.4 575.38 421.9 575.87 422.4 577.32 422.9 577.70 423.4 576.99 423.9 577.43 424.4 577.32 424.9 577.25 425.4 575.93 425.9 575.40 426.4 576.68 426.9 577.88 427.4 577.25 427.9 576.90 428.4 575.12 428.9 575.76 429.4 577.59 429.9 576.99 430.4 576.53 430.9 576.53 431.4 577.06 431.9 575.78 432.4 573.79 432.9 573.02 433.4 571.37 433.9 572.75 434.4 572.99 434.9 574.88 435.4 576.17 435.9 577.07 436.4 578.25 436.9 577.67 437.4 577.16 437.9 576.45 438.4 577.13 438.9 577.26 439.4 577.37 439.9 576.89 440.4 576.29 440.9 576.72 441.4 577.42 441.9 577.63 442.4 577.76 442.9 578.14 443.4 580.75 443.9 580.41 444.4 579.84 444.9 579.83 445.4 580.00 445.9 580.09 446.4 579.82 446.9 579.84 447.4 579.99 447.9 580.17 448.4 580.07 448.9 580.10 449.4 580.10 449.9 580.09 450.4 580.07 450.9 580.01 451.4 579.99 451.9 579.93 452.4 579.97 452.9 579.89 453.4 579.89 453.9 580.06 454.4 580.13 454.9 579.96 455.4 580.15 455.9 580.10 456.4 580.08 456.9 579.85 457.4 580.06 457.9 579.95 458.4 580.05 458.9 580.04 459.4 579.98 L459.7 580.9 Z" fill="#3dc23d"/>
<line x1="131.4" y1="580.9" x2="459.7" y2="580.9" stroke="#3dc23d" stroke-width="0.8"/>
<path d="M131.4 598.3 L131.4 598.29 131.9 598.06 132.4 598.30 132.9 598.30 133.4 598.07 133.9 597.99 134.4 598.23 134.9 597.87 135.4 598.27 135.9 598.30 136.4 597.98 136.9 597.82 137.4 598.20 137.9 597.92 138.4 598.26 138.9 598.30 139.4 598.30 139.9 598.14 140.4 598.30 140.9 598.19 141.4 598.25 141.9 597.94 142.4 598.17 142.9 598.30 143.4 598.29 143.9 598.30 144.4 598.19 144.9 598.22 145.4 598.30 145.9 598.30 146.4 598.30 146.9 598.03 147.4 598.25 147.9 598.15 148.4 598.30 148.9 598.23 149.4 597.86 149.9 597.85 150.4 597.23 150.9 596.68 151.4 597.01 151.9 597.62 152.4 598.09 152.9 598.21 153.4 598.15 153.9 598.30 154.4 598.30 154.9 598.05 155.4 598.14 155.9 598.03 156.4 598.23 156.9 598.30 157.4 597.84 157.9 598.30 158.4 598.14 158.9 598.27 159.4 597.99 159.9 594.12 160.4 589.15 160.9 596.74 161.4 598.07 161.9 596.20 162.4 595.74 162.9 597.86 163.4 598.16 163.9 598.30 164.4 598.12 164.9 598.00 165.4 598.30 165.9 598.15 166.4 598.23 166.9 598.24 167.4 598.30 167.9 598.22 168.4 597.90 168.9 598.30 169.4 598.30 169.9 598.18 170.4 596.98 170.9 595.90 171.4 597.48 171.9 598.05 172.4 597.46 172.9 595.42 173.4 596.30 173.9 598.16 174.4 598.28 174.9 598.09 175.4 598.30 175.9 598.28 176.4 598.30 176.9 598.27 177.4 597.94 177.9 598.08 178.4 598.29 178.9 597.78 179.4 597.67 179.9 595.62 180.4 596.92 180.9 598.11 181.4 598.22 181.9 598.30 182.4 598.06 182.9 598.25 183.4 598.29 183.9 598.10 184.4 598.30 184.9 598.28 185.4 598.25 185.9 598.26 186.4 598.30 186.9 598.30 187.4 598.30 187.9 598.30 188.4 598.30 188.9 598.29 189.4 598.30 189.9 597.89 190.4 597.97 190.9 598.23 191.4 598.29 191.9 597.82 192.4 598.26 192.9 598.30 193.4 598.26 193.9 598.03 194.4 598.15 194.9 598.29 195.4 598.07 195.9 598.23 196.4 598.30 196.9 598.30 197.4 597.98 197.9 598.30 198.4 598.17 198.9 598.28 199.4 598.30 199.9 597.89 200.4 598.08 200.9 598.19 201.4 598.11 201.9 598.23 202.4 597.87 202.9 598.29 203.4 598.29 203.9 597.85 204.4 598.16 204.9 598.30 205.4 598.01 205.9 598.30 206.4 598.29 206.9 597.89 207.4 597.85 207.9 598.25 208.4 597.93 208.9 598.23 209.4 597.94 209.9 598.28 210.4 598.30 210.9 598.29 211.4 598.08 211.9 598.29 212.4 598.22 212.9 597.76 213.4 597.60 213.9 597.31 214.4 597.26 214.9 597.77 215.4 597.73 215.9 598.27 216.4 598.24 216.9 598.30 217.4 598.30 217.9 598.06 218.4 598.19 218.9 597.94 219.4 597.46 219.9 596.66 220.4 597.27 220.9 597.76 221.4 598.13 221.9 598.14 222.4 598.22 222.9 597.98 223.4 597.91 223.9 597.79 224.4 598.06 224.9 597.73 225.4 596.97 225.9 596.81 226.4 596.97 226.9 597.26 227.4 598.09 227.9 597.96 228.4 598.28 228.9 598.28 229.4 598.20 229.9 597.90 230.4 597.11 230.9 597.08 231.4 597.20 231.9 597.51 232.4 598.13 232.9 598.17 233.4 597.99 233.9 598.25 234.4 598.30 234.9 598.30 235.4 598.27 235.9 597.02 236.4 590.93 236.9 594.79 237.4 598.16 237.9 598.30 238.4 598.29 238.9 597.92 239.4 598.22 239.9 598.25 240.4 598.22 240.9 598.30 241.4 598.27 241.9 598.29 242.4 598.23 242.9 597.91 243.4 598.30 243.9 598.30 244.4 598.22 244.9 598.24 245.4 598.29 245.9 597.96 246.4 598.30 246.9 598.29 247.4 598.30 247.9 598.30 248.4 598.30 248.9 598.22 249.4 598.30 249.9 598.02 250.4 598.26 250.9 598.09 251.4 598.30 251.9 598.23 252.4 598.30 252.9 598.26 253.4 598.29 253.9 598.01 254.4 598.29 254.9 597.89 255.4 597.33 255.9 596.31 256.4 596.78 256.9 597.86 257.4 598.24 257.9 598.24 258.4 598.28 258.9 597.92 259.4 598.29 259.9 598.30 260.4 598.26 260.9 598.11 261.4 598.26 261.9 597.89 262.4 598.30 262.9 598.29 263.4 598.30 263.9 598.29 264.4 598.30 264.9 598.30 265.4 598.30 265.9 597.91 266.4 598.23 266.9 598.30 267.4 598.30 267.9 598.22 268.4 598.09 268.9 598.22 269.4 598.00 269.9 598.30 270.4 598.03 270.9 597.98 271.4 598.24 271.9 597.97 272.4 597.89 272.9 598.27 273.4 597.96 273.9 598.30 274.4 598.24 274.9 598.21 275.4 598.27 275.9 598.30 276.4 598.28 276.9 598.29 277.4 597.83 277.9 598.23 278.4 598.30 278.9 598.30 279.4 598.20 279.9 598.30 280.4 598.07 280.9 598.30 281.4 598.10 281.9 598.28 282.4 598.29 282.9 598.30 283.4 598.30 283.9 597.96 284.4 598.29 284.9 597.85 285.4 598.23 285.9 598.30 286.4 597.98 286.9 598.11 287.4 597.99 287.9 598.30 288.4 598.28 288.9 598.29 289.4 598.30 289.9 598.28 290.4 598.09 290.9 597.87 291.4 598.29 291.9 598.02 292.4 598.29 292.9 598.30 293.4 598.26 293.9 598.27 294.4 598.28 294.9 598.06 295.4 598.30 295.9 598.30 296.4 598.22 296.9 598.29 297.4 598.09 297.9 598.29 298.4 597.90 298.9 598.06 299.4 597.68 299.9 597.39 300.4 597.31 300.9 597.78 301.4 598.11 301.9 598.28 302.4 598.30 302.9 598.10 303.4 598.27 303.9 598.28 304.4 598.18 304.9 597.94 305.4 598.30 305.9 598.26 306.4 597.83 306.9 597.98 307.4 598.29 307.9 598.19 308.4 597.95 308.9 598.29 309.4 598.29 309.9 597.94 310.4 598.30 310.9 598.16 311.4 598.29 311.9 597.89 312.4 598.24 312.9 598.13 313.4 598.30 313.9 598.30 314.4 598.29 314.9 597.91 315.4 598.30 315.9 597.98 316.4 598.28 316.9 597.87 317.4 598.30 317.9 598.29 318.4 598.28 318.9 598.30 319.4 598.23 319.9 598.27 320.4 598.23 320.9 598.05 321.4 597.56 321.9 597.51 322.4 597.48 322.9 597.86 323.4 598.19 323.9 598.28 324.4 598.19 324.9 598.29 325.4 598.28 325.9 598.11 326.4 598.28 326.9 598.14 327.4 598.30 327.9 597.87 328.4 598.30 328.9 598.30 329.4 598.30 329.9 598.15 330.4 597.98 330.9 598.00 331.4 598.26 331.9 598.30 332.4 597.89 332.9 598.30 333.4 598.26 333.9 598.30 334.4 598.13 334.9 597.93 335.4 598.26 335.9 598.27 336.4 598.30 336.9 598.23 337.4 598.25 337.9 598.28 338.4 597.82 338.9 598.30 339.4 598.22 339.9 598.28 340.4 598.18 340.9 598.29 341.4 597.80 341.9 598.29 342.4 598.28 342.9 597.91 343.4 598.24 343.9 598.28 344.4 598.23 344.9 598.29 345.4 598.17 345.9 598.27 346.4 598.26 346.9 598.30 347.4 598.30 347.9 598.30 348.4 598.28 348.9 598.29 349.4 598.11 349.9 598.30 350.4 598.30 350.9 597.90 351.4 598.12 351.9 598.30 352.4 597.90 352.9 598.29 353.4 598.30 353.9 598.27 354.4 598.23 354.9 598.20 355.4 598.02 355.9 598.13 356.4 598.29 356.9 598.24 357.4 598.26 357.9 598.26 358.4 598.20 358.9 597.96 359.4 597.97 359.9 597.77 360.4 593.98 360.9 590.42 361.4 596.26 361.9 598.17 362.4 598.30 362.9 598.29 363.4 598.30 363.9 598.30 364.4 598.09 364.9 598.21 365.4 596.95 365.9 595.72 366.4 596.54 366.9 597.79 367.4 595.76 367.9 595.61 368.4 597.48 368.9 598.24 369.4 598.30 369.9 598.29 370.4 598.25 370.9 598.30 371.4 597.99 371.9 598.30 372.4 598.29 372.9 598.18 373.4 598.30 373.9 598.27 374.4 598.19 374.9 598.21 375.4 598.29 375.9 598.30 376.4 598.30 376.9 598.30 377.4 598.26 377.9 598.30 378.4 598.25 378.9 598.29 379.4 598.30 379.9 597.94 380.4 598.23 380.9 598.30 381.4 598.19 381.9 598.30 382.4 598.29 382.9 598.21 383.4 598.06 383.9 598.30 384.4 598.30 384.9 598.29 385.4 598.30 385.9 598.29 386.4 598.29 386.9 598.11 387.4 593.64 387.9 588.59 388.4 596.57 388.9 598.27 389.4 598.30 389.9 598.20 390.4 598.30 390.9 598.27 391.4 598.29 391.9 598.00 392.4 598.30 392.9 598.30 393.4 598.22 393.9 598.30 394.4 597.80 394.9 598.24 395.4 598.30 395.9 598.26 396.4 597.80 396.9 598.00 397.4 597.53 397.9 597.23 398.4 597.04 398.9 597.59 399.4 598.14 399.9 598.27 400.4 598.01 400.9 598.25 401.4 598.17 401.9 598.28 402.4 598.30 402.9 598.30 403.4 598.24 403.9 598.07 404.4 598.30 404.9 598.29 405.4 598.30 405.9 597.85 406.4 598.30 406.9 597.89 407.4 592.32 407.9 590.70 408.4 597.44 408.9 598.29 409.4 598.30 409.9 598.30 410.4 598.24 410.9 598.24 411.4 598.21 411.9 598.04 412.4 598.24 412.9 598.21 413.4 598.07 413.9 598.28 414.4 598.20 414.9 597.93 415.4 597.87 415.9 598.29 416.4 597.87 416.9 598.27 417.4 598.30 417.9 598.25 418.4 597.86 418.9 598.00 419.4 597.32 419.9 597.31 420.4 597.12 420.9 597.85 421.4 598.09 421.9 598.27 422.4 598.25 422.9 597.97 423.4 598.30 423.9 598.30 424.4 598.30 424.9 598.19 425.4 598.30 425.9 598.30 426.4 598.20 426.9 598.27 427.4 597.83 427.9 598.25 428.4 598.18 428.9 598.24 429.4 598.16 429.9 597.92 430.4 598.23 430.9 598.30 431.4 598.30 431.9 598.04 432.4 598.20 432.9 594.98 433.4 586.77 433.9 591.93 434.4 597.83 434.9 598.25 435.4 598.12 435.9 598.30 436.4 597.99 436.9 598.29 437.4 598.29 437.9 598.30 438.4 597.95 438.9 598.24 439.4 598.01 439.9 597.91 440.4 598.30 440.9 598.23 441.4 598.20 441.9 598.29 442.4 598.19 442.9 598.30 443.4 598.30 443.9 598.21 444.4 598.29 444.9 598.27 445.4 598.30 445.9 598.27 446.4 597.82 446.9 598.28 447.4 598.30 447.9 598.00 448.4 598.27 448.9 598.20 449.4 598.30 449.9 598.30 450.4 598.30 450.9 598.24 451.4 598.30 451.9 598.26 452.4 598.24 452.9 598.12 453.4 598.24 453.9 598.30 454.4 598.14 454.9 598.10 455.4 598.30 455.9 598.30 456.4 598.30 456.9 597.86 457.4 598.30 457.9 598.08 458.4 598.30 458.9 598.15 459.4 598.29 L459.7 598.3 Z" fill="#8a45a6"/>
<line x1="131.4" y1="598.3" x2="459.7" y2="598.3" stroke="#a070b8" stroke-width="0.8"/>
<path d="M131.4 615.2 L131.4 614.17 131.9 613.60 132.4 613.06 132.9 612.75 133.4 612.81 133.9 613.20 134.4 613.76 134.9 614.11 135.4 613.97 135.9 614.33 136.4 614.43 136.9 613.38 137.4 612.57 137.9 612.90 138.4 613.86 138.9 613.69 139.4 613.89 139.9 614.33 140.4 614.75 140.9 614.62 141.4 614.05 141.9 613.47 142.4 613.24 142.9 613.53 143.4 613.68 143.9 613.61 144.4 613.87 144.9 614.32 145.4 614.57 145.9 614.11 146.4 613.81 146.9 613.35 147.4 612.18 147.9 612.07 148.4 613.15 148.9 614.13 149.4 613.21 149.9 612.27 150.4 611.77 150.9 612.03 151.4 612.87 151.9 613.84 152.4 614.10 152.9 614.02 153.4 612.84 153.9 611.44 154.4 610.40 154.9 610.29 155.4 611.18 155.9 612.56 156.4 613.48 156.9 612.95 157.4 612.76 157.9 613.01 158.4 613.57 158.9 613.20 159.4 612.77 159.9 612.79 160.4 611.96 160.9 611.47 161.4 611.22 161.9 611.79 162.4 612.86 162.9 613.92 163.4 613.89 163.9 613.57 164.4 612.75 164.9 612.08 165.4 611.83 165.9 612.11 166.4 612.81 166.9 612.45 167.4 611.92 167.9 612.06 168.4 612.78 168.9 613.69 169.4 614.45 169.9 613.84 170.4 613.24 170.9 613.08 171.4 613.48 171.9 613.42 172.4 613.26 172.9 613.47 173.4 613.95 173.9 614.27 174.4 614.08 174.9 614.35 175.4 614.79 175.9 614.44 176.4 613.70 176.9 612.90 177.4 612.22 177.9 611.72 178.4 611.94 178.9 612.76 179.4 613.74 179.9 614.48 180.4 613.60 180.9 612.28 181.4 610.94 181.9 610.22 182.4 610.54 182.9 611.71 183.4 612.90 183.9 611.38 184.4 609.75 184.9 608.54 185.4 608.22 185.9 608.94 186.4 610.38 186.9 612.02 187.4 613.41 187.9 614.25 188.4 614.09 188.9 614.14 189.4 613.60 189.9 613.07 190.4 612.89 190.9 613.11 191.4 612.27 191.9 612.10 192.4 612.71 192.9 613.69 193.4 613.59 193.9 613.17 194.4 613.25 194.9 613.77 195.4 614.41 195.9 614.31 196.4 615.03 196.9 615.06 197.4 615.10 197.9 615.09 198.4 615.04 198.9 615.05 199.4 615.12 199.9 615.17 200.4 615.13 200.9 615.07 201.4 615.01 201.9 614.99 202.4 615.02 202.9 614.99 203.4 615.06 203.9 615.14 204.4 615.13 204.9 615.10 205.4 615.11 205.9 615.14 206.4 615.17 206.9 615.17 207.4 615.12 207.9 615.06 208.4 615.01 208.9 615.02 209.4 614.56 209.9 613.90 210.4 612.60 210.9 611.06 211.4 609.92 211.9 609.80 212.4 610.78 212.9 612.30 213.4 613.54 213.9 613.47 214.4 613.92 214.9 614.21 215.4 613.37 215.9 612.45 216.4 611.80 216.9 611.78 217.4 611.79 217.9 611.22 218.4 611.47 218.9 611.43 219.4 611.66 219.9 612.40 220.4 612.40 220.9 612.51 221.4 613.42 221.9 614.38 222.4 613.96 222.9 613.36 223.4 613.09 223.9 612.64 224.4 611.88 224.9 611.53 225.4 611.72 225.9 612.38 226.4 613.25 226.9 612.86 227.4 612.35 227.9 612.24 228.4 612.29 228.9 611.80 229.4 611.98 229.9 612.72 230.4 613.65 230.9 613.95 231.4 613.29 231.9 612.86 232.4 612.89 232.9 613.37 233.4 613.18 233.9 613.18 234.4 613.83 234.9 614.01 235.4 613.42 235.9 612.28 236.4 610.94 236.9 610.22 237.4 610.54 237.9 611.71 238.4 612.10 238.9 612.74 239.4 613.70 239.9 613.84 240.4 612.64 240.9 611.59 241.4 611.36 241.9 611.07 242.4 609.83 242.9 609.22 243.4 609.49 243.9 610.53 244.4 611.92 244.9 613.23 245.4 613.56 245.9 613.81 246.4 613.71 246.9 612.96 247.4 612.31 247.9 612.01 248.4 612.19 248.9 612.77 249.4 613.52 249.9 613.74 250.4 613.60 250.9 612.28 251.4 610.94 251.9 610.22 252.4 610.54 252.9 611.71 253.4 613.11 253.9 612.86 254.4 612.58 254.9 612.78 255.4 612.54 255.9 612.12 256.4 612.18 256.9 611.07 257.4 609.83 257.9 609.22 258.4 609.49 258.9 610.53 259.4 611.69 259.9 612.26 260.4 611.90 260.9 612.15 261.4 612.86 261.9 612.69 262.4 612.75 262.9 612.57 263.4 611.37 263.9 610.72 264.4 611.01 264.9 612.06 265.4 613.32 265.9 614.30 266.4 613.91 266.9 613.65 267.4 613.64 267.9 613.89 268.4 614.07 268.9 613.39 269.4 612.76 269.9 612.41 270.4 612.50 270.9 612.28 271.4 610.94 271.9 610.22 272.4 610.54 272.9 611.71 273.4 613.11 273.9 613.28 274.4 613.41 274.9 613.91 275.4 614.04 275.9 614.09 276.4 614.52 276.9 614.94 277.4 614.46 277.9 613.26 278.4 611.92 278.9 611.61 279.4 610.51 279.9 609.72 280.4 610.08 280.9 611.36 281.4 612.90 281.9 612.62 282.4 611.88 282.9 611.94 283.4 612.74 283.9 612.75 284.4 612.63 284.9 613.34 285.4 614.27 285.9 614.49 286.4 613.76 286.9 612.57 287.4 611.37 287.9 610.72 288.4 611.01 288.9 612.06 289.4 613.32 289.9 614.04 290.4 614.22 290.9 613.81 291.4 613.77 291.9 614.13 292.4 613.63 292.9 613.06 293.4 613.15 293.9 613.81 294.4 613.36 294.9 612.55 295.4 611.79 295.9 611.22 296.4 611.47 296.9 612.41 297.4 613.53 297.9 614.04 298.4 613.55 298.9 613.73 299.4 613.74 299.9 613.33 300.4 613.30 300.9 613.68 301.4 614.24 301.9 613.78 302.4 613.33 302.9 613.10 303.4 613.22 303.9 612.28 304.4 610.94 304.9 610.22 305.4 610.54 305.9 611.71 306.4 612.37 306.9 612.35 307.4 612.87 307.9 613.65 308.4 613.92 308.9 612.78 309.4 612.18 309.9 612.71 310.4 613.76 310.9 612.57 311.4 611.37 311.9 610.72 312.4 611.01 312.9 612.06 313.4 613.32 313.9 613.91 314.4 613.36 314.9 612.34 315.4 611.60 315.9 611.52 316.4 612.15 316.9 613.15 317.4 614.08 317.9 614.35 318.4 613.60 318.9 612.28 319.4 610.94 319.9 610.22 320.4 610.54 320.9 611.71 321.4 613.11 321.9 613.16 322.4 612.93 322.9 613.24 323.4 613.19 323.9 612.97 324.4 613.68 324.9 614.56 325.4 614.28 325.9 614.02 326.4 614.13 326.9 614.52 327.4 614.23 327.9 613.41 328.4 612.48 328.9 611.79 329.4 611.68 329.9 611.22 330.4 611.47 330.9 612.41 331.4 613.10 331.9 613.03 332.4 613.56 332.9 613.41 333.4 613.17 333.9 613.68 334.4 614.45 334.9 613.78 335.4 612.93 335.9 612.33 336.4 612.35 336.9 611.91 337.4 612.06 337.9 613.28 338.4 612.62 338.9 611.65 339.4 611.37 339.9 610.72 340.4 611.01 340.9 612.06 341.4 613.32 341.9 614.08 342.4 613.65 342.9 612.57 343.4 611.95 343.9 612.25 344.4 613.25 344.9 614.26 345.4 613.70 345.9 612.83 346.4 612.15 346.9 612.01 347.4 612.50 347.9 613.34 348.4 613.69 348.9 612.96 349.4 612.69 349.9 613.08 350.4 612.77 350.9 612.05 351.4 612.17 351.9 613.02 352.4 613.69 352.9 613.35 353.4 613.33 353.9 613.66 354.4 613.57 354.9 612.79 355.4 612.29 355.9 612.33 356.4 612.89 356.9 612.86 357.4 611.79 357.9 611.22 358.4 611.47 358.9 612.41 359.4 613.15 359.9 613.01 360.4 613.24 360.9 613.00 361.4 613.11 361.9 613.57 362.4 614.16 362.9 614.65 363.4 614.32 363.9 613.71 364.4 613.20 364.9 612.28 365.4 610.94 365.9 610.22 366.4 610.54 366.9 611.71 367.4 612.76 367.9 613.35 368.4 612.26 368.9 611.77 369.4 612.27 369.9 613.37 370.4 612.79 370.9 612.30 371.4 611.37 371.9 610.72 372.4 611.01 372.9 612.06 373.4 613.32 373.9 612.94 374.4 612.40 374.9 612.36 375.4 612.86 375.9 613.62 376.4 612.53 376.9 611.74 377.4 611.80 377.9 612.67 378.4 613.60 378.9 612.28 379.4 610.94 379.9 610.22 380.4 610.54 380.9 611.71 381.4 612.45 381.9 612.14 382.4 612.31 382.9 612.88 383.4 613.61 383.9 613.72 384.4 613.57 384.9 613.75 385.4 613.07 385.9 612.97 386.4 613.53 386.9 612.86 387.4 611.79 387.9 611.22 388.4 611.47 388.9 612.41 389.4 613.53 389.9 613.04 390.4 612.43 390.9 612.26 391.4 612.63 391.9 613.35 392.4 613.45 392.9 612.58 393.4 612.38 393.9 612.28 394.4 610.94 394.9 610.22 395.4 610.54 395.9 611.71 396.4 613.11 396.9 613.34 397.4 613.88 397.9 614.53 398.4 614.67 398.9 614.33 399.4 614.04 399.9 613.73 400.4 612.90 400.9 612.22 401.4 611.37 401.9 610.72 402.4 611.01 402.9 612.06 403.4 612.59 403.9 612.85 404.4 613.49 404.9 614.19 405.4 613.62 405.9 613.48 406.4 614.01 406.9 614.00 407.4 613.61 407.9 613.56 408.4 613.60 408.9 612.28 409.4 610.94 409.9 610.22 410.4 610.54 410.9 611.71 411.4 613.11 411.9 613.01 412.4 612.98 412.9 613.35 413.4 613.48 413.9 613.15 414.4 613.11 414.9 613.38 415.4 613.85 415.9 614.34 416.4 613.49 416.9 612.40 417.4 611.79 417.9 611.22 418.4 611.47 418.9 612.41 419.4 613.53 419.9 614.40 420.4 614.80 420.9 614.34 421.4 613.95 421.9 613.93 422.4 614.31 422.9 614.35 423.4 614.15 423.9 614.10 424.4 613.76 424.9 612.57 425.4 611.37 425.9 610.72 426.4 611.01 426.9 611.97 427.4 611.49 427.9 611.96 428.4 613.04 428.9 614.10 429.4 614.23 429.9 613.56 430.4 613.07 430.9 613.07 431.4 612.10 431.9 611.39 432.4 611.60 432.9 612.28 433.4 610.94 433.9 610.22 434.4 610.54 434.9 611.71 435.4 613.11 435.9 612.81 436.4 612.35 436.9 612.76 437.4 613.70 437.9 614.53 438.4 613.92 438.9 612.86 439.4 611.79 439.9 611.22 440.4 611.47 440.9 612.41 441.4 613.04 441.9 613.03 442.4 613.43 442.9 613.27 443.4 613.22 443.9 613.56 444.4 614.09 444.9 613.88 445.4 613.68 445.9 613.78 446.4 613.92 446.9 612.86 447.4 611.79 447.9 611.22 448.4 611.47 448.9 612.41 449.4 612.11 449.9 612.23 450.4 612.87 450.9 613.70 451.4 613.64 451.9 613.95 452.4 614.38 452.9 613.58 453.4 612.57 453.9 611.69 454.4 611.34 454.9 611.71 455.4 611.94 455.9 612.76 456.4 612.59 456.9 612.78 457.4 613.30 457.9 613.94 458.4 614.50 458.9 614.87 459.4 615.07 L459.7 615.2 Z" fill="#f8a031"/>
<line x1="131.4" y1="615.2" x2="459.7" y2="615.2" stroke="#f8a031" stroke-width="0.8"/>
<path d="M131.4 632.3 L131.4 632.30 131.9 632.30 132.4 632.30 132.9 632.30 133.4 632.30 133.9 632.30 134.4 632.30 134.9 632.30 135.4 632.30 135.9 632.30 136.4 632.30 136.9 632.30 137.4 632.30 137.9 632.30 138.4 632.30 138.9 632.30 139.4 632.30 139.9 632.30 140.4 632.30 140.9 632.30 141.4 632.30 141.9 632.30 142.4 632.30 142.9 632.30 143.4 632.30 143.9 632.30 144.4 632.30 144.9 632.30 145.4 632.30 145.9 632.30 146.4 632.30 146.9 632.30 147.4 632.30 147.9 632.30 148.4 632.30 148.9 632.30 149.4 632.30 149.9 632.30 150.4 632.30 150.9 632.29 151.4 632.19 151.9 631.83 152.4 631.36 152.9 631.43 153.4 631.93 153.9 632.23 154.4 632.29 154.9 632.27 155.4 632.07 155.9 631.45 156.4 630.82 156.9 631.13 157.4 631.88 157.9 632.23 158.4 632.29 158.9 632.30 159.4 632.30 159.9 632.30 160.4 632.30 160.9 632.30 161.4 632.30 161.9 632.30 162.4 632.30 162.9 632.30 163.4 632.30 163.9 632.30 164.4 632.30 164.9 632.30 165.4 632.29 165.9 632.24 166.4 632.10 166.9 631.74 167.4 631.02 167.9 629.96 168.4 628.89 168.9 628.32 169.4 628.57 169.9 629.51 170.4 629.67 170.9 628.47 171.4 627.82 171.9 628.11 172.4 629.16 172.9 630.42 173.4 631.40 173.9 631.95 174.4 632.19 174.9 632.27 175.4 632.29 175.9 632.30 176.4 632.30 176.9 632.27 177.4 632.11 177.9 631.42 178.4 629.61 178.9 626.88 179.4 625.06 179.9 625.90 180.4 628.56 180.9 630.86 181.4 631.93 181.9 632.24 182.4 632.29 182.9 632.30 183.4 632.30 183.9 632.27 184.4 632.07 184.9 631.45 185.4 630.82 185.9 631.13 186.4 631.88 186.9 632.23 187.4 632.29 187.9 632.30 188.4 632.30 188.9 632.30 189.4 632.30 189.9 632.30 190.4 632.30 190.9 632.30 191.4 632.30 191.9 632.30 192.4 632.30 192.9 632.30 193.4 632.30 193.9 632.30 194.4 632.30 194.9 632.30 195.4 632.30 195.9 632.30 196.4 632.30 196.9 632.30 197.4 632.30 197.9 632.30 198.4 632.30 198.9 632.30 199.4 632.30 199.9 632.30 200.4 632.30 200.9 632.30 201.4 632.30 201.9 632.30 202.4 632.30 202.9 632.30 203.4 632.30 203.9 632.30 204.4 632.30 204.9 632.30 205.4 632.30 205.9 632.30 206.4 632.30 206.9 632.30 207.4 632.30 207.9 632.30 208.4 632.30 208.9 632.30 209.4 632.30 209.9 632.30 210.4 632.30 210.9 632.30 211.4 632.30 211.9 632.30 212.4 632.30 212.9 632.30 213.4 632.30 213.9 632.30 214.4 632.30 214.9 632.30 215.4 632.30 215.9 632.30 216.4 632.30 216.9 632.30 217.4 632.30 217.9 632.30 218.4 632.30 218.9 632.29 219.4 632.24 219.9 632.10 220.4 631.74 220.9 631.02 221.4 629.96 221.9 628.89 222.4 628.32 222.9 628.57 223.4 629.51 223.9 628.87 224.4 627.52 224.9 626.82 225.4 627.13 225.9 628.29 226.4 629.74 226.9 629.91 227.4 628.25 227.9 626.65 228.4 625.83 228.9 626.19 229.4 627.56 229.9 629.28 230.4 628.41 230.9 627.33 231.4 627.83 231.9 629.45 232.4 631.02 232.9 631.89 233.4 632.21 233.9 632.29 234.4 632.20 234.9 631.64 235.4 629.74 235.9 626.30 236.4 623.79 236.9 624.97 237.4 628.47 237.9 631.09 238.4 632.07 238.9 632.27 239.4 632.30 239.9 632.30 240.4 632.30 240.9 632.30 241.4 632.30 241.9 632.30 242.4 632.30 242.9 632.30 243.4 632.30 243.9 632.30 244.4 632.30 244.9 632.30 245.4 632.30 245.9 632.30 246.4 632.30 246.9 632.30 247.4 632.30 247.9 632.30 248.4 632.30 248.9 632.30 249.4 632.30 249.9 632.30 250.4 632.30 250.9 632.30 251.4 632.30 251.9 632.30 252.4 632.30 252.9 632.30 253.4 632.30 253.9 632.30 254.4 632.30 254.9 632.30 255.4 632.30 255.9 632.30 256.4 632.30 256.9 632.30 257.4 632.30 257.9 632.30 258.4 632.30 258.9 632.30 259.4 632.30 259.9 632.30 260.4 632.30 260.9 632.30 261.4 632.30 261.9 632.30 262.4 632.30 262.9 632.30 263.4 632.30 263.9 632.30 264.4 632.30 264.9 632.30 265.4 632.30 265.9 632.30 266.4 632.30 266.9 632.30 267.4 632.30 267.9 632.30 268.4 632.30 268.9 632.30 269.4 632.30 269.9 632.30 270.4 632.30 270.9 632.30 271.4 632.30 271.9 632.30 272.4 632.30 272.9 632.30 273.4 632.30 273.9 632.30 274.4 632.30 274.9 632.30 275.4 632.30 275.9 632.30 276.4 632.30 276.9 632.30 277.4 632.30 277.9 632.30 278.4 632.30 278.9 632.30 279.4 632.30 279.9 632.30 280.4 632.30 280.9 632.30 281.4 632.30 281.9 632.30 282.4 632.30 282.9 632.30 283.4 632.30 283.9 632.30 284.4 632.30 284.9 632.30 285.4 632.30 285.9 632.30 286.4 632.30 286.9 632.30 287.4 632.30 287.9 632.30 288.4 632.30 288.9 632.30 289.4 632.30 289.9 632.30 290.4 632.30 290.9 632.30 291.4 632.30 291.9 632.30 292.4 632.30 292.9 632.30 293.4 632.30 293.9 632.30 294.4 632.30 294.9 632.30 295.4 632.30 295.9 632.30 296.4 632.30 296.9 632.30 297.4 632.30 297.9 632.30 298.4 632.30 298.9 632.30 299.4 632.30 299.9 632.30 300.4 632.30 300.9 632.30 301.4 632.30 301.9 632.30 302.4 632.30 302.9 632.29 303.4 632.19 303.9 631.56 304.4 630.46 304.9 630.64 305.4 631.76 305.9 632.24 306.4 632.30 306.9 632.30 307.4 632.30 307.9 632.30 308.4 632.30 308.9 632.30 309.4 632.30 309.9 632.30 310.4 632.30 310.9 632.30 311.4 632.30 311.9 632.30 312.4 632.30 312.9 632.30 313.4 632.30 313.9 632.30 314.4 632.30 314.9 632.30 315.4 632.30 315.9 632.30 316.4 632.30 316.9 632.30 317.4 632.30 317.9 632.30 318.4 632.30 318.9 632.30 319.4 632.30 319.9 632.30 320.4 632.30 320.9 632.30 321.4 632.30 321.9 632.30 322.4 632.30 322.9 632.30 323.4 632.30 323.9 632.30 324.4 632.30 324.9 632.30 325.4 632.30 325.9 632.30 326.4 632.30 326.9 632.30 327.4 632.30 327.9 632.30 328.4 632.30 328.9 632.30 329.4 632.30 329.9 632.30 330.4 632.30 330.9 632.30 331.4 632.30 331.9 632.30 332.4 632.30 332.9 632.30 333.4 632.30 333.9 632.30 334.4 632.30 334.9 632.30 335.4 632.30 335.9 632.30 336.4 632.30 336.9 632.30 337.4 632.30 337.9 632.30 338.4 632.30 338.9 632.30 339.4 632.30 339.9 632.30 340.4 632.30 340.9 632.30 341.4 632.30 341.9 632.30 342.4 632.30 342.9 632.30 343.4 632.30 343.9 632.30 344.4 632.30 344.9 632.30 345.4 632.30 345.9 632.30 346.4 632.30 346.9 632.30 347.4 632.30 347.9 632.30 348.4 632.30 348.9 632.30 349.4 632.30 349.9 632.30 350.4 632.30 350.9 632.30 351.4 632.30 351.9 632.30 352.4 632.30 352.9 632.30 353.4 632.30 353.9 632.30 354.4 632.30 354.9 632.30 355.4 632.30 355.9 632.30 356.4 632.30 356.9 632.30 357.4 632.30 357.9 632.30 358.4 632.30 358.9 632.29 359.4 632.15 359.9 631.09 360.4 627.74 360.9 624.42 361.4 626.07 361.9 630.04 362.4 631.93 362.9 632.27 363.4 632.30 363.9 632.30 364.4 632.30 364.9 632.30 365.4 632.30 365.9 632.30 366.4 632.30 366.9 632.27 367.4 631.88 367.9 629.76 368.4 625.29 368.9 623.44 369.4 627.17 369.9 630.94 370.4 632.14 370.9 632.29 371.4 632.30 371.9 632.30 372.4 632.30 372.9 632.30 373.4 632.26 373.9 632.00 374.4 631.16 374.9 630.33 375.4 630.74 375.9 631.74 376.4 632.21 376.9 632.29 377.4 632.30 377.9 632.30 378.4 632.30 378.9 632.30 379.4 632.30 379.9 632.30 380.4 632.30 380.9 632.30 381.4 632.30 381.9 632.30 382.4 632.30 382.9 632.30 383.4 632.30 383.9 632.30 384.4 632.30 384.9 632.30 385.4 632.30 385.9 632.30 386.4 632.29 386.9 632.14 387.4 630.94 387.9 627.17 388.4 623.44 388.9 625.29 389.4 629.76 389.9 631.88 390.4 632.27 390.9 632.30 391.4 632.30 391.9 632.30 392.4 632.30 392.9 632.30 393.4 632.26 393.9 632.00 394.4 631.16 394.9 630.33 395.4 630.74 395.9 631.74 396.4 632.21 396.9 632.29 397.4 632.30 397.9 632.30 398.4 632.30 398.9 632.30 399.4 632.30 399.9 632.30 400.4 632.30 400.9 632.30 401.4 632.30 401.9 632.30 402.4 632.30 402.9 632.30 403.4 632.30 403.9 632.30 404.4 632.30 404.9 632.30 405.4 632.29 405.9 632.17 406.4 631.24 406.9 628.31 407.4 625.41 407.9 626.85 408.4 630.33 408.9 631.97 409.4 632.28 409.9 632.30 410.4 632.30 410.9 632.30 411.4 632.30 411.9 632.30 412.4 632.30 412.9 632.30 413.4 632.30 413.9 632.30 414.4 632.30 414.9 632.30 415.4 632.30 415.9 632.30 416.4 632.30 416.9 632.30 417.4 632.30 417.9 632.30 418.4 632.30 418.9 632.30 419.4 632.30 419.9 632.30 420.4 632.30 420.9 632.30 421.4 632.30 421.9 632.30 422.4 632.30 422.9 632.30 423.4 632.30 423.9 632.30 424.4 632.30 424.9 632.30 425.4 632.30 425.9 632.30 426.4 632.30 426.9 632.30 427.4 632.30 427.9 632.30 428.4 632.30 428.9 632.30 429.4 632.30 429.9 632.30 430.4 632.30 430.9 632.30 431.4 632.30 431.9 632.26 432.4 631.87 432.9 630.09 433.4 627.09 433.9 626.66 434.4 629.51 434.9 631.67 435.4 632.23 435.9 632.30 436.4 632.30 436.9 632.30 437.4 632.30 437.9 632.30 438.4 632.30 438.9 632.30 439.4 632.30 439.9 632.30 440.4 632.30 440.9 632.30 441.4 632.30 441.9 632.30 442.4 632.30 442.9 632.30 443.4 632.30 443.9 632.30 444.4 632.30 444.9 632.30 445.4 632.30 445.9 632.30 446.4 632.30 446.9 632.30 447.4 632.30 447.9 632.30 448.4 632.30 448.9 632.30 449.4 632.30 449.9 632.30 450.4 632.28 450.9 632.15 451.4 631.73 451.9 631.32 452.4 631.52 452.9 632.02 453.4 632.25 453.9 632.30 454.4 632.30 454.9 632.30 455.4 632.30 455.9 632.30 456.4 632.30 456.9 632.30 457.4 632.30 457.9 632.30 458.4 632.30 458.9 632.30 459.4 632.30 L459.7 632.3 Z" fill="#3b80c4"/>
<path d="M131.4 632.3 L131.4 632.30 131.9 632.30 132.4 632.30 132.9 632.30 133.4 632.30 133.9 632.30 134.4 632.30 134.9 632.30 135.4 632.30 135.9 632.30 136.4 632.30 136.9 632.30 137.4 632.30 137.9 632.30 138.4 632.30 138.9 632.30 139.4 632.30 139.9 632.30 140.4 632.30 140.9 632.30 141.4 632.30 141.9 632.30 142.4 632.30 142.9 632.30 143.4 632.30 143.9 632.30 144.4 632.30 144.9 632.30 145.4 632.30 145.9 632.30 146.4 632.30 146.9 632.30 147.4 632.30 147.9 632.30 148.4 632.30 148.9 632.30 149.4 632.30 149.9 632.30 150.4 632.30 150.9 632.29 151.4 632.19 151.9 631.83 152.4 631.36 152.9 631.43 153.4 631.93 153.9 632.23 154.4 632.29 154.9 632.28 155.4 632.12 155.9 631.62 156.4 631.12 156.9 631.37 157.4 631.96 157.9 632.24 158.4 632.30 158.9 632.30 159.4 632.30 159.9 632.28 160.4 632.21 160.9 631.96 161.4 631.44 161.9 630.74 162.4 630.31 162.9 630.51 163.4 631.16 163.9 631.79 164.4 632.14 164.9 632.26 165.4 632.29 165.9 632.30 166.4 632.29 166.9 632.27 167.4 632.18 167.9 631.95 168.4 631.50 168.9 630.84 169.4 630.17 169.9 629.81 170.4 629.97 170.9 630.56 171.4 631.25 171.9 631.80 172.4 632.11 172.9 631.55 173.4 630.56 173.9 629.82 174.4 630.17 174.9 631.19 175.4 631.95 175.9 632.23 176.4 632.29 176.9 632.29 177.4 632.20 177.9 631.82 178.4 630.83 178.9 629.33 179.4 628.33 179.9 628.80 180.4 630.25 180.9 631.51 181.4 632.10 181.9 632.27 182.4 632.30 182.9 632.30 183.4 632.30 183.9 632.27 184.4 632.07 184.9 631.45 185.4 630.82 185.9 631.13 186.4 631.88 186.9 632.23 187.4 632.28 187.9 632.15 188.4 631.73 188.9 631.32 189.4 631.52 189.9 632.02 190.4 632.25 190.9 632.30 191.4 632.30 191.9 632.30 192.4 632.30 192.9 632.30 193.4 632.30 193.9 632.30 194.4 632.30 194.9 632.30 195.4 632.30 195.9 632.30 196.4 632.30 196.9 632.30 197.4 632.30 197.9 632.30 198.4 632.30 198.9 632.30 199.4 632.30 199.9 632.30 200.4 632.30 200.9 632.30 201.4 632.30 201.9 632.30 202.4 632.30 202.9 632.30 203.4 632.30 203.9 632.30 204.4 632.30 204.9 632.30 205.4 632.30 205.9 632.30 206.4 632.30 206.9 632.30 207.4 632.30 207.9 632.30 208.4 632.30 208.9 632.30 209.4 632.30 209.9 632.30 210.4 632.30 210.9 632.30 211.4 632.30 211.9 632.30 212.4 632.30 212.9 632.30 213.4 632.30 213.9 632.30 214.4 632.30 214.9 632.30 215.4 632.30 215.9 632.30 216.4 632.30 216.9 632.30 217.4 632.29 217.9 632.26 218.4 632.20 218.9 632.07 219.4 631.84 219.9 631.47 220.4 630.98 220.9 630.45 221.4 630.02 221.9 629.81 222.4 629.90 222.9 630.26 223.4 630.77 223.9 631.29 224.4 630.72 224.9 630.08 225.4 629.56 225.9 629.31 226.4 629.42 226.9 629.85 227.4 630.46 227.9 631.08 228.4 630.72 228.9 630.08 229.4 629.56 229.9 629.31 230.4 629.42 230.9 629.85 231.4 630.46 231.9 631.08 232.4 631.59 232.9 631.93 233.4 632.13 233.9 632.17 234.4 631.86 234.9 631.16 235.4 630.03 235.9 628.80 236.4 628.12 236.9 628.43 237.4 629.52 237.9 630.75 238.4 631.63 238.9 632.08 239.4 632.24 239.9 632.29 240.4 632.30 240.9 632.30 241.4 632.30 241.9 632.30 242.4 632.30 242.9 632.30 243.4 632.30 243.9 632.30 244.4 632.30 244.9 632.30 245.4 632.30 245.9 632.30 246.4 632.30 246.9 632.30 247.4 632.30 247.9 632.30 248.4 632.30 248.9 632.30 249.4 632.30 249.9 632.30 250.4 632.30 250.9 632.30 251.4 632.30 251.9 632.30 252.4 632.30 252.9 632.30 253.4 632.30 253.9 632.30 254.4 632.30 254.9 632.30 255.4 632.30 255.9 632.30 256.4 632.30 256.9 632.30 257.4 632.30 257.9 632.30 258.4 632.30 258.9 632.30 259.4 632.30 259.9 632.30 260.4 632.30 260.9 632.30 261.4 632.30 261.9 632.30 262.4 632.30 262.9 632.30 263.4 632.30 263.9 632.30 264.4 632.30 264.9 632.30 265.4 632.30 265.9 632.30 266.4 632.30 266.9 632.30 267.4 632.30 267.9 632.30 268.4 632.30 268.9 632.30 269.4 632.30 269.9 632.30 270.4 632.30 270.9 632.30 271.4 632.30 271.9 632.30 272.4 632.30 272.9 632.30 273.4 632.30 273.9 632.30 274.4 632.30 274.9 632.30 275.4 632.30 275.9 632.30 276.4 632.30 276.9 632.30 277.4 632.30 277.9 632.30 278.4 632.30 278.9 632.30 279.4 632.30 279.9 632.30 280.4 632.30 280.9 632.30 281.4 632.30 281.9 632.30 282.4 632.30 282.9 632.30 283.4 632.30 283.9 632.30 284.4 632.30 284.9 632.30 285.4 632.30 285.9 632.30 286.4 632.30 286.9 632.30 287.4 632.30 287.9 632.30 288.4 632.30 288.9 632.30 289.4 632.30 289.9 632.30 290.4 632.30 290.9 632.30 291.4 632.30 291.9 632.30 292.4 632.30 292.9 632.30 293.4 632.30 293.9 632.30 294.4 632.30 294.9 632.30 295.4 632.30 295.9 632.30 296.4 632.30 296.9 632.30 297.4 632.30 297.9 632.30 298.4 632.30 298.9 632.30 299.4 632.30 299.9 632.30 300.4 632.30 300.9 632.30 301.4 632.30 301.9 632.30 302.4 632.30 302.9 632.28 303.4 632.14 303.9 631.60 304.4 630.89 304.9 631.00 305.4 631.75 305.9 632.19 306.4 632.29 306.9 632.30 307.4 632.30 307.9 632.30 308.4 632.30 308.9 632.30 309.4 632.30 309.9 632.30 310.4 632.30 310.9 632.30 311.4 632.30 311.9 632.30 312.4 632.30 312.9 632.30 313.4 632.30 313.9 632.30 314.4 632.30 314.9 632.30 315.4 632.30 315.9 632.30 316.4 632.30 316.9 632.30 317.4 632.30 317.9 632.30 318.4 632.30 318.9 632.30 319.4 632.30 319.9 632.30 320.4 632.30 320.9 632.30 321.4 632.30 321.9 632.30 322.4 632.30 322.9 632.30 323.4 632.30 323.9 632.30 324.4 632.30 324.9 632.30 325.4 632.30 325.9 632.30 326.4 632.30 326.9 632.30 327.4 632.30 327.9 632.30 328.4 632.30 328.9 632.30 329.4 632.30 329.9 632.30 330.4 632.30 330.9 632.30 331.4 632.30 331.9 632.30 332.4 632.30 332.9 632.30 333.4 632.30 333.9 632.30 334.4 632.30 334.9 632.30 335.4 632.30 335.9 632.30 336.4 632.30 336.9 632.30 337.4 632.30 337.9 632.30 338.4 632.30 338.9 632.30 339.4 632.30 339.9 632.30 340.4 632.30 340.9 632.30 341.4 632.30 341.9 632.30 342.4 632.30 342.9 632.30 343.4 632.30 343.9 632.30 344.4 632.30 344.9 632.30 345.4 632.30 345.9 632.30 346.4 632.30 346.9 632.30 347.4 632.30 347.9 632.30 348.4 632.30 348.9 632.30 349.4 632.30 349.9 632.30 350.4 632.30 350.9 632.30 351.4 632.30 351.9 632.30 352.4 632.30 352.9 632.30 353.4 632.30 353.9 632.30 354.4 632.30 354.9 632.30 355.4 632.30 355.9 632.30 356.4 632.30 356.9 632.30 357.4 632.30 357.9 632.30 358.4 632.29 358.9 632.23 359.4 631.84 359.9 630.51 360.4 628.11 360.9 626.36 361.4 627.19 361.9 629.63 362.4 631.45 362.9 631.22 363.4 630.35 363.9 629.82 364.4 630.06 364.9 630.88 365.4 631.66 365.9 632.10 366.4 632.25 366.9 632.14 367.4 631.45 367.9 629.63 368.4 627.19 368.9 626.36 369.4 628.11 369.9 630.51 370.4 631.84 370.9 631.44 371.4 630.74 371.9 630.31 372.4 630.51 372.9 631.16 373.4 631.79 373.9 631.85 374.4 631.25 374.9 630.81 375.4 631.02 375.9 631.63 376.4 632.09 376.9 632.26 377.4 632.30 377.9 632.30 378.4 632.30 378.9 632.30 379.4 632.30 379.9 632.30 380.4 632.30 380.9 632.30 381.4 632.30 381.9 632.30 382.4 632.30 382.9 632.30 383.4 632.30 383.9 632.30 384.4 632.30 384.9 632.30 385.4 632.30 385.9 632.29 386.4 632.24 386.9 631.91 387.4 630.81 387.9 628.81 388.4 627.35 388.9 628.04 389.4 630.08 389.9 631.60 390.4 630.90 390.9 630.32 391.4 630.60 391.9 631.41 392.4 632.02 392.9 632.25 393.4 632.18 393.9 631.85 394.4 631.25 394.9 630.81 395.4 631.02 395.9 631.63 396.4 632.09 396.9 632.26 397.4 632.30 397.9 632.30 398.4 632.30 398.9 632.30 399.4 632.30 399.9 632.30 400.4 632.30 400.9 632.30 401.4 632.30 401.9 632.30 402.4 632.30 402.9 632.30 403.4 632.30 403.9 632.30 404.4 632.30 404.9 632.30 405.4 632.25 405.9 631.99 406.4 631.11 406.9 629.51 407.4 628.34 407.9 628.89 408.4 630.52 408.9 631.74 409.4 632.18 409.9 631.85 410.4 631.25 410.9 630.81 411.4 631.02 411.9 631.63 412.4 632.09 412.9 632.26 413.4 632.30 413.9 632.30 414.4 632.30 414.9 632.30 415.4 632.30 415.9 632.30 416.4 632.30 416.9 632.30 417.4 632.30 417.9 632.29 418.4 632.22 418.9 632.00 419.4 631.60 419.9 631.31 420.4 631.45 420.9 631.86 421.4 632.16 421.9 632.27 422.4 632.30 422.9 632.30 423.4 632.30 423.9 632.30 424.4 632.30 424.9 632.30 425.4 632.30 425.9 632.30 426.4 632.30 426.9 632.30 427.4 632.30 427.9 632.30 428.4 632.30 428.9 632.30 429.4 632.30 429.9 632.30 430.4 632.30 430.9 632.30 431.4 632.28 431.9 632.18 432.4 631.75 432.9 630.72 433.4 629.56 433.9 629.42 434.4 630.46 434.9 631.59 435.4 632.13 435.9 632.28 436.4 632.30 436.9 632.30 437.4 632.30 437.9 632.29 438.4 632.22 438.9 632.00 439.4 631.60 439.9 631.31 440.4 631.45 440.9 631.86 441.4 632.16 441.9 632.27 442.4 632.30 442.9 632.30 443.4 632.30 443.9 632.30 444.4 632.30 444.9 632.30 445.4 632.30 445.9 632.30 446.4 632.30 446.9 632.30 447.4 632.30 447.9 632.30 448.4 632.30 448.9 632.30 449.4 632.30 449.9 632.30 450.4 632.30 450.9 632.30 451.4 632.30 451.9 632.30 452.4 632.30 452.9 632.30 453.4 632.30 453.9 632.30 454.4 632.30 454.9 632.30 455.4 632.30 455.9 632.30 456.4 632.30 456.9 632.30 457.4 632.30 457.9 632.30 458.4 632.30 458.9 632.30 459.4 632.30 L459.7 632.3 Z" fill="#ec1c24"/>
<line x1="131.4" y1="632.3" x2="459.7" y2="632.3" stroke="#f05a60" stroke-width="0.9"/>
<rect x="353.9" y="512.9" width="90.5" height="132.4" rx="1.5" fill="none" stroke="#333" stroke-width="1.1" stroke-dasharray="3.6 2.4"/>
<text x="366.6" y="642.3" font-size="7.8" fill="#222" text-anchor="middle" textLength="13.6" lengthAdjust="spacingAndGlyphs" stroke="#222" stroke-width="0.22">HS1</text>
<text x="388.5" y="642.3" font-size="7.8" fill="#222" text-anchor="middle" textLength="13.6" lengthAdjust="spacingAndGlyphs" stroke="#222" stroke-width="0.22">HS2</text>
<text x="407" y="642.3" font-size="7.8" fill="#222" text-anchor="middle" textLength="13.6" lengthAdjust="spacingAndGlyphs" stroke="#222" stroke-width="0.22">HS3</text>
<text x="432.4" y="642.3" font-size="7.8" fill="#222" text-anchor="middle" textLength="13.6" lengthAdjust="spacingAndGlyphs" stroke="#222" stroke-width="0.22">HS4</text>
<rect x="0.5" y="0.5" width="519" height="652" fill="none" stroke="#000" stroke-width="1"/>
</svg></body></html>
